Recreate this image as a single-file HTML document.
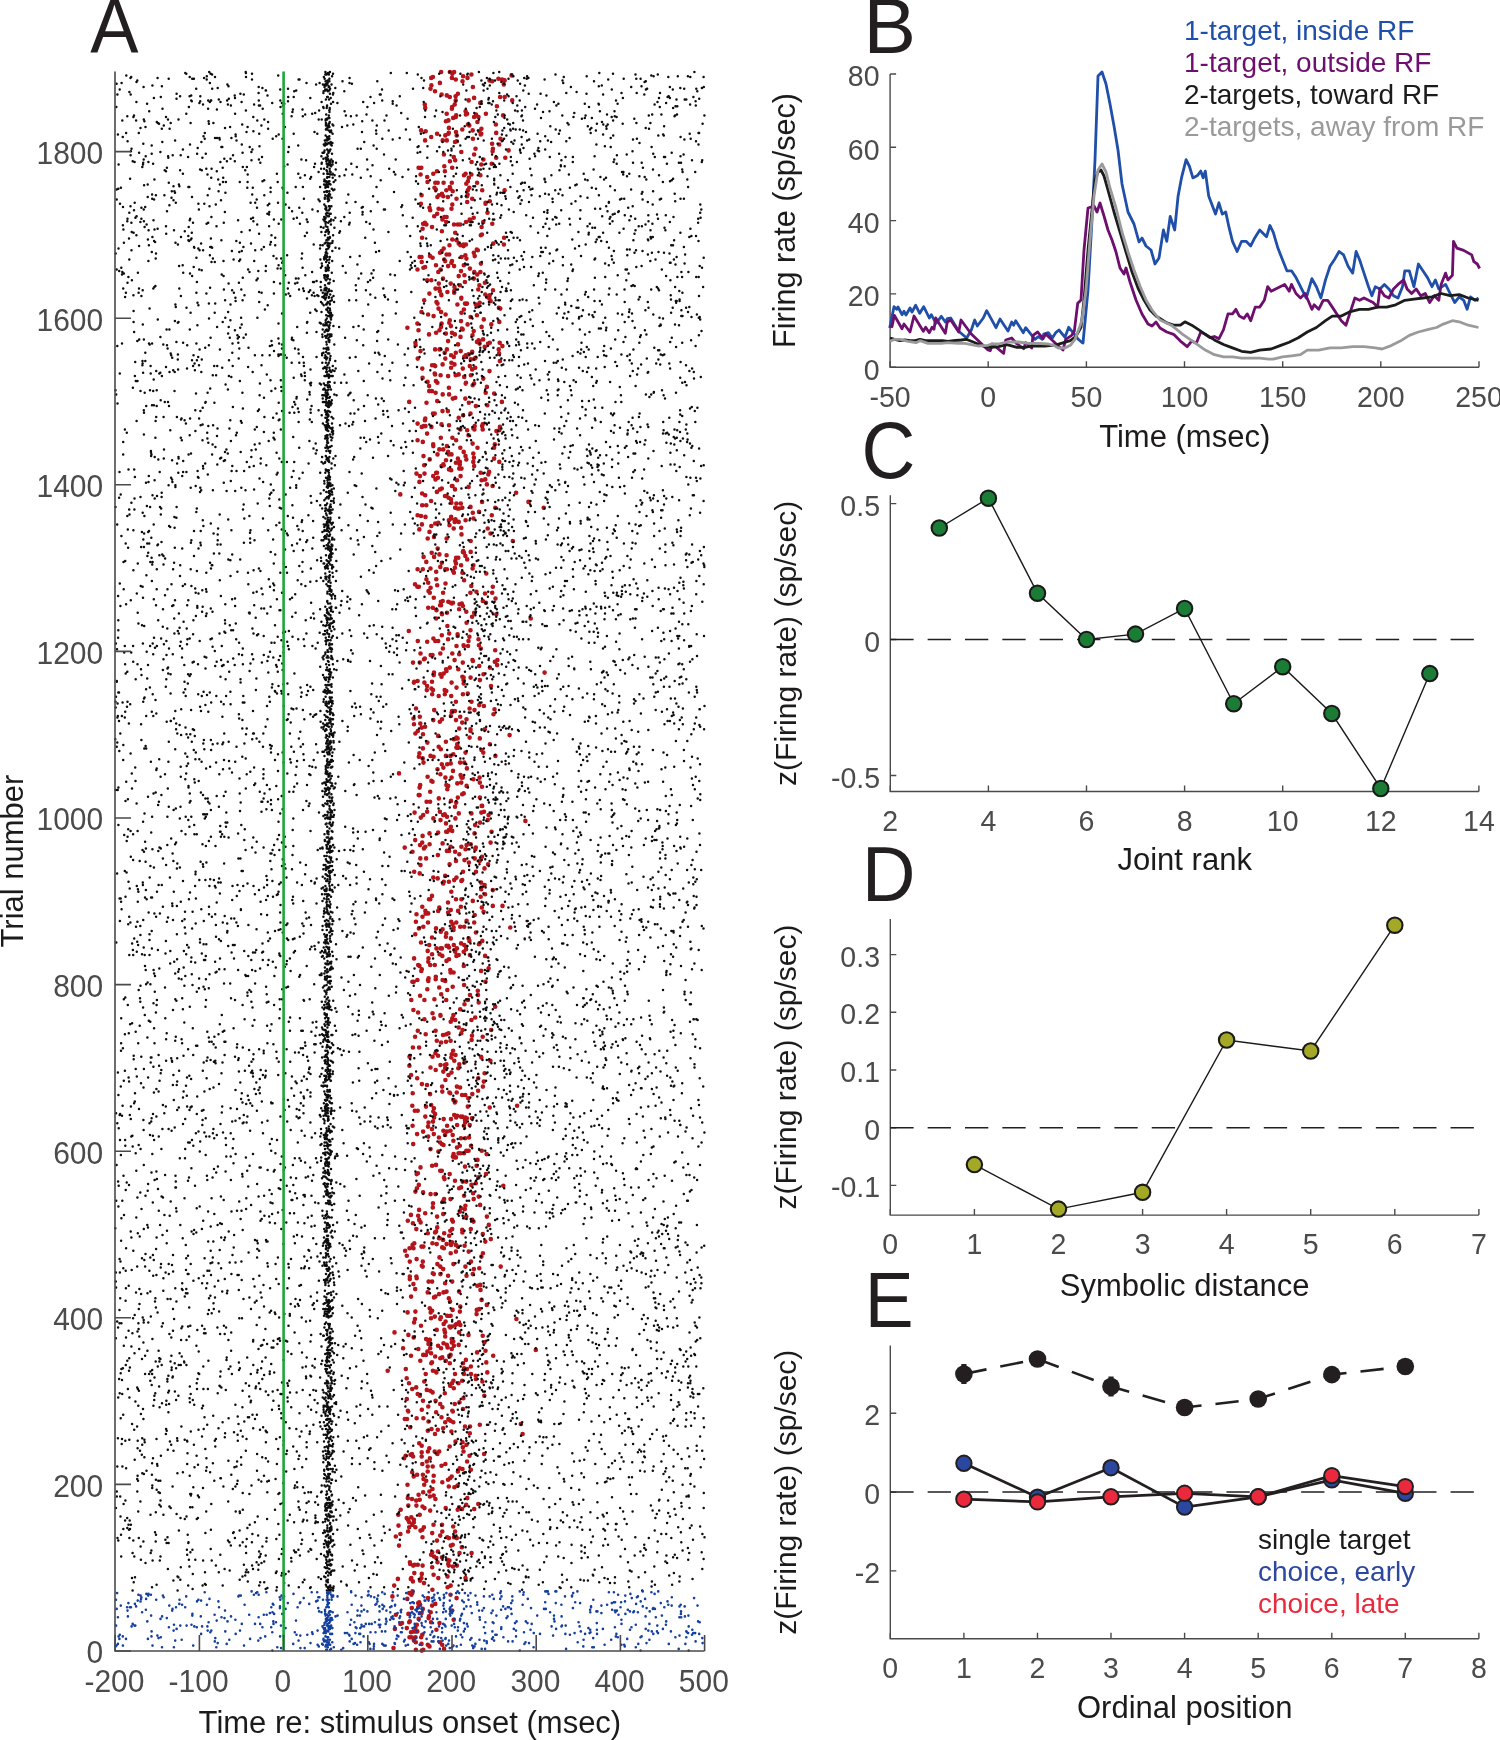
<!DOCTYPE html>
<html><head><meta charset="utf-8"><style>
html,body{margin:0;padding:0;background:#fff;width:1500px;height:1740px;overflow:hidden}
svg text{font-family:"Liberation Sans",sans-serif}
svg{will-change:transform}
</style></head><body>
<svg width="1500" height="1740" viewBox="0 0 1500 1740" style="position:absolute;left:0;top:0"><rect width="1500" height="1740" fill="#fff"/><path d="M421.8 1650.6h0M415.9 1649.8h0M423.3 1649.8h0M444.1 1648.9h0M393.5 1648.1h0M429.5 1646.4h0M442.2 1644.8h0M427.8 1644.8h0M421.5 1643.9h0M415.8 1642.3h0M440.0 1642.3h0M413.9 1640.6h0M409.5 1637.3h0M421.2 1637.3h0M415.5 1637.3h0M411.5 1637.3h0M422.3 1634.8h0M411.0 1632.3h0M417.3 1631.4h0M415.2 1631.4h0M413.6 1631.4h0M436.4 1629.8h0M394.9 1628.9h0M406.8 1628.1h0M415.4 1628.1h0M416.8 1624.8h0M400.4 1623.9h0M402.0 1623.1h0M439.5 1623.1h0M431.1 1622.3h0M409.2 1622.3h0M409.8 1621.4h0M453.7 1619.8h0M418.7 1618.9h0M428.6 1618.1h0M428.9 1616.4h0M395.9 1614.8h0M408.4 1613.9h0M421.5 1613.1h0M430.7 1612.3h0M452.0 1610.6h0M422.8 1608.9h0M411.8 1608.1h0M418.2 1607.3h0M432.1 1605.6h0M420.1 1604.8h0M435.3 1603.9h0M418.2 1603.1h0M419.2 1602.3h0M407.3 1598.9h0M456.6 1598.1h0M428.0 1598.1h0M392.4 1596.4h0M450.5 1594.8h0M411.4 1594.8h0M409.2 1593.1h0M412.3 1593.1h0M412.5 1591.4h0M432.4 1589.8h0M447.6 1587.3h0M450.7 1585.6h0M394.2 1585.6h0M424.0 1583.1h0M412.9 1581.4h0M420.0 1580.6h0M410.8 1578.9h0M397.9 1578.9h0M411.3 1578.1h0M421.4 1578.1h0M465.5 1578.1h0M438.3 1578.1h0M447.5 1576.4h0M433.6 1574.8h0M421.8 1573.9h0M414.3 1573.1h0M432.2 1567.3h0M452.9 1566.5h0M456.9 1565.6h0M413.2 1565.6h0M422.6 1565.6h0M448.7 1565.6h0M414.6 1564.8h0M417.8 1564.8h0M410.2 1564.0h0M448.2 1564.0h0M409.9 1562.3h0M437.5 1562.3h0M449.4 1560.6h0M447.4 1559.8h0M436.3 1558.1h0M442.0 1557.3h0M434.0 1556.5h0M431.1 1554.8h0M459.5 1553.1h0M471.6 1553.1h0M432.2 1552.3h0M437.9 1551.5h0M461.8 1547.3h0M399.0 1545.6h0M450.8 1545.6h0M452.7 1544.8h0M437.0 1540.6h0M448.9 1538.1h0M456.8 1538.1h0M422.5 1537.3h0M447.2 1537.3h0M454.0 1537.3h0M395.8 1536.5h0M440.2 1535.6h0M400.4 1534.0h0M432.2 1533.1h0M442.3 1531.5h0M455.1 1531.5h0M408.1 1531.5h0M420.5 1530.6h0M422.3 1529.8h0M423.9 1527.3h0M415.4 1527.3h0M409.2 1527.3h0M453.2 1526.5h0M398.5 1525.6h0M433.5 1524.8h0M442.0 1524.8h0M412.4 1524.8h0M413.9 1522.3h0M409.2 1522.3h0M413.9 1519.8h0M407.8 1519.8h0M406.7 1518.1h0M411.3 1517.3h0M398.3 1514.8h0M419.7 1514.8h0M430.2 1510.6h0M457.7 1509.8h0M400.7 1509.8h0M462.1 1509.0h0M474.2 1509.0h0M445.7 1508.1h0M424.5 1508.1h0M459.1 1507.3h0M422.5 1506.5h0M416.4 1505.6h0M408.3 1505.6h0M466.2 1504.8h0M478.3 1504.0h0M416.2 1500.6h0M419.7 1499.8h0M412.0 1499.0h0M435.4 1499.0h0M407.8 1498.1h0M467.3 1498.1h0M429.9 1496.5h0M433.7 1495.6h0M418.6 1494.8h0M423.2 1492.3h0M429.4 1491.5h0M432.5 1489.0h0M454.4 1487.3h0M448.8 1486.5h0M457.6 1485.6h0M407.5 1484.8h0M424.2 1484.8h0M442.3 1482.3h0M433.3 1481.5h0M426.2 1480.7h0M448.0 1479.8h0M423.5 1479.0h0M450.0 1478.2h0M413.7 1476.5h0M451.7 1476.5h0M433.7 1475.7h0M417.1 1474.8h0M422.9 1474.8h0M412.2 1472.3h0M457.9 1471.5h0M427.7 1471.5h0M470.9 1469.8h0M462.5 1469.0h0M459.7 1468.2h0M432.7 1466.5h0M427.7 1466.5h0M441.5 1465.7h0M422.3 1464.0h0M445.4 1464.0h0M426.8 1461.5h0M467.1 1461.5h0M429.9 1458.2h0M404.2 1458.2h0M421.7 1456.5h0M413.1 1456.5h0M405.6 1455.7h0M469.5 1455.7h0M410.5 1454.8h0M411.9 1454.0h0M484.1 1454.0h0M437.4 1454.0h0M421.7 1452.3h0M463.5 1451.5h0M427.9 1451.5h0M434.7 1451.5h0M439.2 1451.5h0M429.3 1448.2h0M462.8 1447.3h0M449.7 1446.5h0M421.7 1445.7h0M466.5 1444.8h0M419.2 1443.2h0M462.5 1442.3h0M455.5 1441.5h0M435.0 1434.0h0M522.6 1434.0h0M469.8 1433.2h0M451.4 1431.5h0M427.8 1430.7h0M437.8 1429.8h0M431.5 1429.0h0M443.2 1428.2h0M410.2 1427.3h0M470.0 1426.5h0M465.0 1426.5h0M479.8 1424.8h0M520.8 1424.0h0M445.2 1422.3h0M453.3 1422.3h0M428.5 1421.5h0M450.5 1420.7h0M449.1 1419.8h0M407.0 1419.0h0M448.4 1419.0h0M404.8 1419.0h0M423.4 1418.2h0M416.6 1418.2h0M441.5 1417.3h0M436.1 1412.3h0M408.2 1411.5h0M452.8 1411.5h0M452.3 1410.7h0M407.9 1410.7h0M421.8 1409.8h0M463.0 1409.0h0M442.4 1407.3h0M428.3 1406.5h0M440.2 1404.0h0M454.8 1404.0h0M459.5 1402.3h0M435.6 1400.7h0M423.0 1400.7h0M406.8 1399.0h0M463.4 1398.2h0M484.3 1395.7h0M419.9 1395.7h0M417.7 1394.0h0M444.8 1393.2h0M432.6 1392.4h0M430.3 1390.7h0M426.8 1389.9h0M412.2 1389.0h0M453.8 1388.2h0M416.2 1387.4h0M450.1 1385.7h0M409.0 1383.2h0M458.4 1383.2h0M452.0 1383.2h0M482.4 1381.5h0M424.3 1381.5h0M462.2 1380.7h0M453.4 1380.7h0M475.9 1379.0h0M406.7 1378.2h0M475.7 1375.7h0M425.7 1374.0h0M464.0 1374.0h0M471.0 1374.0h0M455.0 1374.0h0M436.4 1372.4h0M487.3 1372.4h0M436.1 1371.5h0M432.9 1370.7h0M387.7 1370.7h0M405.8 1369.0h0M467.0 1369.0h0M464.1 1368.2h0M470.9 1366.5h0M431.3 1363.2h0M449.8 1363.2h0M463.0 1363.2h0M486.3 1362.4h0M432.0 1362.4h0M445.8 1360.7h0M420.3 1360.7h0M465.9 1359.9h0M440.3 1358.2h0M442.3 1357.4h0M449.6 1356.5h0M435.2 1356.5h0M449.3 1355.7h0M411.0 1355.7h0M493.2 1355.7h0M423.2 1354.9h0M425.9 1354.9h0M450.6 1354.9h0M431.1 1353.2h0M477.1 1352.4h0M427.4 1351.5h0M485.5 1350.7h0M535.8 1349.9h0M451.8 1349.0h0M418.3 1349.0h0M441.1 1348.2h0M430.2 1348.2h0M403.1 1348.2h0M447.6 1347.4h0M453.9 1345.7h0M438.1 1345.7h0M458.7 1344.9h0M446.8 1344.9h0M430.1 1344.0h0M428.5 1344.0h0M443.5 1343.2h0M451.8 1342.4h0M484.4 1342.4h0M453.3 1341.5h0M428.3 1340.7h0M429.6 1339.9h0M429.9 1339.9h0M426.1 1339.0h0M451.7 1339.0h0M413.7 1337.4h0M445.2 1336.5h0M482.7 1335.7h0M468.5 1334.9h0M408.4 1334.9h0M394.5 1332.4h0M459.1 1332.4h0M445.0 1332.4h0M444.4 1329.9h0M436.7 1329.9h0M450.2 1327.4h0M449.5 1326.5h0M451.9 1326.5h0M421.0 1325.7h0M455.5 1324.9h0M460.3 1324.9h0M456.7 1324.0h0M443.7 1324.0h0M459.0 1322.4h0M414.1 1322.4h0M445.6 1321.5h0M440.3 1319.0h0M415.0 1319.0h0M516.4 1319.0h0M431.0 1318.2h0M440.9 1317.4h0M434.8 1316.6h0M450.6 1315.7h0M447.2 1315.7h0M476.6 1314.1h0M430.7 1312.4h0M407.6 1312.4h0M459.9 1311.6h0M415.4 1311.6h0M432.1 1310.7h0M476.8 1309.9h0M452.6 1309.9h0M479.2 1309.1h0M429.7 1308.2h0M460.3 1306.6h0M486.8 1304.9h0M450.0 1301.6h0M481.6 1299.9h0M448.8 1298.2h0M434.0 1297.4h0M435.4 1296.6h0M411.1 1296.6h0M439.1 1294.1h0M443.5 1292.4h0M427.7 1292.4h0M459.1 1291.6h0M446.5 1291.6h0M480.5 1289.9h0M415.2 1289.1h0M477.3 1285.7h0M480.2 1284.9h0M413.4 1284.1h0M445.1 1283.2h0M432.1 1281.6h0M452.2 1281.6h0M428.6 1281.6h0M409.8 1279.1h0M416.7 1278.2h0M409.8 1276.6h0M416.4 1276.6h0M448.1 1275.7h0M466.5 1275.7h0M440.4 1274.1h0M472.8 1274.1h0M433.8 1274.1h0M432.8 1273.2h0M443.2 1269.1h0M473.9 1269.1h0M479.3 1268.2h0M440.3 1266.6h0M500.7 1266.6h0M422.7 1266.6h0M465.4 1266.6h0M421.8 1265.7h0M453.4 1264.1h0M437.4 1264.1h0M422.8 1261.6h0M409.8 1261.6h0M471.0 1261.6h0M416.6 1259.1h0M439.5 1257.4h0M481.4 1256.6h0M406.8 1255.7h0M450.7 1253.2h0M482.9 1253.2h0M468.7 1251.6h0M455.9 1251.6h0M405.1 1250.7h0M409.5 1248.2h0M443.9 1248.2h0M413.5 1248.2h0M442.2 1247.4h0M423.4 1246.6h0M457.8 1246.6h0M421.5 1246.6h0M464.6 1245.7h0M451.0 1244.9h0M412.6 1244.9h0M455.9 1244.9h0M436.7 1244.1h0M446.6 1244.1h0M432.4 1243.2h0M414.3 1243.2h0M450.9 1242.4h0M452.0 1242.4h0M485.3 1241.6h0M443.1 1239.9h0M490.8 1239.1h0M439.0 1238.2h0M439.8 1238.2h0M449.2 1235.7h0M482.8 1234.1h0M427.8 1233.3h0M444.2 1233.3h0M462.4 1232.4h0M435.1 1232.4h0M436.1 1231.6h0M450.3 1230.8h0M462.2 1229.9h0M416.3 1229.1h0M452.2 1229.1h0M470.8 1229.1h0M437.2 1227.4h0M488.8 1224.9h0M412.9 1223.3h0M420.6 1222.4h0M452.9 1221.6h0M473.5 1221.6h0M407.8 1220.8h0M419.2 1219.9h0M452.0 1219.9h0M472.3 1219.9h0M465.3 1217.4h0M486.9 1216.6h0M437.1 1216.6h0M466.3 1216.6h0M418.2 1215.8h0M410.9 1214.9h0M443.2 1214.1h0M425.2 1213.3h0M460.0 1211.6h0M419.1 1209.9h0M464.8 1209.1h0M461.1 1208.3h0M432.8 1207.4h0M465.4 1205.8h0M480.1 1204.9h0M433.0 1203.3h0M442.8 1201.6h0M444.1 1199.1h0M450.5 1199.1h0M473.7 1199.1h0M478.7 1196.6h0M464.1 1195.8h0M435.5 1194.1h0M430.6 1194.1h0M473.1 1193.3h0M423.1 1192.4h0M415.4 1191.6h0M459.1 1188.3h0M416.9 1188.3h0M461.1 1187.4h0M503.3 1185.8h0M471.5 1184.9h0M418.8 1184.9h0M475.8 1183.3h0M462.7 1181.6h0M466.2 1181.6h0M455.0 1180.8h0M444.5 1179.1h0M443.9 1177.4h0M478.4 1177.4h0M416.7 1174.1h0M449.7 1174.1h0M486.0 1174.1h0M417.9 1173.3h0M440.2 1170.8h0M441.8 1170.8h0M420.5 1167.4h0M465.0 1166.6h0M476.6 1165.8h0M432.1 1165.8h0M436.0 1164.9h0M477.5 1159.9h0M454.9 1157.4h0M455.9 1157.4h0M452.9 1156.6h0M453.6 1154.1h0M486.6 1154.1h0M460.5 1153.3h0M458.5 1153.3h0M464.0 1153.3h0M438.4 1151.6h0M466.3 1150.8h0M468.6 1150.8h0M481.8 1150.8h0M430.5 1149.1h0M457.0 1147.5h0M471.0 1145.8h0M459.8 1145.8h0M443.5 1145.0h0M441.9 1144.1h0M413.2 1144.1h0M440.1 1142.5h0M453.4 1140.8h0M465.1 1138.3h0M460.9 1138.3h0M469.0 1137.5h0M438.9 1137.5h0M428.2 1136.6h0M445.0 1135.0h0M452.7 1135.0h0M417.1 1134.1h0M433.8 1134.1h0M423.1 1131.6h0M446.8 1131.6h0M443.4 1130.8h0M450.5 1130.8h0M432.0 1129.1h0M428.0 1126.6h0M447.1 1125.8h0M463.9 1125.8h0M412.6 1125.8h0M469.7 1125.0h0M457.1 1125.0h0M465.1 1122.5h0M428.5 1122.5h0M433.0 1121.6h0M465.0 1120.0h0M443.7 1119.1h0M451.0 1119.1h0M471.9 1118.3h0M466.8 1118.3h0M434.1 1117.5h0M465.2 1117.5h0M456.2 1117.5h0M460.8 1116.6h0M462.2 1116.6h0M425.3 1116.6h0M457.1 1115.8h0M454.2 1115.0h0M435.1 1114.1h0M433.3 1111.6h0M417.7 1110.8h0M414.8 1110.8h0M433.9 1108.3h0M489.7 1107.5h0M467.8 1106.6h0M426.0 1106.6h0M517.1 1105.8h0M412.3 1105.8h0M431.2 1105.0h0M454.8 1102.5h0M455.4 1101.6h0M453.5 1100.0h0M468.3 1098.3h0M465.3 1095.0h0M462.1 1095.0h0M472.3 1094.1h0M430.1 1094.1h0M412.7 1093.3h0M450.2 1093.3h0M456.7 1092.5h0M449.4 1092.5h0M442.3 1091.6h0M478.1 1090.8h0M460.1 1087.5h0M442.1 1086.6h0M456.9 1086.6h0M482.9 1086.6h0M427.0 1085.0h0M421.9 1084.1h0M483.8 1081.6h0M445.4 1080.0h0M478.2 1078.3h0M417.2 1078.3h0M448.4 1075.0h0M411.1 1075.0h0M484.6 1073.3h0M451.5 1072.5h0M443.3 1071.6h0M435.7 1070.0h0M458.3 1068.3h0M445.2 1068.3h0M430.5 1067.5h0M409.4 1065.8h0M445.0 1065.0h0M440.5 1065.0h0M459.3 1064.2h0M446.4 1064.2h0M464.5 1062.5h0M454.3 1060.8h0M490.4 1060.8h0M451.3 1057.5h0M481.4 1057.5h0M481.1 1056.7h0M409.5 1056.7h0M432.5 1056.7h0M438.1 1055.8h0M455.5 1055.0h0M451.7 1054.2h0M435.4 1053.3h0M453.1 1050.8h0M412.9 1047.5h0M419.1 1047.5h0M441.1 1042.5h0M446.0 1041.7h0M450.6 1040.8h0M436.8 1040.8h0M471.6 1040.0h0M482.7 1036.7h0M415.1 1036.7h0M472.0 1035.8h0M443.0 1035.0h0M425.7 1034.2h0M446.4 1034.2h0M448.5 1033.3h0M461.3 1033.3h0M417.8 1030.8h0M435.6 1030.8h0M462.6 1030.0h0M491.2 1030.0h0M458.7 1027.5h0M450.7 1021.7h0M455.3 1020.0h0M471.4 1020.0h0M452.3 1019.2h0M424.4 1019.2h0M452.3 1018.3h0M433.8 1018.3h0M475.2 1017.5h0M440.5 1015.8h0M453.4 1015.0h0M440.4 1015.0h0M432.5 1013.3h0M418.1 1012.5h0M413.4 1010.0h0M460.2 1009.2h0M495.2 1006.7h0M464.5 1004.2h0M478.7 1002.5h0M411.3 1000.0h0M424.4 1000.0h0M467.9 1000.0h0M446.2 1000.0h0M434.4 999.2h0M420.1 995.8h0M478.0 995.0h0M470.0 995.0h0M441.2 994.2h0M477.8 990.8h0M447.3 990.0h0M427.3 989.2h0M439.2 987.5h0M452.7 986.7h0M464.1 985.0h0M485.5 981.7h0M413.7 981.7h0M412.4 981.7h0M428.3 980.9h0M445.2 980.9h0M428.0 980.0h0M417.4 980.0h0M442.6 980.0h0M435.7 979.2h0M428.6 978.4h0M435.8 976.7h0M450.6 972.5h0M453.6 972.5h0M481.1 970.9h0M421.3 970.9h0M450.3 970.0h0M421.8 969.2h0M488.6 968.4h0M419.4 965.9h0M463.8 965.9h0M430.2 965.0h0M418.2 965.0h0M434.8 965.0h0M428.3 961.7h0M446.5 960.9h0M449.0 959.2h0M428.5 958.4h0M414.1 958.4h0M456.4 955.9h0M485.1 955.9h0M442.3 955.9h0M458.7 955.0h0M469.9 955.0h0M439.6 954.2h0M432.1 954.2h0M455.2 951.7h0M463.7 951.7h0M427.7 950.9h0M454.5 950.0h0M466.1 949.2h0M456.9 948.4h0M436.5 948.4h0M440.7 948.4h0M441.9 948.4h0M449.0 947.5h0M465.9 946.7h0M448.1 945.9h0M446.6 945.9h0M464.2 945.0h0M453.8 945.0h0M429.2 945.0h0M478.9 944.2h0M479.6 943.4h0M461.1 943.4h0M421.0 942.5h0M482.3 940.9h0M469.4 940.9h0M450.9 938.4h0M468.6 938.4h0M432.0 937.5h0M445.9 936.7h0M415.3 934.2h0M446.3 933.4h0M475.9 932.5h0M440.8 931.7h0M453.5 930.0h0M442.6 929.2h0M436.0 928.4h0M418.9 928.4h0M453.6 927.5h0M510.3 927.5h0M464.2 926.7h0M423.3 926.7h0M460.2 926.7h0M452.6 924.2h0M428.0 922.5h0M474.2 922.5h0M456.3 922.5h0M451.2 921.7h0M415.9 921.7h0M466.6 920.9h0M422.5 916.7h0M474.7 915.0h0M416.5 914.2h0M428.2 913.4h0M425.7 913.4h0M448.1 912.5h0M483.6 911.7h0M438.2 910.9h0M458.1 910.9h0M425.4 910.9h0M450.8 910.0h0M439.3 907.5h0M481.8 907.5h0M422.3 906.7h0M460.9 906.7h0M492.8 905.9h0M502.5 905.9h0M448.0 902.5h0M472.8 900.9h0M456.0 899.2h0M461.4 899.2h0M429.0 899.2h0M430.3 899.2h0M480.7 896.7h0M432.0 895.9h0M485.1 894.2h0M451.3 891.7h0M492.8 890.1h0M481.2 889.2h0M484.6 885.1h0M443.2 883.4h0M481.1 882.6h0M448.9 881.7h0M443.8 881.7h0M461.4 880.9h0M454.2 880.1h0M462.2 880.1h0M437.7 878.4h0M456.5 877.6h0M433.3 877.6h0M445.2 875.9h0M419.7 873.4h0M414.2 871.7h0M463.0 871.7h0M476.0 871.7h0M484.5 868.4h0M420.5 865.1h0M488.1 864.2h0M449.6 864.2h0M468.9 862.6h0M479.6 860.9h0M456.0 860.9h0M464.5 860.1h0M420.3 858.4h0M426.1 858.4h0M474.7 858.4h0M482.0 856.7h0M437.9 855.1h0M459.3 854.2h0M412.5 851.7h0M455.1 851.7h0M449.1 850.9h0M446.9 850.9h0M475.3 849.2h0M465.5 849.2h0M423.9 848.4h0M404.7 847.6h0M475.8 847.6h0M450.7 846.7h0M461.4 846.7h0M425.3 846.7h0M420.0 845.1h0M466.6 845.1h0M429.6 844.2h0M470.7 844.2h0M442.6 843.4h0M422.2 842.6h0M490.6 842.6h0M415.2 840.1h0M422.6 835.9h0M429.5 833.4h0M474.5 833.4h0M438.1 832.6h0M447.4 831.7h0M446.2 831.7h0M491.6 831.7h0M452.2 830.9h0M448.9 830.1h0M450.9 826.7h0M475.1 825.1h0M446.0 823.4h0M480.0 822.6h0M525.4 820.9h0M487.7 820.1h0M440.5 820.1h0M455.4 818.4h0M433.4 818.4h0M420.8 817.6h0M447.0 816.8h0M488.6 815.1h0M443.2 815.1h0M423.2 815.1h0M444.7 814.3h0M458.8 813.4h0M471.4 813.4h0M481.3 812.6h0M414.6 812.6h0M427.1 811.8h0M484.0 811.8h0M439.9 811.8h0M455.0 806.8h0M481.7 805.9h0M482.2 805.9h0M456.2 802.6h0M426.6 801.8h0M430.1 801.8h0M451.0 800.9h0M438.8 798.4h0M479.9 797.6h0M457.8 797.6h0M419.6 795.1h0M418.7 795.1h0M462.2 794.3h0M463.7 793.4h0M430.2 791.8h0M447.3 789.3h0M419.6 787.6h0M482.0 786.8h0M466.6 785.9h0M448.2 785.9h0M446.4 785.1h0M420.2 785.1h0M457.3 783.4h0M479.8 782.6h0M461.3 782.6h0M432.5 781.8h0M431.4 780.9h0M473.4 779.3h0M451.6 777.6h0M445.4 777.6h0M461.5 777.6h0M479.6 777.6h0M462.7 777.6h0M427.6 776.8h0M460.6 775.1h0M440.4 774.3h0M399.0 773.4h0M453.0 770.9h0M437.5 769.3h0M466.9 768.4h0M443.4 767.6h0M441.8 764.3h0M447.2 764.3h0M450.7 763.4h0M423.5 762.6h0M460.1 762.6h0M464.3 762.6h0M422.7 758.4h0M418.9 756.8h0M433.6 756.8h0M430.5 755.9h0M445.9 755.9h0M495.4 755.9h0M450.4 755.9h0M453.3 754.3h0M419.4 753.4h0M483.3 752.6h0M465.5 752.6h0M481.5 750.1h0M440.8 749.3h0M422.9 748.4h0M458.6 747.6h0M456.4 747.6h0M438.7 746.8h0M457.2 744.3h0M489.9 744.3h0M427.4 742.6h0M445.9 741.8h0M453.9 739.3h0M479.8 738.4h0M457.6 738.4h0M456.4 737.6h0M469.6 737.6h0M438.2 735.9h0M509.6 735.1h0M423.0 734.3h0M415.4 733.5h0M470.5 731.0h0M417.8 731.0h0M484.8 729.3h0M470.5 729.3h0M459.2 728.5h0M421.7 727.6h0M425.1 726.8h0M414.0 724.3h0M420.3 723.5h0M462.2 722.6h0M439.8 721.8h0M433.3 720.1h0M456.0 720.1h0M442.0 719.3h0M466.5 719.3h0M413.5 718.5h0M460.2 716.8h0M419.8 716.8h0M450.9 716.0h0M493.5 714.3h0M451.7 712.6h0M452.1 711.0h0M454.9 711.0h0M434.2 710.1h0M474.5 710.1h0M494.5 709.3h0M416.0 708.5h0M469.6 708.5h0M483.9 706.0h0M479.2 705.1h0M455.9 701.8h0M471.5 701.8h0M438.7 696.0h0M451.2 696.0h0M462.9 694.3h0M432.2 694.3h0M444.8 694.3h0M467.8 693.5h0M446.3 691.0h0M444.7 690.1h0M433.0 690.1h0M426.8 690.1h0M431.4 688.5h0M456.5 687.6h0M491.0 686.0h0M427.1 686.0h0M463.7 683.5h0M413.9 682.6h0M424.4 682.6h0M451.6 682.6h0M432.0 681.8h0M414.2 681.8h0M417.6 681.0h0M463.5 680.1h0M479.9 680.1h0M470.6 677.6h0M463.6 677.6h0M462.4 676.8h0M441.5 676.8h0M433.8 675.1h0M483.5 674.3h0M440.3 674.3h0M443.7 673.5h0M544.6 672.6h0M434.0 672.6h0M446.5 671.0h0M458.3 669.3h0M446.1 669.3h0M449.8 667.6h0M489.9 667.6h0M479.2 666.0h0M497.1 665.1h0M462.8 662.6h0M419.8 662.6h0M413.0 662.6h0M494.8 661.8h0M472.9 661.0h0M497.4 660.1h0M454.6 660.1h0M472.5 660.1h0M424.0 659.3h0M424.8 658.5h0M430.7 655.1h0M432.5 655.1h0M459.2 654.3h0M440.3 653.5h0M420.5 653.5h0M452.3 653.5h0M495.2 650.2h0M480.8 648.5h0M442.9 648.5h0M463.8 646.0h0M456.5 646.0h0M468.0 646.0h0M478.9 645.2h0M463.6 645.2h0M427.2 641.8h0M468.5 641.0h0M417.8 641.0h0M438.2 641.0h0M435.3 641.0h0M478.5 639.3h0M448.1 639.3h0M433.4 638.5h0M469.4 636.8h0M457.7 636.0h0M441.8 635.2h0M457.6 634.3h0M449.2 633.5h0M408.8 631.0h0M470.5 630.2h0M447.4 626.0h0M466.6 622.7h0M530.7 618.5h0M436.1 618.5h0M472.1 616.8h0M442.0 614.3h0M496.3 614.3h0M441.8 613.5h0M447.0 612.7h0M474.2 612.7h0M466.3 611.8h0M436.5 610.2h0M459.1 609.3h0M428.2 607.7h0M432.8 607.7h0M462.9 606.0h0M441.1 605.2h0M440.1 605.2h0M459.5 604.3h0M451.9 603.5h0M461.8 603.5h0M450.6 602.7h0M453.0 602.7h0M485.9 602.7h0M448.3 601.8h0M440.9 601.8h0M482.8 601.0h0M442.7 601.0h0M495.5 598.5h0M433.8 597.7h0M485.0 593.5h0M492.2 592.7h0M443.1 592.7h0M470.4 592.7h0M429.8 592.7h0M476.4 591.8h0M428.5 591.0h0M430.6 587.7h0M417.4 586.8h0M418.9 586.8h0M492.8 586.8h0M471.3 586.0h0M437.2 585.2h0M415.0 584.3h0M445.5 583.5h0M428.2 582.7h0M464.1 580.2h0M436.3 579.3h0M426.4 579.3h0M486.3 573.5h0M453.9 572.7h0M462.4 572.7h0M436.2 571.8h0M453.1 571.0h0M422.8 569.3h0M446.9 569.3h0M445.3 569.3h0M417.6 569.3h0M430.5 568.5h0M472.6 568.5h0M454.9 567.7h0M440.3 566.9h0M461.1 565.2h0M473.4 565.2h0M456.0 563.5h0M441.8 562.7h0M426.3 561.9h0M455.3 561.0h0M467.2 559.4h0M456.1 557.7h0M458.3 557.7h0M434.1 556.9h0M423.6 556.9h0M465.4 556.0h0M446.6 555.2h0M439.4 554.4h0M464.0 552.7h0M431.7 552.7h0M462.9 551.9h0M470.7 551.9h0M463.2 551.0h0M437.7 548.5h0M512.8 541.0h0M470.7 541.0h0M427.7 538.5h0M446.6 538.5h0M434.0 536.9h0M461.5 534.4h0M490.5 533.5h0M429.5 531.9h0M419.3 529.4h0M453.7 528.5h0M487.7 528.5h0M461.2 527.7h0M431.3 526.0h0M449.5 525.2h0M421.9 524.4h0M435.2 523.5h0M438.3 522.7h0M458.7 521.9h0M454.7 521.9h0M465.6 520.2h0M448.9 520.2h0M455.5 519.4h0M451.2 518.5h0M473.5 518.5h0M425.5 516.9h0M451.1 516.9h0M421.0 516.0h0M417.6 515.2h0M491.8 515.2h0M472.8 512.7h0M479.0 511.9h0M457.4 508.5h0M459.0 508.5h0M455.1 507.7h0M543.7 507.7h0M462.3 507.7h0M495.3 507.7h0M470.5 506.9h0M422.2 505.2h0M426.3 505.2h0M460.8 503.5h0M456.4 503.5h0M451.4 502.7h0M528.5 501.9h0M482.1 501.9h0M431.1 501.0h0M451.0 499.4h0M448.6 497.7h0M446.5 496.0h0M445.0 496.0h0M425.2 495.2h0M400.3 494.4h0M422.1 493.5h0M516.1 492.7h0M436.9 491.9h0M440.0 489.4h0M455.0 489.4h0M441.8 488.5h0M468.6 486.9h0M492.6 486.0h0M452.5 486.0h0M451.9 486.0h0M486.9 484.4h0M419.4 481.9h0M481.6 480.2h0M457.0 480.2h0M435.5 479.4h0M485.3 479.4h0M437.9 477.7h0M433.2 476.1h0M420.0 476.1h0M460.6 476.1h0M488.3 474.4h0M416.5 473.6h0M424.5 473.6h0M436.2 472.7h0M437.0 472.7h0M480.7 472.7h0M489.1 471.9h0M451.2 470.2h0M449.0 469.4h0M459.2 468.6h0M461.5 468.6h0M441.6 466.1h0M474.1 466.1h0M424.2 465.2h0M443.7 465.2h0M459.8 464.4h0M443.3 464.4h0M455.9 462.7h0M499.3 461.9h0M473.3 461.9h0M459.9 461.9h0M446.0 460.2h0M466.3 459.4h0M429.7 459.4h0M494.1 458.6h0M457.9 458.6h0M473.9 457.7h0M423.5 456.1h0M465.5 456.1h0M437.5 454.4h0M448.9 454.4h0M451.5 454.4h0M473.3 453.6h0M463.7 451.9h0M448.1 451.9h0M439.3 449.4h0M443.3 449.4h0M477.5 447.7h0M494.1 447.7h0M460.3 447.7h0M433.3 446.1h0M446.9 446.1h0M494.8 444.4h0M433.2 444.4h0M472.6 443.6h0M422.8 441.9h0M417.6 440.2h0M456.1 440.2h0M452.4 437.7h0M440.8 437.7h0M468.5 435.2h0M427.1 433.6h0M496.4 431.1h0M467.2 430.2h0M499.3 430.2h0M482.7 429.4h0M460.3 429.4h0M474.4 429.4h0M473.4 428.6h0M431.4 426.9h0M421.8 426.9h0M499.9 426.9h0M482.1 426.1h0M474.7 426.1h0M423.6 426.1h0M425.5 426.1h0M449.0 425.2h0M482.7 424.4h0M441.5 424.4h0M417.6 423.6h0M424.9 420.2h0M425.3 418.6h0M458.7 417.7h0M463.1 415.2h0M433.0 413.6h0M470.5 413.6h0M434.7 413.6h0M442.5 411.1h0M447.9 411.1h0M475.9 406.1h0M487.3 405.2h0M426.5 402.7h0M468.9 402.7h0M501.9 401.9h0M409.2 401.9h0M437.2 401.1h0M452.8 398.6h0M465.3 398.6h0M455.3 397.8h0M442.7 394.4h0M449.1 394.4h0M494.2 393.6h0M435.6 392.8h0M485.7 392.8h0M429.2 391.1h0M431.9 391.1h0M448.9 387.8h0M486.9 386.9h0M429.1 386.1h0M472.7 385.3h0M465.7 383.6h0M474.1 383.6h0M466.0 382.8h0M437.4 382.8h0M427.6 381.9h0M435.9 381.1h0M483.3 378.6h0M422.6 377.8h0M464.2 376.9h0M448.1 376.1h0M470.9 375.3h0M455.7 375.3h0M440.6 375.3h0M458.7 374.4h0M435.1 374.4h0M434.7 373.6h0M489.5 371.1h0M472.2 369.4h0M422.3 368.6h0M462.8 368.6h0M451.1 367.8h0M475.2 367.8h0M435.2 366.1h0M469.8 366.1h0M434.3 365.3h0M432.1 365.3h0M442.6 364.4h0M454.5 364.4h0M451.4 362.8h0M499.9 361.1h0M470.8 359.4h0M474.6 358.6h0M417.7 358.6h0M445.3 358.6h0M475.5 357.8h0M453.8 356.9h0M464.3 356.9h0M451.1 355.3h0M465.7 355.3h0M468.6 354.4h0M499.1 353.6h0M444.7 352.8h0M455.8 352.8h0M472.2 351.9h0M420.5 351.1h0M460.7 351.1h0M498.7 349.4h0M435.1 349.4h0M446.9 349.4h0M439.6 349.4h0M484.7 346.9h0M502.4 346.1h0M415.6 345.3h0M458.0 344.4h0M488.1 343.6h0M479.6 343.6h0M489.8 342.8h0M415.4 342.8h0M499.7 342.8h0M477.0 341.9h0M448.1 341.1h0M479.2 341.1h0M478.6 340.3h0M483.1 339.4h0M460.5 336.9h0M472.5 335.3h0M429.0 334.4h0M454.9 334.4h0M445.9 333.6h0M436.1 332.8h0M452.0 332.8h0M473.7 331.1h0M439.5 330.3h0M418.5 330.3h0M462.7 329.4h0M461.9 328.6h0M407.4 327.8h0M441.0 326.9h0M481.6 326.9h0M450.9 326.1h0M467.6 324.4h0M491.3 324.4h0M417.4 323.6h0M441.6 323.6h0M449.3 322.8h0M499.3 321.9h0M461.0 321.1h0M449.8 320.3h0M483.8 319.4h0M470.6 317.0h0M433.6 316.1h0M476.9 315.3h0M428.1 314.5h0M445.6 314.5h0M461.4 312.8h0M441.1 312.0h0M421.5 312.0h0M463.9 309.5h0M500.3 308.6h0M438.5 308.6h0M498.9 307.8h0M477.7 306.1h0M457.4 304.5h0M475.8 304.5h0M465.0 303.6h0M437.5 303.6h0M467.0 303.6h0M479.7 302.8h0M436.5 302.0h0M490.6 301.1h0M424.2 300.3h0M489.4 298.6h0M461.3 298.6h0M461.3 297.8h0M487.3 297.0h0M441.4 295.3h0M489.7 295.3h0M441.2 294.5h0M485.3 294.5h0M429.4 293.6h0M454.2 292.8h0M447.4 292.0h0M439.8 291.1h0M454.2 291.1h0M493.0 290.3h0M478.3 289.5h0M439.2 288.6h0M435.5 288.6h0M454.5 287.0h0M459.9 285.3h0M479.4 285.3h0M438.8 283.6h0M450.7 283.6h0M484.9 282.8h0M464.9 282.0h0M427.1 280.3h0M431.3 280.3h0M443.0 278.6h0M473.8 278.6h0M458.7 276.1h0M464.4 275.3h0M477.3 274.5h0M438.3 272.0h0M474.3 272.0h0M480.4 272.0h0M461.0 271.1h0M440.6 269.5h0M417.5 269.5h0M469.9 268.6h0M423.4 267.8h0M425.1 267.0h0M448.1 266.1h0M454.1 266.1h0M463.8 265.3h0M436.0 265.3h0M480.9 263.6h0M451.4 262.8h0M421.7 262.0h0M445.1 261.1h0M452.0 261.1h0M444.2 259.5h0M466.4 258.6h0M432.6 257.8h0M461.5 257.0h0M421.5 257.0h0M419.6 257.0h0M474.7 256.1h0M430.0 256.1h0M465.4 255.3h0M446.6 254.5h0M449.2 254.5h0M440.0 252.8h0M473.8 252.8h0M441.6 251.1h0M477.8 250.3h0M476.8 249.5h0M443.7 248.6h0M463.5 246.1h0M449.5 245.3h0M460.4 245.3h0M465.9 244.5h0M503.9 244.5h0M463.5 244.5h0M493.2 243.6h0M458.7 243.6h0M456.6 240.3h0M452.3 239.5h0M504.1 237.8h0M422.1 237.8h0M480.8 235.3h0M481.9 234.5h0M455.2 232.8h0M441.9 231.2h0M422.6 228.7h0M481.6 227.0h0M432.0 227.0h0M454.0 224.5h0M457.8 224.5h0M460.1 224.5h0M426.4 224.5h0M492.3 223.7h0M423.1 223.7h0M424.9 222.8h0M446.2 222.0h0M466.0 222.0h0M483.2 222.0h0M470.4 221.2h0M469.7 219.5h0M442.4 219.5h0M473.7 217.8h0M446.6 217.0h0M444.4 217.0h0M434.2 216.2h0M437.2 213.7h0M487.5 212.8h0M430.2 210.3h0M442.3 209.5h0M451.5 208.7h0M438.6 208.7h0M429.5 207.8h0M452.3 204.5h0M485.5 203.7h0M420.9 203.7h0M485.6 202.8h0M467.2 202.0h0M489.8 201.2h0M472.2 198.7h0M456.5 198.7h0M437.4 197.0h0M447.9 197.0h0M467.1 196.2h0M443.3 196.2h0M421.6 195.3h0M438.9 195.3h0M467.6 194.5h0M441.9 193.7h0M452.7 191.2h0M467.8 190.3h0M504.6 190.3h0M482.2 190.3h0M446.3 190.3h0M435.9 189.5h0M450.3 188.7h0M469.3 187.8h0M434.5 187.8h0M449.8 187.0h0M466.3 183.7h0M451.8 182.8h0M443.6 182.8h0M437.7 182.8h0M477.1 182.8h0M435.3 182.8h0M427.5 182.0h0M467.9 181.2h0M468.8 177.8h0M427.2 177.0h0M464.0 175.3h0M480.4 175.3h0M471.4 174.5h0M420.6 174.5h0M433.3 173.7h0M465.6 173.7h0M437.0 171.2h0M444.9 171.2h0M418.6 167.8h0M452.2 167.8h0M421.3 167.8h0M444.3 166.2h0M481.3 164.5h0M491.7 163.7h0M471.6 162.0h0M449.9 161.2h0M455.2 160.3h0M483.4 159.5h0M496.2 157.8h0M505.3 157.8h0M453.8 157.0h0M474.1 154.5h0M443.9 154.5h0M461.3 152.0h0M492.6 151.2h0M508.6 150.4h0M475.5 148.7h0M492.9 148.7h0M499.2 144.5h0M492.1 143.7h0M455.0 142.0h0M456.7 141.2h0M442.7 140.4h0M446.8 140.4h0M425.1 140.4h0M500.5 138.7h0M472.9 138.7h0M431.2 137.0h0M456.7 135.4h0M445.3 135.4h0M480.7 134.5h0M481.3 133.7h0M448.4 133.7h0M437.1 133.7h0M496.2 132.9h0M448.8 132.9h0M456.0 132.0h0M479.4 131.2h0M425.7 131.2h0M421.1 130.4h0M472.7 130.4h0M462.3 129.5h0M481.4 128.7h0M448.9 127.9h0M469.3 125.4h0M495.9 124.5h0M467.9 124.5h0M477.4 122.0h0M445.9 121.2h0M448.4 120.4h0M453.2 117.9h0M474.1 117.0h0M478.5 117.0h0M455.8 117.0h0M456.2 115.4h0M503.1 115.4h0M476.0 114.5h0M465.9 114.5h0M467.1 113.7h0M485.9 113.7h0M446.7 113.7h0M465.6 111.2h0M451.9 108.7h0M425.2 107.9h0M452.1 107.0h0M496.9 106.2h0M454.7 104.5h0M424.8 104.5h0M480.3 102.9h0M468.7 100.4h0M455.7 100.4h0M512.2 100.4h0M474.1 97.9h0M449.8 97.0h0M500.1 97.0h0M504.7 97.0h0M455.6 96.2h0M446.8 95.4h0M441.6 94.5h0M457.9 93.7h0M435.0 91.2h0M430.5 88.7h0M472.9 87.0h0M431.4 85.4h0M503.8 84.5h0M439.9 82.9h0M462.5 81.2h0M492.2 81.2h0M489.5 80.4h0M504.6 80.4h0M502.1 79.5h0M455.8 79.5h0M498.4 78.7h0M467.5 77.9h0M451.9 77.9h0M431.2 77.9h0M432.9 77.0h0M463.1 76.2h0M511.6 75.4h0M471.4 74.5h0M452.4 73.7h0M454.1 72.0h0M449.9 72.0h0M441.1 72.0h0" stroke="#b4141a" stroke-width="4.6" stroke-linecap="round" fill="none"/><path d="M132.6 1590.6h0M177.6 1590.6h0M276.4 1590.6h0M326.9 1590.6h0M328.4 1590.6h0M330.6 1590.6h0M333.1 1590.6h0M642.2 1590.6h0M329.5 1589.8h0M330.9 1589.8h0M462.3 1589.8h0M522.1 1589.8h0M192.6 1588.9h0M265.7 1588.9h0M397.8 1588.9h0M484.2 1588.9h0M267.4 1588.1h0M310.1 1588.1h0M328.1 1588.1h0M332.8 1588.1h0M333.4 1588.1h0M560.6 1588.1h0M152.0 1587.3h0M276.9 1587.3h0M298.8 1587.3h0M310.7 1587.3h0M328.6 1587.3h0M330.6 1587.3h0M370.5 1587.3h0M384.1 1587.3h0M408.3 1587.3h0M559.6 1587.3h0M571.2 1587.3h0M629.2 1587.3h0M326.6 1586.4h0M329.2 1586.4h0M333.6 1586.4h0M651.6 1586.4h0M188.2 1585.6h0M202.6 1585.6h0M222.7 1585.6h0M259.2 1585.6h0M288.7 1585.6h0M330.2 1585.6h0M346.8 1585.6h0M428.6 1585.6h0M458.6 1585.6h0M156.6 1584.8h0M205.8 1584.8h0M325.9 1584.8h0M346.5 1584.8h0M538.7 1584.8h0M654.9 1584.8h0M672.1 1584.8h0M204.9 1583.9h0M462.7 1583.9h0M510.5 1583.9h0M284.2 1583.1h0M445.3 1583.1h0M508.2 1583.1h0M610.0 1583.1h0M614.7 1583.1h0M133.7 1582.3h0M260.2 1582.3h0M264.2 1582.3h0M302.8 1582.3h0M327.9 1582.3h0M359.0 1582.3h0M523.5 1582.3h0M542.9 1582.3h0M562.5 1582.3h0M599.2 1582.3h0M247.8 1581.4h0M326.5 1581.4h0M341.1 1581.4h0M452.9 1581.4h0M485.8 1581.4h0M628.3 1581.4h0M651.9 1581.4h0M679.4 1581.4h0M173.4 1580.6h0M326.5 1580.6h0M464.9 1580.6h0M466.7 1580.6h0M470.6 1580.6h0M583.9 1580.6h0M587.9 1580.6h0M180.3 1579.8h0M239.7 1579.8h0M304.4 1579.8h0M327.9 1579.8h0M566.9 1579.8h0M580.4 1579.8h0M321.0 1578.9h0M418.8 1578.9h0M425.8 1578.9h0M470.8 1578.9h0M494.9 1578.9h0M607.8 1578.9h0M692.5 1578.9h0M132.0 1578.1h0M368.9 1578.1h0M460.7 1578.1h0M472.4 1578.1h0M604.5 1578.1h0M135.0 1577.3h0M178.4 1577.3h0M318.5 1577.3h0M325.4 1577.3h0M525.9 1577.3h0M528.5 1577.3h0M615.0 1577.3h0M638.6 1577.3h0M177.5 1576.4h0M242.5 1576.4h0M324.1 1576.4h0M525.9 1576.4h0M679.7 1576.4h0M245.2 1575.6h0M281.5 1575.6h0M284.1 1575.6h0M328.1 1575.6h0M593.2 1575.6h0M669.2 1575.6h0M330.8 1574.8h0M376.9 1574.8h0M446.0 1574.8h0M465.7 1574.8h0M562.0 1574.8h0M592.8 1574.8h0M192.8 1573.9h0M285.6 1573.9h0M373.4 1573.9h0M445.5 1573.9h0M275.9 1573.1h0M282.0 1573.1h0M326.1 1573.1h0M329.3 1573.1h0M464.3 1573.1h0M673.9 1573.1h0M205.0 1572.3h0M218.8 1572.3h0M245.8 1572.3h0M248.2 1572.3h0M330.9 1572.3h0M449.6 1572.3h0M454.1 1572.3h0M498.6 1572.3h0M645.1 1572.3h0M276.6 1571.4h0M288.7 1571.4h0M327.5 1571.4h0M331.2 1571.4h0M448.9 1571.4h0M463.4 1571.4h0M468.9 1571.4h0M631.6 1571.4h0M229.7 1570.6h0M332.6 1570.6h0M334.3 1570.6h0M354.7 1570.6h0M443.5 1570.6h0M448.3 1570.6h0M468.2 1570.6h0M506.2 1570.6h0M629.8 1570.6h0M246.6 1569.8h0M258.3 1569.8h0M439.6 1569.8h0M454.4 1569.8h0M464.9 1569.8h0M518.8 1569.8h0M527.4 1569.8h0M539.8 1569.8h0M594.6 1569.8h0M167.9 1568.9h0M224.6 1568.9h0M253.0 1568.9h0M329.4 1568.9h0M402.8 1568.9h0M514.5 1568.9h0M702.3 1568.9h0M326.0 1568.1h0M327.5 1568.1h0M470.3 1568.1h0M512.2 1568.1h0M180.8 1567.3h0M324.7 1567.3h0M483.1 1567.3h0M602.0 1567.3h0M189.4 1566.5h0M342.7 1566.5h0M364.8 1566.5h0M476.3 1566.5h0M654.3 1566.5h0M215.9 1565.6h0M252.1 1565.6h0M327.2 1565.6h0M330.6 1565.6h0M522.6 1565.6h0M243.9 1564.8h0M258.6 1564.8h0M327.2 1564.8h0M328.5 1564.8h0M331.4 1564.8h0M357.1 1564.8h0M456.1 1564.8h0M503.9 1564.8h0M330.5 1564.0h0M441.1 1564.0h0M145.5 1563.1h0M261.5 1563.1h0M326.2 1563.1h0M381.1 1563.1h0M431.2 1563.1h0M454.2 1563.1h0M455.3 1563.1h0M479.8 1563.1h0M571.5 1563.1h0M667.1 1563.1h0M256.6 1562.3h0M375.0 1562.3h0M432.1 1562.3h0M490.2 1562.3h0M491.0 1562.3h0M544.1 1562.3h0M628.0 1562.3h0M264.2 1561.5h0M291.4 1561.5h0M327.0 1561.5h0M329.0 1561.5h0M460.1 1561.5h0M477.4 1561.5h0M502.1 1561.5h0M665.4 1561.5h0M152.6 1560.6h0M159.8 1560.6h0M203.1 1560.6h0M211.7 1560.6h0M330.0 1560.6h0M352.0 1560.6h0M466.1 1560.6h0M140.9 1559.8h0M188.9 1559.8h0M195.3 1559.8h0M326.3 1559.8h0M329.5 1559.8h0M332.3 1559.8h0M419.9 1559.8h0M436.8 1559.8h0M442.5 1559.8h0M446.0 1559.8h0M456.6 1559.8h0M478.9 1559.8h0M688.2 1559.8h0M278.9 1559.0h0M316.7 1559.0h0M703.6 1559.0h0M291.2 1558.1h0M484.9 1558.1h0M500.7 1558.1h0M563.7 1558.1h0M581.6 1558.1h0M677.1 1558.1h0M259.2 1557.3h0M325.8 1557.3h0M377.7 1557.3h0M442.7 1557.3h0M445.7 1557.3h0M490.5 1557.3h0M587.8 1557.3h0M673.1 1557.3h0M121.2 1556.5h0M134.3 1556.5h0M160.5 1556.5h0M260.0 1556.5h0M327.5 1556.5h0M406.1 1556.5h0M471.5 1556.5h0M484.9 1556.5h0M546.6 1556.5h0M558.2 1556.5h0M620.5 1556.5h0M265.7 1555.6h0M299.9 1555.6h0M324.2 1555.6h0M332.1 1555.6h0M443.4 1555.6h0M458.7 1555.6h0M598.8 1555.6h0M634.7 1555.6h0M643.3 1555.6h0M666.4 1555.6h0M187.2 1554.8h0M220.3 1554.8h0M328.2 1554.8h0M331.1 1554.8h0M331.9 1554.8h0M453.6 1554.8h0M467.5 1554.8h0M502.1 1554.8h0M674.8 1554.8h0M260.7 1554.0h0M281.6 1554.0h0M321.0 1554.0h0M327.7 1554.0h0M363.4 1554.0h0M446.7 1554.0h0M502.9 1554.0h0M132.6 1553.1h0M150.7 1553.1h0M246.1 1553.1h0M439.3 1553.1h0M464.3 1553.1h0M584.8 1553.1h0M689.2 1553.1h0M190.4 1552.3h0M295.1 1552.3h0M296.0 1552.3h0M327.2 1552.3h0M328.3 1552.3h0M330.1 1552.3h0M423.5 1552.3h0M481.9 1552.3h0M657.2 1552.3h0M701.7 1552.3h0M259.1 1551.5h0M308.5 1551.5h0M327.0 1551.5h0M328.5 1551.5h0M453.1 1551.5h0M506.3 1551.5h0M581.4 1551.5h0M640.4 1551.5h0M151.4 1550.6h0M294.0 1550.6h0M362.5 1550.6h0M431.5 1550.6h0M518.3 1550.6h0M682.6 1550.6h0M186.9 1549.8h0M192.4 1549.8h0M298.4 1549.8h0M311.2 1549.8h0M329.4 1549.8h0M451.3 1549.8h0M645.9 1549.8h0M210.7 1549.0h0M282.1 1549.0h0M310.4 1549.0h0M625.0 1549.0h0M442.4 1548.1h0M644.3 1548.1h0M687.9 1548.1h0M324.3 1547.3h0M327.9 1547.3h0M465.6 1547.3h0M488.4 1547.3h0M505.5 1547.3h0M584.9 1547.3h0M140.6 1546.5h0M245.9 1546.5h0M262.4 1546.5h0M327.6 1546.5h0M328.4 1546.5h0M332.4 1546.5h0M462.6 1546.5h0M230.8 1545.6h0M239.9 1545.6h0M374.4 1545.6h0M533.1 1545.6h0M556.1 1545.6h0M581.4 1545.6h0M603.2 1545.6h0M326.6 1544.8h0M328.5 1544.8h0M334.3 1544.8h0M350.4 1544.8h0M493.3 1544.8h0M571.6 1544.8h0M608.0 1544.8h0M644.2 1544.8h0M301.4 1544.0h0M323.9 1544.0h0M431.5 1544.0h0M166.6 1543.1h0M168.6 1543.1h0M188.3 1543.1h0M326.3 1543.1h0M329.9 1543.1h0M538.9 1543.1h0M547.1 1543.1h0M188.5 1542.3h0M229.4 1542.3h0M242.7 1542.3h0M251.9 1542.3h0M327.9 1542.3h0M330.3 1542.3h0M426.1 1542.3h0M460.3 1542.3h0M559.5 1542.3h0M591.2 1542.3h0M681.3 1542.3h0M143.4 1541.5h0M155.7 1541.5h0M266.4 1541.5h0M325.8 1541.5h0M328.5 1541.5h0M331.2 1541.5h0M433.4 1541.5h0M443.8 1541.5h0M490.2 1541.5h0M657.7 1541.5h0M118.3 1540.6h0M133.3 1540.6h0M228.0 1540.6h0M315.6 1540.6h0M325.1 1540.6h0M331.2 1540.6h0M333.1 1540.6h0M381.8 1540.6h0M483.2 1540.6h0M165.4 1539.8h0M302.1 1539.8h0M331.2 1539.8h0M399.9 1539.8h0M482.3 1539.8h0M511.9 1539.8h0M530.2 1539.8h0M621.7 1539.8h0M693.0 1539.8h0M246.7 1539.0h0M276.3 1539.0h0M605.2 1539.0h0M117.5 1538.1h0M129.4 1538.1h0M138.8 1538.1h0M234.9 1538.1h0M266.6 1538.1h0M328.8 1538.1h0M330.4 1538.1h0M359.9 1538.1h0M370.5 1538.1h0M445.1 1538.1h0M460.5 1538.1h0M479.7 1538.1h0M501.2 1538.1h0M648.8 1538.1h0M671.3 1538.1h0M167.5 1537.3h0M454.8 1537.3h0M464.9 1537.3h0M506.4 1537.3h0M635.3 1537.3h0M704.5 1537.3h0M325.9 1536.5h0M330.4 1536.5h0M461.3 1536.5h0M491.4 1536.5h0M592.9 1536.5h0M618.6 1536.5h0M258.1 1535.6h0M327.1 1535.6h0M327.8 1535.6h0M453.9 1535.6h0M456.4 1535.6h0M461.9 1535.6h0M121.0 1534.8h0M156.0 1534.8h0M187.7 1534.8h0M279.4 1534.8h0M328.1 1534.8h0M369.4 1534.8h0M465.1 1534.8h0M515.9 1534.8h0M252.4 1534.0h0M312.9 1534.0h0M333.1 1534.0h0M453.3 1534.0h0M468.7 1534.0h0M543.3 1534.0h0M661.3 1534.0h0M666.2 1534.0h0M702.4 1534.0h0M205.4 1533.1h0M233.1 1533.1h0M300.4 1533.1h0M323.1 1533.1h0M384.8 1533.1h0M155.0 1532.3h0M233.7 1532.3h0M325.1 1532.3h0M680.9 1532.3h0M327.9 1531.5h0M328.2 1531.5h0M329.6 1531.5h0M499.9 1531.5h0M527.3 1531.5h0M178.9 1530.6h0M239.6 1530.6h0M324.3 1530.6h0M326.8 1530.6h0M330.8 1530.6h0M522.4 1530.6h0M605.0 1530.6h0M654.7 1530.6h0M129.0 1529.8h0M210.9 1529.8h0M329.7 1529.8h0M331.5 1529.8h0M337.3 1529.8h0M389.7 1529.8h0M582.3 1529.8h0M590.0 1529.8h0M615.7 1529.8h0M123.3 1529.0h0M130.0 1529.0h0M357.8 1529.0h0M550.1 1529.0h0M603.4 1529.0h0M127.3 1528.1h0M247.4 1528.1h0M327.4 1528.1h0M330.0 1528.1h0M331.4 1528.1h0M500.0 1528.1h0M557.1 1528.1h0M689.9 1528.1h0M473.6 1527.3h0M550.4 1527.3h0M569.6 1527.3h0M577.4 1527.3h0M678.2 1527.3h0M331.2 1526.5h0M383.7 1526.5h0M510.5 1526.5h0M700.1 1526.5h0M327.3 1525.6h0M348.1 1525.6h0M441.3 1525.6h0M691.6 1525.6h0M128.5 1524.8h0M130.9 1524.8h0M249.7 1524.8h0M458.4 1524.8h0M493.8 1524.8h0M278.3 1524.0h0M330.0 1524.0h0M607.7 1524.0h0M615.9 1524.0h0M616.6 1524.0h0M626.7 1524.0h0M315.3 1523.1h0M330.2 1523.1h0M455.2 1523.1h0M667.1 1523.1h0M254.9 1522.3h0M294.1 1522.3h0M317.9 1522.3h0M322.9 1522.3h0M563.1 1522.3h0M580.3 1522.3h0M302.7 1521.5h0M315.8 1521.5h0M325.2 1521.5h0M366.3 1521.5h0M435.3 1521.5h0M537.7 1521.5h0M125.1 1520.6h0M129.7 1520.6h0M287.6 1520.6h0M307.1 1520.6h0M328.2 1520.6h0M328.7 1520.6h0M333.2 1520.6h0M560.8 1520.6h0M574.2 1520.6h0M303.5 1519.8h0M336.3 1519.8h0M452.3 1519.8h0M459.8 1519.8h0M531.9 1519.8h0M549.9 1519.8h0M184.8 1519.0h0M196.8 1519.0h0M267.1 1519.0h0M325.3 1519.0h0M326.7 1519.0h0M473.1 1519.0h0M624.5 1519.0h0M682.9 1519.0h0M127.2 1518.1h0M180.5 1518.1h0M197.9 1518.1h0M315.4 1518.1h0M446.3 1518.1h0M463.6 1518.1h0M597.5 1518.1h0M655.4 1518.1h0M329.8 1517.3h0M474.9 1517.3h0M581.5 1517.3h0M120.5 1516.5h0M186.5 1516.5h0M257.7 1516.5h0M327.3 1516.5h0M330.7 1516.5h0M331.6 1516.5h0M333.7 1516.5h0M458.9 1516.5h0M503.0 1516.5h0M603.7 1516.5h0M669.9 1516.5h0M315.4 1515.6h0M328.9 1515.6h0M329.8 1515.6h0M340.3 1515.6h0M417.0 1515.6h0M567.1 1515.6h0M150.5 1514.8h0M163.4 1514.8h0M289.8 1514.8h0M326.0 1514.8h0M373.8 1514.8h0M449.2 1514.8h0M469.2 1514.8h0M602.7 1514.8h0M675.7 1514.8h0M176.6 1514.0h0M328.5 1514.0h0M397.6 1514.0h0M467.1 1514.0h0M488.7 1514.0h0M656.8 1514.0h0M239.9 1513.1h0M441.4 1513.1h0M491.8 1513.1h0M504.5 1513.1h0M518.9 1513.1h0M606.9 1513.1h0M668.2 1513.1h0M155.8 1512.3h0M306.1 1512.3h0M331.3 1512.3h0M331.8 1512.3h0M348.4 1512.3h0M398.9 1512.3h0M526.4 1512.3h0M529.0 1512.3h0M562.8 1512.3h0M590.4 1512.3h0M138.2 1511.5h0M206.2 1511.5h0M235.7 1511.5h0M239.7 1511.5h0M330.2 1511.5h0M331.4 1511.5h0M381.7 1511.5h0M437.1 1511.5h0M492.3 1511.5h0M623.1 1511.5h0M632.6 1511.5h0M325.2 1510.6h0M326.3 1510.6h0M326.8 1510.6h0M471.0 1510.6h0M652.6 1510.6h0M659.2 1510.6h0M242.8 1509.8h0M275.0 1509.8h0M299.7 1509.8h0M325.7 1509.8h0M335.9 1509.8h0M446.2 1509.8h0M449.8 1509.8h0M461.0 1509.8h0M506.6 1509.8h0M349.7 1509.0h0M674.5 1509.0h0M115.9 1508.1h0M170.7 1508.1h0M325.7 1508.1h0M327.6 1508.1h0M330.5 1508.1h0M492.3 1508.1h0M499.9 1508.1h0M620.1 1508.1h0M689.5 1508.1h0M703.7 1508.1h0M190.1 1507.3h0M192.4 1507.3h0M298.7 1507.3h0M328.9 1507.3h0M458.7 1507.3h0M479.5 1507.3h0M522.8 1507.3h0M549.3 1507.3h0M160.8 1506.5h0M169.4 1506.5h0M325.1 1506.5h0M328.4 1506.5h0M330.0 1506.5h0M408.3 1506.5h0M464.5 1506.5h0M468.9 1506.5h0M681.6 1506.5h0M332.0 1505.6h0M434.4 1505.6h0M489.0 1505.6h0M650.9 1505.6h0M159.4 1504.8h0M318.1 1504.8h0M325.4 1504.8h0M326.6 1504.8h0M329.7 1504.8h0M332.4 1504.8h0M483.3 1504.8h0M573.5 1504.8h0M123.6 1504.0h0M211.3 1504.0h0M280.4 1504.0h0M325.6 1504.0h0M452.3 1504.0h0M480.4 1504.0h0M484.1 1504.0h0M555.2 1504.0h0M578.9 1504.0h0M282.6 1503.1h0M306.6 1503.1h0M326.8 1503.1h0M328.4 1503.1h0M330.0 1503.1h0M331.5 1503.1h0M343.6 1503.1h0M462.3 1503.1h0M489.5 1503.1h0M681.3 1503.1h0M315.2 1502.3h0M572.6 1502.3h0M597.4 1502.3h0M140.4 1501.5h0M228.2 1501.5h0M298.4 1501.5h0M308.7 1501.5h0M332.6 1501.5h0M487.0 1501.5h0M508.3 1501.5h0M512.6 1501.5h0M516.7 1501.5h0M125.4 1500.6h0M160.5 1500.6h0M355.9 1500.6h0M659.0 1500.6h0M668.1 1500.6h0M327.6 1499.8h0M329.8 1499.8h0M338.7 1499.8h0M460.7 1499.8h0M583.3 1499.8h0M659.4 1499.8h0M328.4 1499.0h0M464.8 1499.0h0M543.6 1499.0h0M560.2 1499.0h0M326.4 1498.1h0M353.0 1498.1h0M498.0 1498.1h0M506.9 1498.1h0M199.0 1497.3h0M329.1 1497.3h0M451.3 1497.3h0M612.0 1497.3h0M116.8 1496.5h0M120.2 1496.5h0M317.1 1496.5h0M395.1 1496.5h0M686.5 1496.5h0M688.7 1496.5h0M190.9 1495.6h0M197.9 1495.6h0M331.6 1495.6h0M365.1 1495.6h0M407.6 1495.6h0M445.9 1495.6h0M688.6 1495.6h0M326.2 1494.8h0M332.0 1494.8h0M380.9 1494.8h0M408.5 1494.8h0M426.4 1494.8h0M190.2 1494.0h0M191.2 1494.0h0M249.4 1494.0h0M278.4 1494.0h0M327.1 1494.0h0M464.5 1494.0h0M468.5 1494.0h0M470.6 1494.0h0M631.0 1494.0h0M636.5 1494.0h0M159.9 1493.1h0M242.7 1493.1h0M279.4 1493.1h0M304.6 1493.1h0M468.8 1493.1h0M473.1 1493.1h0M703.8 1493.1h0M158.5 1492.3h0M267.3 1492.3h0M308.4 1492.3h0M311.0 1492.3h0M321.1 1492.3h0M446.1 1492.3h0M673.8 1492.3h0M116.8 1491.5h0M137.3 1491.5h0M321.7 1491.5h0M326.8 1491.5h0M330.8 1491.5h0M475.4 1491.5h0M473.2 1490.6h0M156.7 1489.8h0M329.1 1489.8h0M579.2 1489.8h0M661.8 1489.8h0M232.8 1489.0h0M471.5 1489.0h0M526.4 1489.0h0M152.2 1488.1h0M203.0 1488.1h0M294.5 1488.1h0M329.4 1488.1h0M537.6 1488.1h0M549.3 1488.1h0M571.2 1488.1h0M193.3 1487.3h0M297.3 1487.3h0M303.0 1487.3h0M358.2 1487.3h0M172.6 1486.5h0M223.4 1486.5h0M235.4 1486.5h0M325.6 1486.5h0M329.5 1486.5h0M430.5 1486.5h0M458.1 1486.5h0M479.3 1486.5h0M694.4 1486.5h0M152.3 1485.6h0M251.5 1485.6h0M295.0 1485.6h0M321.7 1485.6h0M324.5 1485.6h0M327.5 1485.6h0M533.9 1485.6h0M397.8 1484.8h0M466.6 1484.8h0M504.5 1484.8h0M629.9 1484.8h0M682.6 1484.8h0M237.0 1484.0h0M466.3 1484.0h0M488.4 1484.0h0M503.3 1484.0h0M511.9 1484.0h0M690.5 1484.0h0M283.2 1483.2h0M331.0 1483.2h0M458.9 1483.2h0M464.1 1483.2h0M597.2 1483.2h0M297.0 1482.3h0M486.2 1482.3h0M493.7 1482.3h0M605.0 1482.3h0M261.3 1481.5h0M267.2 1481.5h0M326.5 1481.5h0M329.0 1481.5h0M564.3 1481.5h0M606.5 1481.5h0M666.3 1481.5h0M138.0 1480.7h0M158.3 1480.7h0M160.3 1480.7h0M214.3 1480.7h0M237.6 1480.7h0M268.9 1480.7h0M335.9 1480.7h0M474.3 1480.7h0M672.8 1480.7h0M155.9 1479.8h0M258.6 1479.8h0M331.5 1479.8h0M332.1 1479.8h0M468.0 1479.8h0M137.2 1479.0h0M275.6 1479.0h0M326.3 1479.0h0M326.6 1479.0h0M455.7 1479.0h0M528.7 1479.0h0M563.8 1479.0h0M610.4 1479.0h0M220.4 1478.2h0M220.9 1478.2h0M324.0 1478.2h0M328.0 1478.2h0M329.3 1478.2h0M607.7 1478.2h0M613.2 1478.2h0M480.4 1477.3h0M584.0 1477.3h0M628.9 1477.3h0M632.0 1477.3h0M669.2 1477.3h0M326.6 1476.5h0M328.7 1476.5h0M341.3 1476.5h0M426.1 1476.5h0M469.3 1476.5h0M520.4 1476.5h0M137.6 1475.7h0M189.7 1475.7h0M264.0 1475.7h0M328.6 1475.7h0M459.9 1475.7h0M572.2 1475.7h0M690.3 1475.7h0M151.9 1474.8h0M231.3 1474.8h0M324.9 1474.8h0M413.2 1474.8h0M496.2 1474.8h0M143.9 1474.0h0M324.3 1474.0h0M328.2 1474.0h0M330.0 1474.0h0M663.5 1474.0h0M690.9 1474.0h0M142.3 1473.2h0M177.4 1473.2h0M463.0 1473.2h0M464.2 1473.2h0M485.4 1473.2h0M559.2 1473.2h0M581.4 1473.2h0M182.9 1472.3h0M210.1 1472.3h0M334.8 1472.3h0M464.4 1472.3h0M465.9 1472.3h0M469.9 1472.3h0M490.5 1472.3h0M513.4 1472.3h0M286.2 1471.5h0M332.6 1471.5h0M469.2 1471.5h0M644.7 1471.5h0M665.2 1471.5h0M146.5 1470.7h0M206.1 1470.7h0M257.0 1470.7h0M324.2 1470.7h0M382.4 1470.7h0M481.6 1470.7h0M640.1 1470.7h0M652.8 1470.7h0M324.2 1469.8h0M328.2 1469.8h0M336.4 1469.8h0M412.3 1469.8h0M448.8 1469.8h0M457.1 1469.8h0M294.4 1469.0h0M327.1 1469.0h0M328.2 1469.0h0M330.6 1469.0h0M332.8 1469.0h0M374.4 1469.0h0M620.2 1469.0h0M126.1 1468.2h0M666.1 1468.2h0M685.2 1468.2h0M687.7 1468.2h0M194.5 1467.3h0M206.7 1467.3h0M234.4 1467.3h0M302.2 1467.3h0M469.4 1467.3h0M557.5 1467.3h0M608.6 1467.3h0M700.7 1467.3h0M117.3 1466.5h0M122.4 1466.5h0M236.5 1466.5h0M326.6 1466.5h0M406.5 1466.5h0M653.6 1466.5h0M673.5 1466.5h0M157.4 1465.7h0M327.4 1465.7h0M334.9 1465.7h0M469.9 1465.7h0M198.0 1464.8h0M241.2 1464.8h0M329.9 1464.8h0M400.3 1464.8h0M473.3 1464.8h0M504.3 1464.8h0M157.1 1464.0h0M187.2 1464.0h0M276.9 1464.0h0M328.2 1464.0h0M328.8 1464.0h0M351.9 1464.0h0M359.8 1464.0h0M453.1 1464.0h0M474.1 1464.0h0M541.7 1464.0h0M595.3 1464.0h0M152.1 1463.2h0M212.9 1463.2h0M329.2 1463.2h0M412.7 1463.2h0M509.0 1463.2h0M612.1 1463.2h0M323.3 1462.3h0M328.0 1462.3h0M374.4 1462.3h0M388.9 1462.3h0M415.7 1462.3h0M512.9 1462.3h0M632.2 1462.3h0M642.7 1462.3h0M237.1 1461.5h0M268.1 1461.5h0M430.6 1461.5h0M483.7 1461.5h0M574.0 1461.5h0M623.6 1461.5h0M661.4 1461.5h0M228.4 1460.7h0M493.9 1460.7h0M524.4 1460.7h0M579.7 1460.7h0M614.9 1460.7h0M134.7 1459.8h0M325.8 1459.8h0M457.1 1459.8h0M485.5 1459.8h0M485.7 1459.8h0M584.2 1459.8h0M298.5 1459.0h0M306.2 1459.0h0M332.5 1459.0h0M681.6 1459.0h0M704.1 1459.0h0M153.0 1458.2h0M206.4 1458.2h0M265.8 1458.2h0M323.8 1458.2h0M326.5 1458.2h0M328.7 1458.2h0M352.1 1458.2h0M367.7 1458.2h0M402.7 1458.2h0M144.4 1457.3h0M241.1 1457.3h0M262.2 1457.3h0M329.0 1457.3h0M621.6 1457.3h0M644.9 1457.3h0M326.7 1456.5h0M456.2 1456.5h0M498.4 1456.5h0M499.8 1456.5h0M644.2 1456.5h0M689.2 1456.5h0M160.9 1455.7h0M196.6 1455.7h0M299.3 1455.7h0M323.4 1455.7h0M330.6 1455.7h0M386.5 1455.7h0M406.8 1455.7h0M477.5 1455.7h0M542.3 1455.7h0M141.8 1454.8h0M330.8 1454.8h0M461.6 1454.8h0M475.8 1454.8h0M257.1 1454.0h0M286.4 1454.0h0M326.2 1454.0h0M328.5 1454.0h0M471.5 1454.0h0M475.9 1454.0h0M604.8 1454.0h0M663.7 1454.0h0M677.8 1454.0h0M187.5 1453.2h0M328.2 1453.2h0M332.1 1453.2h0M435.5 1453.2h0M474.5 1453.2h0M529.1 1453.2h0M572.3 1453.2h0M619.5 1453.2h0M329.4 1452.3h0M485.8 1452.3h0M506.3 1452.3h0M637.9 1452.3h0M296.8 1451.5h0M323.0 1451.5h0M327.8 1451.5h0M333.9 1451.5h0M343.6 1451.5h0M407.9 1451.5h0M641.2 1451.5h0M644.2 1451.5h0M140.0 1450.7h0M173.5 1450.7h0M245.8 1450.7h0M287.0 1450.7h0M325.4 1450.7h0M328.2 1450.7h0M332.6 1450.7h0M587.6 1450.7h0M696.7 1450.7h0M702.2 1450.7h0M167.8 1449.8h0M369.1 1449.8h0M447.9 1449.8h0M479.1 1449.8h0M639.4 1449.8h0M673.6 1449.8h0M205.3 1449.0h0M278.2 1449.0h0M493.0 1449.0h0M601.6 1449.0h0M137.6 1448.2h0M328.1 1448.2h0M359.1 1448.2h0M370.5 1448.2h0M483.6 1448.2h0M509.9 1448.2h0M547.7 1448.2h0M687.7 1448.2h0M306.7 1447.3h0M324.6 1447.3h0M517.9 1447.3h0M529.6 1447.3h0M585.7 1447.3h0M215.3 1446.5h0M293.2 1446.5h0M326.7 1446.5h0M328.5 1446.5h0M332.5 1446.5h0M330.7 1445.7h0M332.2 1445.7h0M413.2 1445.7h0M669.0 1445.7h0M696.7 1445.7h0M142.2 1444.8h0M171.2 1444.8h0M193.9 1444.8h0M283.5 1444.8h0M329.2 1444.8h0M454.5 1444.8h0M552.4 1444.8h0M625.4 1444.8h0M644.3 1444.8h0M121.7 1444.0h0M333.1 1444.0h0M460.7 1444.0h0M513.8 1444.0h0M559.4 1444.0h0M633.1 1444.0h0M392.6 1443.2h0M404.6 1443.2h0M455.9 1443.2h0M468.4 1443.2h0M500.0 1443.2h0M144.7 1442.3h0M265.9 1442.3h0M306.6 1442.3h0M317.2 1442.3h0M328.3 1442.3h0M473.3 1442.3h0M535.8 1442.3h0M542.6 1442.3h0M599.5 1442.3h0M169.9 1441.5h0M187.3 1441.5h0M324.0 1441.5h0M328.8 1441.5h0M522.9 1441.5h0M125.3 1440.7h0M137.7 1440.7h0M177.4 1440.7h0M187.1 1440.7h0M214.8 1440.7h0M237.8 1440.7h0M283.7 1440.7h0M331.9 1440.7h0M347.8 1440.7h0M356.3 1440.7h0M425.9 1440.7h0M466.4 1440.7h0M471.8 1440.7h0M476.0 1440.7h0M485.3 1440.7h0M589.0 1440.7h0M663.9 1440.7h0M129.3 1439.8h0M144.4 1439.8h0M184.7 1439.8h0M401.7 1439.8h0M425.9 1439.8h0M461.0 1439.8h0M122.0 1439.0h0M156.5 1439.0h0M215.9 1439.0h0M246.5 1439.0h0M276.2 1439.0h0M329.8 1439.0h0M330.4 1439.0h0M457.8 1439.0h0M650.0 1439.0h0M117.9 1438.2h0M142.2 1438.2h0M177.1 1438.2h0M326.0 1438.2h0M329.0 1438.2h0M422.4 1438.2h0M466.1 1438.2h0M224.8 1437.3h0M279.9 1437.3h0M327.1 1437.3h0M333.3 1437.3h0M363.9 1437.3h0M377.1 1437.3h0M543.4 1437.3h0M546.4 1437.3h0M202.0 1436.5h0M242.7 1436.5h0M299.7 1436.5h0M330.8 1436.5h0M338.1 1436.5h0M416.2 1436.5h0M469.3 1436.5h0M539.7 1436.5h0M553.9 1436.5h0M663.1 1436.5h0M700.1 1436.5h0M367.2 1435.7h0M521.0 1435.7h0M666.1 1435.7h0M237.6 1434.8h0M323.7 1434.8h0M325.6 1434.8h0M327.1 1434.8h0M601.0 1434.8h0M165.9 1434.0h0M309.6 1434.0h0M452.3 1434.0h0M485.2 1434.0h0M504.7 1434.0h0M593.8 1434.0h0M632.9 1434.0h0M633.2 1434.0h0M652.2 1434.0h0M225.1 1433.2h0M328.4 1433.2h0M622.1 1433.2h0M234.0 1432.3h0M267.0 1432.3h0M327.7 1432.3h0M329.7 1432.3h0M443.8 1432.3h0M466.9 1432.3h0M190.8 1431.5h0M266.0 1431.5h0M301.5 1431.5h0M309.9 1431.5h0M327.5 1431.5h0M381.2 1431.5h0M442.8 1431.5h0M455.5 1431.5h0M632.0 1431.5h0M166.7 1430.7h0M240.8 1430.7h0M265.7 1430.7h0M331.6 1430.7h0M494.9 1430.7h0M624.8 1430.7h0M134.2 1429.8h0M198.5 1429.8h0M260.0 1429.8h0M328.2 1429.8h0M331.9 1429.8h0M428.4 1429.8h0M463.7 1429.8h0M502.5 1429.8h0M656.8 1429.8h0M166.1 1429.0h0M203.7 1429.0h0M296.3 1429.0h0M322.4 1429.0h0M326.0 1429.0h0M330.0 1429.0h0M405.1 1429.0h0M467.5 1429.0h0M218.5 1428.2h0M253.2 1428.2h0M289.5 1428.2h0M330.0 1428.2h0M503.3 1428.2h0M631.2 1428.2h0M263.1 1427.3h0M469.0 1427.3h0M628.5 1427.3h0M704.0 1427.3h0M137.1 1426.5h0M181.4 1426.5h0M320.5 1426.5h0M328.9 1426.5h0M411.1 1426.5h0M446.7 1426.5h0M638.6 1426.5h0M685.6 1426.5h0M306.5 1425.7h0M324.8 1425.7h0M325.6 1425.7h0M388.6 1425.7h0M407.0 1425.7h0M435.7 1425.7h0M619.1 1425.7h0M677.6 1425.7h0M691.1 1425.7h0M207.2 1424.8h0M313.4 1424.8h0M327.4 1424.8h0M336.1 1424.8h0M487.0 1424.8h0M488.3 1424.8h0M521.2 1424.8h0M132.1 1424.0h0M238.5 1424.0h0M327.4 1424.0h0M331.5 1424.0h0M495.6 1424.0h0M515.8 1424.0h0M554.3 1424.0h0M559.0 1424.0h0M354.8 1423.2h0M560.7 1423.2h0M670.6 1423.2h0M222.6 1422.3h0M285.8 1422.3h0M319.9 1422.3h0M323.9 1422.3h0M329.1 1422.3h0M460.1 1422.3h0M490.0 1422.3h0M522.2 1422.3h0M541.1 1422.3h0M604.2 1422.3h0M244.3 1421.5h0M332.3 1421.5h0M429.4 1421.5h0M539.0 1421.5h0M591.5 1421.5h0M330.5 1420.7h0M510.8 1420.7h0M540.9 1420.7h0M673.0 1420.7h0M326.2 1419.8h0M327.6 1419.8h0M330.4 1419.8h0M348.1 1419.8h0M538.2 1419.8h0M579.0 1419.8h0M641.8 1419.8h0M686.3 1419.8h0M143.4 1419.0h0M255.0 1419.0h0M327.4 1419.0h0M327.8 1419.0h0M329.0 1419.0h0M330.2 1419.0h0M610.1 1419.0h0M628.1 1419.0h0M629.2 1419.0h0M674.1 1419.0h0M120.7 1418.2h0M228.6 1418.2h0M281.4 1418.2h0M512.5 1418.2h0M517.0 1418.2h0M694.7 1418.2h0M703.5 1418.2h0M204.5 1417.3h0M247.9 1417.3h0M249.1 1417.3h0M338.7 1417.3h0M433.0 1417.3h0M237.7 1416.5h0M467.8 1416.5h0M213.2 1415.7h0M321.5 1415.7h0M325.6 1415.7h0M327.8 1415.7h0M334.1 1415.7h0M360.1 1415.7h0M411.9 1415.7h0M461.9 1415.7h0M501.9 1415.7h0M599.1 1415.7h0M123.2 1414.8h0M252.5 1414.8h0M256.9 1414.8h0M372.3 1414.8h0M398.1 1414.8h0M438.3 1414.8h0M447.6 1414.8h0M458.8 1414.8h0M616.7 1414.8h0M140.9 1414.0h0M325.4 1414.0h0M330.1 1414.0h0M333.3 1414.0h0M512.7 1414.0h0M563.5 1414.0h0M281.2 1413.2h0M299.5 1413.2h0M427.3 1413.2h0M468.2 1413.2h0M625.2 1413.2h0M686.2 1413.2h0M694.5 1413.2h0M168.4 1412.3h0M316.3 1412.3h0M323.7 1412.3h0M328.8 1412.3h0M347.0 1412.3h0M515.9 1412.3h0M539.1 1412.3h0M583.8 1412.3h0M690.9 1412.3h0M325.9 1411.5h0M330.0 1411.5h0M468.7 1411.5h0M330.1 1410.7h0M340.5 1410.7h0M272.0 1409.8h0M311.1 1409.8h0M323.6 1409.8h0M327.1 1409.8h0M329.1 1409.8h0M330.6 1409.8h0M457.8 1409.8h0M462.4 1409.8h0M673.3 1409.8h0M143.0 1409.0h0M279.1 1409.0h0M328.5 1409.0h0M368.1 1409.0h0M492.5 1409.0h0M497.8 1409.0h0M202.0 1408.2h0M329.3 1408.2h0M541.7 1408.2h0M159.6 1407.3h0M242.4 1407.3h0M291.2 1407.3h0M323.6 1407.3h0M327.3 1407.3h0M330.2 1407.3h0M466.4 1407.3h0M468.7 1407.3h0M508.8 1407.3h0M609.8 1407.3h0M637.0 1407.3h0M308.1 1406.5h0M326.2 1406.5h0M327.9 1406.5h0M332.1 1406.5h0M356.5 1406.5h0M379.3 1406.5h0M387.5 1406.5h0M405.4 1406.5h0M479.6 1406.5h0M653.7 1406.5h0M677.3 1406.5h0M698.1 1406.5h0M138.3 1405.7h0M153.4 1405.7h0M203.0 1405.7h0M278.8 1405.7h0M323.6 1405.7h0M324.8 1405.7h0M480.6 1405.7h0M482.7 1405.7h0M166.2 1404.8h0M194.2 1404.8h0M235.4 1404.8h0M327.2 1404.8h0M360.3 1404.8h0M498.6 1404.8h0M679.4 1404.8h0M169.1 1404.0h0M336.1 1404.0h0M584.2 1404.0h0M642.2 1404.0h0M162.0 1403.2h0M317.6 1403.2h0M326.9 1403.2h0M334.5 1403.2h0M451.2 1403.2h0M458.9 1403.2h0M489.4 1403.2h0M189.9 1402.3h0M250.6 1402.3h0M328.2 1402.3h0M336.1 1402.3h0M416.8 1402.3h0M429.2 1402.3h0M435.5 1402.3h0M482.0 1402.3h0M678.5 1402.3h0M135.4 1401.5h0M287.7 1401.5h0M405.4 1401.5h0M430.8 1401.5h0M564.4 1401.5h0M166.4 1400.7h0M251.0 1400.7h0M273.4 1400.7h0M326.0 1400.7h0M517.9 1400.7h0M648.1 1400.7h0M154.2 1399.9h0M176.1 1399.9h0M192.8 1399.9h0M314.6 1399.9h0M501.6 1399.9h0M549.8 1399.9h0M671.0 1399.9h0M324.4 1399.0h0M331.3 1399.0h0M402.1 1399.0h0M460.7 1399.0h0M523.1 1399.0h0M600.5 1399.0h0M189.6 1398.2h0M328.3 1398.2h0M330.6 1398.2h0M586.8 1398.2h0M624.3 1398.2h0M118.2 1397.4h0M129.4 1397.4h0M287.5 1397.4h0M322.7 1397.4h0M325.6 1397.4h0M372.5 1397.4h0M439.5 1397.4h0M505.8 1397.4h0M613.3 1397.4h0M636.6 1397.4h0M647.3 1397.4h0M651.6 1397.4h0M693.3 1397.4h0M249.2 1396.5h0M328.8 1396.5h0M332.9 1396.5h0M463.7 1396.5h0M484.8 1396.5h0M494.8 1396.5h0M690.5 1396.5h0M154.4 1395.7h0M178.4 1395.7h0M328.1 1395.7h0M330.4 1395.7h0M440.7 1395.7h0M466.5 1395.7h0M588.7 1395.7h0M268.3 1394.9h0M309.9 1394.9h0M334.0 1394.9h0M372.0 1394.9h0M471.7 1394.9h0M511.6 1394.9h0M524.3 1394.9h0M537.6 1394.9h0M671.1 1394.9h0M122.2 1394.0h0M190.7 1394.0h0M280.5 1394.0h0M282.2 1394.0h0M326.7 1394.0h0M329.9 1394.0h0M420.7 1394.0h0M552.1 1394.0h0M693.4 1394.0h0M697.9 1394.0h0M699.3 1394.0h0M119.7 1393.2h0M155.3 1393.2h0M217.7 1393.2h0M326.0 1393.2h0M464.5 1393.2h0M535.9 1393.2h0M585.9 1393.2h0M658.7 1393.2h0M168.2 1392.4h0M290.0 1392.4h0M296.6 1392.4h0M323.7 1392.4h0M408.0 1392.4h0M692.1 1392.4h0M174.9 1391.5h0M265.8 1391.5h0M272.7 1391.5h0M328.3 1391.5h0M329.1 1391.5h0M483.0 1391.5h0M484.8 1391.5h0M545.2 1391.5h0M138.9 1390.7h0M169.0 1390.7h0M242.6 1390.7h0M316.0 1390.7h0M330.9 1390.7h0M371.0 1390.7h0M225.8 1389.9h0M277.6 1389.9h0M302.7 1389.9h0M313.4 1389.9h0M322.8 1389.9h0M393.7 1389.9h0M406.1 1389.9h0M444.0 1389.9h0M481.9 1389.9h0M556.0 1389.9h0M618.9 1389.9h0M641.5 1389.9h0M679.7 1389.9h0M127.9 1389.0h0M137.9 1389.0h0M197.0 1389.0h0M203.4 1389.0h0M207.9 1389.0h0M260.2 1389.0h0M330.2 1389.0h0M331.3 1389.0h0M497.7 1389.0h0M584.9 1389.0h0M692.5 1389.0h0M255.6 1388.2h0M327.9 1388.2h0M331.9 1388.2h0M346.4 1388.2h0M361.4 1388.2h0M476.0 1388.2h0M489.9 1388.2h0M703.3 1388.2h0M137.2 1387.4h0M221.4 1387.4h0M330.4 1387.4h0M443.8 1387.4h0M479.8 1387.4h0M489.6 1387.4h0M492.7 1387.4h0M498.1 1387.4h0M551.0 1387.4h0M574.5 1387.4h0M638.9 1387.4h0M687.9 1387.4h0M159.1 1386.5h0M189.8 1386.5h0M220.3 1386.5h0M256.0 1386.5h0M327.6 1386.5h0M573.8 1386.5h0M219.5 1385.7h0M249.1 1385.7h0M288.0 1385.7h0M327.2 1385.7h0M330.6 1385.7h0M646.9 1385.7h0M151.7 1384.9h0M402.2 1384.9h0M426.4 1384.9h0M472.0 1384.9h0M478.5 1384.9h0M483.8 1384.9h0M524.5 1384.9h0M551.2 1384.9h0M596.6 1384.9h0M626.6 1384.9h0M334.5 1384.0h0M565.2 1384.0h0M602.0 1384.0h0M196.7 1383.2h0M245.8 1383.2h0M258.9 1383.2h0M287.4 1383.2h0M325.1 1383.2h0M326.7 1383.2h0M328.6 1383.2h0M331.4 1383.2h0M331.9 1383.2h0M367.3 1383.2h0M448.4 1383.2h0M491.7 1383.2h0M512.3 1383.2h0M631.6 1383.2h0M688.0 1383.2h0M690.3 1383.2h0M282.0 1382.4h0M443.3 1382.4h0M456.7 1382.4h0M467.9 1382.4h0M491.0 1382.4h0M559.3 1382.4h0M638.4 1382.4h0M648.5 1382.4h0M681.3 1382.4h0M167.4 1381.5h0M327.0 1381.5h0M327.7 1381.5h0M361.9 1381.5h0M469.0 1381.5h0M486.1 1381.5h0M503.0 1381.5h0M150.3 1380.7h0M289.2 1380.7h0M326.8 1380.7h0M331.8 1380.7h0M334.3 1380.7h0M401.9 1380.7h0M463.8 1380.7h0M572.5 1380.7h0M604.2 1380.7h0M620.6 1380.7h0M651.5 1380.7h0M672.1 1380.7h0M678.6 1380.7h0M690.5 1380.7h0M122.0 1379.9h0M331.3 1379.9h0M335.1 1379.9h0M425.7 1379.9h0M471.8 1379.9h0M493.1 1379.9h0M544.4 1379.9h0M602.9 1379.9h0M641.2 1379.9h0M641.6 1379.9h0M119.1 1379.0h0M167.4 1379.0h0M197.5 1379.0h0M262.3 1379.0h0M477.7 1379.0h0M481.6 1379.0h0M587.0 1379.0h0M306.1 1378.2h0M330.9 1378.2h0M347.9 1378.2h0M444.6 1378.2h0M635.1 1378.2h0M154.5 1377.4h0M172.5 1377.4h0M320.1 1377.4h0M330.6 1377.4h0M331.4 1377.4h0M470.9 1377.4h0M560.1 1377.4h0M588.1 1377.4h0M666.0 1377.4h0M689.1 1377.4h0M172.8 1376.5h0M220.2 1376.5h0M306.0 1376.5h0M311.1 1376.5h0M493.3 1376.5h0M672.9 1376.5h0M168.4 1375.7h0M310.4 1375.7h0M328.5 1375.7h0M341.7 1375.7h0M690.1 1375.7h0M264.1 1374.9h0M467.6 1374.9h0M478.3 1374.9h0M621.2 1374.9h0M145.1 1374.0h0M149.1 1374.0h0M152.1 1374.0h0M199.2 1374.0h0M231.9 1374.0h0M250.8 1374.0h0M269.7 1374.0h0M333.3 1374.0h0M367.1 1374.0h0M481.9 1374.0h0M532.3 1374.0h0M545.0 1374.0h0M587.0 1374.0h0M591.8 1374.0h0M612.2 1374.0h0M648.7 1374.0h0M120.7 1373.2h0M198.4 1373.2h0M327.1 1373.2h0M330.3 1373.2h0M462.3 1373.2h0M501.7 1373.2h0M512.5 1373.2h0M583.7 1373.2h0M584.4 1373.2h0M622.7 1373.2h0M650.9 1373.2h0M661.8 1373.2h0M257.2 1372.4h0M274.2 1372.4h0M328.2 1372.4h0M329.9 1372.4h0M333.8 1372.4h0M443.6 1372.4h0M675.2 1372.4h0M150.4 1371.5h0M220.6 1371.5h0M269.8 1371.5h0M326.1 1371.5h0M502.8 1371.5h0M582.7 1371.5h0M667.3 1371.5h0M667.8 1371.5h0M129.0 1370.7h0M331.4 1370.7h0M464.4 1370.7h0M152.2 1369.9h0M171.6 1369.9h0M239.0 1369.9h0M257.6 1369.9h0M326.3 1369.9h0M439.0 1369.9h0M462.6 1369.9h0M121.4 1369.0h0M228.7 1369.0h0M325.4 1369.0h0M326.9 1369.0h0M423.4 1369.0h0M446.4 1369.0h0M453.7 1369.0h0M465.4 1369.0h0M501.6 1369.0h0M550.5 1369.0h0M588.8 1369.0h0M592.1 1369.0h0M122.9 1368.2h0M176.1 1368.2h0M239.9 1368.2h0M261.2 1368.2h0M349.9 1368.2h0M438.1 1368.2h0M624.7 1368.2h0M656.9 1368.2h0M129.9 1367.4h0M171.7 1367.4h0M302.5 1367.4h0M314.6 1367.4h0M329.8 1367.4h0M389.8 1367.4h0M621.7 1367.4h0M628.6 1367.4h0M675.2 1367.4h0M157.8 1366.5h0M203.3 1366.5h0M230.4 1366.5h0M305.9 1366.5h0M356.2 1366.5h0M460.7 1366.5h0M478.4 1366.5h0M598.0 1366.5h0M683.3 1366.5h0M688.3 1366.5h0M696.3 1366.5h0M312.4 1365.7h0M325.6 1365.7h0M327.3 1365.7h0M328.6 1365.7h0M640.0 1365.7h0M125.8 1364.9h0M161.7 1364.9h0M178.7 1364.9h0M180.8 1364.9h0M186.4 1364.9h0M253.3 1364.9h0M325.1 1364.9h0M330.9 1364.9h0M517.8 1364.9h0M548.2 1364.9h0M567.5 1364.9h0M271.2 1364.0h0M321.3 1364.0h0M482.3 1364.0h0M670.8 1364.0h0M677.2 1364.0h0M174.7 1363.2h0M461.9 1363.2h0M523.9 1363.2h0M584.2 1363.2h0M607.2 1363.2h0M184.3 1362.4h0M238.9 1362.4h0M326.8 1362.4h0M333.8 1362.4h0M549.7 1362.4h0M155.7 1361.5h0M159.4 1361.5h0M170.5 1361.5h0M184.1 1361.5h0M262.1 1361.5h0M329.3 1361.5h0M444.7 1361.5h0M503.9 1361.5h0M576.6 1361.5h0M582.0 1361.5h0M595.1 1361.5h0M685.6 1361.5h0M127.3 1360.7h0M208.4 1360.7h0M322.2 1360.7h0M326.0 1360.7h0M328.0 1360.7h0M363.5 1360.7h0M454.3 1360.7h0M473.2 1360.7h0M477.9 1360.7h0M496.9 1360.7h0M548.4 1360.7h0M672.0 1360.7h0M226.5 1359.9h0M283.6 1359.9h0M332.6 1359.9h0M454.7 1359.9h0M142.0 1359.0h0M160.4 1359.0h0M315.0 1359.0h0M326.9 1359.0h0M479.9 1359.0h0M657.2 1359.0h0M661.3 1359.0h0M687.2 1359.0h0M129.2 1358.2h0M159.3 1358.2h0M343.3 1358.2h0M556.0 1358.2h0M226.7 1357.4h0M247.2 1357.4h0M265.6 1357.4h0M306.7 1357.4h0M327.0 1357.4h0M329.2 1357.4h0M388.0 1357.4h0M448.8 1357.4h0M512.0 1357.4h0M514.5 1357.4h0M181.7 1356.5h0M327.4 1356.5h0M145.1 1355.7h0M171.4 1355.7h0M330.7 1355.7h0M512.8 1355.7h0M691.1 1355.7h0M329.7 1354.9h0M337.2 1354.9h0M404.0 1354.9h0M449.7 1354.9h0M481.8 1354.9h0M547.4 1354.9h0M564.8 1354.9h0M572.8 1354.9h0M599.7 1354.9h0M636.1 1354.9h0M683.7 1354.9h0M695.0 1354.9h0M291.4 1354.0h0M325.2 1354.0h0M327.7 1354.0h0M329.2 1354.0h0M378.4 1354.0h0M406.5 1354.0h0M472.0 1354.0h0M483.2 1354.0h0M517.1 1354.0h0M521.5 1354.0h0M694.3 1354.0h0M134.5 1353.2h0M179.6 1353.2h0M327.0 1353.2h0M328.0 1353.2h0M328.5 1353.2h0M329.9 1353.2h0M334.0 1353.2h0M460.5 1353.2h0M511.4 1353.2h0M302.0 1352.4h0M328.2 1352.4h0M663.7 1352.4h0M198.7 1351.5h0M287.8 1351.5h0M332.5 1351.5h0M381.0 1351.5h0M563.6 1351.5h0M571.8 1351.5h0M686.2 1351.5h0M147.4 1350.7h0M158.6 1350.7h0M231.1 1350.7h0M480.0 1350.7h0M656.5 1350.7h0M327.0 1349.9h0M327.6 1349.9h0M329.6 1349.9h0M330.5 1349.9h0M361.6 1349.9h0M632.4 1349.9h0M680.6 1349.9h0M139.2 1349.0h0M258.5 1349.0h0M415.4 1349.0h0M632.7 1349.0h0M679.8 1349.0h0M332.1 1348.2h0M351.8 1348.2h0M482.8 1348.2h0M535.8 1348.2h0M546.3 1348.2h0M597.1 1348.2h0M651.0 1348.2h0M271.6 1347.4h0M273.4 1347.4h0M327.6 1347.4h0M690.6 1347.4h0M131.4 1346.5h0M321.5 1346.5h0M328.7 1346.5h0M343.5 1346.5h0M391.2 1346.5h0M465.9 1346.5h0M123.8 1345.7h0M196.4 1345.7h0M260.9 1345.7h0M608.8 1345.7h0M615.8 1345.7h0M262.3 1344.9h0M330.1 1344.9h0M338.2 1344.9h0M384.0 1344.9h0M431.2 1344.9h0M483.7 1344.9h0M556.1 1344.9h0M566.9 1344.9h0M599.0 1344.9h0M267.1 1344.0h0M277.4 1344.0h0M345.7 1344.0h0M395.1 1344.0h0M525.1 1344.0h0M528.4 1344.0h0M596.0 1344.0h0M299.3 1343.2h0M330.6 1343.2h0M332.1 1343.2h0M335.0 1343.2h0M431.3 1343.2h0M143.4 1342.4h0M328.6 1342.4h0M592.6 1342.4h0M656.8 1342.4h0M253.1 1341.5h0M287.2 1341.5h0M310.5 1341.5h0M329.2 1341.5h0M482.8 1341.5h0M650.6 1341.5h0M695.7 1341.5h0M273.4 1340.7h0M280.0 1340.7h0M285.7 1340.7h0M403.6 1340.7h0M460.9 1340.7h0M461.5 1340.7h0M486.4 1340.7h0M570.5 1340.7h0M181.1 1339.9h0M186.5 1339.9h0M228.4 1339.9h0M253.2 1339.9h0M263.8 1339.9h0M325.7 1339.9h0M329.8 1339.9h0M330.6 1339.9h0M402.9 1339.9h0M488.2 1339.9h0M588.4 1339.9h0M647.4 1339.9h0M697.2 1339.9h0M152.4 1339.0h0M277.9 1339.0h0M326.9 1339.0h0M329.7 1339.0h0M330.4 1339.0h0M514.1 1339.0h0M522.2 1339.0h0M537.2 1339.0h0M604.9 1339.0h0M605.3 1339.0h0M115.9 1338.2h0M279.4 1338.2h0M327.7 1338.2h0M330.7 1338.2h0M332.5 1338.2h0M361.2 1338.2h0M381.1 1338.2h0M453.4 1338.2h0M616.9 1338.2h0M700.3 1338.2h0M126.0 1337.4h0M171.3 1337.4h0M328.6 1337.4h0M413.6 1337.4h0M520.5 1337.4h0M568.9 1337.4h0M139.3 1336.5h0M189.1 1336.5h0M330.1 1336.5h0M414.9 1336.5h0M487.7 1336.5h0M323.2 1335.7h0M323.8 1335.7h0M355.1 1335.7h0M488.5 1335.7h0M311.2 1334.9h0M327.1 1334.9h0M434.7 1334.9h0M460.7 1334.9h0M463.4 1334.9h0M505.9 1334.9h0M550.0 1334.9h0M568.7 1334.9h0M169.4 1334.0h0M220.1 1334.0h0M224.7 1334.0h0M320.6 1334.0h0M326.8 1334.0h0M489.9 1334.0h0M639.4 1334.0h0M132.4 1333.2h0M204.0 1333.2h0M205.6 1333.2h0M329.9 1333.2h0M330.4 1333.2h0M596.6 1333.2h0M231.2 1332.4h0M294.6 1332.4h0M330.3 1332.4h0M468.8 1332.4h0M525.1 1332.4h0M553.7 1332.4h0M591.8 1332.4h0M607.6 1332.4h0M689.5 1332.4h0M137.5 1331.5h0M327.3 1331.5h0M332.8 1331.5h0M414.6 1331.5h0M423.0 1331.5h0M481.6 1331.5h0M548.3 1331.5h0M128.6 1330.7h0M173.0 1330.7h0M359.8 1330.7h0M404.8 1330.7h0M480.1 1330.7h0M658.9 1330.7h0M197.3 1329.9h0M326.2 1329.9h0M327.5 1329.9h0M434.2 1329.9h0M461.3 1329.9h0M554.0 1329.9h0M571.0 1329.9h0M644.0 1329.9h0M656.8 1329.9h0M138.6 1329.0h0M204.5 1329.0h0M265.4 1329.0h0M331.6 1329.0h0M576.8 1329.0h0M607.9 1329.0h0M662.0 1329.0h0M181.4 1328.2h0M329.3 1328.2h0M455.3 1328.2h0M528.4 1328.2h0M536.0 1328.2h0M592.3 1328.2h0M118.1 1327.4h0M217.4 1327.4h0M226.1 1327.4h0M324.4 1327.4h0M329.2 1327.4h0M542.4 1327.4h0M659.2 1327.4h0M673.2 1327.4h0M697.0 1327.4h0M161.8 1326.5h0M182.3 1326.5h0M188.1 1326.5h0M547.9 1326.5h0M667.8 1326.5h0M190.3 1325.7h0M202.1 1325.7h0M223.9 1325.7h0M288.5 1325.7h0M329.0 1325.7h0M329.6 1325.7h0M357.6 1325.7h0M464.9 1325.7h0M492.6 1325.7h0M530.7 1325.7h0M577.6 1325.7h0M587.6 1325.7h0M654.0 1325.7h0M677.4 1325.7h0M695.5 1325.7h0M256.7 1324.9h0M523.5 1324.9h0M657.8 1324.9h0M324.9 1324.0h0M328.2 1324.0h0M329.8 1324.0h0M491.5 1324.0h0M525.9 1324.0h0M645.9 1324.0h0M119.5 1323.2h0M121.4 1323.2h0M138.4 1323.2h0M162.9 1323.2h0M143.7 1322.4h0M148.3 1322.4h0M326.1 1322.4h0M464.2 1322.4h0M475.8 1322.4h0M519.7 1322.4h0M554.5 1322.4h0M694.7 1322.4h0M117.2 1321.5h0M306.0 1321.5h0M452.1 1321.5h0M474.0 1321.5h0M310.1 1320.7h0M425.3 1320.7h0M528.8 1320.7h0M655.7 1320.7h0M143.7 1319.9h0M452.2 1319.9h0M566.5 1319.9h0M174.1 1319.0h0M481.3 1319.0h0M560.0 1319.0h0M641.9 1319.0h0M133.1 1318.2h0M239.3 1318.2h0M242.0 1318.2h0M377.8 1318.2h0M647.8 1318.2h0M666.8 1318.2h0M676.8 1318.2h0M142.7 1317.4h0M259.4 1317.4h0M279.1 1317.4h0M301.7 1317.4h0M328.5 1317.4h0M351.7 1317.4h0M456.8 1317.4h0M614.6 1317.4h0M699.4 1317.4h0M150.8 1316.6h0M326.5 1316.6h0M329.4 1316.6h0M330.4 1316.6h0M370.0 1316.6h0M535.0 1316.6h0M289.8 1315.7h0M324.0 1315.7h0M328.1 1315.7h0M331.5 1315.7h0M514.9 1315.7h0M566.9 1315.7h0M579.0 1315.7h0M134.7 1314.9h0M579.9 1314.9h0M596.6 1314.9h0M617.9 1314.9h0M643.7 1314.9h0M207.9 1314.1h0M275.3 1314.1h0M284.4 1314.1h0M289.8 1314.1h0M325.1 1314.1h0M326.9 1314.1h0M444.5 1314.1h0M481.9 1314.1h0M211.7 1313.2h0M324.7 1313.2h0M332.8 1313.2h0M347.5 1313.2h0M438.7 1313.2h0M488.5 1313.2h0M522.5 1313.2h0M593.0 1313.2h0M157.6 1312.4h0M269.7 1312.4h0M274.8 1312.4h0M328.8 1312.4h0M518.3 1312.4h0M569.1 1312.4h0M219.1 1311.6h0M324.9 1311.6h0M327.0 1311.6h0M329.3 1311.6h0M404.1 1311.6h0M542.1 1311.6h0M271.1 1310.7h0M330.0 1310.7h0M382.2 1310.7h0M516.6 1310.7h0M574.1 1310.7h0M577.2 1310.7h0M119.5 1309.9h0M208.9 1309.9h0M328.6 1309.9h0M369.7 1309.9h0M494.3 1309.9h0M522.5 1309.9h0M552.4 1309.9h0M664.0 1309.9h0M138.8 1309.1h0M173.0 1309.1h0M213.8 1309.1h0M251.0 1309.1h0M314.2 1309.1h0M323.3 1309.1h0M325.4 1309.1h0M325.8 1309.1h0M327.9 1309.1h0M331.8 1309.1h0M541.0 1309.1h0M585.1 1309.1h0M632.9 1309.1h0M330.5 1308.2h0M450.6 1308.2h0M481.9 1308.2h0M552.0 1308.2h0M656.4 1308.2h0M155.9 1307.4h0M189.2 1307.4h0M329.2 1307.4h0M333.0 1307.4h0M460.8 1307.4h0M493.3 1307.4h0M501.7 1307.4h0M655.5 1307.4h0M674.6 1307.4h0M264.0 1306.6h0M295.0 1306.6h0M329.8 1306.6h0M554.3 1306.6h0M568.3 1306.6h0M584.7 1306.6h0M615.9 1306.6h0M298.7 1305.7h0M327.3 1305.7h0M342.3 1305.7h0M425.0 1305.7h0M564.9 1305.7h0M614.3 1305.7h0M663.9 1305.7h0M312.6 1304.9h0M328.1 1304.9h0M530.1 1304.9h0M139.5 1304.1h0M290.7 1304.1h0M297.8 1304.1h0M323.6 1304.1h0M361.9 1304.1h0M397.0 1304.1h0M457.1 1304.1h0M466.2 1304.1h0M627.6 1304.1h0M658.7 1304.1h0M213.5 1303.2h0M313.8 1303.2h0M324.9 1303.2h0M328.8 1303.2h0M488.6 1303.2h0M502.5 1303.2h0M254.8 1302.4h0M326.7 1302.4h0M327.8 1302.4h0M422.0 1302.4h0M449.2 1302.4h0M549.4 1302.4h0M655.3 1302.4h0M691.6 1302.4h0M155.0 1301.6h0M176.4 1301.6h0M330.2 1301.6h0M567.0 1301.6h0M580.4 1301.6h0M603.0 1301.6h0M670.5 1301.6h0M125.6 1300.7h0M256.6 1300.7h0M317.1 1300.7h0M326.6 1300.7h0M328.6 1300.7h0M331.7 1300.7h0M505.5 1300.7h0M576.2 1300.7h0M620.0 1300.7h0M300.0 1299.9h0M326.4 1299.9h0M328.8 1299.9h0M332.3 1299.9h0M692.6 1299.9h0M167.6 1299.1h0M170.5 1299.1h0M243.5 1299.1h0M295.5 1299.1h0M358.1 1299.1h0M481.8 1299.1h0M673.1 1299.1h0M120.2 1298.2h0M155.4 1298.2h0M209.0 1298.2h0M522.1 1298.2h0M590.1 1298.2h0M601.4 1298.2h0M653.9 1298.2h0M655.2 1298.2h0M215.0 1297.4h0M249.4 1297.4h0M261.6 1297.4h0M326.3 1297.4h0M334.0 1297.4h0M402.7 1297.4h0M467.2 1297.4h0M500.8 1297.4h0M627.6 1297.4h0M184.8 1296.6h0M310.8 1296.6h0M324.4 1296.6h0M210.4 1295.7h0M689.6 1295.7h0M331.2 1294.9h0M141.1 1294.1h0M327.2 1294.1h0M336.4 1294.1h0M388.0 1294.1h0M460.7 1294.1h0M660.2 1294.1h0M147.5 1293.2h0M185.9 1293.2h0M187.5 1293.2h0M227.0 1293.2h0M328.7 1293.2h0M385.5 1293.2h0M430.0 1293.2h0M614.4 1293.2h0M136.0 1292.4h0M260.6 1292.4h0M317.1 1292.4h0M330.9 1292.4h0M505.7 1292.4h0M570.4 1292.4h0M607.9 1292.4h0M653.5 1292.4h0M150.3 1291.6h0M222.2 1291.6h0M333.3 1291.6h0M589.1 1291.6h0M679.0 1291.6h0M163.3 1290.7h0M227.4 1290.7h0M324.9 1290.7h0M396.9 1290.7h0M458.8 1290.7h0M498.1 1290.7h0M182.6 1289.9h0M238.8 1289.9h0M381.2 1289.9h0M400.8 1289.9h0M497.1 1289.9h0M692.7 1289.9h0M139.4 1289.1h0M181.9 1289.1h0M186.3 1289.1h0M429.4 1289.1h0M537.7 1289.1h0M578.6 1289.1h0M621.3 1289.1h0M125.9 1288.2h0M175.3 1288.2h0M206.2 1288.2h0M270.1 1288.2h0M287.4 1288.2h0M428.0 1288.2h0M437.2 1288.2h0M505.8 1288.2h0M532.0 1288.2h0M550.6 1288.2h0M571.5 1288.2h0M695.0 1288.2h0M700.5 1288.2h0M116.1 1287.4h0M397.0 1287.4h0M470.4 1287.4h0M486.4 1287.4h0M530.0 1287.4h0M541.3 1287.4h0M542.7 1287.4h0M609.4 1287.4h0M611.3 1287.4h0M645.7 1287.4h0M214.7 1286.6h0M254.6 1286.6h0M462.5 1286.6h0M483.7 1286.6h0M604.4 1286.6h0M648.5 1286.6h0M128.7 1285.7h0M299.4 1285.7h0M328.7 1285.7h0M409.6 1285.7h0M492.6 1285.7h0M509.9 1285.7h0M557.2 1285.7h0M618.6 1285.7h0M263.5 1284.9h0M301.0 1284.9h0M325.4 1284.9h0M334.3 1284.9h0M473.6 1284.9h0M278.7 1284.1h0M474.7 1284.1h0M561.0 1284.1h0M690.7 1284.1h0M182.2 1283.2h0M202.1 1283.2h0M207.2 1283.2h0M325.6 1283.2h0M483.7 1283.2h0M582.8 1283.2h0M701.4 1283.2h0M325.0 1282.4h0M328.3 1282.4h0M334.0 1282.4h0M575.9 1282.4h0M651.5 1282.4h0M686.9 1282.4h0M695.5 1282.4h0M115.8 1281.6h0M325.5 1281.6h0M461.7 1281.6h0M523.5 1281.6h0M193.4 1280.7h0M218.2 1280.7h0M318.9 1280.7h0M329.8 1280.7h0M446.3 1280.7h0M450.2 1280.7h0M514.0 1280.7h0M541.1 1280.7h0M593.2 1280.7h0M621.1 1280.7h0M241.7 1279.9h0M324.0 1279.9h0M325.2 1279.9h0M327.3 1279.9h0M463.2 1279.9h0M572.2 1279.9h0M224.8 1279.1h0M253.3 1279.1h0M276.2 1279.1h0M326.5 1279.1h0M330.6 1279.1h0M694.0 1279.1h0M163.4 1278.2h0M198.7 1278.2h0M289.0 1278.2h0M333.7 1278.2h0M572.2 1278.2h0M327.9 1277.4h0M495.2 1277.4h0M597.2 1277.4h0M676.7 1277.4h0M701.3 1277.4h0M328.3 1276.6h0M339.2 1276.6h0M366.7 1276.6h0M504.6 1276.6h0M650.5 1276.6h0M153.2 1275.7h0M203.7 1275.7h0M259.3 1275.7h0M328.8 1275.7h0M329.2 1275.7h0M537.0 1275.7h0M654.7 1275.7h0M156.4 1274.9h0M211.0 1274.9h0M237.5 1274.9h0M238.7 1274.9h0M329.0 1274.9h0M333.1 1274.9h0M474.0 1274.9h0M505.0 1274.9h0M557.8 1274.9h0M699.6 1274.9h0M168.8 1274.1h0M187.7 1274.1h0M188.5 1274.1h0M231.4 1274.1h0M326.0 1274.1h0M402.6 1274.1h0M403.7 1274.1h0M484.6 1274.1h0M516.0 1274.1h0M540.5 1274.1h0M553.1 1274.1h0M590.4 1274.1h0M645.9 1274.1h0M330.3 1273.2h0M396.6 1273.2h0M441.2 1273.2h0M466.7 1273.2h0M115.9 1272.4h0M119.9 1272.4h0M165.6 1272.4h0M332.6 1272.4h0M461.6 1272.4h0M482.0 1272.4h0M579.2 1272.4h0M641.6 1272.4h0M664.9 1272.4h0M685.3 1272.4h0M173.1 1271.6h0M338.5 1271.6h0M379.1 1271.6h0M410.8 1271.6h0M462.8 1271.6h0M525.3 1271.6h0M125.7 1270.7h0M149.4 1270.7h0M207.4 1270.7h0M209.3 1270.7h0M327.4 1270.7h0M328.4 1270.7h0M365.3 1270.7h0M506.8 1270.7h0M626.9 1270.7h0M636.8 1270.7h0M651.3 1270.7h0M131.7 1269.9h0M186.0 1269.9h0M347.6 1269.9h0M470.3 1269.9h0M512.5 1269.9h0M616.5 1269.9h0M657.5 1269.9h0M691.4 1269.9h0M326.6 1269.1h0M328.2 1269.1h0M329.5 1269.1h0M123.3 1268.2h0M221.1 1268.2h0M301.3 1268.2h0M304.1 1268.2h0M309.1 1268.2h0M407.9 1268.2h0M433.1 1268.2h0M631.6 1268.2h0M160.7 1267.4h0M288.8 1267.4h0M328.9 1267.4h0M617.3 1267.4h0M697.7 1267.4h0M137.2 1266.6h0M145.1 1266.6h0M267.9 1266.6h0M304.9 1266.6h0M332.5 1266.6h0M322.5 1265.7h0M325.1 1265.7h0M326.8 1265.7h0M361.5 1265.7h0M518.3 1265.7h0M562.0 1265.7h0M623.5 1265.7h0M172.0 1264.9h0M326.5 1264.9h0M491.5 1264.9h0M492.8 1264.9h0M543.2 1264.9h0M668.3 1264.9h0M161.0 1264.1h0M168.7 1264.1h0M190.7 1264.1h0M275.6 1264.1h0M288.4 1264.1h0M324.4 1264.1h0M368.8 1264.1h0M469.9 1264.1h0M210.5 1263.2h0M218.5 1263.2h0M267.4 1263.2h0M336.2 1263.2h0M391.6 1263.2h0M455.5 1263.2h0M467.8 1263.2h0M469.2 1263.2h0M605.7 1263.2h0M212.3 1262.4h0M229.7 1262.4h0M235.5 1262.4h0M324.1 1262.4h0M326.6 1262.4h0M458.6 1262.4h0M630.1 1262.4h0M687.3 1262.4h0M120.5 1261.6h0M241.4 1261.6h0M319.5 1261.6h0M329.6 1261.6h0M480.1 1261.6h0M543.2 1261.6h0M568.4 1261.6h0M307.1 1260.7h0M459.0 1260.7h0M656.0 1260.7h0M144.3 1259.9h0M153.8 1259.9h0M441.8 1259.9h0M689.9 1259.9h0M119.6 1259.1h0M291.0 1259.1h0M330.6 1259.1h0M372.8 1259.1h0M509.6 1259.1h0M571.3 1259.1h0M142.0 1258.2h0M186.2 1258.2h0M204.6 1258.2h0M362.9 1258.2h0M390.8 1258.2h0M596.8 1258.2h0M605.9 1258.2h0M633.9 1258.2h0M645.5 1258.2h0M150.3 1257.4h0M212.8 1257.4h0M257.1 1257.4h0M277.9 1257.4h0M311.0 1257.4h0M323.3 1257.4h0M325.6 1257.4h0M334.0 1257.4h0M474.1 1257.4h0M520.4 1257.4h0M666.4 1257.4h0M304.3 1256.6h0M317.4 1256.6h0M328.8 1256.6h0M481.0 1256.6h0M503.5 1256.6h0M636.8 1256.6h0M188.0 1255.7h0M326.2 1255.7h0M345.4 1255.7h0M504.1 1255.7h0M540.0 1255.7h0M616.2 1255.7h0M643.0 1255.7h0M152.9 1254.9h0M173.0 1254.9h0M232.5 1254.9h0M326.6 1254.9h0M517.5 1254.9h0M590.4 1254.9h0M680.1 1254.9h0M145.5 1254.1h0M328.0 1254.1h0M361.7 1254.1h0M575.2 1254.1h0M640.5 1254.1h0M320.7 1253.2h0M325.9 1253.2h0M602.6 1253.2h0M643.2 1253.2h0M248.6 1252.4h0M364.2 1252.4h0M430.3 1252.4h0M501.1 1252.4h0M631.2 1252.4h0M641.5 1252.4h0M696.6 1252.4h0M363.9 1251.6h0M630.5 1251.6h0M679.4 1251.6h0M133.3 1250.7h0M210.7 1250.7h0M259.1 1250.7h0M309.2 1250.7h0M327.8 1250.7h0M346.1 1250.7h0M463.6 1250.7h0M471.5 1250.7h0M511.5 1250.7h0M517.6 1250.7h0M654.6 1250.7h0M219.7 1249.9h0M308.5 1249.9h0M156.1 1249.1h0M257.3 1249.1h0M325.9 1249.1h0M350.0 1249.1h0M126.1 1248.2h0M328.5 1248.2h0M344.5 1248.2h0M429.2 1248.2h0M566.5 1248.2h0M663.8 1248.2h0M664.6 1248.2h0M233.7 1247.4h0M326.4 1247.4h0M329.1 1247.4h0M364.3 1247.4h0M458.8 1247.4h0M502.0 1247.4h0M511.6 1247.4h0M675.7 1247.4h0M701.6 1247.4h0M329.5 1246.6h0M330.5 1246.6h0M677.7 1246.6h0M322.9 1245.7h0M326.0 1245.7h0M329.0 1245.7h0M460.7 1245.7h0M637.5 1245.7h0M704.2 1245.7h0M185.8 1244.9h0M328.4 1244.9h0M342.6 1244.9h0M476.1 1244.9h0M541.3 1244.9h0M573.8 1244.9h0M619.9 1244.9h0M687.5 1244.9h0M283.4 1244.1h0M316.3 1244.1h0M330.1 1244.1h0M661.1 1244.1h0M166.7 1243.2h0M257.7 1243.2h0M294.9 1243.2h0M323.5 1243.2h0M327.3 1243.2h0M328.2 1243.2h0M328.8 1243.2h0M339.5 1243.2h0M470.9 1243.2h0M647.9 1243.2h0M326.6 1242.4h0M424.5 1242.4h0M465.8 1242.4h0M602.8 1242.4h0M685.5 1242.4h0M208.2 1241.6h0M213.3 1241.6h0M266.4 1241.6h0M267.5 1241.6h0M324.7 1241.6h0M455.8 1241.6h0M480.9 1241.6h0M121.1 1240.7h0M257.0 1240.7h0M325.4 1240.7h0M326.3 1240.7h0M328.2 1240.7h0M349.6 1240.7h0M449.8 1240.7h0M634.9 1240.7h0M224.2 1239.9h0M255.0 1239.9h0M266.0 1239.9h0M677.8 1239.9h0M326.5 1239.1h0M327.7 1239.1h0M443.0 1239.1h0M484.4 1239.1h0M603.2 1239.1h0M638.4 1239.1h0M669.2 1239.1h0M182.7 1238.2h0M313.2 1238.2h0M374.9 1238.2h0M384.1 1238.2h0M403.5 1238.2h0M433.5 1238.2h0M474.5 1238.2h0M506.2 1238.2h0M586.4 1238.2h0M655.9 1238.2h0M131.4 1237.4h0M156.6 1237.4h0M221.2 1237.4h0M225.0 1237.4h0M324.0 1237.4h0M332.6 1237.4h0M433.5 1237.4h0M465.6 1237.4h0M498.1 1237.4h0M139.7 1236.6h0M293.8 1236.6h0M302.0 1236.6h0M331.7 1236.6h0M356.8 1236.6h0M438.9 1236.6h0M512.5 1236.6h0M607.2 1236.6h0M659.0 1236.6h0M327.0 1235.7h0M328.1 1235.7h0M353.1 1235.7h0M482.8 1235.7h0M678.2 1235.7h0M162.5 1234.9h0M234.1 1234.9h0M297.0 1234.9h0M193.5 1234.1h0M425.2 1234.1h0M452.2 1234.1h0M491.3 1234.1h0M662.2 1234.1h0M668.0 1234.1h0M137.8 1233.3h0M475.7 1233.3h0M196.3 1232.4h0M330.7 1232.4h0M400.8 1232.4h0M402.0 1232.4h0M470.4 1232.4h0M652.1 1232.4h0M657.6 1232.4h0M130.7 1231.6h0M191.6 1231.6h0M228.7 1231.6h0M324.9 1231.6h0M326.6 1231.6h0M334.8 1231.6h0M477.1 1231.6h0M167.0 1230.8h0M325.8 1230.8h0M326.7 1230.8h0M331.9 1230.8h0M421.2 1230.8h0M464.5 1230.8h0M487.7 1230.8h0M658.6 1230.8h0M666.0 1230.8h0M194.1 1229.9h0M242.7 1229.9h0M427.7 1229.9h0M143.8 1229.1h0M201.9 1229.1h0M281.3 1229.1h0M324.2 1229.1h0M430.9 1229.1h0M490.3 1229.1h0M115.3 1228.3h0M327.0 1228.3h0M529.7 1228.3h0M538.8 1228.3h0M675.7 1228.3h0M148.0 1227.4h0M326.5 1227.4h0M329.1 1227.4h0M361.4 1227.4h0M486.4 1227.4h0M514.2 1227.4h0M210.7 1226.6h0M311.4 1226.6h0M329.9 1226.6h0M527.1 1226.6h0M546.0 1226.6h0M632.5 1226.6h0M667.0 1226.6h0M314.7 1225.8h0M364.8 1225.8h0M399.3 1225.8h0M517.2 1225.8h0M647.3 1225.8h0M667.4 1225.8h0M147.3 1224.9h0M160.1 1224.9h0M180.3 1224.9h0M217.6 1224.9h0M326.9 1224.9h0M327.7 1224.9h0M329.3 1224.9h0M333.1 1224.9h0M387.2 1224.9h0M414.9 1224.9h0M426.5 1224.9h0M663.7 1224.9h0M696.9 1224.9h0M221.8 1224.1h0M354.5 1224.1h0M583.5 1224.1h0M661.5 1224.1h0M220.1 1223.3h0M275.0 1223.3h0M304.4 1223.3h0M327.0 1223.3h0M327.8 1223.3h0M437.7 1223.3h0M503.8 1223.3h0M269.8 1222.4h0M286.3 1222.4h0M297.9 1222.4h0M325.0 1222.4h0M337.1 1222.4h0M646.5 1222.4h0M679.2 1222.4h0M681.1 1222.4h0M444.9 1221.6h0M471.0 1221.6h0M203.2 1220.8h0M260.5 1220.8h0M473.4 1220.8h0M612.1 1220.8h0M348.5 1219.9h0M387.6 1219.9h0M446.5 1219.9h0M495.1 1219.9h0M508.6 1219.9h0M619.0 1219.9h0M240.6 1219.1h0M261.7 1219.1h0M466.6 1219.1h0M470.7 1219.1h0M497.2 1219.1h0M664.8 1219.1h0M121.4 1218.3h0M324.0 1218.3h0M326.4 1218.3h0M463.1 1218.3h0M503.3 1218.3h0M549.8 1218.3h0M584.7 1218.3h0M136.3 1217.4h0M307.9 1217.4h0M329.4 1217.4h0M331.7 1217.4h0M591.5 1217.4h0M653.1 1217.4h0M667.9 1217.4h0M269.1 1216.6h0M328.1 1216.6h0M553.3 1216.6h0M169.7 1215.8h0M264.4 1215.8h0M311.7 1215.8h0M322.6 1215.8h0M325.3 1215.8h0M325.7 1215.8h0M458.8 1215.8h0M462.6 1215.8h0M124.0 1214.9h0M164.4 1214.9h0M326.0 1214.9h0M355.8 1214.9h0M514.6 1214.9h0M214.3 1214.1h0M272.1 1214.1h0M327.0 1214.1h0M387.9 1214.1h0M457.8 1214.1h0M466.0 1214.1h0M673.7 1214.1h0M289.9 1213.3h0M294.1 1213.3h0M431.7 1213.3h0M445.1 1213.3h0M489.8 1213.3h0M513.1 1213.3h0M552.3 1213.3h0M561.1 1213.3h0M628.5 1213.3h0M278.0 1212.4h0M403.9 1212.4h0M463.2 1212.4h0M534.5 1212.4h0M546.3 1212.4h0M549.8 1212.4h0M640.9 1212.4h0M176.5 1211.6h0M208.1 1211.6h0M231.5 1211.6h0M260.4 1211.6h0M326.9 1211.6h0M523.0 1211.6h0M158.8 1210.8h0M237.0 1210.8h0M241.5 1210.8h0M322.4 1210.8h0M346.9 1210.8h0M458.8 1210.8h0M506.9 1210.8h0M608.9 1210.8h0M615.0 1210.8h0M282.6 1209.9h0M332.3 1209.9h0M562.5 1209.9h0M141.5 1209.1h0M246.1 1209.1h0M484.3 1209.1h0M552.5 1209.1h0M565.0 1209.1h0M591.2 1209.1h0M654.9 1209.1h0M176.1 1208.3h0M196.7 1208.3h0M443.3 1208.3h0M489.8 1208.3h0M606.7 1208.3h0M378.6 1207.4h0M484.5 1207.4h0M591.0 1207.4h0M118.4 1206.6h0M199.7 1206.6h0M411.5 1206.6h0M460.4 1206.6h0M523.2 1206.6h0M409.1 1205.8h0M476.5 1205.8h0M676.1 1205.8h0M251.1 1204.9h0M303.4 1204.9h0M331.8 1204.9h0M553.4 1204.9h0M329.0 1204.1h0M329.8 1204.1h0M334.2 1204.1h0M568.0 1204.1h0M584.7 1204.1h0M272.5 1203.3h0M318.4 1203.3h0M326.0 1203.3h0M327.1 1203.3h0M328.2 1203.3h0M385.7 1203.3h0M602.9 1203.3h0M152.8 1202.4h0M270.5 1202.4h0M315.1 1202.4h0M330.4 1202.4h0M441.3 1202.4h0M443.0 1202.4h0M445.1 1202.4h0M504.9 1202.4h0M541.9 1202.4h0M575.7 1202.4h0M576.3 1202.4h0M626.4 1202.4h0M170.7 1201.6h0M239.2 1201.6h0M663.5 1201.6h0M116.2 1200.8h0M122.3 1200.8h0M328.1 1200.8h0M329.6 1200.8h0M348.5 1200.8h0M394.9 1200.8h0M466.8 1200.8h0M469.1 1200.8h0M507.5 1200.8h0M511.8 1200.8h0M536.1 1200.8h0M607.2 1200.8h0M687.1 1200.8h0M687.9 1200.8h0M223.7 1199.9h0M291.5 1199.9h0M292.4 1199.9h0M404.1 1199.9h0M504.3 1199.9h0M616.0 1199.9h0M643.2 1199.9h0M619.7 1199.1h0M184.5 1198.3h0M211.6 1198.3h0M246.3 1198.3h0M297.0 1198.3h0M452.6 1198.3h0M645.3 1198.3h0M137.4 1197.4h0M163.0 1197.4h0M330.3 1197.4h0M499.6 1197.4h0M520.3 1197.4h0M557.2 1197.4h0M161.6 1196.6h0M220.9 1196.6h0M258.6 1196.6h0M304.8 1196.6h0M323.8 1196.6h0M328.8 1196.6h0M330.3 1196.6h0M331.0 1196.6h0M480.6 1196.6h0M579.7 1196.6h0M145.5 1195.8h0M264.1 1195.8h0M311.5 1195.8h0M331.6 1195.8h0M359.7 1195.8h0M381.2 1195.8h0M490.3 1195.8h0M615.3 1195.8h0M303.5 1194.9h0M304.7 1194.9h0M326.5 1194.9h0M326.9 1194.9h0M327.8 1194.9h0M464.1 1194.9h0M489.7 1194.9h0M586.6 1194.9h0M632.8 1194.9h0M271.7 1194.1h0M326.2 1194.1h0M328.2 1194.1h0M423.2 1194.1h0M436.8 1194.1h0M539.0 1194.1h0M683.8 1194.1h0M295.2 1193.3h0M327.1 1193.3h0M330.0 1193.3h0M334.0 1193.3h0M386.4 1193.3h0M140.3 1192.4h0M327.7 1192.4h0M332.4 1192.4h0M448.7 1192.4h0M465.2 1192.4h0M601.9 1192.4h0M289.9 1191.6h0M325.3 1191.6h0M327.6 1191.6h0M469.9 1191.6h0M475.4 1191.6h0M689.9 1191.6h0M147.7 1190.8h0M415.8 1190.8h0M470.9 1190.8h0M548.8 1190.8h0M580.0 1190.8h0M125.7 1189.9h0M269.5 1189.9h0M327.0 1189.9h0M449.7 1189.9h0M496.0 1189.9h0M525.8 1189.9h0M602.1 1189.9h0M691.5 1189.9h0M158.0 1189.1h0M280.2 1189.1h0M451.9 1189.1h0M467.9 1189.1h0M482.2 1189.1h0M278.7 1188.3h0M332.1 1188.3h0M504.2 1188.3h0M530.7 1188.3h0M614.2 1188.3h0M175.4 1187.4h0M176.0 1187.4h0M326.1 1187.4h0M472.6 1187.4h0M574.8 1187.4h0M631.1 1187.4h0M638.7 1187.4h0M248.2 1186.6h0M325.4 1186.6h0M327.6 1186.6h0M344.4 1186.6h0M386.5 1186.6h0M398.3 1186.6h0M453.6 1186.6h0M499.9 1186.6h0M653.4 1186.6h0M118.7 1185.8h0M195.0 1185.8h0M286.7 1185.8h0M325.1 1185.8h0M447.4 1185.8h0M496.9 1185.8h0M595.7 1185.8h0M129.0 1184.9h0M293.3 1184.9h0M516.1 1184.9h0M624.5 1184.9h0M148.1 1184.1h0M257.1 1184.1h0M323.6 1184.1h0M327.0 1184.1h0M327.9 1184.1h0M330.9 1184.1h0M340.3 1184.1h0M474.6 1184.1h0M579.2 1184.1h0M324.7 1183.3h0M481.4 1183.3h0M126.7 1182.4h0M336.3 1182.4h0M118.1 1181.6h0M175.8 1181.6h0M331.1 1181.6h0M462.9 1181.6h0M497.5 1181.6h0M188.0 1180.8h0M312.0 1180.8h0M331.6 1180.8h0M416.4 1180.8h0M466.9 1180.8h0M470.5 1180.8h0M476.0 1180.8h0M534.4 1180.8h0M672.0 1180.8h0M154.6 1179.9h0M207.3 1179.9h0M230.9 1179.9h0M280.7 1179.9h0M329.2 1179.9h0M331.6 1179.9h0M384.2 1179.9h0M461.0 1179.9h0M543.2 1179.9h0M556.0 1179.9h0M648.6 1179.9h0M697.1 1179.9h0M156.9 1179.1h0M327.5 1179.1h0M356.4 1179.1h0M425.1 1179.1h0M477.4 1179.1h0M489.8 1179.1h0M544.4 1179.1h0M624.0 1179.1h0M296.1 1178.3h0M322.0 1178.3h0M448.6 1178.3h0M530.7 1178.3h0M551.7 1178.3h0M574.2 1178.3h0M597.6 1178.3h0M656.5 1178.3h0M189.0 1177.4h0M212.6 1177.4h0M290.8 1177.4h0M305.7 1177.4h0M326.2 1177.4h0M478.8 1177.4h0M536.0 1177.4h0M558.4 1177.4h0M694.2 1177.4h0M242.5 1176.6h0M308.1 1176.6h0M323.3 1176.6h0M324.7 1176.6h0M484.6 1176.6h0M123.5 1175.8h0M175.5 1175.8h0M206.9 1175.8h0M373.4 1175.8h0M475.3 1175.8h0M480.9 1175.8h0M505.7 1175.8h0M576.8 1175.8h0M580.8 1175.8h0M664.7 1175.8h0M165.1 1174.9h0M313.3 1174.9h0M328.9 1174.9h0M686.4 1174.9h0M689.5 1174.9h0M242.2 1174.1h0M328.1 1174.1h0M444.9 1174.1h0M553.8 1174.1h0M653.4 1174.1h0M325.4 1173.3h0M329.2 1173.3h0M379.4 1173.3h0M479.4 1173.3h0M622.9 1173.3h0M151.5 1172.4h0M216.2 1172.4h0M323.3 1172.4h0M326.7 1172.4h0M462.5 1172.4h0M488.8 1172.4h0M594.2 1172.4h0M156.4 1171.6h0M225.6 1171.6h0M273.8 1171.6h0M328.3 1171.6h0M415.4 1171.6h0M556.2 1171.6h0M585.0 1171.6h0M136.3 1170.8h0M247.2 1170.8h0M324.9 1170.8h0M467.1 1170.8h0M616.1 1170.8h0M267.6 1169.9h0M274.6 1169.9h0M283.8 1169.9h0M327.8 1169.9h0M405.0 1169.9h0M473.8 1169.9h0M487.1 1169.9h0M497.4 1169.9h0M214.0 1169.1h0M331.0 1169.1h0M396.3 1169.1h0M480.4 1169.1h0M517.7 1169.1h0M540.2 1169.1h0M635.8 1169.1h0M637.1 1169.1h0M191.4 1168.3h0M323.6 1168.3h0M389.1 1168.3h0M488.2 1168.3h0M559.5 1168.3h0M569.2 1168.3h0M580.4 1168.3h0M636.3 1168.3h0M259.6 1167.4h0M260.7 1167.4h0M284.9 1167.4h0M310.2 1167.4h0M472.3 1167.4h0M523.0 1167.4h0M683.3 1167.4h0M217.9 1166.6h0M328.7 1166.6h0M469.4 1166.6h0M249.6 1165.8h0M325.4 1165.8h0M327.5 1165.8h0M376.6 1165.8h0M483.1 1165.8h0M488.9 1165.8h0M116.6 1164.9h0M143.8 1164.9h0M292.9 1164.9h0M477.8 1164.9h0M612.0 1164.9h0M700.0 1164.9h0M280.5 1164.1h0M325.1 1164.1h0M327.7 1164.1h0M329.1 1164.1h0M458.8 1164.1h0M468.3 1164.1h0M536.1 1164.1h0M554.3 1164.1h0M603.1 1164.1h0M611.3 1164.1h0M688.1 1164.1h0M233.5 1163.3h0M530.3 1163.3h0M606.7 1163.3h0M305.1 1162.4h0M317.2 1162.4h0M325.5 1162.4h0M326.9 1162.4h0M329.0 1162.4h0M461.4 1162.4h0M674.3 1162.4h0M326.3 1161.6h0M327.0 1161.6h0M366.8 1161.6h0M411.5 1161.6h0M564.5 1161.6h0M640.9 1161.6h0M675.7 1161.6h0M300.9 1160.8h0M321.0 1160.8h0M452.8 1160.8h0M475.4 1160.8h0M516.6 1160.8h0M537.9 1160.8h0M525.5 1159.9h0M542.1 1159.9h0M325.5 1159.1h0M327.3 1159.1h0M405.4 1159.1h0M474.6 1159.1h0M544.5 1159.1h0M566.8 1159.1h0M594.0 1159.1h0M179.8 1158.3h0M185.0 1158.3h0M294.8 1158.3h0M299.5 1158.3h0M316.0 1158.3h0M328.5 1158.3h0M334.9 1158.3h0M414.6 1158.3h0M245.9 1157.4h0M321.2 1157.4h0M329.0 1157.4h0M548.0 1157.4h0M226.3 1156.6h0M230.7 1156.6h0M281.8 1156.6h0M335.3 1156.6h0M370.0 1156.6h0M395.1 1156.6h0M438.0 1156.6h0M548.6 1156.6h0M565.1 1156.6h0M600.0 1156.6h0M611.0 1156.6h0M337.5 1155.8h0M347.1 1155.8h0M503.5 1155.8h0M120.9 1154.9h0M205.7 1154.9h0M325.4 1154.9h0M330.3 1154.9h0M382.3 1154.9h0M489.0 1154.9h0M572.3 1154.9h0M577.3 1154.9h0M643.3 1154.9h0M152.3 1154.1h0M235.6 1154.1h0M253.0 1154.1h0M324.7 1154.1h0M325.0 1154.1h0M329.4 1154.1h0M330.7 1154.1h0M336.8 1154.1h0M363.1 1154.1h0M556.7 1154.1h0M650.8 1154.1h0M135.7 1153.3h0M275.4 1153.3h0M323.2 1153.3h0M328.2 1153.3h0M566.2 1153.3h0M325.4 1152.4h0M327.4 1152.4h0M331.0 1152.4h0M438.8 1152.4h0M463.6 1152.4h0M500.8 1152.4h0M536.8 1152.4h0M682.2 1152.4h0M199.8 1151.6h0M331.8 1151.6h0M594.3 1151.6h0M271.2 1150.8h0M330.3 1150.8h0M485.2 1150.8h0M329.6 1150.0h0M440.6 1150.0h0M479.3 1150.0h0M507.0 1150.0h0M581.9 1150.0h0M140.6 1149.1h0M161.4 1149.1h0M185.2 1149.1h0M325.0 1149.1h0M358.0 1149.1h0M430.3 1149.1h0M479.1 1149.1h0M232.8 1148.3h0M327.7 1148.3h0M356.8 1148.3h0M472.2 1148.3h0M490.9 1148.3h0M575.6 1148.3h0M369.5 1147.5h0M513.2 1147.5h0M651.8 1147.5h0M132.7 1146.6h0M602.1 1146.6h0M653.5 1146.6h0M698.4 1146.6h0M125.3 1145.8h0M193.3 1145.8h0M324.3 1145.8h0M326.6 1145.8h0M328.4 1145.8h0M385.6 1145.8h0M138.7 1145.0h0M226.0 1145.0h0M320.5 1145.0h0M328.6 1145.0h0M330.5 1145.0h0M449.5 1145.0h0M471.6 1145.0h0M507.9 1145.0h0M572.8 1145.0h0M269.9 1144.1h0M321.5 1144.1h0M327.5 1144.1h0M511.2 1144.1h0M343.6 1143.3h0M363.9 1143.3h0M407.7 1143.3h0M458.8 1143.3h0M512.2 1143.3h0M515.3 1143.3h0M520.7 1143.3h0M622.6 1143.3h0M188.2 1142.5h0M189.8 1142.5h0M297.8 1142.5h0M324.6 1142.5h0M326.6 1142.5h0M498.3 1142.5h0M587.5 1142.5h0M636.8 1142.5h0M701.6 1142.5h0M200.2 1141.6h0M329.4 1141.6h0M330.4 1141.6h0M437.5 1141.6h0M329.0 1140.8h0M428.2 1140.8h0M120.0 1140.0h0M125.1 1140.0h0M154.1 1140.0h0M192.0 1140.0h0M277.0 1140.0h0M328.6 1140.0h0M329.6 1140.0h0M498.2 1140.0h0M583.9 1140.0h0M233.4 1139.1h0M271.8 1139.1h0M325.0 1139.1h0M326.2 1139.1h0M326.9 1139.1h0M332.4 1139.1h0M457.7 1139.1h0M484.4 1139.1h0M487.8 1139.1h0M563.2 1139.1h0M214.2 1138.3h0M225.7 1138.3h0M463.8 1138.3h0M498.4 1138.3h0M503.0 1138.3h0M572.8 1138.3h0M624.3 1138.3h0M692.5 1138.3h0M311.8 1137.5h0M324.5 1137.5h0M326.4 1137.5h0M423.6 1137.5h0M483.7 1137.5h0M577.4 1137.5h0M644.9 1137.5h0M131.3 1136.6h0M158.8 1136.6h0M206.1 1136.6h0M209.4 1136.6h0M320.3 1136.6h0M326.6 1136.6h0M425.8 1136.6h0M504.3 1136.6h0M526.5 1136.6h0M659.8 1136.6h0M678.0 1136.6h0M132.4 1135.8h0M152.9 1135.8h0M304.7 1135.8h0M326.5 1135.8h0M445.0 1135.8h0M565.8 1135.8h0M607.6 1135.8h0M150.0 1135.0h0M216.8 1135.0h0M323.8 1135.0h0M325.2 1135.0h0M326.5 1135.0h0M327.3 1135.0h0M469.7 1135.0h0M486.8 1134.1h0M195.9 1133.3h0M212.9 1133.3h0M230.7 1133.3h0M263.0 1133.3h0M315.1 1133.3h0M321.2 1133.3h0M325.7 1133.3h0M407.1 1133.3h0M204.4 1132.5h0M223.0 1132.5h0M330.1 1132.5h0M582.9 1132.5h0M668.1 1132.5h0M704.4 1132.5h0M198.5 1131.6h0M326.7 1131.6h0M327.4 1131.6h0M331.8 1131.6h0M484.2 1131.6h0M685.5 1131.6h0M171.6 1130.8h0M250.1 1130.8h0M301.6 1130.8h0M326.8 1130.8h0M327.4 1130.8h0M328.7 1130.8h0M330.5 1130.8h0M574.3 1130.8h0M643.7 1130.8h0M143.6 1130.0h0M290.7 1130.0h0M342.3 1130.0h0M552.9 1130.0h0M162.4 1129.1h0M168.6 1129.1h0M213.4 1129.1h0M321.0 1129.1h0M329.0 1129.1h0M464.3 1129.1h0M565.6 1129.1h0M608.7 1129.1h0M651.4 1129.1h0M118.7 1128.3h0M326.5 1128.3h0M377.6 1128.3h0M407.2 1128.3h0M408.8 1128.3h0M454.2 1128.3h0M465.0 1128.3h0M485.3 1128.3h0M488.4 1128.3h0M497.7 1128.3h0M602.1 1128.3h0M174.7 1127.5h0M334.2 1127.5h0M390.6 1127.5h0M435.8 1127.5h0M507.2 1127.5h0M519.9 1127.5h0M579.0 1127.5h0M686.6 1127.5h0M328.8 1126.6h0M332.8 1126.6h0M375.1 1126.6h0M382.9 1126.6h0M452.8 1126.6h0M469.9 1126.6h0M591.3 1126.6h0M406.3 1125.8h0M433.3 1125.8h0M463.2 1125.8h0M539.6 1125.8h0M594.4 1125.8h0M202.3 1125.0h0M387.7 1125.0h0M516.9 1125.0h0M599.1 1125.0h0M680.2 1125.0h0M680.4 1125.0h0M183.0 1124.1h0M220.5 1124.1h0M330.6 1124.1h0M360.4 1124.1h0M522.2 1124.1h0M569.8 1124.1h0M629.6 1124.1h0M117.3 1123.3h0M149.5 1123.3h0M242.7 1123.3h0M324.4 1123.3h0M495.8 1123.3h0M531.3 1123.3h0M537.2 1123.3h0M243.6 1122.5h0M246.6 1122.5h0M262.0 1122.5h0M310.4 1122.5h0M515.3 1122.5h0M554.9 1122.5h0M702.2 1122.5h0M151.2 1121.6h0M232.2 1121.6h0M287.2 1121.6h0M364.6 1121.6h0M370.2 1121.6h0M467.9 1121.6h0M493.9 1121.6h0M235.5 1120.8h0M267.5 1120.8h0M324.6 1120.8h0M327.9 1120.8h0M476.6 1120.8h0M481.3 1120.8h0M510.4 1120.8h0M674.6 1120.8h0M679.3 1120.8h0M143.4 1120.0h0M202.6 1120.0h0M328.6 1120.0h0M387.8 1120.0h0M413.1 1120.0h0M472.4 1120.0h0M540.1 1120.0h0M130.8 1119.1h0M185.2 1119.1h0M323.5 1119.1h0M328.0 1119.1h0M328.4 1119.1h0M439.7 1119.1h0M597.3 1119.1h0M628.9 1119.1h0M665.4 1119.1h0M151.6 1118.3h0M205.7 1118.3h0M239.6 1118.3h0M298.5 1118.3h0M333.4 1118.3h0M660.8 1118.3h0M299.7 1117.5h0M359.3 1117.5h0M378.6 1117.5h0M387.2 1117.5h0M473.4 1117.5h0M537.7 1117.5h0M573.4 1117.5h0M665.2 1117.5h0M700.0 1117.5h0M156.4 1116.6h0M247.4 1116.6h0M280.4 1116.6h0M296.6 1116.6h0M320.6 1116.6h0M327.9 1116.6h0M328.5 1116.6h0M370.4 1116.6h0M432.5 1116.6h0M529.4 1116.6h0M580.0 1116.6h0M642.9 1116.6h0M122.0 1115.8h0M323.6 1115.8h0M326.2 1115.8h0M430.4 1115.8h0M488.1 1115.8h0M553.3 1115.8h0M602.0 1115.8h0M693.1 1115.8h0M119.7 1115.0h0M129.8 1115.0h0M243.8 1115.0h0M319.8 1115.0h0M325.3 1115.0h0M401.8 1115.0h0M475.6 1115.0h0M510.2 1115.0h0M670.5 1115.0h0M120.1 1114.1h0M153.0 1114.1h0M196.8 1114.1h0M331.1 1114.1h0M469.9 1114.1h0M497.0 1114.1h0M636.6 1114.1h0M116.1 1113.3h0M164.3 1113.3h0M303.5 1113.3h0M325.4 1113.3h0M326.2 1113.3h0M327.8 1113.3h0M331.0 1113.3h0M570.4 1113.3h0M584.3 1113.3h0M221.8 1112.5h0M327.2 1112.5h0M496.5 1112.5h0M541.9 1112.5h0M330.5 1111.6h0M356.5 1111.6h0M480.3 1111.6h0M486.5 1111.6h0M515.4 1111.6h0M535.8 1111.6h0M201.9 1110.8h0M256.9 1110.8h0M322.5 1110.8h0M324.8 1110.8h0M325.3 1110.8h0M327.8 1110.8h0M331.9 1110.8h0M334.3 1110.8h0M352.1 1110.8h0M591.0 1110.8h0M177.2 1110.0h0M189.5 1110.0h0M203.5 1110.0h0M284.6 1110.0h0M299.3 1110.0h0M325.6 1110.0h0M327.3 1110.0h0M331.4 1110.0h0M608.2 1110.0h0M670.1 1110.0h0M139.0 1109.1h0M237.0 1109.1h0M296.7 1109.1h0M327.0 1109.1h0M513.8 1109.1h0M230.6 1108.3h0M321.2 1108.3h0M325.0 1108.3h0M328.5 1108.3h0M331.4 1108.3h0M510.0 1108.3h0M691.0 1108.3h0M178.8 1107.5h0M190.5 1107.5h0M340.1 1107.5h0M364.7 1107.5h0M526.1 1107.5h0M528.7 1107.5h0M640.9 1107.5h0M130.9 1106.6h0M165.8 1106.6h0M187.1 1106.6h0M191.7 1106.6h0M222.2 1106.6h0M289.1 1106.6h0M325.0 1106.6h0M326.6 1106.6h0M494.2 1106.6h0M509.3 1106.6h0M546.5 1106.6h0M554.0 1106.6h0M565.3 1106.6h0M566.9 1106.6h0M648.3 1106.6h0M122.6 1105.8h0M252.2 1105.8h0M303.4 1105.8h0M326.5 1105.8h0M469.8 1105.8h0M655.6 1105.8h0M162.9 1105.0h0M326.1 1105.0h0M327.7 1105.0h0M425.0 1105.0h0M430.5 1105.0h0M484.7 1105.0h0M699.0 1105.0h0M246.2 1104.1h0M326.5 1104.1h0M389.4 1104.1h0M557.1 1104.1h0M566.6 1104.1h0M134.1 1103.3h0M250.3 1103.3h0M271.4 1103.3h0M272.5 1103.3h0M300.8 1103.3h0M323.9 1103.3h0M331.3 1103.3h0M332.0 1103.3h0M351.7 1103.3h0M492.9 1103.3h0M565.6 1103.3h0M613.1 1103.3h0M242.5 1102.5h0M271.1 1102.5h0M330.0 1102.5h0M426.7 1102.5h0M520.5 1102.5h0M529.1 1102.5h0M661.5 1102.5h0M134.8 1101.6h0M261.8 1101.6h0M329.4 1101.6h0M454.6 1101.6h0M468.8 1101.6h0M325.7 1100.8h0M511.6 1100.8h0M522.4 1100.8h0M572.2 1100.8h0M618.5 1100.8h0M173.8 1100.0h0M248.7 1100.0h0M287.9 1100.0h0M325.0 1100.0h0M327.2 1100.0h0M508.4 1100.0h0M539.7 1100.0h0M593.3 1100.0h0M617.1 1100.0h0M673.5 1100.0h0M698.4 1100.0h0M241.1 1099.1h0M283.9 1099.1h0M452.8 1099.1h0M482.4 1099.1h0M512.6 1099.1h0M304.0 1098.3h0M330.7 1098.3h0M331.2 1098.3h0M372.1 1098.3h0M487.0 1098.3h0M612.9 1098.3h0M616.3 1098.3h0M183.0 1097.5h0M326.7 1097.5h0M328.2 1097.5h0M470.3 1097.5h0M487.8 1097.5h0M496.0 1097.5h0M502.1 1097.5h0M520.2 1097.5h0M659.1 1097.5h0M197.2 1096.6h0M303.6 1096.6h0M310.4 1096.6h0M327.9 1096.6h0M477.3 1096.6h0M522.7 1096.6h0M186.8 1095.8h0M247.8 1095.8h0M294.1 1095.8h0M329.9 1095.8h0M394.0 1095.8h0M453.3 1095.8h0M554.9 1095.8h0M118.4 1095.0h0M325.8 1095.0h0M327.2 1095.0h0M328.1 1095.0h0M394.0 1095.0h0M397.6 1095.0h0M631.1 1095.0h0M255.9 1094.1h0M325.1 1094.1h0M390.0 1094.1h0M506.6 1094.1h0M523.2 1094.1h0M528.9 1094.1h0M653.6 1094.1h0M135.0 1093.3h0M241.8 1093.3h0M259.8 1093.3h0M376.2 1093.3h0M403.8 1093.3h0M429.3 1093.3h0M681.9 1093.3h0M153.9 1092.5h0M300.8 1092.5h0M310.5 1092.5h0M617.6 1092.5h0M158.6 1091.6h0M183.6 1091.6h0M204.4 1091.6h0M324.3 1091.6h0M327.3 1091.6h0M328.3 1091.6h0M329.8 1091.6h0M436.0 1091.6h0M510.1 1091.6h0M235.5 1090.0h0M258.5 1090.0h0M307.4 1090.0h0M327.4 1090.0h0M329.8 1090.0h0M383.4 1090.0h0M503.9 1090.0h0M546.5 1090.0h0M633.3 1090.0h0M156.4 1089.1h0M209.7 1089.1h0M254.4 1089.1h0M425.5 1089.1h0M447.2 1089.1h0M498.5 1089.1h0M603.9 1089.1h0M651.9 1089.1h0M291.5 1088.3h0M471.8 1088.3h0M523.9 1088.3h0M602.6 1088.3h0M607.0 1088.3h0M640.9 1088.3h0M641.6 1088.3h0M143.5 1087.5h0M213.5 1087.5h0M259.7 1087.5h0M536.4 1087.5h0M555.5 1087.5h0M656.6 1087.5h0M120.8 1086.6h0M323.2 1086.6h0M327.0 1086.6h0M395.7 1086.6h0M475.6 1086.6h0M518.1 1086.6h0M603.0 1086.6h0M673.6 1086.6h0M703.2 1086.6h0M186.0 1085.8h0M321.6 1085.8h0M323.7 1085.8h0M324.7 1085.8h0M325.2 1085.8h0M327.0 1085.8h0M411.4 1085.8h0M510.0 1085.8h0M671.0 1085.8h0M674.3 1085.8h0M172.9 1085.0h0M176.7 1085.0h0M431.1 1085.0h0M469.0 1085.0h0M629.1 1085.0h0M219.0 1084.1h0M477.9 1084.1h0M141.0 1083.3h0M296.7 1083.3h0M432.1 1083.3h0M477.0 1083.3h0M635.6 1083.3h0M682.2 1083.3h0M240.3 1082.5h0M256.3 1082.5h0M323.5 1082.5h0M352.9 1082.5h0M375.0 1082.5h0M534.0 1082.5h0M592.7 1082.5h0M129.1 1081.6h0M177.2 1081.6h0M295.5 1081.6h0M325.5 1081.6h0M672.4 1081.6h0M123.8 1080.8h0M159.6 1080.8h0M301.7 1080.8h0M330.6 1080.8h0M330.9 1080.8h0M359.2 1080.8h0M377.2 1080.8h0M407.8 1080.8h0M476.2 1080.8h0M486.1 1080.8h0M325.1 1080.0h0M327.1 1080.0h0M467.7 1080.0h0M521.5 1080.0h0M191.1 1079.1h0M259.8 1079.1h0M306.8 1079.1h0M325.2 1079.1h0M329.1 1079.1h0M495.0 1079.1h0M528.9 1079.1h0M645.4 1079.1h0M206.6 1078.3h0M328.9 1078.3h0M388.6 1078.3h0M410.1 1078.3h0M455.3 1078.3h0M478.4 1078.3h0M590.8 1078.3h0M699.7 1078.3h0M128.6 1077.5h0M148.1 1077.5h0M187.0 1077.5h0M265.1 1077.5h0M326.1 1077.5h0M329.4 1077.5h0M473.2 1077.5h0M504.6 1077.5h0M576.6 1077.5h0M586.8 1077.5h0M670.3 1077.5h0M136.8 1076.6h0M253.0 1076.6h0M291.9 1076.6h0M304.0 1076.6h0M319.9 1076.6h0M328.5 1076.6h0M330.4 1076.6h0M408.5 1076.6h0M647.7 1076.6h0M189.3 1075.8h0M265.6 1075.8h0M324.3 1075.8h0M326.0 1075.8h0M329.3 1075.8h0M490.7 1075.8h0M525.0 1075.8h0M667.1 1075.8h0M173.4 1075.0h0M262.9 1075.0h0M278.2 1075.0h0M536.4 1075.0h0M310.5 1074.1h0M321.4 1074.1h0M328.1 1074.1h0M329.6 1074.1h0M330.3 1074.1h0M332.7 1074.1h0M478.1 1074.1h0M478.3 1074.1h0M506.5 1074.1h0M510.0 1074.1h0M619.8 1074.1h0M160.7 1073.3h0M221.5 1073.3h0M252.8 1073.3h0M285.4 1073.3h0M486.6 1073.3h0M592.9 1073.3h0M639.1 1073.3h0M651.9 1073.3h0M117.9 1072.5h0M251.0 1072.5h0M308.5 1072.5h0M327.2 1072.5h0M422.6 1072.5h0M487.5 1072.5h0M510.5 1072.5h0M238.9 1071.6h0M329.7 1071.6h0M332.9 1071.6h0M416.1 1071.6h0M468.0 1071.6h0M631.3 1071.6h0M660.5 1071.6h0M124.9 1070.8h0M179.1 1070.8h0M202.8 1070.8h0M244.9 1070.8h0M252.2 1070.8h0M265.8 1070.8h0M325.6 1070.8h0M328.4 1070.8h0M471.3 1070.8h0M504.1 1070.8h0M522.4 1070.8h0M631.6 1070.8h0M677.7 1070.8h0M161.3 1070.0h0M260.7 1070.0h0M325.9 1070.0h0M330.3 1070.0h0M371.7 1070.0h0M446.6 1070.0h0M509.3 1070.0h0M569.4 1070.0h0M135.7 1069.1h0M143.9 1069.1h0M309.1 1069.1h0M328.0 1069.1h0M375.4 1069.1h0M377.4 1069.1h0M452.4 1069.1h0M505.4 1069.1h0M322.4 1068.3h0M358.6 1068.3h0M447.5 1068.3h0M475.8 1068.3h0M563.8 1068.3h0M638.0 1068.3h0M309.6 1067.5h0M327.5 1067.5h0M460.5 1067.5h0M520.1 1067.5h0M603.5 1067.5h0M656.1 1067.5h0M675.8 1067.5h0M694.5 1067.5h0M153.4 1066.7h0M487.8 1066.7h0M553.0 1066.7h0M558.9 1066.7h0M597.2 1066.7h0M639.3 1066.7h0M159.1 1065.8h0M249.1 1065.8h0M328.8 1065.8h0M329.9 1065.8h0M503.8 1065.8h0M329.1 1065.0h0M604.9 1065.0h0M327.1 1064.2h0M409.6 1064.2h0M475.3 1064.2h0M627.1 1064.2h0M694.5 1064.2h0M215.6 1063.3h0M325.1 1063.3h0M327.8 1063.3h0M367.9 1063.3h0M463.6 1063.3h0M491.4 1063.3h0M494.8 1063.3h0M514.3 1063.3h0M666.3 1063.3h0M150.7 1062.5h0M203.7 1062.5h0M222.5 1062.5h0M333.0 1062.5h0M532.1 1062.5h0M588.9 1062.5h0M621.3 1062.5h0M648.6 1062.5h0M172.1 1061.7h0M213.9 1061.7h0M251.5 1061.7h0M278.7 1061.7h0M290.2 1061.7h0M325.5 1061.7h0M327.7 1061.7h0M332.3 1061.7h0M389.8 1061.7h0M466.9 1061.7h0M475.6 1061.7h0M518.9 1061.7h0M166.1 1060.8h0M171.9 1060.8h0M206.7 1060.8h0M215.3 1060.8h0M308.1 1060.8h0M324.6 1060.8h0M330.7 1060.8h0M500.6 1060.8h0M504.0 1060.8h0M581.8 1060.8h0M210.6 1060.0h0M238.2 1060.0h0M325.5 1060.0h0M328.2 1060.0h0M445.4 1060.0h0M463.7 1060.0h0M482.5 1060.0h0M486.8 1060.0h0M606.2 1060.0h0M133.7 1059.2h0M253.2 1059.2h0M410.2 1059.2h0M465.1 1059.2h0M489.1 1059.2h0M171.2 1058.3h0M177.2 1058.3h0M238.7 1058.3h0M276.8 1058.3h0M327.8 1058.3h0M414.3 1058.3h0M444.3 1058.3h0M462.5 1058.3h0M518.4 1058.3h0M570.4 1058.3h0M605.6 1058.3h0M690.5 1058.3h0M150.8 1057.5h0M151.5 1057.5h0M207.5 1057.5h0M322.1 1057.5h0M618.3 1057.5h0M663.6 1057.5h0M141.3 1056.7h0M235.0 1056.7h0M307.1 1056.7h0M324.5 1056.7h0M326.4 1056.7h0M326.8 1056.7h0M464.8 1056.7h0M539.4 1056.7h0M559.4 1056.7h0M133.7 1055.8h0M183.5 1055.8h0M474.6 1055.8h0M158.6 1055.0h0M193.2 1055.0h0M224.6 1055.0h0M303.1 1055.0h0M325.8 1055.0h0M341.7 1055.0h0M409.4 1055.0h0M410.8 1055.0h0M429.9 1055.0h0M445.5 1055.0h0M478.8 1055.0h0M253.5 1054.2h0M327.2 1054.2h0M420.4 1054.2h0M477.9 1054.2h0M577.6 1054.2h0M645.6 1054.2h0M654.6 1054.2h0M263.7 1053.3h0M331.9 1053.3h0M462.1 1053.3h0M510.3 1053.3h0M543.1 1053.3h0M626.6 1053.3h0M295.0 1052.5h0M298.8 1052.5h0M314.6 1052.5h0M328.0 1052.5h0M276.4 1051.7h0M333.2 1051.7h0M349.0 1051.7h0M359.4 1051.7h0M487.5 1051.7h0M496.0 1051.7h0M501.2 1051.7h0M536.2 1051.7h0M585.5 1051.7h0M121.0 1050.8h0M263.7 1050.8h0M325.4 1050.8h0M327.3 1050.8h0M343.7 1050.8h0M435.3 1050.8h0M437.6 1050.8h0M525.6 1050.8h0M659.3 1050.8h0M667.2 1050.8h0M249.1 1050.0h0M436.7 1050.0h0M557.5 1050.0h0M188.1 1049.2h0M259.1 1049.2h0M286.6 1049.2h0M340.1 1049.2h0M472.6 1049.2h0M482.2 1049.2h0M514.9 1049.2h0M600.9 1049.2h0M603.9 1049.2h0M641.7 1049.2h0M122.9 1048.3h0M300.8 1048.3h0M302.9 1048.3h0M330.0 1048.3h0M337.9 1048.3h0M469.5 1048.3h0M506.4 1048.3h0M512.4 1048.3h0M700.1 1048.3h0M215.7 1047.5h0M236.9 1047.5h0M242.8 1047.5h0M326.6 1047.5h0M330.8 1047.5h0M500.1 1047.5h0M553.9 1047.5h0M570.2 1047.5h0M603.2 1047.5h0M611.4 1047.5h0M322.5 1046.7h0M326.8 1046.7h0M328.7 1046.7h0M459.8 1046.7h0M695.2 1046.7h0M196.1 1045.8h0M197.3 1045.8h0M305.4 1045.8h0M426.1 1045.8h0M439.7 1045.8h0M595.3 1045.8h0M605.0 1045.8h0M617.9 1045.8h0M327.2 1045.0h0M333.2 1045.0h0M382.0 1045.0h0M476.1 1045.0h0M506.8 1045.0h0M556.6 1045.0h0M640.0 1045.0h0M675.4 1045.0h0M213.6 1044.2h0M237.2 1044.2h0M273.4 1044.2h0M314.2 1044.2h0M315.7 1044.2h0M612.5 1044.2h0M121.1 1043.3h0M138.2 1043.3h0M154.5 1043.3h0M182.1 1043.3h0M267.4 1043.3h0M320.6 1043.3h0M331.9 1043.3h0M500.6 1043.3h0M521.4 1043.3h0M305.0 1042.5h0M468.5 1042.5h0M603.9 1042.5h0M209.3 1041.7h0M211.7 1041.7h0M224.4 1041.7h0M225.4 1041.7h0M323.2 1041.7h0M327.6 1041.7h0M329.3 1041.7h0M387.8 1041.7h0M426.1 1041.7h0M455.0 1041.7h0M594.2 1041.7h0M616.0 1041.7h0M636.6 1041.7h0M175.2 1040.8h0M326.3 1040.8h0M374.4 1040.8h0M477.7 1040.8h0M480.3 1040.8h0M488.0 1040.8h0M533.8 1040.8h0M323.6 1040.0h0M327.9 1040.0h0M486.6 1040.0h0M623.0 1040.0h0M166.1 1039.2h0M181.6 1039.2h0M324.9 1039.2h0M491.8 1039.2h0M575.4 1039.2h0M622.7 1039.2h0M650.2 1039.2h0M695.4 1039.2h0M324.9 1038.3h0M519.7 1038.3h0M565.6 1038.3h0M625.4 1038.3h0M649.9 1038.3h0M147.4 1037.5h0M208.8 1037.5h0M449.2 1037.5h0M495.3 1037.5h0M519.8 1037.5h0M552.1 1037.5h0M673.5 1037.5h0M175.8 1036.7h0M214.4 1036.7h0M327.2 1036.7h0M328.4 1036.7h0M504.8 1036.7h0M562.9 1036.7h0M315.4 1035.8h0M324.0 1035.8h0M326.9 1035.8h0M358.6 1035.8h0M435.8 1035.8h0M491.6 1035.8h0M543.5 1035.8h0M600.2 1035.8h0M642.1 1035.8h0M319.7 1035.0h0M323.0 1035.0h0M325.6 1035.0h0M331.4 1035.0h0M332.4 1035.0h0M352.5 1035.0h0M459.7 1035.0h0M553.4 1035.0h0M124.9 1034.2h0M218.5 1034.2h0M322.1 1034.2h0M327.7 1034.2h0M355.2 1034.2h0M486.7 1034.2h0M487.8 1034.2h0M602.5 1034.2h0M692.7 1034.2h0M128.8 1033.3h0M166.7 1033.3h0M420.5 1033.3h0M552.2 1033.3h0M680.8 1033.3h0M326.1 1032.5h0M472.6 1032.5h0M593.1 1032.5h0M135.7 1031.7h0M207.3 1031.7h0M222.8 1031.7h0M311.4 1031.7h0M328.2 1031.7h0M433.0 1031.7h0M602.3 1031.7h0M670.6 1031.7h0M224.3 1030.8h0M270.2 1030.8h0M290.0 1030.8h0M301.3 1030.8h0M302.8 1030.8h0M325.8 1030.8h0M336.1 1030.8h0M366.6 1030.8h0M473.5 1030.8h0M481.2 1030.8h0M511.8 1030.8h0M673.4 1030.8h0M324.4 1030.0h0M325.3 1030.0h0M379.9 1030.0h0M465.5 1030.0h0M477.8 1030.0h0M491.8 1030.0h0M501.3 1030.0h0M599.6 1030.0h0M322.7 1029.2h0M485.3 1029.2h0M499.5 1029.2h0M545.6 1029.2h0M154.1 1028.3h0M192.8 1028.3h0M233.6 1028.3h0M399.6 1028.3h0M508.8 1028.3h0M604.3 1028.3h0M316.4 1027.5h0M322.0 1027.5h0M327.4 1027.5h0M455.7 1026.7h0M477.4 1026.7h0M498.0 1026.7h0M540.0 1026.7h0M615.5 1026.7h0M139.7 1025.8h0M252.6 1025.8h0M267.1 1025.8h0M325.1 1025.8h0M334.9 1025.8h0M385.8 1025.8h0M405.8 1025.8h0M523.0 1025.8h0M541.1 1025.8h0M596.4 1025.8h0M328.7 1025.0h0M381.6 1025.0h0M466.2 1025.0h0M492.8 1025.0h0M623.9 1025.0h0M674.6 1025.0h0M130.1 1024.2h0M219.8 1024.2h0M271.5 1024.2h0M324.5 1024.2h0M327.3 1024.2h0M410.6 1024.2h0M463.8 1024.2h0M466.3 1024.2h0M497.1 1024.2h0M521.9 1024.2h0M581.6 1024.2h0M631.2 1024.2h0M651.7 1024.2h0M132.1 1023.3h0M466.4 1023.3h0M494.7 1023.3h0M575.5 1023.3h0M618.4 1023.3h0M184.3 1022.5h0M312.7 1022.5h0M328.0 1022.5h0M329.9 1022.5h0M459.1 1022.5h0M560.8 1022.5h0M150.3 1021.7h0M288.8 1021.7h0M316.3 1021.7h0M325.8 1021.7h0M380.9 1021.7h0M427.2 1021.7h0M493.9 1021.7h0M557.6 1021.7h0M690.0 1021.7h0M148.8 1020.8h0M327.8 1020.8h0M357.6 1020.8h0M485.3 1020.8h0M587.3 1020.8h0M254.4 1020.0h0M328.2 1020.0h0M421.7 1020.0h0M501.2 1020.0h0M504.3 1020.0h0M650.1 1020.0h0M672.1 1020.0h0M697.6 1020.0h0M244.6 1019.2h0M443.6 1019.2h0M491.6 1019.2h0M584.2 1019.2h0M607.1 1019.2h0M611.0 1019.2h0M626.9 1019.2h0M633.4 1019.2h0M693.5 1019.2h0M693.8 1019.2h0M696.3 1019.2h0M121.2 1018.3h0M165.3 1018.3h0M279.4 1018.3h0M299.9 1018.3h0M325.1 1018.3h0M328.1 1018.3h0M328.5 1018.3h0M419.3 1018.3h0M484.2 1018.3h0M486.5 1018.3h0M290.1 1017.5h0M369.2 1017.5h0M403.0 1017.5h0M641.1 1017.5h0M326.6 1016.7h0M480.2 1016.7h0M485.1 1016.7h0M559.7 1016.7h0M326.2 1015.8h0M499.6 1015.8h0M606.5 1015.8h0M649.5 1015.8h0M144.8 1015.0h0M221.8 1015.0h0M325.7 1015.0h0M326.8 1015.0h0M358.9 1015.0h0M401.7 1015.0h0M548.9 1015.0h0M324.6 1014.2h0M325.0 1014.2h0M326.8 1014.2h0M352.6 1014.2h0M373.5 1014.2h0M520.1 1014.2h0M324.6 1013.3h0M384.6 1013.3h0M456.0 1013.3h0M490.5 1013.3h0M155.9 1012.5h0M472.3 1012.5h0M541.0 1012.5h0M619.4 1012.5h0M663.7 1012.5h0M336.6 1011.7h0M372.7 1011.7h0M467.8 1011.7h0M479.9 1011.7h0M664.2 1011.7h0M358.8 1010.8h0M462.6 1010.8h0M464.3 1010.8h0M517.3 1010.8h0M173.0 1010.0h0M331.5 1010.0h0M486.1 1010.0h0M555.7 1010.0h0M182.9 1009.2h0M279.9 1009.2h0M324.0 1009.2h0M329.3 1009.2h0M483.4 1009.2h0M492.8 1009.2h0M511.1 1009.2h0M598.0 1009.2h0M603.7 1009.2h0M327.2 1008.3h0M327.5 1008.3h0M335.3 1008.3h0M450.0 1008.3h0M485.7 1008.3h0M538.3 1008.3h0M143.1 1007.5h0M252.5 1007.5h0M322.4 1007.5h0M325.1 1007.5h0M327.1 1007.5h0M329.3 1007.5h0M486.7 1007.5h0M524.9 1007.5h0M609.7 1007.5h0M663.9 1007.5h0M189.8 1006.7h0M205.5 1006.7h0M327.5 1006.7h0M330.3 1006.7h0M348.2 1006.7h0M583.1 1006.7h0M329.2 1005.8h0M436.7 1005.8h0M471.7 1005.8h0M542.9 1005.8h0M127.8 1005.0h0M156.6 1005.0h0M242.6 1005.0h0M274.1 1005.0h0M324.2 1005.0h0M552.3 1005.0h0M577.0 1005.0h0M584.8 1005.0h0M599.5 1005.0h0M617.0 1005.0h0M326.7 1004.2h0M328.8 1004.2h0M493.1 1004.2h0M495.1 1004.2h0M689.9 1004.2h0M690.9 1004.2h0M153.5 1003.3h0M327.9 1003.3h0M328.5 1003.3h0M485.1 1003.3h0M546.6 1003.3h0M586.8 1003.3h0M266.7 1002.5h0M372.2 1002.5h0M453.8 1002.5h0M498.1 1002.5h0M522.1 1002.5h0M140.3 1001.7h0M251.4 1001.7h0M268.4 1001.7h0M321.8 1001.7h0M325.4 1001.7h0M443.0 1001.7h0M485.1 1001.7h0M596.0 1001.7h0M176.4 1000.8h0M304.0 1000.8h0M328.8 1000.8h0M329.3 1000.8h0M333.2 1000.8h0M464.5 1000.8h0M500.1 1000.8h0M524.0 1000.8h0M624.8 1000.8h0M648.8 1000.8h0M156.9 1000.0h0M206.0 1000.0h0M235.0 1000.0h0M303.6 1000.0h0M477.9 1000.0h0M590.3 1000.0h0M685.7 1000.0h0M123.8 999.2h0M175.3 999.2h0M279.7 999.2h0M282.1 999.2h0M309.7 999.2h0M326.6 999.2h0M466.2 999.2h0M468.5 999.2h0M486.7 999.2h0M591.2 999.2h0M140.0 998.3h0M182.2 998.3h0M231.0 998.3h0M456.6 998.3h0M506.9 998.3h0M583.2 998.3h0M583.7 998.3h0M614.4 998.3h0M125.3 997.5h0M327.9 997.5h0M442.9 997.5h0M472.1 997.5h0M324.8 996.7h0M247.5 995.8h0M349.9 995.8h0M388.8 995.8h0M410.1 995.0h0M476.7 995.0h0M530.8 995.0h0M266.7 994.2h0M326.3 994.2h0M355.2 994.2h0M592.8 994.2h0M627.7 994.2h0M684.5 994.2h0M408.1 993.3h0M567.6 993.3h0M612.9 993.3h0M247.4 992.5h0M326.5 992.5h0M396.0 992.5h0M690.9 992.5h0M154.8 991.7h0M196.8 991.7h0M251.1 991.7h0M325.5 991.7h0M566.7 991.7h0M627.3 991.7h0M684.6 991.7h0M324.6 990.8h0M612.7 990.8h0M138.7 990.0h0M249.4 990.0h0M327.3 990.0h0M343.9 990.0h0M469.0 990.0h0M486.2 990.0h0M663.0 990.0h0M204.8 989.2h0M282.2 989.2h0M327.8 989.2h0M329.0 989.2h0M329.8 989.2h0M586.4 989.2h0M198.9 988.3h0M208.8 988.3h0M375.3 988.3h0M510.6 988.3h0M611.3 988.3h0M165.0 987.5h0M286.3 987.5h0M323.0 987.5h0M328.7 987.5h0M329.3 987.5h0M467.2 987.5h0M511.1 987.5h0M573.5 987.5h0M608.8 987.5h0M203.5 986.7h0M266.1 986.7h0M288.1 986.7h0M331.7 986.7h0M396.3 986.7h0M474.9 986.7h0M552.1 986.7h0M597.8 986.7h0M140.5 985.8h0M184.4 985.8h0M324.4 985.8h0M413.7 985.8h0M472.7 985.8h0M522.6 985.8h0M538.0 985.8h0M552.7 985.8h0M596.5 985.8h0M625.0 985.8h0M192.5 985.0h0M326.6 985.0h0M360.0 985.0h0M513.1 985.0h0M146.1 984.2h0M150.4 984.2h0M314.2 984.2h0M480.8 984.2h0M543.5 984.2h0M224.0 983.4h0M230.2 983.4h0M255.1 983.4h0M330.1 983.4h0M147.6 982.5h0M327.9 982.5h0M329.1 982.5h0M485.9 982.5h0M328.3 981.7h0M348.4 981.7h0M476.8 981.7h0M548.4 981.7h0M603.5 981.7h0M329.8 980.9h0M330.9 980.9h0M482.3 980.9h0M326.4 980.0h0M462.6 980.0h0M464.1 980.0h0M557.7 980.0h0M685.6 980.0h0M181.5 979.2h0M205.9 979.2h0M324.9 979.2h0M445.6 979.2h0M620.7 979.2h0M178.8 978.4h0M199.1 978.4h0M326.8 978.4h0M467.2 978.4h0M486.8 978.4h0M550.4 978.4h0M325.1 977.5h0M341.5 977.5h0M405.2 977.5h0M458.7 977.5h0M509.4 977.5h0M611.9 977.5h0M299.3 976.7h0M325.0 976.7h0M328.2 976.7h0M329.2 976.7h0M330.3 976.7h0M497.7 976.7h0M155.0 975.9h0M185.3 975.9h0M246.0 975.9h0M248.1 975.9h0M274.4 975.9h0M327.2 975.9h0M413.0 975.9h0M469.1 975.9h0M515.6 975.9h0M245.4 975.0h0M300.1 975.0h0M319.8 975.0h0M321.5 975.0h0M353.9 975.0h0M379.8 975.0h0M666.3 975.0h0M191.8 974.2h0M209.5 974.2h0M498.2 974.2h0M670.3 974.2h0M154.1 973.4h0M175.2 973.4h0M321.5 973.4h0M324.3 973.4h0M441.3 973.4h0M485.1 973.4h0M624.2 973.4h0M215.6 972.5h0M326.8 972.5h0M400.4 972.5h0M666.3 972.5h0M178.2 971.7h0M216.6 971.7h0M327.8 971.7h0M408.7 971.7h0M499.5 971.7h0M620.3 971.7h0M627.2 971.7h0M255.4 970.9h0M290.6 970.9h0M325.3 970.9h0M406.6 970.9h0M487.0 970.9h0M488.3 970.9h0M500.7 970.9h0M583.3 970.9h0M666.6 970.9h0M145.7 970.0h0M153.6 970.0h0M238.1 970.0h0M252.1 970.0h0M329.7 970.0h0M474.9 970.0h0M484.8 970.0h0M701.7 970.0h0M179.0 969.2h0M219.2 969.2h0M224.6 969.2h0M327.1 969.2h0M330.3 969.2h0M331.1 969.2h0M638.9 969.2h0M692.0 969.2h0M159.3 968.4h0M260.1 968.4h0M330.1 968.4h0M332.8 968.4h0M414.5 968.4h0M183.7 967.5h0M275.8 967.5h0M324.9 967.5h0M331.2 967.5h0M508.6 967.5h0M564.8 967.5h0M284.8 966.7h0M331.4 966.7h0M371.3 966.7h0M504.1 966.7h0M551.5 966.7h0M145.0 965.9h0M306.7 965.9h0M626.7 965.9h0M681.0 965.9h0M267.9 965.0h0M442.9 965.0h0M467.3 965.0h0M489.4 965.0h0M286.5 964.2h0M326.5 964.2h0M326.8 964.2h0M328.6 964.2h0M395.9 964.2h0M670.4 964.2h0M170.2 963.4h0M325.4 963.4h0M327.1 963.4h0M331.0 963.4h0M392.8 963.4h0M463.4 963.4h0M482.7 963.4h0M558.5 963.4h0M612.8 963.4h0M629.8 963.4h0M694.4 963.4h0M195.2 962.5h0M329.7 962.5h0M174.2 961.7h0M191.1 961.7h0M215.1 961.7h0M272.8 961.7h0M331.3 961.7h0M473.3 961.7h0M644.1 961.7h0M286.9 960.9h0M327.5 960.9h0M488.6 960.9h0M664.2 960.9h0M204.0 960.0h0M205.2 960.0h0M251.3 960.0h0M262.8 960.0h0M268.6 960.0h0M474.1 960.0h0M497.4 960.0h0M600.0 960.0h0M627.6 960.0h0M177.1 959.2h0M336.5 959.2h0M496.5 959.2h0M546.3 959.2h0M552.7 959.2h0M555.9 959.2h0M596.4 959.2h0M220.0 958.4h0M234.0 958.4h0M289.9 958.4h0M324.2 958.4h0M375.0 958.4h0M433.1 958.4h0M191.4 957.5h0M357.8 957.5h0M400.7 957.5h0M487.7 957.5h0M488.3 957.5h0M553.8 957.5h0M321.9 956.7h0M326.8 956.7h0M348.5 956.7h0M350.6 956.7h0M471.2 956.7h0M534.9 956.7h0M645.0 956.7h0M673.1 956.7h0M205.8 955.9h0M248.3 955.9h0M280.3 955.9h0M322.8 955.9h0M327.8 955.9h0M329.6 955.9h0M332.9 955.9h0M358.9 955.9h0M585.0 955.9h0M604.2 955.9h0M129.3 955.0h0M133.2 955.0h0M144.7 955.0h0M149.5 955.0h0M279.5 955.0h0M327.5 955.0h0M329.2 955.0h0M390.3 955.0h0M470.2 955.0h0M142.0 954.2h0M186.2 954.2h0M329.9 954.2h0M390.8 954.2h0M465.0 954.2h0M479.0 954.2h0M580.1 954.2h0M671.0 954.2h0M165.5 953.4h0M201.8 953.4h0M279.3 953.4h0M326.5 953.4h0M327.5 953.4h0M231.6 952.5h0M253.0 952.5h0M255.1 952.5h0M262.1 952.5h0M293.8 952.5h0M320.5 952.5h0M324.0 952.5h0M479.6 952.5h0M136.8 951.7h0M263.1 951.7h0M325.5 951.7h0M329.0 951.7h0M332.2 951.7h0M437.8 951.7h0M450.2 951.7h0M476.0 951.7h0M598.3 951.7h0M628.3 951.7h0M170.3 950.9h0M183.9 950.9h0M244.2 950.9h0M295.0 950.9h0M322.0 950.9h0M325.3 950.9h0M385.0 950.9h0M132.9 950.0h0M157.9 950.0h0M256.2 950.0h0M325.2 950.0h0M453.6 950.0h0M471.7 950.0h0M638.1 950.0h0M698.7 950.0h0M310.1 949.2h0M315.1 949.2h0M329.0 949.2h0M329.1 949.2h0M490.7 949.2h0M593.7 949.2h0M690.7 949.2h0M151.9 948.4h0M328.0 948.4h0M394.5 948.4h0M482.8 948.4h0M516.6 948.4h0M552.0 948.4h0M691.4 948.4h0M143.7 947.5h0M188.7 947.5h0M323.7 947.5h0M327.7 947.5h0M329.2 947.5h0M362.8 947.5h0M658.1 947.5h0M676.2 947.5h0M311.5 946.7h0M326.3 946.7h0M228.2 945.9h0M314.5 945.9h0M467.4 945.9h0M663.0 945.9h0M138.1 945.0h0M187.1 945.0h0M232.9 945.0h0M234.7 945.0h0M379.7 945.0h0M425.8 945.0h0M434.9 945.0h0M517.9 945.0h0M567.4 945.0h0M203.6 944.2h0M206.3 944.2h0M336.0 944.2h0M493.9 944.2h0M586.9 944.2h0M673.7 944.2h0M132.1 943.4h0M262.5 943.4h0M325.6 943.4h0M328.2 943.4h0M387.6 943.4h0M470.5 943.4h0M474.2 943.4h0M562.1 943.4h0M563.3 943.4h0M116.3 942.5h0M200.0 942.5h0M318.6 942.5h0M324.1 942.5h0M327.4 942.5h0M479.6 942.5h0M487.0 942.5h0M492.9 942.5h0M583.2 942.5h0M591.8 942.5h0M137.2 941.7h0M325.6 941.7h0M330.9 941.7h0M425.1 941.7h0M625.8 941.7h0M690.4 941.7h0M165.9 940.9h0M220.9 940.9h0M268.3 940.9h0M326.1 940.9h0M330.2 940.9h0M149.5 940.0h0M288.2 940.0h0M325.3 940.0h0M496.5 940.0h0M530.9 940.0h0M619.6 940.0h0M200.0 939.2h0M219.0 939.2h0M292.9 939.2h0M327.1 939.2h0M524.7 939.2h0M548.7 939.2h0M134.2 938.4h0M270.0 938.4h0M286.9 938.4h0M294.5 938.4h0M329.9 938.4h0M435.1 938.4h0M463.3 938.4h0M507.4 938.4h0M524.7 938.4h0M376.5 937.5h0M424.0 937.5h0M468.2 937.5h0M493.7 937.5h0M529.5 937.5h0M626.6 937.5h0M650.4 937.5h0M216.0 936.7h0M299.8 936.7h0M325.3 936.7h0M326.6 936.7h0M346.6 936.7h0M325.7 935.9h0M330.2 935.9h0M412.1 935.9h0M480.9 935.9h0M501.0 935.9h0M680.0 935.9h0M140.4 935.0h0M327.0 935.0h0M347.3 935.0h0M565.0 935.0h0M572.7 935.0h0M639.1 935.0h0M665.7 935.0h0M149.5 934.2h0M176.9 934.2h0M324.3 934.2h0M332.0 934.2h0M584.8 934.2h0M185.4 933.4h0M303.5 933.4h0M353.7 933.4h0M227.2 932.5h0M267.8 932.5h0M282.7 932.5h0M329.3 932.5h0M350.5 932.5h0M435.9 932.5h0M530.6 932.5h0M543.8 932.5h0M592.4 932.5h0M673.6 932.5h0M330.3 931.7h0M377.9 931.7h0M435.0 931.7h0M477.3 931.7h0M482.8 931.7h0M621.5 931.7h0M151.7 930.9h0M227.4 930.9h0M275.0 930.9h0M332.5 930.9h0M342.4 930.9h0M451.8 930.9h0M491.8 930.9h0M496.3 930.9h0M515.7 930.9h0M542.0 930.9h0M671.4 930.9h0M673.5 930.9h0M278.6 930.0h0M322.5 930.0h0M326.8 930.0h0M330.8 930.0h0M393.5 930.0h0M440.1 930.0h0M584.6 930.0h0M644.0 930.0h0M256.5 929.2h0M280.5 929.2h0M486.3 929.2h0M192.1 928.4h0M330.9 928.4h0M397.9 928.4h0M450.6 928.4h0M660.9 928.4h0M703.5 928.4h0M184.8 927.5h0M419.7 927.5h0M468.7 927.5h0M470.9 927.5h0M646.3 927.5h0M680.4 927.5h0M136.0 926.7h0M326.5 926.7h0M329.1 926.7h0M483.6 926.7h0M499.5 926.7h0M514.9 926.7h0M528.1 926.7h0M548.6 926.7h0M583.7 926.7h0M599.5 926.7h0M643.0 926.7h0M688.0 926.7h0M140.3 925.9h0M237.9 925.9h0M303.6 925.9h0M322.6 925.9h0M327.0 925.9h0M329.2 925.9h0M449.7 925.9h0M527.2 925.9h0M614.7 925.9h0M701.8 925.9h0M215.9 925.0h0M248.4 925.0h0M286.3 925.0h0M311.0 925.0h0M325.7 925.0h0M327.3 925.0h0M382.7 925.0h0M561.9 925.0h0M128.2 924.2h0M328.6 924.2h0M329.6 924.2h0M332.3 924.2h0M355.5 924.2h0M445.0 924.2h0M528.8 924.2h0M654.9 924.2h0M657.4 924.2h0M195.7 923.4h0M227.2 923.4h0M287.4 923.4h0M302.3 923.4h0M326.4 923.4h0M329.5 923.4h0M468.7 923.4h0M530.2 923.4h0M130.4 922.5h0M222.8 922.5h0M236.4 922.5h0M280.4 922.5h0M465.8 922.5h0M514.2 922.5h0M137.4 921.7h0M166.9 921.7h0M641.5 921.7h0M648.2 921.7h0M682.5 921.7h0M119.9 920.9h0M182.2 920.9h0M203.8 920.9h0M324.9 920.9h0M328.4 920.9h0M332.5 920.9h0M333.3 920.9h0M399.4 920.9h0M526.7 920.9h0M527.7 920.9h0M577.3 920.9h0M143.2 920.0h0M173.0 920.0h0M326.6 920.0h0M489.5 920.0h0M533.7 920.0h0M567.7 920.0h0M620.3 920.0h0M639.6 920.0h0M683.7 920.0h0M184.6 919.2h0M332.3 919.2h0M339.5 919.2h0M398.4 919.2h0M503.0 919.2h0M641.4 919.2h0M231.2 918.4h0M234.3 918.4h0M306.5 918.4h0M329.9 918.4h0M354.3 918.4h0M385.1 918.4h0M511.7 918.4h0M538.5 918.4h0M574.2 918.4h0M630.3 918.4h0M168.0 917.5h0M309.1 917.5h0M558.9 917.5h0M129.2 916.7h0M156.1 916.7h0M211.9 916.7h0M323.4 916.7h0M330.5 916.7h0M472.9 916.7h0M473.6 916.7h0M492.2 916.7h0M589.8 916.7h0M599.2 916.7h0M611.0 916.7h0M224.7 915.9h0M519.7 915.9h0M585.8 915.9h0M267.1 915.0h0M447.8 915.0h0M450.2 915.0h0M512.0 915.0h0M209.0 914.2h0M215.2 914.2h0M261.1 914.2h0M329.1 914.2h0M351.7 914.2h0M621.3 914.2h0M631.9 914.2h0M154.4 913.4h0M159.9 913.4h0M324.0 913.4h0M327.7 913.4h0M328.6 913.4h0M459.6 913.4h0M466.3 913.4h0M483.6 913.4h0M148.6 912.5h0M280.1 912.5h0M305.6 912.5h0M325.4 912.5h0M332.4 912.5h0M364.9 912.5h0M469.3 912.5h0M487.2 912.5h0M574.6 912.5h0M685.6 912.5h0M185.0 911.7h0M192.6 911.7h0M327.4 911.7h0M330.7 911.7h0M410.4 911.7h0M433.8 911.7h0M473.0 911.7h0M324.0 910.9h0M327.4 910.9h0M352.5 910.9h0M501.1 910.9h0M554.7 910.9h0M606.7 910.9h0M619.3 910.9h0M240.9 910.0h0M593.4 910.0h0M633.5 910.0h0M121.6 909.2h0M201.3 909.2h0M240.9 909.2h0M326.9 909.2h0M440.3 909.2h0M575.0 909.2h0M638.7 909.2h0M324.5 908.4h0M447.4 908.4h0M465.6 908.4h0M561.9 908.4h0M575.8 908.4h0M663.9 908.4h0M694.2 908.4h0M330.0 907.5h0M337.1 907.5h0M508.4 907.5h0M581.4 907.5h0M652.9 907.5h0M673.7 907.5h0M694.6 907.5h0M162.9 906.7h0M209.0 906.7h0M326.7 906.7h0M464.9 906.7h0M512.5 906.7h0M585.1 906.7h0M598.1 906.7h0M601.0 906.7h0M650.9 906.7h0M660.0 906.7h0M172.4 905.9h0M176.9 905.9h0M327.1 905.9h0M327.9 905.9h0M329.6 905.9h0M545.2 905.9h0M568.2 905.9h0M598.3 905.9h0M280.5 905.0h0M327.0 905.0h0M327.7 905.0h0M483.6 905.0h0M688.0 905.0h0M696.5 905.0h0M330.5 904.2h0M353.4 904.2h0M488.0 904.2h0M518.3 904.2h0M527.6 904.2h0M621.6 904.2h0M659.9 904.2h0M172.2 903.4h0M293.2 903.4h0M316.5 903.4h0M379.2 903.4h0M411.5 903.4h0M466.4 903.4h0M216.7 902.5h0M326.4 902.5h0M366.1 902.5h0M483.3 902.5h0M486.3 902.5h0M608.5 902.5h0M686.8 902.5h0M121.1 901.7h0M137.8 901.7h0M180.8 901.7h0M260.6 901.7h0M326.8 901.7h0M329.7 901.7h0M355.5 901.7h0M481.6 901.7h0M505.0 901.7h0M687.3 901.7h0M303.2 900.9h0M322.5 900.9h0M477.8 900.9h0M569.5 900.9h0M608.4 900.9h0M608.8 900.9h0M232.2 900.1h0M266.1 900.1h0M292.3 900.1h0M376.1 900.1h0M394.3 900.1h0M593.4 900.1h0M653.4 900.1h0M679.3 900.1h0M146.7 899.2h0M188.9 899.2h0M326.6 899.2h0M328.6 899.2h0M614.9 899.2h0M660.2 899.2h0M119.6 898.4h0M120.7 898.4h0M195.9 898.4h0M324.1 898.4h0M376.0 898.4h0M392.5 898.4h0M414.7 898.4h0M463.3 898.4h0M545.7 898.4h0M145.0 897.6h0M151.1 897.6h0M152.1 897.6h0M125.5 896.7h0M273.0 896.7h0M293.0 896.7h0M327.0 896.7h0M331.0 896.7h0M452.4 896.7h0M468.2 896.7h0M491.9 896.7h0M560.4 896.7h0M660.2 896.7h0M696.5 896.7h0M236.8 895.9h0M267.8 895.9h0M327.6 895.9h0M409.9 895.9h0M420.4 895.9h0M592.2 895.9h0M604.0 895.9h0M693.7 895.9h0M276.8 895.1h0M329.3 895.1h0M465.3 895.1h0M565.8 895.1h0M669.8 895.1h0M254.9 894.2h0M277.9 894.2h0M322.0 894.2h0M324.8 894.2h0M327.0 894.2h0M328.3 894.2h0M382.4 894.2h0M476.6 894.2h0M508.8 894.2h0M522.7 894.2h0M573.7 894.2h0M219.9 893.4h0M483.4 893.4h0M549.5 893.4h0M597.5 893.4h0M668.3 893.4h0M673.4 893.4h0M675.4 893.4h0M190.0 892.6h0M595.4 892.6h0M611.0 892.6h0M138.4 891.7h0M157.0 891.7h0M173.8 891.7h0M278.5 891.7h0M332.7 891.7h0M409.2 891.7h0M505.5 891.7h0M526.2 891.7h0M239.5 890.9h0M325.1 890.9h0M326.3 890.9h0M145.9 890.1h0M259.0 890.1h0M324.4 890.1h0M325.3 890.1h0M326.6 890.1h0M329.6 890.1h0M330.7 890.1h0M332.1 890.1h0M428.7 890.1h0M465.3 890.1h0M492.4 890.1h0M549.7 890.1h0M610.8 890.1h0M637.2 890.1h0M651.8 890.1h0M137.9 889.2h0M326.6 889.2h0M368.5 889.2h0M496.4 889.2h0M497.1 889.2h0M584.5 889.2h0M129.7 888.4h0M321.6 888.4h0M326.6 888.4h0M329.9 888.4h0M465.9 888.4h0M511.6 888.4h0M658.4 888.4h0M683.2 888.4h0M215.6 887.6h0M264.0 887.6h0M323.1 887.6h0M334.7 887.6h0M480.2 887.6h0M485.6 887.6h0M500.6 887.6h0M583.5 887.6h0M648.0 887.6h0M664.7 887.6h0M453.7 886.7h0M481.0 886.7h0M482.9 886.7h0M544.8 886.7h0M572.1 886.7h0M136.8 885.9h0M195.1 885.9h0M209.4 885.9h0M214.9 885.9h0M232.5 885.9h0M243.2 885.9h0M253.5 885.9h0M325.4 885.9h0M329.6 885.9h0M472.0 885.9h0M142.9 885.1h0M158.6 885.1h0M161.8 885.1h0M237.5 885.1h0M267.1 885.1h0M301.9 885.1h0M332.2 885.1h0M338.3 885.1h0M350.1 885.1h0M385.5 885.1h0M524.9 885.1h0M653.5 885.1h0M279.2 884.2h0M522.7 884.2h0M589.3 884.2h0M693.3 884.2h0M247.5 883.4h0M314.6 883.4h0M329.0 883.4h0M356.6 883.4h0M470.8 883.4h0M510.4 883.4h0M628.5 883.4h0M142.8 882.6h0M218.3 882.6h0M220.7 882.6h0M280.8 882.6h0M297.1 882.6h0M314.9 882.6h0M441.8 882.6h0M562.9 882.6h0M631.7 882.6h0M688.8 882.6h0M128.5 881.7h0M329.7 881.7h0M479.5 881.7h0M582.0 881.7h0M695.3 881.7h0M183.0 880.9h0M272.4 880.9h0M311.2 880.9h0M326.2 880.9h0M327.4 880.9h0M433.8 880.9h0M491.1 880.9h0M529.7 880.9h0M574.4 880.9h0M199.3 880.1h0M205.4 880.1h0M213.9 880.1h0M267.1 880.1h0M327.6 880.1h0M430.1 880.1h0M477.4 880.1h0M548.6 880.1h0M587.1 880.1h0M600.5 880.1h0M210.2 879.2h0M327.5 879.2h0M330.2 879.2h0M370.0 879.2h0M382.1 879.2h0M516.0 879.2h0M559.2 879.2h0M650.6 879.2h0M669.9 879.2h0M696.8 879.2h0M219.1 878.4h0M316.6 878.4h0M324.9 878.4h0M345.9 878.4h0M504.9 878.4h0M555.0 878.4h0M597.8 878.4h0M149.7 877.6h0M169.9 877.6h0M286.5 877.6h0M329.8 877.6h0M356.5 877.6h0M496.1 877.6h0M652.7 877.6h0M693.3 877.6h0M322.7 876.7h0M411.5 876.7h0M445.4 876.7h0M494.6 876.7h0M515.5 876.7h0M563.7 876.7h0M643.5 876.7h0M266.4 875.9h0M327.6 875.9h0M329.7 875.9h0M343.1 875.9h0M448.1 875.9h0M524.4 875.9h0M533.4 875.9h0M601.1 875.9h0M326.7 875.1h0M334.8 875.1h0M422.7 875.1h0M527.3 875.1h0M665.7 875.1h0M195.5 874.2h0M305.1 874.2h0M325.6 874.2h0M474.3 874.2h0M626.4 874.2h0M117.1 873.4h0M329.6 873.4h0M460.9 873.4h0M473.0 873.4h0M551.3 873.4h0M590.9 873.4h0M126.6 872.6h0M330.4 872.6h0M410.2 872.6h0M482.6 872.6h0M507.0 872.6h0M579.3 872.6h0M195.6 871.7h0M328.8 871.7h0M331.6 871.7h0M363.9 871.7h0M438.3 871.7h0M658.4 871.7h0M124.8 870.9h0M241.6 870.9h0M242.8 870.9h0M329.0 870.9h0M330.1 870.9h0M401.6 870.9h0M404.7 870.9h0M433.6 870.9h0M539.9 870.9h0M325.9 870.1h0M332.9 870.1h0M469.2 870.1h0M580.1 870.1h0M671.7 870.1h0M687.1 870.1h0M701.2 870.1h0M271.5 869.2h0M292.0 869.2h0M323.3 869.2h0M506.7 869.2h0M694.8 869.2h0M176.9 868.4h0M285.5 868.4h0M325.7 868.4h0M326.8 868.4h0M327.7 868.4h0M153.9 867.6h0M179.9 867.6h0M329.1 867.6h0M477.1 867.6h0M550.3 867.6h0M661.3 867.6h0M203.2 866.7h0M326.4 866.7h0M328.5 866.7h0M477.4 866.7h0M532.6 866.7h0M552.5 866.7h0M632.3 866.7h0M150.4 865.9h0M282.0 865.9h0M330.1 865.9h0M332.0 865.9h0M382.4 865.9h0M388.2 865.9h0M449.4 865.9h0M469.1 865.9h0M488.7 865.9h0M166.1 865.1h0M305.9 865.1h0M323.7 865.1h0M325.4 865.1h0M356.2 865.1h0M475.9 865.1h0M521.8 865.1h0M568.6 865.1h0M612.0 865.1h0M691.4 865.1h0M202.9 864.2h0M284.6 864.2h0M479.5 864.2h0M526.5 864.2h0M582.2 864.2h0M611.9 864.2h0M177.3 863.4h0M224.1 863.4h0M349.7 863.4h0M418.2 863.4h0M577.4 863.4h0M677.7 863.4h0M206.4 862.6h0M300.2 862.6h0M328.0 862.6h0M328.9 862.6h0M330.0 862.6h0M347.7 862.6h0M496.7 862.6h0M600.8 862.6h0M145.6 861.7h0M200.6 861.7h0M327.6 861.7h0M332.5 861.7h0M407.3 861.7h0M507.7 861.7h0M139.7 860.9h0M173.4 860.9h0M270.3 860.9h0M326.6 860.9h0M477.7 860.9h0M489.6 860.9h0M612.2 860.9h0M133.1 860.1h0M283.5 860.1h0M330.8 860.1h0M481.8 860.1h0M497.4 860.1h0M564.3 860.1h0M692.6 860.1h0M282.7 859.2h0M325.9 859.2h0M336.7 859.2h0M485.2 859.2h0M582.6 859.2h0M162.9 858.4h0M238.4 858.4h0M240.4 858.4h0M331.0 858.4h0M455.3 858.4h0M467.3 858.4h0M660.0 858.4h0M665.4 858.4h0M329.8 857.6h0M331.2 857.6h0M472.5 857.6h0M480.1 857.6h0M130.8 856.7h0M329.3 856.7h0M389.6 856.7h0M534.3 856.7h0M600.7 856.7h0M324.4 855.9h0M326.7 855.9h0M433.1 855.9h0M486.3 855.9h0M492.6 855.9h0M531.9 855.9h0M274.5 855.1h0M292.5 855.1h0M498.3 855.1h0M601.7 855.1h0M628.9 855.1h0M665.5 855.1h0M485.0 854.2h0M554.9 854.2h0M172.6 853.4h0M270.5 853.4h0M271.5 853.4h0M575.3 853.4h0M605.2 853.4h0M608.3 853.4h0M609.3 853.4h0M255.5 852.6h0M327.1 852.6h0M329.9 852.6h0M384.1 852.6h0M410.5 852.6h0M514.6 852.6h0M553.0 852.6h0M660.1 852.6h0M144.0 851.7h0M329.0 851.7h0M331.4 851.7h0M474.5 851.7h0M696.5 851.7h0M158.3 850.9h0M330.5 850.9h0M332.5 850.9h0M339.0 850.9h0M353.4 850.9h0M480.0 850.9h0M597.7 850.9h0M676.5 850.9h0M142.5 850.1h0M245.6 850.1h0M272.6 850.1h0M279.3 850.1h0M317.7 850.1h0M344.5 850.1h0M350.3 850.1h0M578.6 850.1h0M616.4 850.1h0M152.4 849.2h0M328.5 849.2h0M362.8 849.2h0M439.9 849.2h0M468.3 849.2h0M469.4 849.2h0M497.2 849.2h0M662.5 849.2h0M145.9 848.4h0M160.8 848.4h0M320.2 848.4h0M322.6 848.4h0M326.8 848.4h0M330.1 848.4h0M449.3 848.4h0M502.6 848.4h0M567.5 848.4h0M680.7 848.4h0M159.5 847.6h0M252.1 847.6h0M263.6 847.6h0M322.4 847.6h0M329.7 847.6h0M334.4 847.6h0M453.2 847.6h0M472.1 847.6h0M631.3 847.6h0M680.3 847.6h0M285.5 846.7h0M326.8 846.7h0M331.2 846.7h0M483.6 846.7h0M518.8 846.7h0M545.6 846.7h0M684.1 846.7h0M205.9 845.9h0M215.5 845.9h0M293.3 845.9h0M330.1 845.9h0M353.8 845.9h0M623.0 845.9h0M662.7 845.9h0M674.1 845.9h0M167.3 845.1h0M274.1 845.1h0M326.4 845.1h0M333.1 845.1h0M411.5 845.1h0M598.3 845.1h0M613.0 845.1h0M643.9 845.1h0M700.0 845.1h0M175.1 844.2h0M202.5 844.2h0M327.9 844.2h0M447.7 844.2h0M471.2 844.2h0M503.3 844.2h0M560.9 844.2h0M482.9 843.4h0M497.4 843.4h0M504.5 843.4h0M512.0 843.4h0M561.1 843.4h0M176.1 842.6h0M281.9 842.6h0M329.3 842.6h0M468.2 842.6h0M495.6 842.6h0M516.6 842.6h0M576.9 842.6h0M662.4 842.6h0M145.1 841.7h0M256.7 841.7h0M327.4 841.7h0M329.0 841.7h0M329.4 841.7h0M503.2 841.7h0M126.7 840.9h0M208.9 840.9h0M324.9 840.9h0M451.0 840.9h0M651.9 840.9h0M244.3 840.1h0M324.8 840.1h0M329.3 840.1h0M379.6 840.1h0M445.5 840.1h0M466.3 840.1h0M590.6 840.1h0M654.4 840.1h0M656.5 840.1h0M277.5 839.2h0M329.8 839.2h0M463.5 839.2h0M171.2 838.4h0M330.9 838.4h0M332.2 838.4h0M357.8 838.4h0M379.8 838.4h0M622.1 838.4h0M645.7 838.4h0M667.5 838.4h0M687.3 838.4h0M228.6 837.6h0M253.3 837.6h0M326.7 837.6h0M327.4 837.6h0M328.3 837.6h0M331.5 837.6h0M476.1 837.6h0M503.5 837.6h0M504.6 837.6h0M513.3 837.6h0M600.6 837.6h0M127.6 836.7h0M210.9 836.7h0M220.9 836.7h0M224.3 836.7h0M284.8 836.7h0M431.0 836.7h0M488.3 836.7h0M494.4 836.7h0M505.7 836.7h0M511.8 836.7h0M578.3 836.7h0M629.1 836.7h0M652.2 836.7h0M680.2 836.7h0M609.6 835.9h0M626.3 835.9h0M124.2 835.1h0M279.0 835.1h0M401.5 835.1h0M414.8 835.1h0M498.0 835.1h0M581.1 835.1h0M133.1 834.2h0M185.5 834.2h0M194.4 834.2h0M196.8 834.2h0M222.1 834.2h0M324.5 834.2h0M328.5 834.2h0M435.9 834.2h0M437.0 834.2h0M468.4 834.2h0M506.5 834.2h0M523.5 834.2h0M562.5 834.2h0M238.1 833.4h0M327.5 833.4h0M409.2 833.4h0M475.3 833.4h0M532.9 833.4h0M699.4 833.4h0M151.2 832.6h0M353.2 832.6h0M491.7 832.6h0M580.1 832.6h0M220.0 831.7h0M220.6 831.7h0M327.2 831.7h0M328.6 831.7h0M332.5 831.7h0M357.9 831.7h0M365.6 831.7h0M467.1 831.7h0M130.6 830.9h0M137.6 830.9h0M181.5 830.9h0M310.5 830.9h0M327.5 830.9h0M331.7 830.9h0M385.2 830.9h0M573.3 830.9h0M631.6 830.9h0M655.1 830.9h0M292.7 830.1h0M373.0 830.1h0M500.2 830.1h0M128.2 829.2h0M244.8 829.2h0M412.9 829.2h0M470.3 829.2h0M500.4 829.2h0M502.8 829.2h0M555.6 829.2h0M656.5 829.2h0M329.5 828.4h0M353.1 828.4h0M617.5 828.4h0M658.9 828.4h0M468.5 827.6h0M506.0 827.6h0M546.5 827.6h0M555.0 827.6h0M576.6 827.6h0M659.4 827.6h0M189.4 826.7h0M226.0 826.7h0M327.2 826.7h0M345.2 826.7h0M478.3 826.7h0M504.8 826.7h0M220.2 825.9h0M331.5 825.9h0M457.0 825.9h0M621.4 825.9h0M659.4 825.9h0M118.4 825.1h0M194.2 825.1h0M241.3 825.1h0M330.9 825.1h0M332.4 825.1h0M529.0 825.1h0M675.9 825.1h0M325.7 824.2h0M332.3 824.2h0M466.8 824.2h0M326.6 823.4h0M329.3 823.4h0M483.4 823.4h0M507.8 823.4h0M668.3 823.4h0M676.9 823.4h0M225.6 822.6h0M227.3 822.6h0M329.9 822.6h0M333.0 822.6h0M476.4 822.6h0M612.5 822.6h0M143.1 821.7h0M278.5 821.7h0M417.8 821.7h0M434.5 821.7h0M586.1 821.7h0M411.2 820.9h0M435.0 820.9h0M449.3 820.9h0M468.3 820.9h0M486.4 820.9h0M638.2 820.9h0M657.1 820.9h0M188.3 820.1h0M397.1 820.1h0M483.6 820.1h0M560.1 820.1h0M565.6 820.1h0M572.9 820.1h0M648.1 820.1h0M677.2 820.1h0M692.8 820.1h0M330.3 819.2h0M386.6 819.2h0M472.6 819.2h0M507.8 819.2h0M179.8 818.4h0M204.8 818.4h0M293.3 818.4h0M325.2 818.4h0M327.8 818.4h0M328.6 818.4h0M330.1 818.4h0M384.9 818.4h0M490.8 818.4h0M640.7 818.4h0M326.8 817.6h0M328.3 817.6h0M330.4 817.6h0M484.0 817.6h0M508.1 817.6h0M517.3 817.6h0M152.1 816.8h0M167.4 816.8h0M185.7 816.8h0M191.3 816.8h0M205.8 816.8h0M330.6 816.8h0M332.3 816.8h0M333.5 816.8h0M504.7 816.8h0M508.5 816.8h0M516.6 816.8h0M524.7 816.8h0M566.0 816.8h0M611.7 816.8h0M323.4 815.9h0M407.8 815.9h0M451.5 815.9h0M325.0 815.1h0M327.3 815.1h0M330.7 815.1h0M333.9 815.1h0M399.1 815.1h0M436.2 815.1h0M498.8 815.1h0M521.4 815.1h0M613.2 815.1h0M203.2 814.3h0M204.8 814.3h0M207.0 814.3h0M410.6 814.3h0M564.9 814.3h0M588.9 814.3h0M668.5 814.3h0M144.5 813.4h0M280.2 813.4h0M491.6 813.4h0M614.3 813.4h0M226.3 812.6h0M319.0 812.6h0M328.3 812.6h0M330.5 812.6h0M332.1 812.6h0M469.8 812.6h0M489.7 812.6h0M491.5 812.6h0M583.7 812.6h0M585.7 812.6h0M676.7 812.6h0M261.5 811.8h0M327.6 811.8h0M240.0 810.9h0M331.9 810.9h0M533.2 810.9h0M553.7 810.9h0M639.2 810.9h0M665.9 810.9h0M173.6 810.1h0M210.9 810.1h0M271.9 810.1h0M303.0 810.1h0M330.5 810.1h0M334.5 810.1h0M500.9 810.1h0M504.4 810.1h0M611.8 810.1h0M646.8 810.1h0M660.1 810.1h0M266.4 809.3h0M282.6 809.3h0M329.6 809.3h0M600.7 809.3h0M657.4 809.3h0M175.8 808.4h0M329.6 808.4h0M427.3 808.4h0M438.6 808.4h0M635.2 808.4h0M418.7 807.6h0M449.7 807.6h0M476.8 807.6h0M478.0 807.6h0M168.8 806.8h0M180.5 806.8h0M218.9 806.8h0M308.7 805.9h0M323.6 805.9h0M329.5 805.9h0M533.9 805.9h0M669.6 805.9h0M691.1 805.9h0M158.1 805.1h0M322.7 805.1h0M333.3 805.1h0M523.0 805.1h0M549.9 805.1h0M679.8 805.1h0M270.9 804.3h0M327.1 804.3h0M327.4 804.3h0M397.6 804.3h0M413.6 804.3h0M438.3 804.3h0M444.6 804.3h0M465.2 804.3h0M500.6 804.3h0M626.8 804.3h0M136.6 803.4h0M209.5 803.4h0M309.5 803.4h0M325.2 803.4h0M327.6 803.4h0M333.7 803.4h0M495.3 803.4h0M544.2 803.4h0M597.3 803.4h0M611.6 803.4h0M189.7 802.6h0M240.7 802.6h0M330.7 802.6h0M449.7 802.6h0M488.9 802.6h0M158.9 801.8h0M208.1 801.8h0M261.4 801.8h0M262.3 801.8h0M267.8 801.8h0M561.9 801.8h0M572.4 801.8h0M125.5 800.9h0M190.5 800.9h0M306.4 800.9h0M327.2 800.9h0M329.4 800.9h0M330.6 800.9h0M332.1 800.9h0M405.0 800.9h0M456.1 800.9h0M506.4 800.9h0M271.0 800.1h0M488.0 800.1h0M495.5 800.1h0M599.8 800.1h0M624.5 800.1h0M700.2 800.1h0M127.9 799.3h0M278.1 799.3h0M480.3 799.3h0M493.5 799.3h0M497.3 799.3h0M536.4 799.3h0M585.9 799.3h0M623.0 799.3h0M205.4 798.4h0M207.7 798.4h0M263.6 798.4h0M331.9 798.4h0M379.2 798.4h0M390.3 798.4h0M444.1 798.4h0M472.8 798.4h0M508.3 798.4h0M697.7 798.4h0M329.6 797.6h0M332.3 797.6h0M374.5 797.6h0M395.7 797.6h0M485.3 797.6h0M495.7 797.6h0M148.0 796.8h0M323.0 796.8h0M329.4 796.8h0M475.1 796.8h0M517.2 796.8h0M562.9 796.8h0M216.7 795.9h0M223.8 795.9h0M281.7 795.9h0M377.8 795.9h0M665.8 795.9h0M161.4 795.1h0M203.0 795.1h0M327.2 795.1h0M356.6 795.1h0M563.3 795.1h0M671.8 795.1h0M325.0 794.3h0M327.0 794.3h0M331.4 794.3h0M700.3 794.3h0M153.5 793.4h0M189.8 793.4h0M239.7 793.4h0M264.5 793.4h0M328.8 793.4h0M155.7 792.6h0M200.9 792.6h0M329.3 792.6h0M493.0 792.6h0M499.4 792.6h0M503.1 792.6h0M507.4 792.6h0M529.3 792.6h0M225.6 791.8h0M259.8 791.8h0M289.3 791.8h0M293.4 791.8h0M324.9 791.8h0M581.1 791.8h0M322.4 790.9h0M325.8 790.9h0M345.3 790.9h0M501.3 790.9h0M518.4 790.9h0M524.9 790.9h0M115.7 790.1h0M117.7 790.1h0M328.8 790.1h0M586.3 790.1h0M625.6 790.1h0M269.7 789.3h0M326.9 789.3h0M328.8 789.3h0M519.5 789.3h0M605.5 789.3h0M622.6 789.3h0M670.9 789.3h0M694.8 789.3h0M132.0 788.4h0M167.8 788.4h0M245.8 788.4h0M324.9 788.4h0M326.9 788.4h0M328.5 788.4h0M329.4 788.4h0M330.0 788.4h0M333.8 788.4h0M493.5 788.4h0M528.1 788.4h0M563.4 788.4h0M118.4 787.6h0M188.5 787.6h0M328.0 787.6h0M334.8 787.6h0M467.9 787.6h0M501.6 787.6h0M595.1 787.6h0M637.4 787.6h0M294.3 786.8h0M486.8 786.8h0M494.0 786.8h0M578.6 786.8h0M188.5 785.9h0M276.3 785.9h0M331.3 785.9h0M332.5 785.9h0M522.0 785.9h0M254.2 785.1h0M266.9 785.1h0M307.0 785.1h0M326.1 785.1h0M353.9 785.1h0M490.0 785.1h0M612.6 785.1h0M693.0 785.1h0M354.4 784.3h0M554.8 784.3h0M255.2 783.4h0M297.1 783.4h0M322.4 783.4h0M325.5 783.4h0M332.0 783.4h0M335.5 783.4h0M368.8 783.4h0M496.3 783.4h0M635.3 783.4h0M194.8 782.6h0M324.3 782.6h0M330.3 782.6h0M521.9 782.6h0M644.9 782.6h0M126.2 781.8h0M326.5 781.8h0M327.9 781.8h0M445.9 781.8h0M540.7 781.8h0M587.5 781.8h0M609.2 781.8h0M648.1 781.8h0M663.1 781.8h0M135.5 780.9h0M198.7 780.9h0M327.9 780.9h0M373.5 780.9h0M381.8 780.9h0M404.9 780.9h0M581.2 780.9h0M589.0 780.9h0M699.3 780.9h0M329.6 780.1h0M449.6 780.1h0M477.2 780.1h0M619.6 780.1h0M185.3 779.3h0M194.3 779.3h0M326.5 779.3h0M470.9 779.3h0M489.8 779.3h0M544.9 779.3h0M239.5 778.4h0M263.3 778.4h0M330.7 778.4h0M537.6 778.4h0M627.5 778.4h0M691.9 778.4h0M518.1 777.6h0M528.5 777.6h0M623.5 777.6h0M160.6 776.8h0M180.8 776.8h0M328.5 776.8h0M338.3 776.8h0M390.8 776.8h0M524.0 776.8h0M531.1 776.8h0M553.1 776.8h0M695.7 776.8h0M328.8 775.9h0M329.4 775.9h0M331.8 775.9h0M483.2 775.9h0M488.0 775.9h0M295.6 775.1h0M310.4 775.1h0M464.2 775.1h0M474.8 775.1h0M165.0 774.3h0M219.3 774.3h0M246.7 774.3h0M263.5 774.3h0M309.2 774.3h0M327.3 774.3h0M328.2 774.3h0M393.0 774.3h0M495.9 774.3h0M518.5 774.3h0M600.3 774.3h0M610.3 774.3h0M131.8 773.4h0M186.2 773.4h0M287.3 773.4h0M325.6 773.4h0M329.8 773.4h0M330.2 773.4h0M437.0 773.4h0M472.6 773.4h0M488.1 773.4h0M557.1 773.4h0M232.0 772.6h0M373.3 772.6h0M478.0 772.6h0M491.9 772.6h0M617.9 772.6h0M250.3 771.8h0M325.9 771.8h0M327.4 771.8h0M278.0 770.9h0M326.3 770.9h0M511.5 770.9h0M578.7 770.9h0M638.5 770.9h0M156.3 770.1h0M437.6 770.1h0M629.6 770.1h0M223.0 769.3h0M263.5 769.3h0M325.8 769.3h0M661.5 769.3h0M156.7 768.4h0M206.1 768.4h0M229.5 768.4h0M414.4 768.4h0M629.3 768.4h0M135.2 767.6h0M254.1 767.6h0M315.7 767.6h0M325.9 767.6h0M327.8 767.6h0M330.6 767.6h0M331.5 767.6h0M665.3 767.6h0M690.5 767.6h0M180.7 766.8h0M210.1 766.8h0M296.5 766.8h0M312.2 766.8h0M332.3 766.8h0M472.2 766.8h0M538.7 766.8h0M547.0 766.8h0M603.3 766.8h0M674.2 766.8h0M186.7 765.9h0M309.5 765.9h0M325.7 765.9h0M368.6 765.9h0M328.2 765.1h0M328.9 765.1h0M498.4 765.1h0M581.1 765.1h0M327.1 764.3h0M329.7 764.3h0M419.5 764.3h0M466.3 764.3h0M494.3 764.3h0M505.6 764.3h0M636.4 764.3h0M642.1 764.3h0M700.0 764.3h0M188.1 763.4h0M464.8 763.4h0M508.9 763.4h0M636.1 763.4h0M216.1 762.6h0M283.6 762.6h0M290.9 762.6h0M327.6 762.6h0M348.9 762.6h0M404.3 762.6h0M150.9 761.8h0M168.4 761.8h0M201.6 761.8h0M235.2 761.8h0M327.5 761.8h0M329.6 761.8h0M331.3 761.8h0M484.9 761.8h0M501.7 761.8h0M534.5 761.8h0M606.6 761.8h0M633.3 761.8h0M229.0 760.9h0M297.1 760.9h0M327.0 760.9h0M332.9 760.9h0M505.5 760.9h0M558.0 760.9h0M587.4 760.9h0M684.0 760.9h0M123.2 760.1h0M224.0 760.1h0M275.0 760.1h0M303.9 760.1h0M313.7 760.1h0M331.0 760.1h0M332.0 760.1h0M359.7 760.1h0M372.3 760.1h0M427.9 760.1h0M432.6 760.1h0M438.5 760.1h0M450.7 760.1h0M474.4 760.1h0M583.1 760.1h0M159.2 759.3h0M195.4 759.3h0M199.3 759.3h0M290.1 759.3h0M327.4 759.3h0M245.7 758.4h0M422.5 758.4h0M460.3 758.4h0M463.5 758.4h0M490.0 758.4h0M697.7 758.4h0M474.6 757.6h0M529.3 757.6h0M187.3 756.8h0M242.3 756.8h0M447.0 756.8h0M483.6 756.8h0M508.6 756.8h0M586.6 756.8h0M692.0 756.8h0M324.5 755.9h0M332.0 755.9h0M455.9 755.9h0M513.7 755.9h0M353.6 755.1h0M451.5 755.1h0M495.2 755.1h0M667.1 755.1h0M278.0 754.3h0M303.4 754.3h0M327.9 754.3h0M328.7 754.3h0M329.7 754.3h0M536.7 754.3h0M579.9 754.3h0M589.3 754.3h0M636.7 754.3h0M130.6 753.4h0M185.3 753.4h0M329.5 753.4h0M505.9 753.4h0M542.2 753.4h0M626.1 753.4h0M195.8 752.6h0M271.0 752.6h0M282.6 752.6h0M317.6 752.6h0M327.0 752.6h0M332.5 752.6h0M374.8 752.6h0M529.2 752.6h0M638.6 752.6h0M663.5 752.6h0M293.9 751.8h0M322.5 751.8h0M323.8 751.8h0M328.8 751.8h0M329.3 751.8h0M576.8 751.8h0M611.1 751.8h0M615.0 751.8h0M627.2 751.8h0M119.3 750.9h0M385.2 750.9h0M466.8 750.9h0M521.5 750.9h0M602.4 750.9h0M193.8 750.1h0M211.1 750.1h0M325.5 750.1h0M330.3 750.1h0M433.5 750.1h0M447.2 750.1h0M514.1 750.1h0M652.9 750.1h0M683.9 750.1h0M175.2 749.3h0M204.3 749.3h0M327.5 749.3h0M331.2 749.3h0M334.3 749.3h0M608.0 749.3h0M628.2 749.3h0M144.3 748.4h0M146.2 748.4h0M270.8 748.4h0M326.9 748.4h0M328.8 748.4h0M331.5 748.4h0M461.0 748.4h0M480.4 748.4h0M483.9 748.4h0M579.2 748.4h0M329.0 747.6h0M419.5 747.6h0M596.1 747.6h0M116.7 746.8h0M236.5 746.8h0M263.0 746.8h0M291.3 746.8h0M300.7 746.8h0M326.7 746.8h0M331.3 746.8h0M471.5 746.8h0M477.2 746.8h0M578.9 746.8h0M633.9 746.8h0M639.4 746.8h0M145.6 745.9h0M271.7 745.9h0M328.0 745.9h0M469.0 745.9h0M588.2 745.9h0M123.3 745.1h0M270.0 745.1h0M490.7 745.1h0M495.3 745.1h0M212.7 744.3h0M222.4 744.3h0M303.0 744.3h0M316.1 744.3h0M329.7 744.3h0M383.4 744.3h0M203.3 743.4h0M217.5 743.4h0M244.4 743.4h0M326.2 743.4h0M327.2 743.4h0M328.7 743.4h0M329.8 743.4h0M545.5 743.4h0M580.5 743.4h0M621.7 743.4h0M117.3 742.6h0M223.2 742.6h0M326.7 742.6h0M330.9 742.6h0M333.6 742.6h0M408.8 742.6h0M458.7 742.6h0M168.8 741.8h0M191.8 741.8h0M228.7 741.8h0M259.4 741.8h0M329.5 741.8h0M339.4 741.8h0M526.0 741.8h0M626.4 741.8h0M327.0 740.9h0M330.6 740.9h0M333.5 740.9h0M426.0 740.9h0M624.4 740.9h0M675.9 740.9h0M687.3 740.9h0M141.4 740.1h0M203.9 740.1h0M210.9 740.1h0M327.7 740.1h0M553.7 740.1h0M115.3 739.3h0M252.2 739.3h0M327.7 739.3h0M450.8 739.3h0M572.8 739.3h0M256.6 738.4h0M298.9 738.4h0M453.4 738.4h0M615.9 738.4h0M188.1 737.6h0M325.8 737.6h0M419.9 737.6h0M421.2 737.6h0M329.3 736.8h0M333.1 736.8h0M439.7 736.8h0M194.8 735.9h0M327.1 735.9h0M181.1 735.1h0M326.4 735.1h0M332.0 735.1h0M333.3 735.1h0M377.0 735.1h0M466.7 735.1h0M621.6 735.1h0M186.5 734.3h0M190.3 734.3h0M246.0 734.3h0M329.8 734.3h0M331.4 734.3h0M497.1 734.3h0M691.3 734.3h0M120.3 733.5h0M177.3 733.5h0M224.2 733.5h0M253.1 733.5h0M253.9 733.5h0M263.3 733.5h0M289.9 733.5h0M329.5 733.5h0M331.4 733.5h0M333.1 733.5h0M435.6 733.5h0M472.7 733.5h0M557.1 733.5h0M601.5 733.5h0M334.6 732.6h0M549.9 732.6h0M300.3 731.8h0M488.3 731.8h0M548.5 731.8h0M638.2 731.8h0M325.1 731.0h0M331.0 731.0h0M347.6 731.0h0M391.2 731.0h0M456.1 731.0h0M484.6 731.0h0M518.8 731.0h0M534.2 731.0h0M194.1 730.1h0M326.5 730.1h0M481.6 730.1h0M500.8 730.1h0M518.0 730.1h0M631.7 730.1h0M648.3 730.1h0M176.1 729.3h0M192.8 729.3h0M323.5 729.3h0M326.1 729.3h0M330.6 729.3h0M481.6 729.3h0M512.0 729.3h0M678.9 729.3h0M693.8 729.3h0M704.1 729.3h0M242.3 728.5h0M246.7 728.5h0M380.6 728.5h0M419.0 728.5h0M465.7 728.5h0M506.0 728.5h0M508.4 728.5h0M607.1 728.5h0M615.2 728.5h0M185.5 727.6h0M321.5 727.6h0M502.7 727.6h0M539.9 727.6h0M544.8 727.6h0M265.6 726.8h0M323.7 726.8h0M328.9 726.8h0M331.6 726.8h0M347.8 726.8h0M486.2 726.8h0M499.2 726.8h0M509.5 726.8h0M700.2 726.8h0M327.3 726.0h0M471.9 726.0h0M490.0 726.0h0M504.2 726.0h0M179.6 725.1h0M325.0 725.1h0M325.9 725.1h0M699.4 725.1h0M141.1 724.3h0M326.8 724.3h0M331.4 724.3h0M332.9 724.3h0M399.3 724.3h0M664.5 724.3h0M682.8 724.3h0M128.9 723.5h0M176.2 723.5h0M323.1 723.5h0M327.0 723.5h0M328.4 723.5h0M425.0 723.5h0M465.5 723.5h0M476.3 723.5h0M596.0 723.5h0M674.2 723.5h0M694.8 723.5h0M290.7 722.6h0M329.7 722.6h0M465.5 722.6h0M535.0 722.6h0M166.7 721.8h0M320.6 721.8h0M330.6 721.8h0M377.8 721.8h0M381.2 721.8h0M532.7 721.8h0M584.8 721.8h0M623.3 721.8h0M119.0 721.0h0M170.7 721.0h0M170.9 721.0h0M342.4 721.0h0M480.0 721.0h0M588.2 721.0h0M629.6 721.0h0M667.6 721.0h0M669.9 721.0h0M242.4 720.1h0M286.8 720.1h0M325.3 720.1h0M329.2 720.1h0M479.9 720.1h0M679.9 720.1h0M267.5 719.3h0M287.7 719.3h0M304.3 719.3h0M330.2 719.3h0M332.0 719.3h0M333.0 719.3h0M432.5 719.3h0M550.5 719.3h0M174.0 718.5h0M239.2 718.5h0M330.2 718.5h0M370.4 718.5h0M117.4 717.6h0M124.8 717.6h0M327.9 717.6h0M414.1 717.6h0M525.1 717.6h0M548.2 717.6h0M589.6 717.6h0M681.7 717.6h0M696.2 717.6h0M222.4 716.8h0M313.1 716.8h0M326.2 716.8h0M326.8 716.8h0M398.6 716.8h0M450.4 716.8h0M589.1 716.8h0M117.9 716.0h0M121.9 716.0h0M146.2 716.0h0M153.3 716.0h0M354.2 716.0h0M414.3 716.0h0M444.6 716.0h0M595.9 716.0h0M671.8 716.0h0M314.7 715.1h0M324.6 715.1h0M333.0 715.1h0M333.5 715.1h0M478.7 715.1h0M570.0 715.1h0M673.6 715.1h0M238.9 714.3h0M288.6 714.3h0M310.4 714.3h0M316.2 714.3h0M330.0 714.3h0M360.9 714.3h0M438.0 714.3h0M607.9 714.3h0M156.3 713.5h0M332.8 713.5h0M411.0 713.5h0M477.4 713.5h0M543.9 713.5h0M640.9 713.5h0M331.1 712.6h0M373.5 712.6h0M436.9 712.6h0M468.9 712.6h0M470.7 712.6h0M478.8 712.6h0M495.8 712.6h0M612.1 712.6h0M617.6 712.6h0M673.1 712.6h0M125.2 711.8h0M151.8 711.8h0M208.3 711.8h0M327.5 711.8h0M329.9 711.8h0M419.0 711.8h0M452.9 711.8h0M459.8 711.8h0M464.3 711.8h0M554.4 711.8h0M661.9 711.8h0M175.3 711.0h0M201.0 711.0h0M253.0 711.0h0M320.4 711.0h0M326.7 711.0h0M444.9 711.0h0M563.2 711.0h0M191.1 710.1h0M302.9 710.1h0M330.0 710.1h0M499.0 710.1h0M539.7 710.1h0M618.3 710.1h0M655.7 710.1h0M181.2 709.3h0M293.3 709.3h0M331.1 709.3h0M370.9 709.3h0M409.6 709.3h0M525.4 709.3h0M667.0 709.3h0M699.5 709.3h0M699.8 709.3h0M291.5 708.5h0M296.5 708.5h0M682.9 708.5h0M115.7 707.6h0M328.3 707.6h0M329.5 707.6h0M356.0 707.6h0M523.3 707.6h0M127.0 706.8h0M200.1 706.8h0M352.1 706.8h0M360.1 706.8h0M383.2 706.8h0M564.2 706.8h0M678.5 706.8h0M267.0 706.0h0M283.8 706.0h0M326.8 706.0h0M331.5 706.0h0M550.3 706.0h0M604.9 706.0h0M704.5 706.0h0M205.4 705.1h0M325.7 705.1h0M413.0 705.1h0M453.4 705.1h0M500.8 705.1h0M510.5 705.1h0M130.2 704.3h0M223.7 704.3h0M230.6 704.3h0M386.3 704.3h0M497.9 704.3h0M602.2 704.3h0M117.6 703.5h0M325.5 703.5h0M327.2 703.5h0M328.8 703.5h0M332.1 703.5h0M332.7 703.5h0M354.9 703.5h0M443.8 703.5h0M634.0 703.5h0M676.4 703.5h0M122.6 702.6h0M211.2 702.6h0M242.8 702.6h0M244.4 702.6h0M451.5 702.6h0M479.7 702.6h0M481.5 702.6h0M619.3 702.6h0M115.5 701.8h0M127.5 701.8h0M143.2 701.8h0M221.1 701.8h0M269.9 701.8h0M323.5 701.8h0M326.3 701.8h0M328.9 701.8h0M330.5 701.8h0M332.5 701.0h0M378.8 701.0h0M469.2 701.0h0M490.9 701.0h0M518.3 701.0h0M635.5 701.0h0M155.5 700.1h0M330.6 700.1h0M477.9 700.1h0M496.3 700.1h0M323.8 699.3h0M514.9 699.3h0M555.1 699.3h0M572.4 699.3h0M593.9 699.3h0M634.0 699.3h0M144.0 698.5h0M330.2 698.5h0M480.8 698.5h0M517.9 698.5h0M643.5 698.5h0M670.8 698.5h0M675.0 698.5h0M144.6 697.6h0M329.7 697.6h0M329.9 697.6h0M331.8 697.6h0M582.7 697.6h0M116.0 696.8h0M269.3 696.8h0M301.1 696.8h0M325.6 696.8h0M376.6 696.8h0M380.6 696.8h0M425.3 696.8h0M479.1 696.8h0M654.3 696.8h0M694.7 696.8h0M185.7 696.0h0M201.8 696.0h0M216.3 696.0h0M226.1 696.0h0M243.3 696.0h0M503.6 696.0h0M522.9 696.0h0M534.6 696.0h0M566.7 696.0h0M619.2 696.0h0M207.0 695.1h0M306.7 695.1h0M467.5 695.1h0M152.7 694.3h0M198.2 694.3h0M288.2 694.3h0M371.3 694.3h0M481.0 694.3h0M594.1 694.3h0M639.4 694.3h0M170.6 693.5h0M277.0 693.5h0M281.7 693.5h0M327.0 693.5h0M538.7 693.5h0M587.2 693.5h0M612.6 693.5h0M118.3 692.6h0M119.0 692.6h0M183.6 692.6h0M209.8 692.6h0M301.7 692.6h0M325.2 692.6h0M328.7 692.6h0M330.4 692.6h0M331.9 692.6h0M491.9 692.6h0M655.7 692.6h0M688.9 692.6h0M697.1 692.6h0M203.6 691.8h0M230.4 691.8h0M275.3 691.8h0M323.5 691.8h0M328.3 691.8h0M329.7 691.8h0M657.9 691.8h0M274.9 691.0h0M281.3 691.0h0M308.0 691.0h0M325.9 691.0h0M328.3 691.0h0M329.7 691.0h0M350.4 691.0h0M542.4 691.0h0M607.6 691.0h0M255.9 690.1h0M313.2 690.1h0M324.8 690.1h0M501.9 690.1h0M696.8 690.1h0M146.1 689.3h0M185.2 689.3h0M327.8 689.3h0M414.7 689.3h0M415.3 689.3h0M560.7 689.3h0M605.4 689.3h0M402.1 688.5h0M490.9 688.5h0M491.6 688.5h0M578.9 688.5h0M149.9 687.6h0M271.9 687.6h0M300.5 687.6h0M326.4 687.6h0M479.9 687.6h0M537.4 687.6h0M165.8 686.8h0M310.4 686.8h0M331.5 686.8h0M418.5 686.8h0M465.6 686.8h0M498.1 686.8h0M533.8 686.8h0M542.0 686.8h0M563.2 686.8h0M663.9 686.8h0M669.5 686.8h0M696.3 686.8h0M278.5 686.0h0M477.7 686.0h0M545.0 686.0h0M547.6 686.0h0M568.6 686.0h0M307.1 685.1h0M325.5 685.1h0M327.6 685.1h0M328.9 685.1h0M329.5 685.1h0M536.1 685.1h0M272.4 684.3h0M283.4 684.3h0M331.5 684.3h0M381.6 684.3h0M467.2 684.3h0M506.2 684.3h0M596.8 684.3h0M613.8 684.3h0M653.3 684.3h0M679.3 684.3h0M187.8 683.5h0M287.4 683.5h0M372.1 683.5h0M507.2 683.5h0M523.7 683.5h0M682.6 683.5h0M240.6 682.6h0M601.0 682.6h0M116.8 681.8h0M184.5 681.8h0M328.4 681.8h0M464.3 681.8h0M116.8 681.0h0M464.7 681.0h0M542.0 681.0h0M674.7 681.0h0M325.9 680.1h0M408.7 680.1h0M474.7 680.1h0M661.0 680.1h0M135.7 679.3h0M166.3 679.3h0M225.6 679.3h0M240.5 679.3h0M325.1 679.3h0M328.9 679.3h0M329.6 679.3h0M492.3 679.3h0M686.3 679.3h0M147.2 678.5h0M256.4 678.5h0M476.0 678.5h0M486.9 678.5h0M518.1 678.5h0M557.1 678.5h0M664.2 678.5h0M324.2 677.6h0M326.6 677.6h0M328.9 677.6h0M332.9 677.6h0M423.7 677.6h0M604.5 677.6h0M650.3 677.6h0M652.5 677.6h0M679.8 677.6h0M220.5 676.8h0M330.3 676.8h0M493.4 676.8h0M666.2 676.8h0M681.3 676.8h0M189.6 676.0h0M141.5 675.1h0M323.0 675.1h0M330.5 675.1h0M479.2 675.1h0M490.9 675.1h0M504.4 675.1h0M607.9 675.1h0M170.6 674.3h0M188.1 674.3h0M190.7 674.3h0M329.1 674.3h0M330.4 674.3h0M388.8 674.3h0M392.5 674.3h0M432.6 674.3h0M535.2 674.3h0M558.8 674.3h0M125.7 673.5h0M168.2 673.5h0M294.4 673.5h0M485.5 673.5h0M498.8 673.5h0M625.0 673.5h0M655.7 673.5h0M268.3 672.6h0M331.2 672.6h0M602.0 672.6h0M606.7 672.6h0M127.3 671.8h0M229.2 671.8h0M277.8 671.8h0M329.9 671.8h0M465.0 671.8h0M603.2 671.8h0M249.6 671.0h0M328.5 671.0h0M427.6 671.0h0M531.1 671.0h0M603.5 671.0h0M657.4 671.0h0M162.9 670.1h0M282.6 670.1h0M326.2 670.1h0M328.3 670.1h0M329.3 670.1h0M336.5 670.1h0M513.7 670.1h0M529.2 670.1h0M620.3 670.1h0M141.0 669.3h0M329.9 669.3h0M334.1 669.3h0M492.7 669.3h0M574.3 669.3h0M590.9 669.3h0M683.8 669.3h0M167.4 668.5h0M205.5 668.5h0M416.5 668.5h0M469.8 668.5h0M574.2 668.5h0M637.9 668.5h0M168.1 667.6h0M327.0 667.6h0M476.1 667.6h0M518.7 667.6h0M526.6 667.6h0M276.8 666.8h0M320.2 666.8h0M456.9 666.8h0M472.3 666.8h0M489.2 666.8h0M506.2 666.8h0M648.4 666.8h0M215.2 666.0h0M222.0 666.0h0M222.2 666.0h0M380.9 666.0h0M468.1 666.0h0M540.0 666.0h0M568.7 666.0h0M148.0 665.1h0M184.3 665.1h0M223.6 665.1h0M234.7 665.1h0M276.1 665.1h0M329.1 665.1h0M329.1 665.1h0M615.8 665.1h0M632.4 665.1h0M125.1 664.3h0M137.5 664.3h0M198.0 664.3h0M242.9 664.3h0M326.2 664.3h0M332.9 664.3h0M501.8 664.3h0M678.4 664.3h0M682.2 664.3h0M250.5 663.5h0M282.2 663.5h0M679.5 663.5h0M192.6 662.6h0M261.9 662.6h0M399.6 662.6h0M419.2 662.6h0M428.1 662.6h0M442.7 662.6h0M482.1 662.6h0M508.5 662.6h0M659.8 662.6h0M133.2 661.8h0M193.8 661.8h0M216.7 661.8h0M227.8 661.8h0M328.6 661.8h0M350.5 661.8h0M590.3 661.8h0M614.7 661.8h0M690.0 661.8h0M267.4 661.0h0M327.9 661.0h0M337.3 661.0h0M348.1 661.0h0M370.0 661.0h0M442.7 661.0h0M515.1 661.0h0M550.3 661.0h0M613.4 661.0h0M221.1 660.1h0M278.8 660.1h0M348.0 660.1h0M488.6 660.1h0M513.5 660.1h0M622.8 660.1h0M163.5 659.3h0M253.2 659.3h0M323.5 659.3h0M332.6 659.3h0M343.2 659.3h0M628.4 659.3h0M664.4 659.3h0M692.4 659.3h0M233.2 658.5h0M331.1 658.5h0M435.1 658.5h0M479.3 658.5h0M488.9 658.5h0M568.5 658.5h0M182.0 657.6h0M206.3 657.6h0M273.3 657.6h0M322.6 657.6h0M326.7 657.6h0M328.0 657.6h0M328.6 657.6h0M331.9 657.6h0M432.3 657.6h0M448.1 657.6h0M629.4 657.6h0M655.8 657.6h0M658.5 657.6h0M204.6 656.8h0M268.4 656.8h0M553.2 656.8h0M572.1 656.8h0M644.7 656.8h0M280.2 656.0h0M323.6 656.0h0M327.6 656.0h0M331.3 656.0h0M484.2 656.0h0M486.1 656.0h0M697.0 656.0h0M166.5 655.1h0M242.1 655.1h0M263.8 655.1h0M397.0 655.1h0M634.2 655.1h0M153.2 654.3h0M172.8 654.3h0M238.9 654.3h0M252.1 654.3h0M325.3 654.3h0M510.1 654.3h0M352.7 653.5h0M480.9 653.5h0M500.5 653.5h0M668.9 653.5h0M124.2 652.6h0M131.2 652.6h0M283.4 652.6h0M325.4 652.6h0M394.0 652.6h0M146.7 651.8h0M270.0 651.8h0M327.7 651.8h0M328.5 651.8h0M331.3 651.8h0M389.2 651.8h0M459.4 651.8h0M507.3 651.8h0M214.8 651.0h0M327.5 650.2h0M351.1 650.2h0M406.1 650.2h0M414.4 650.2h0M516.4 650.2h0M117.0 649.3h0M288.9 649.3h0M331.1 649.3h0M332.0 649.3h0M464.9 649.3h0M480.9 649.3h0M502.7 649.3h0M540.8 649.3h0M556.4 649.3h0M619.4 649.3h0M169.0 648.5h0M182.1 648.5h0M242.8 648.5h0M315.6 648.5h0M329.5 648.5h0M331.5 648.5h0M397.1 648.5h0M603.0 648.5h0M678.9 648.5h0M155.0 647.7h0M330.2 647.7h0M386.2 647.7h0M420.2 647.7h0M538.3 647.7h0M541.6 647.7h0M212.6 646.8h0M283.5 646.8h0M605.0 646.8h0M689.2 646.8h0M124.8 646.0h0M133.1 646.0h0M150.1 646.0h0M156.9 646.0h0M180.0 646.0h0M221.8 646.0h0M288.0 646.0h0M304.4 646.0h0M312.4 646.0h0M390.1 646.0h0M689.2 646.0h0M691.1 646.0h0M329.2 645.2h0M163.9 644.3h0M187.0 644.3h0M326.1 644.3h0M330.4 644.3h0M332.0 644.3h0M443.8 644.3h0M115.9 643.5h0M142.9 643.5h0M152.7 643.5h0M329.5 643.5h0M385.7 643.5h0M239.1 642.7h0M271.5 642.7h0M274.5 642.7h0M317.7 642.7h0M406.9 642.7h0M480.6 642.7h0M588.9 642.7h0M594.5 642.7h0M180.8 641.8h0M287.2 641.8h0M326.1 641.8h0M616.1 641.8h0M166.4 641.0h0M199.7 641.0h0M325.5 641.0h0M396.3 641.0h0M495.3 641.0h0M661.3 641.0h0M671.6 641.0h0M281.4 640.2h0M326.4 640.2h0M327.9 640.2h0M328.3 640.2h0M330.6 640.2h0M504.1 640.2h0M684.1 640.2h0M187.4 639.3h0M210.5 639.3h0M236.2 639.3h0M298.2 639.3h0M303.7 639.3h0M392.5 639.3h0M489.1 639.3h0M518.9 639.3h0M523.1 639.3h0M528.6 639.3h0M642.1 639.3h0M664.2 639.3h0M161.1 638.5h0M189.7 638.5h0M211.9 638.5h0M382.1 638.5h0M452.6 638.5h0M503.1 638.5h0M581.4 638.5h0M678.1 638.5h0M118.1 637.7h0M154.0 637.7h0M325.8 637.7h0M331.7 637.7h0M337.0 637.7h0M367.3 637.7h0M402.7 637.7h0M462.3 637.7h0M277.7 636.8h0M292.5 636.8h0M329.0 636.8h0M488.5 636.8h0M513.9 636.8h0M516.9 636.8h0M597.8 636.8h0M263.7 636.0h0M332.8 636.0h0M351.2 636.0h0M457.6 636.0h0M484.3 636.0h0M606.9 636.0h0M677.3 636.0h0M679.3 636.0h0M704.0 636.0h0M257.0 635.2h0M396.4 635.2h0M398.9 635.2h0M478.0 635.2h0M509.3 635.2h0M193.1 634.3h0M258.2 634.3h0M323.3 634.3h0M324.9 634.3h0M329.2 634.3h0M376.7 634.3h0M466.8 634.3h0M490.3 634.3h0M696.7 634.3h0M174.4 633.5h0M178.8 633.5h0M219.5 633.5h0M253.5 633.5h0M306.4 633.5h0M327.4 633.5h0M342.3 633.5h0M364.1 633.5h0M477.3 633.5h0M619.6 633.5h0M225.3 632.7h0M283.1 632.7h0M319.7 632.7h0M327.1 632.7h0M598.1 632.7h0M663.4 632.7h0M224.4 631.8h0M285.1 631.8h0M463.3 631.8h0M575.8 631.8h0M589.4 631.8h0M593.7 631.8h0M177.8 631.0h0M288.9 631.0h0M325.0 631.0h0M331.4 631.0h0M483.3 631.0h0M652.1 631.0h0M670.1 631.0h0M118.3 630.2h0M231.2 630.2h0M233.1 630.2h0M327.3 630.2h0M349.7 630.2h0M448.4 630.2h0M484.8 630.2h0M570.4 630.2h0M334.4 629.3h0M481.8 629.3h0M167.3 628.5h0M186.7 628.5h0M252.4 628.5h0M330.0 628.5h0M439.8 628.5h0M511.5 628.5h0M597.0 628.5h0M675.6 628.5h0M179.6 627.7h0M329.4 627.7h0M392.6 627.7h0M420.3 627.7h0M455.2 627.7h0M634.9 627.7h0M657.9 627.7h0M162.8 626.8h0M333.1 626.8h0M382.2 626.8h0M453.6 626.8h0M504.7 626.8h0M144.2 626.0h0M325.5 626.0h0M329.9 626.0h0M369.6 626.0h0M492.6 626.0h0M544.9 626.0h0M546.8 626.0h0M584.7 626.0h0M142.0 625.2h0M229.8 625.2h0M275.0 625.2h0M323.3 625.2h0M326.4 625.2h0M328.7 625.2h0M373.8 625.2h0M481.4 625.2h0M530.5 625.2h0M486.3 624.3h0M491.6 624.3h0M542.3 624.3h0M559.4 624.3h0M682.3 624.3h0M688.3 624.3h0M138.4 623.5h0M225.1 623.5h0M235.8 623.5h0M330.3 623.5h0M331.1 623.5h0M427.0 623.5h0M478.2 623.5h0M492.7 623.5h0M575.5 623.5h0M594.8 623.5h0M327.1 622.7h0M327.5 622.7h0M332.6 622.7h0M427.6 622.7h0M472.3 622.7h0M577.5 622.7h0M183.6 621.8h0M321.4 621.8h0M334.0 621.8h0M522.6 621.8h0M523.3 621.8h0M526.3 621.8h0M588.2 621.8h0M679.0 621.8h0M333.7 621.0h0M442.8 621.0h0M468.1 621.0h0M476.6 621.0h0M508.3 621.0h0M510.7 621.0h0M118.3 620.2h0M158.2 620.2h0M193.4 620.2h0M225.0 620.2h0M305.7 620.2h0M327.1 620.2h0M496.0 620.2h0M563.6 620.2h0M327.0 619.3h0M328.5 619.3h0M330.3 619.3h0M484.4 619.3h0M499.8 619.3h0M604.5 619.3h0M615.9 619.3h0M630.3 619.3h0M174.2 618.5h0M314.1 618.5h0M326.4 618.5h0M328.3 618.5h0M331.8 618.5h0M632.9 618.5h0M635.5 618.5h0M255.7 617.7h0M310.9 617.7h0M327.5 617.7h0M330.8 617.7h0M434.5 617.7h0M438.8 617.7h0M292.2 616.8h0M459.9 616.8h0M489.1 616.8h0M496.3 616.8h0M505.8 616.8h0M529.7 616.8h0M195.9 616.0h0M206.0 616.0h0M325.5 616.0h0M325.7 616.0h0M416.0 616.0h0M480.1 616.0h0M507.4 616.0h0M324.8 615.2h0M330.5 615.2h0M359.1 615.2h0M475.4 615.2h0M530.5 615.2h0M579.5 615.2h0M586.6 615.2h0M618.3 615.2h0M328.5 614.3h0M493.0 614.3h0M620.7 614.3h0M178.9 613.5h0M206.6 613.5h0M249.6 613.5h0M267.2 613.5h0M313.4 613.5h0M328.9 613.5h0M486.8 613.5h0M518.1 613.5h0M595.4 613.5h0M605.0 613.5h0M671.4 613.5h0M673.5 613.5h0M684.2 613.5h0M137.7 612.7h0M249.0 612.7h0M249.7 612.7h0M295.6 612.7h0M327.0 612.7h0M339.5 612.7h0M441.6 612.7h0M446.2 612.7h0M475.4 612.7h0M475.7 612.7h0M492.4 612.7h0M497.3 612.7h0M202.1 611.8h0M212.5 611.8h0M327.5 611.8h0M332.9 611.8h0M476.0 611.8h0M330.8 611.0h0M490.7 611.0h0M544.8 611.0h0M569.7 611.0h0M579.3 611.0h0M660.7 611.0h0M690.9 611.0h0M279.5 610.2h0M280.4 610.2h0M326.9 610.2h0M450.8 610.2h0M544.2 610.2h0M552.7 610.2h0M571.9 610.2h0M613.0 610.2h0M163.0 609.3h0M320.1 609.3h0M327.0 609.3h0M331.2 609.3h0M392.3 609.3h0M396.0 609.3h0M464.4 609.3h0M475.5 609.3h0M496.8 609.3h0M518.5 609.3h0M530.8 609.3h0M582.5 609.3h0M590.3 609.3h0M635.1 609.3h0M636.6 609.3h0M663.0 609.3h0M663.9 609.3h0M210.8 608.5h0M261.3 608.5h0M264.1 608.5h0M349.3 608.5h0M436.4 608.5h0M476.1 608.5h0M563.1 608.5h0M585.7 608.5h0M601.2 608.5h0M197.3 607.7h0M329.5 607.7h0M335.7 607.7h0M336.1 607.7h0M415.3 607.7h0M487.5 607.7h0M495.2 607.7h0M503.5 607.7h0M533.8 607.7h0M605.1 607.7h0M672.5 607.7h0M202.7 606.8h0M270.6 606.8h0M325.3 606.8h0M331.4 606.8h0M479.5 606.8h0M585.3 606.8h0M596.5 606.8h0M601.0 606.8h0M609.4 606.8h0M120.4 606.0h0M172.2 606.0h0M197.3 606.0h0M235.1 606.0h0M495.2 606.0h0M506.7 606.0h0M526.7 606.0h0M553.9 606.0h0M652.7 606.0h0M691.9 606.0h0M156.0 605.2h0M173.4 605.2h0M187.2 605.2h0M254.2 605.2h0M340.9 605.2h0M477.4 605.2h0M126.1 604.3h0M225.3 604.3h0M361.9 604.3h0M397.2 604.3h0M617.6 604.3h0M328.1 603.5h0M330.2 603.5h0M474.7 603.5h0M486.0 603.5h0M515.8 603.5h0M593.8 603.5h0M311.1 602.7h0M485.5 602.7h0M493.9 602.7h0M539.3 602.7h0M683.6 602.7h0M327.2 601.8h0M347.2 601.8h0M476.4 601.8h0M492.3 601.8h0M494.6 601.8h0M702.3 601.8h0M327.3 601.0h0M341.5 601.0h0M378.2 601.0h0M408.1 601.0h0M511.8 601.0h0M642.2 601.0h0M130.8 600.2h0M175.0 600.2h0M188.3 600.2h0M405.3 600.2h0M153.8 599.3h0M232.1 599.3h0M276.9 599.3h0M290.0 599.3h0M350.3 599.3h0M415.8 599.3h0M474.7 599.3h0M508.6 599.3h0M658.7 599.3h0M679.4 599.3h0M235.0 598.5h0M331.8 598.5h0M335.1 598.5h0M482.0 598.5h0M512.8 598.5h0M143.0 597.7h0M292.1 597.7h0M407.3 597.7h0M453.9 597.7h0M607.9 597.7h0M642.5 597.7h0M347.6 596.8h0M410.1 596.8h0M424.5 596.8h0M487.9 596.8h0M560.6 596.8h0M621.1 596.8h0M647.3 596.8h0M118.1 596.0h0M220.9 596.0h0M331.5 596.0h0M335.0 596.0h0M605.2 596.0h0M618.3 596.0h0M165.0 595.2h0M331.0 595.2h0M466.6 595.2h0M563.4 595.2h0M616.7 595.2h0M637.4 595.2h0M262.6 594.3h0M295.2 594.3h0M329.7 594.3h0M333.1 594.3h0M477.8 594.3h0M507.9 594.3h0M530.8 594.3h0M622.1 594.3h0M630.3 594.3h0M670.1 594.3h0M696.2 594.3h0M136.8 593.5h0M198.5 593.5h0M327.3 593.5h0M368.8 593.5h0M502.0 593.5h0M643.9 593.5h0M195.7 592.7h0M253.3 592.7h0M282.0 592.7h0M604.7 592.7h0M613.3 592.7h0M616.9 592.7h0M206.5 591.8h0M256.7 591.8h0M327.5 591.8h0M331.4 591.8h0M367.6 591.8h0M488.2 591.8h0M513.4 591.8h0M585.8 591.8h0M625.8 591.8h0M329.8 591.0h0M342.2 591.0h0M398.0 591.0h0M536.3 591.0h0M561.2 591.0h0M621.8 591.0h0M652.4 591.0h0M677.5 591.0h0M202.3 590.2h0M273.9 590.2h0M331.5 590.2h0M366.6 590.2h0M395.0 590.2h0M473.3 590.2h0M123.7 589.3h0M156.7 589.3h0M167.5 589.3h0M206.0 589.3h0M329.4 589.3h0M403.7 589.3h0M504.1 589.3h0M505.3 589.3h0M573.9 589.3h0M668.6 589.3h0M195.2 588.5h0M261.5 588.5h0M330.0 588.5h0M444.8 588.5h0M549.7 588.5h0M637.7 588.5h0M664.9 588.5h0M683.9 588.5h0M658.6 587.7h0M674.0 587.7h0M142.6 586.8h0M270.0 586.8h0M329.2 586.8h0M452.7 586.8h0M483.1 586.8h0M552.9 586.8h0M622.3 586.8h0M140.7 586.0h0M182.8 586.0h0M191.4 586.0h0M305.4 586.0h0M327.9 586.0h0M330.3 586.0h0M564.6 586.0h0M274.2 585.2h0M455.3 585.2h0M502.5 585.2h0M611.5 585.2h0M624.9 585.2h0M629.7 585.2h0M683.3 585.2h0M171.5 584.3h0M185.0 584.3h0M248.3 584.3h0M301.3 584.3h0M326.4 584.3h0M515.5 584.3h0M595.7 584.3h0M703.7 584.3h0M119.8 583.5h0M273.2 583.5h0M424.0 583.5h0M472.3 583.5h0M636.2 583.5h0M330.6 582.7h0M679.3 582.7h0M310.3 581.8h0M328.3 581.8h0M497.0 581.8h0M683.4 581.8h0M151.9 581.0h0M316.5 581.0h0M323.3 581.0h0M335.9 581.0h0M531.8 581.0h0M565.0 581.0h0M567.0 581.0h0M595.5 581.0h0M696.4 581.0h0M219.8 580.2h0M297.7 580.2h0M329.5 580.2h0M647.3 580.2h0M268.8 579.3h0M326.4 579.3h0M633.6 579.3h0M325.5 578.5h0M496.2 578.5h0M507.2 578.5h0M320.9 577.7h0M329.1 577.7h0M329.4 577.7h0M461.7 577.7h0M474.0 577.7h0M521.8 577.7h0M612.9 577.7h0M680.5 577.7h0M325.5 576.8h0M326.7 576.8h0M333.0 576.8h0M360.9 576.8h0M470.9 576.8h0M532.3 576.8h0M573.1 576.8h0M180.0 576.0h0M230.5 576.0h0M329.3 576.0h0M426.2 576.0h0M699.3 576.0h0M146.4 575.2h0M329.9 575.2h0M467.3 575.2h0M545.5 574.3h0M588.4 574.3h0M325.3 573.5h0M464.4 573.5h0M493.3 573.5h0M529.4 573.5h0M206.3 572.7h0M248.0 572.7h0M280.3 572.7h0M287.0 572.7h0M332.5 572.7h0M373.7 572.7h0M550.1 572.7h0M237.4 571.8h0M302.4 571.8h0M329.5 571.8h0M420.4 571.8h0M476.0 571.8h0M479.9 571.8h0M484.8 571.8h0M612.4 571.8h0M196.9 571.0h0M260.4 571.0h0M336.4 571.0h0M408.7 571.0h0M428.0 571.0h0M444.7 571.0h0M594.6 571.0h0M600.2 571.0h0M133.4 570.2h0M253.6 570.2h0M369.1 570.2h0M462.2 570.2h0M493.3 570.2h0M590.3 570.2h0M619.7 570.2h0M156.8 569.3h0M173.1 569.3h0M190.7 569.3h0M451.0 569.3h0M504.5 569.3h0M572.9 569.3h0M602.6 569.3h0M211.0 568.5h0M258.9 568.5h0M310.9 568.5h0M325.3 568.5h0M328.0 568.5h0M332.0 568.5h0M583.5 568.5h0M327.3 567.7h0M484.6 567.7h0M525.5 567.7h0M556.0 567.7h0M561.2 567.7h0M629.6 567.7h0M285.9 566.9h0M325.0 566.9h0M332.2 566.9h0M333.2 566.9h0M654.9 566.9h0M687.4 566.9h0M704.3 566.9h0M299.3 566.0h0M326.0 566.0h0M327.7 566.0h0M376.1 566.0h0M479.9 566.0h0M481.8 566.0h0M585.1 566.0h0M623.7 566.0h0M180.2 565.2h0M211.7 565.2h0M212.3 565.2h0M332.2 565.2h0M472.0 565.2h0M596.7 565.2h0M665.5 565.2h0M704.2 565.2h0M152.2 564.4h0M163.5 564.4h0M327.1 564.4h0M330.2 564.4h0M595.9 564.4h0M674.0 564.4h0M137.8 563.5h0M273.8 563.5h0M283.9 563.5h0M323.6 563.5h0M324.2 563.5h0M644.3 563.5h0M703.5 563.5h0M174.1 562.7h0M210.1 562.7h0M328.8 562.7h0M524.3 562.7h0M602.0 562.7h0M691.5 562.7h0M123.5 561.9h0M150.3 561.9h0M152.6 561.9h0M302.5 561.9h0M329.1 561.9h0M442.7 561.9h0M574.7 561.9h0M692.8 561.9h0M125.2 561.0h0M321.2 561.0h0M327.6 561.0h0M336.3 561.0h0M381.4 561.0h0M437.9 561.0h0M476.7 561.0h0M230.4 560.2h0M317.1 560.2h0M326.6 560.2h0M330.6 560.2h0M446.1 560.2h0M478.3 560.2h0M529.6 560.2h0M563.5 560.2h0M580.1 560.2h0M686.1 560.2h0M228.3 559.4h0M240.2 559.4h0M330.5 559.4h0M495.8 559.4h0M500.0 559.4h0M538.1 559.4h0M630.7 559.4h0M652.0 559.4h0M698.2 559.4h0M165.1 558.5h0M390.4 558.5h0M511.5 558.5h0M516.4 558.5h0M535.9 558.5h0M589.9 558.5h0M605.2 558.5h0M151.6 557.7h0M321.0 557.7h0M329.0 557.7h0M329.6 557.7h0M487.6 557.7h0M521.7 557.7h0M331.4 556.9h0M472.1 556.9h0M496.4 556.9h0M561.4 556.9h0M606.3 556.9h0M147.4 556.0h0M163.5 556.0h0M194.0 556.0h0M329.1 556.0h0M330.1 556.0h0M519.3 556.0h0M610.5 556.0h0M627.4 556.0h0M159.4 555.2h0M326.0 555.2h0M528.7 555.2h0M701.2 555.2h0M162.2 554.4h0M232.2 554.4h0M275.2 554.4h0M329.9 554.4h0M329.9 554.4h0M331.2 554.4h0M353.7 554.4h0M685.8 554.4h0M689.3 554.4h0M213.9 553.5h0M219.3 553.5h0M332.6 553.5h0M422.6 553.5h0M435.7 553.5h0M514.7 553.5h0M686.6 553.5h0M148.2 552.7h0M331.1 552.7h0M475.9 552.7h0M270.7 551.9h0M375.2 551.9h0M593.6 551.9h0M665.3 551.9h0M293.7 551.0h0M330.1 551.0h0M330.8 551.0h0M505.7 551.0h0M508.3 551.0h0M526.0 551.0h0M569.6 551.0h0M589.3 551.0h0M699.9 551.0h0M303.0 550.2h0M579.4 550.2h0M285.1 549.4h0M328.2 549.4h0M331.8 549.4h0M335.8 549.4h0M400.2 549.4h0M437.8 549.4h0M581.5 549.4h0M607.8 549.4h0M182.2 548.5h0M198.5 548.5h0M312.3 548.5h0M325.8 548.5h0M328.1 548.5h0M329.7 548.5h0M331.6 548.5h0M571.9 548.5h0M593.0 548.5h0M631.7 548.5h0M659.8 548.5h0M128.1 547.7h0M174.8 547.7h0M327.9 547.7h0M330.5 547.7h0M475.8 547.7h0M141.1 546.9h0M143.9 546.9h0M330.5 546.9h0M463.7 546.9h0M486.7 546.9h0M513.0 546.9h0M573.1 546.9h0M703.9 546.9h0M323.9 546.0h0M328.6 546.0h0M332.2 546.0h0M372.3 546.0h0M157.4 545.2h0M200.8 545.2h0M292.0 545.2h0M326.6 545.2h0M332.4 545.2h0M459.9 545.2h0M496.5 545.2h0M502.7 545.2h0M560.9 545.2h0M673.4 545.2h0M158.0 544.4h0M217.5 544.4h0M220.6 544.4h0M331.5 544.4h0M358.5 544.4h0M435.3 544.4h0M488.9 544.4h0M493.8 544.4h0M557.6 544.4h0M568.2 544.4h0M665.4 544.4h0M692.1 544.4h0M125.7 543.5h0M147.2 543.5h0M149.2 543.5h0M297.1 543.5h0M328.3 543.5h0M500.4 543.5h0M535.9 543.5h0M562.0 543.5h0M590.5 543.5h0M623.9 543.5h0M635.6 543.5h0M190.9 542.7h0M200.4 542.7h0M243.9 542.7h0M250.2 542.7h0M462.8 542.7h0M632.5 542.7h0M672.4 542.7h0M161.5 541.9h0M306.2 541.9h0M329.5 541.9h0M446.2 541.9h0M513.4 541.9h0M607.4 541.9h0M329.5 541.0h0M535.7 541.0h0M593.0 541.0h0M191.4 540.2h0M217.7 540.2h0M254.5 540.2h0M307.2 540.2h0M321.5 540.2h0M323.3 540.2h0M357.7 540.2h0M468.5 540.2h0M599.3 540.2h0M143.3 539.4h0M273.1 539.4h0M300.0 539.4h0M328.7 539.4h0M332.0 539.4h0M334.2 539.4h0M545.9 539.4h0M250.1 538.5h0M324.9 538.5h0M326.4 538.5h0M350.7 538.5h0M523.9 538.5h0M563.9 538.5h0M594.1 538.5h0M151.3 537.7h0M313.2 537.7h0M325.4 537.7h0M332.3 537.7h0M484.3 537.7h0M525.8 537.7h0M568.0 537.7h0M616.7 537.7h0M324.3 536.9h0M326.2 536.9h0M363.9 536.9h0M434.1 536.9h0M448.6 536.9h0M475.3 536.9h0M121.4 536.0h0M325.1 536.0h0M328.6 536.0h0M329.5 536.0h0M377.3 536.0h0M493.8 536.0h0M507.0 536.0h0M589.4 536.0h0M654.1 536.0h0M680.5 536.0h0M287.8 535.2h0M498.0 535.2h0M503.2 535.2h0M547.8 535.2h0M217.7 534.4h0M327.0 534.4h0M330.0 534.4h0M434.2 534.4h0M436.3 534.4h0M447.5 534.4h0M144.1 533.5h0M213.6 533.5h0M286.8 533.5h0M401.1 533.5h0M413.7 533.5h0M476.2 533.5h0M491.7 533.5h0M504.9 533.5h0M505.7 533.5h0M612.9 533.5h0M637.4 533.5h0M250.0 532.7h0M379.5 532.7h0M492.8 532.7h0M505.5 532.7h0M141.9 531.9h0M148.2 531.9h0M322.4 531.9h0M329.3 531.9h0M483.5 531.9h0M677.1 531.9h0M149.0 531.0h0M194.0 531.0h0M200.7 531.0h0M285.0 531.0h0M302.7 531.0h0M324.6 531.0h0M327.1 531.0h0M327.9 531.0h0M484.2 531.0h0M503.7 531.0h0M513.9 531.0h0M614.9 531.0h0M632.3 531.0h0M659.5 531.0h0M680.8 531.0h0M133.4 530.2h0M231.4 530.2h0M250.5 530.2h0M268.2 530.2h0M324.4 530.2h0M326.4 530.2h0M331.1 530.2h0M341.6 530.2h0M357.0 530.2h0M479.6 530.2h0M500.7 530.2h0M508.7 530.2h0M557.0 530.2h0M127.8 529.4h0M281.7 529.4h0M298.6 529.4h0M494.7 529.4h0M597.6 529.4h0M613.9 529.4h0M676.8 529.4h0M218.1 528.5h0M327.2 528.5h0M329.3 528.5h0M332.0 528.5h0M664.8 528.5h0M174.6 527.7h0M328.4 527.7h0M558.1 527.7h0M606.9 527.7h0M681.1 527.7h0M170.2 526.9h0M324.3 526.9h0M327.5 526.9h0M333.9 526.9h0M499.6 526.9h0M501.2 526.9h0M512.1 526.9h0M591.2 526.9h0M169.1 526.0h0M203.4 526.0h0M297.3 526.0h0M328.3 526.0h0M527.9 526.0h0M639.2 526.0h0M276.3 525.2h0M325.3 525.2h0M327.1 525.2h0M328.4 525.2h0M348.4 525.2h0M417.6 525.2h0M437.6 525.2h0M615.7 525.2h0M640.8 525.2h0M117.2 524.4h0M153.7 524.4h0M323.8 524.4h0M325.5 524.4h0M331.7 524.4h0M392.8 524.4h0M404.9 524.4h0M440.7 524.4h0M500.9 524.4h0M548.3 524.4h0M635.6 524.4h0M210.8 523.5h0M414.8 523.5h0M508.6 523.5h0M570.0 523.5h0M580.7 523.5h0M629.1 523.5h0M654.1 523.5h0M279.4 522.7h0M327.0 522.7h0M327.8 522.7h0M330.6 522.7h0M332.9 522.7h0M448.7 522.7h0M484.5 522.7h0M301.7 521.9h0M326.9 521.9h0M328.5 521.9h0M378.1 521.9h0M488.8 521.9h0M526.3 521.9h0M569.9 521.9h0M313.1 521.0h0M329.7 521.0h0M367.8 521.0h0M494.2 521.0h0M502.9 521.0h0M504.8 521.0h0M525.9 521.0h0M580.6 521.0h0M202.8 520.2h0M302.1 520.2h0M327.6 520.2h0M328.3 520.2h0M469.6 520.2h0M475.6 520.2h0M488.4 520.2h0M491.6 520.2h0M502.2 520.2h0M678.4 520.2h0M228.2 519.4h0M330.4 519.4h0M443.6 519.4h0M513.6 519.4h0M587.6 519.4h0M589.5 519.4h0M244.3 518.5h0M263.0 518.5h0M325.4 518.5h0M412.8 518.5h0M470.1 518.5h0M543.8 518.5h0M559.0 518.5h0M176.4 517.7h0M293.0 517.7h0M327.9 517.7h0M330.4 517.7h0M339.2 517.7h0M435.9 517.7h0M587.6 517.7h0M661.1 517.7h0M174.4 516.9h0M323.4 516.9h0M127.3 516.0h0M144.4 516.0h0M249.4 516.0h0M287.8 516.0h0M462.2 516.0h0M508.6 516.0h0M617.8 516.0h0M646.5 516.0h0M308.4 515.2h0M326.7 515.2h0M360.1 515.2h0M483.5 515.2h0M598.0 515.2h0M689.8 515.2h0M129.5 514.4h0M160.8 514.4h0M219.7 514.4h0M462.9 514.4h0M468.0 514.4h0M326.1 513.5h0M329.7 513.5h0M330.3 513.5h0M439.2 513.5h0M503.5 513.5h0M565.9 513.5h0M142.7 512.7h0M331.4 512.7h0M390.7 512.7h0M479.7 512.7h0M700.1 512.7h0M196.3 511.9h0M329.9 511.9h0M410.2 511.9h0M528.3 511.9h0M535.0 511.9h0M639.5 511.9h0M652.9 511.9h0M325.2 511.0h0M328.7 511.0h0M327.5 510.2h0M330.5 510.2h0M485.3 510.2h0M652.4 510.2h0M661.2 510.2h0M662.5 510.2h0M129.2 509.4h0M134.4 509.4h0M243.0 509.4h0M328.5 509.4h0M329.2 509.4h0M332.6 509.4h0M436.1 509.4h0M499.8 509.4h0M509.8 509.4h0M161.2 508.5h0M196.8 508.5h0M281.3 508.5h0M322.2 508.5h0M325.4 508.5h0M325.9 508.5h0M372.6 508.5h0M495.3 508.5h0M497.2 508.5h0M544.3 508.5h0M690.9 508.5h0M279.7 507.7h0M371.4 507.7h0M468.6 507.7h0M115.5 506.9h0M150.1 506.9h0M160.0 506.9h0M176.6 506.9h0M329.7 506.9h0M330.9 506.9h0M549.6 506.9h0M589.0 506.9h0M146.9 506.0h0M269.8 506.0h0M330.3 506.0h0M530.8 506.0h0M636.3 506.0h0M292.4 505.2h0M320.2 505.2h0M325.1 505.2h0M326.0 505.2h0M507.8 505.2h0M568.9 505.2h0M243.7 504.4h0M330.6 504.4h0M340.4 504.4h0M365.5 504.4h0M441.1 504.4h0M530.2 504.4h0M596.5 504.4h0M641.4 504.4h0M664.0 504.4h0M257.7 503.5h0M327.1 503.5h0M417.1 503.5h0M435.1 503.5h0M449.6 503.5h0M131.4 502.7h0M311.3 502.7h0M333.9 502.7h0M547.8 502.7h0M579.7 502.7h0M591.1 502.7h0M642.2 502.7h0M495.2 501.9h0M316.9 501.0h0M331.1 501.0h0M333.4 501.0h0M481.7 501.0h0M530.5 501.0h0M604.1 501.0h0M657.8 501.0h0M703.6 501.0h0M324.3 500.2h0M487.8 500.2h0M498.4 500.2h0M502.5 500.2h0M509.5 500.2h0M640.5 500.2h0M650.7 500.2h0M679.1 500.2h0M279.3 499.4h0M547.3 499.4h0M134.5 498.5h0M154.7 498.5h0M269.3 498.5h0M325.7 498.5h0M328.5 498.5h0M333.9 498.5h0M653.1 498.5h0M666.3 498.5h0M119.1 497.7h0M328.9 497.7h0M469.3 497.7h0M505.2 497.7h0M545.6 497.7h0M649.9 497.7h0M140.5 496.9h0M161.6 496.9h0M327.1 496.9h0M328.0 496.9h0M362.5 496.9h0M411.9 496.9h0M672.3 496.9h0M157.0 496.0h0M310.7 496.0h0M329.0 496.0h0M329.6 496.0h0M453.7 496.0h0M664.1 496.0h0M152.5 495.2h0M475.4 495.2h0M514.0 495.2h0M606.5 495.2h0M653.9 495.2h0M692.8 495.2h0M693.9 495.2h0M120.7 494.4h0M269.9 494.4h0M285.7 494.4h0M330.4 494.4h0M332.3 494.4h0M468.4 494.4h0M482.4 494.4h0M604.4 494.4h0M320.6 493.5h0M329.7 493.5h0M447.7 493.5h0M483.5 493.5h0M624.9 493.5h0M161.7 492.7h0M271.3 492.7h0M328.8 492.7h0M347.8 492.7h0M510.0 492.7h0M532.5 492.7h0M647.3 492.7h0M200.0 491.9h0M326.3 491.9h0M328.7 491.9h0M332.0 491.9h0M547.1 491.9h0M548.0 491.9h0M566.5 491.9h0M599.8 491.9h0M226.6 491.0h0M235.2 491.0h0M329.1 491.0h0M330.6 491.0h0M395.3 491.0h0M531.5 491.0h0M644.3 491.0h0M201.2 490.2h0M212.9 490.2h0M245.5 490.2h0M273.5 490.2h0M323.8 490.2h0M555.3 490.2h0M662.9 490.2h0M254.1 489.4h0M331.6 489.4h0M483.3 489.4h0M333.8 488.5h0M376.4 488.5h0M461.4 488.5h0M190.7 487.7h0M200.3 487.7h0M241.3 487.7h0M290.1 487.7h0M296.2 487.7h0M327.8 487.7h0M414.8 487.7h0M433.4 487.7h0M465.9 487.7h0M499.3 487.7h0M524.0 487.7h0M175.4 486.9h0M326.8 486.9h0M551.8 486.9h0M612.3 486.9h0M620.0 486.9h0M195.7 486.0h0M328.3 486.0h0M329.5 486.0h0M330.6 486.0h0M356.2 486.0h0M513.6 486.0h0M568.0 486.0h0M624.3 486.0h0M168.6 485.2h0M175.4 485.2h0M296.2 485.2h0M327.5 485.2h0M332.4 485.2h0M354.7 485.2h0M403.8 485.2h0M480.4 485.2h0M493.2 485.2h0M549.9 485.2h0M607.0 485.2h0M270.8 484.4h0M329.2 484.4h0M398.4 484.4h0M514.7 484.4h0M534.5 484.4h0M559.3 484.4h0M584.4 484.4h0M688.3 484.4h0M324.4 483.6h0M328.8 483.6h0M330.4 483.6h0M470.0 483.6h0M146.0 482.7h0M223.8 482.7h0M327.7 482.7h0M329.5 482.7h0M396.4 482.7h0M404.8 482.7h0M448.3 482.7h0M495.8 482.7h0M565.1 482.7h0M148.5 481.9h0M172.4 481.9h0M263.1 481.9h0M565.3 481.9h0M594.0 481.9h0M230.8 481.1h0M324.3 481.1h0M423.1 481.1h0M472.0 481.1h0M696.8 481.1h0M154.6 480.2h0M327.4 480.2h0M442.1 480.2h0M558.3 480.2h0M172.1 479.4h0M328.9 479.4h0M329.8 479.4h0M391.5 479.4h0M454.2 479.4h0M535.8 479.4h0M259.5 478.6h0M299.3 478.6h0M390.1 478.6h0M512.5 478.6h0M524.6 478.6h0M642.2 478.6h0M700.4 478.6h0M171.1 477.7h0M198.5 477.7h0M326.0 477.7h0M327.7 477.7h0M455.0 477.7h0M495.2 477.7h0M521.3 477.7h0M618.9 477.7h0M632.0 477.7h0M690.4 477.7h0M696.0 477.7h0M134.9 476.9h0M197.9 476.9h0M291.8 476.9h0M330.0 476.9h0M504.4 476.9h0M509.3 476.9h0M583.4 476.9h0M686.4 476.9h0M148.8 476.1h0M182.2 476.1h0M328.4 476.1h0M477.3 476.1h0M329.0 475.2h0M603.7 475.2h0M207.8 474.4h0M276.7 474.4h0M498.4 474.4h0M532.1 474.4h0M591.9 474.4h0M601.8 474.4h0M361.7 473.6h0M483.3 473.6h0M513.3 473.6h0M543.7 473.6h0M178.3 472.7h0M277.6 472.7h0M302.7 472.7h0M320.2 472.7h0M325.3 472.7h0M328.9 472.7h0M484.6 472.7h0M119.5 471.9h0M159.7 471.9h0M183.1 471.9h0M186.4 471.9h0M349.5 471.9h0M633.3 471.9h0M197.6 471.1h0M231.6 471.1h0M236.5 471.1h0M244.1 471.1h0M293.5 471.1h0M327.5 471.1h0M403.7 471.1h0M676.3 471.1h0M326.0 470.2h0M327.5 470.2h0M328.8 470.2h0M537.4 470.2h0M598.4 470.2h0M634.9 470.2h0M128.5 469.4h0M134.2 469.4h0M325.8 469.4h0M473.3 469.4h0M502.4 469.4h0M577.5 469.4h0M644.1 469.4h0M203.2 468.6h0M331.5 468.6h0M415.8 468.6h0M487.5 468.6h0M560.3 468.6h0M574.4 468.6h0M485.8 467.7h0M581.4 467.7h0M592.2 467.7h0M249.4 466.9h0M441.1 466.9h0M450.2 466.9h0M502.3 466.9h0M597.5 466.9h0M612.0 466.9h0M679.7 466.9h0M203.0 466.1h0M232.3 466.1h0M253.8 466.1h0M512.6 466.1h0M532.9 466.1h0M661.7 466.1h0M701.1 466.1h0M266.3 465.2h0M334.9 465.2h0M518.1 465.2h0M591.1 465.2h0M598.7 465.2h0M703.7 465.2h0M217.3 464.4h0M425.9 464.4h0M502.4 464.4h0M559.8 464.4h0M597.5 464.4h0M670.5 464.4h0M674.6 464.4h0M177.1 463.6h0M205.2 463.6h0M260.6 463.6h0M308.6 463.6h0M323.3 463.6h0M331.6 463.6h0M527.6 463.6h0M589.0 463.6h0M603.8 463.6h0M618.2 463.6h0M325.0 462.7h0M519.0 462.7h0M541.4 462.7h0M587.5 462.7h0M246.8 461.9h0M281.8 461.9h0M286.9 461.9h0M294.2 461.9h0M321.6 461.9h0M325.2 461.9h0M329.2 461.9h0M478.4 461.9h0M509.5 461.9h0M545.4 461.9h0M183.2 461.1h0M223.8 461.1h0M328.2 461.1h0M450.9 461.1h0M491.7 461.1h0M505.3 461.1h0M513.4 461.1h0M693.8 461.1h0M172.1 460.2h0M225.0 460.2h0M328.8 460.2h0M451.2 460.2h0M479.5 460.2h0M158.3 459.4h0M326.5 459.4h0M326.9 459.4h0M353.1 459.4h0M429.7 459.4h0M486.7 459.4h0M612.2 459.4h0M163.8 458.6h0M178.6 458.6h0M220.1 458.6h0M260.8 458.6h0M279.3 458.6h0M328.3 458.6h0M333.3 458.6h0M503.0 458.6h0M648.3 458.6h0M221.2 457.7h0M326.9 457.7h0M373.0 457.7h0M533.2 457.7h0M568.7 457.7h0M598.2 457.7h0M154.7 456.9h0M178.5 456.9h0M251.3 456.9h0M322.1 456.9h0M329.4 456.9h0M354.2 456.9h0M482.8 456.9h0M628.1 456.9h0M151.1 456.1h0M325.8 456.1h0M335.5 456.1h0M388.1 456.1h0M511.8 456.1h0M587.3 456.1h0M495.4 455.2h0M600.0 455.2h0M606.3 455.2h0M684.2 455.2h0M123.2 454.4h0M151.5 454.4h0M188.6 454.4h0M212.1 454.4h0M590.7 454.4h0M191.0 453.6h0M227.8 453.6h0M315.8 453.6h0M403.3 453.6h0M446.3 453.6h0M485.8 453.6h0M502.3 453.6h0M519.3 453.6h0M562.4 453.6h0M633.5 453.6h0M635.2 453.6h0M151.0 452.7h0M276.6 452.7h0M330.0 452.7h0M412.9 452.7h0M538.8 452.7h0M590.3 452.7h0M618.6 452.7h0M670.4 452.7h0M225.0 451.9h0M240.7 451.9h0M434.0 451.9h0M485.3 451.9h0M570.2 451.9h0M150.9 451.1h0M326.4 451.1h0M329.0 451.1h0M330.3 451.1h0M589.6 451.1h0M595.8 451.1h0M653.5 451.1h0M251.5 450.2h0M316.7 450.2h0M504.3 450.2h0M522.6 450.2h0M596.6 450.2h0M676.8 450.2h0M164.0 449.4h0M226.4 449.4h0M255.8 449.4h0M586.8 449.4h0M313.5 448.6h0M327.8 448.6h0M360.3 448.6h0M492.0 448.6h0M592.3 448.6h0M699.1 448.6h0M299.2 447.7h0M325.4 447.7h0M401.2 447.7h0M509.9 447.7h0M529.7 447.7h0M624.9 447.7h0M691.4 447.7h0M215.4 446.9h0M327.1 446.9h0M329.4 446.9h0M329.9 446.9h0M406.2 446.9h0M448.9 446.9h0M521.0 446.9h0M564.5 446.9h0M610.1 446.9h0M331.6 446.1h0M570.5 446.1h0M617.8 446.1h0M626.5 446.1h0M692.3 446.1h0M326.7 445.2h0M393.6 445.2h0M495.0 445.2h0M572.8 445.2h0M212.6 444.4h0M254.7 444.4h0M442.7 444.4h0M453.3 444.4h0M498.7 444.4h0M589.0 444.4h0M644.5 444.4h0M674.3 444.4h0M259.6 443.6h0M315.7 443.6h0M670.8 443.6h0M690.0 443.6h0M208.3 442.7h0M327.2 442.7h0M328.1 442.7h0M378.7 442.7h0M486.9 442.7h0M636.9 442.7h0M666.4 442.7h0M123.2 441.9h0M366.2 441.9h0M405.3 441.9h0M606.0 441.9h0M640.1 441.9h0M687.1 441.9h0M230.9 441.1h0M268.7 441.1h0M309.4 441.1h0M327.4 441.1h0M390.8 441.1h0M412.4 441.1h0M498.9 441.1h0M535.8 441.1h0M636.1 441.1h0M680.4 441.1h0M181.8 440.2h0M202.5 440.2h0M327.2 440.2h0M331.4 440.2h0M466.8 440.2h0M471.1 440.2h0M645.4 440.2h0M274.6 439.4h0M370.0 439.4h0M498.2 439.4h0M554.0 439.4h0M687.6 439.4h0M207.4 438.6h0M325.1 438.6h0M327.7 438.6h0M493.6 438.6h0M505.6 438.6h0M675.1 438.6h0M682.9 438.6h0M155.4 437.7h0M180.8 437.7h0M273.5 437.7h0M325.8 437.7h0M332.3 437.7h0M360.6 437.7h0M364.1 437.7h0M517.4 437.7h0M676.8 437.7h0M293.2 436.9h0M327.3 436.9h0M330.7 436.9h0M378.0 436.9h0M673.7 436.9h0M217.0 436.1h0M325.5 436.1h0M470.0 436.1h0M189.7 435.2h0M236.0 435.2h0M326.9 435.2h0M327.6 435.2h0M505.3 435.2h0M512.2 435.2h0M580.1 435.2h0M143.9 434.4h0M330.0 434.4h0M332.7 434.4h0M468.2 434.4h0M491.2 434.4h0M497.6 434.4h0M627.4 434.4h0M668.8 434.4h0M333.1 433.6h0M381.3 433.6h0M458.7 433.6h0M502.1 433.6h0M561.6 433.6h0M627.6 433.6h0M663.0 433.6h0M665.7 433.6h0M687.3 433.6h0M126.8 432.7h0M207.2 432.7h0M236.8 432.7h0M273.8 432.7h0M613.7 432.7h0M667.2 432.7h0M263.9 431.9h0M331.9 431.9h0M503.5 431.9h0M559.1 431.9h0M637.3 431.9h0M680.0 431.9h0M195.4 431.1h0M328.3 431.1h0M333.1 431.1h0M409.6 431.1h0M415.9 431.1h0M498.1 431.1h0M611.0 431.1h0M170.3 430.2h0M327.0 430.2h0M332.4 430.2h0M449.3 430.2h0M627.8 430.2h0M663.6 430.2h0M677.2 430.2h0M124.9 429.4h0M254.8 429.4h0M280.8 429.4h0M326.0 429.4h0M459.9 429.4h0M489.2 429.4h0M511.5 429.4h0M528.1 429.4h0M674.5 429.4h0M685.8 429.4h0M217.5 428.6h0M229.4 428.6h0M327.4 428.6h0M331.1 428.6h0M457.6 428.6h0M501.4 428.6h0M554.4 428.6h0M559.4 428.6h0M577.1 428.6h0M633.1 428.6h0M325.7 427.7h0M330.0 427.7h0M332.6 427.7h0M464.6 427.7h0M592.1 427.7h0M620.0 427.7h0M256.8 426.9h0M325.6 426.9h0M327.7 426.9h0M460.9 426.9h0M472.4 426.9h0M640.4 426.9h0M648.3 426.9h0M208.3 426.1h0M328.9 426.1h0M349.0 426.1h0M392.0 426.1h0M431.1 426.1h0M442.7 426.1h0M462.9 426.1h0M538.9 426.1h0M564.3 426.1h0M200.6 425.2h0M213.1 425.2h0M324.7 425.2h0M326.8 425.2h0M327.7 425.2h0M340.0 425.2h0M516.1 425.2h0M535.2 425.2h0M614.6 425.2h0M631.6 425.2h0M202.6 424.4h0M352.4 424.4h0M429.3 424.4h0M486.9 424.4h0M503.0 424.4h0M647.5 424.4h0M686.4 424.4h0M185.9 423.6h0M322.9 423.6h0M328.0 423.6h0M332.0 423.6h0M345.5 423.6h0M403.0 423.6h0M486.4 423.6h0M241.7 422.7h0M437.0 422.7h0M475.8 422.7h0M484.6 422.7h0M488.9 422.7h0M298.6 421.9h0M311.8 421.9h0M326.6 421.9h0M353.2 421.9h0M600.8 421.9h0M628.7 421.9h0M663.2 421.9h0M679.4 421.9h0M695.3 421.9h0M136.6 421.1h0M155.6 421.1h0M240.9 421.1h0M327.0 421.1h0M365.0 421.1h0M413.4 421.1h0M456.7 421.1h0M460.2 421.1h0M510.2 421.1h0M513.0 421.1h0M526.3 421.1h0M566.3 421.1h0M184.6 420.2h0M230.3 420.2h0M278.7 420.2h0M328.3 420.2h0M478.3 420.2h0M595.4 420.2h0M181.0 419.4h0M279.5 419.4h0M309.8 419.4h0M327.2 419.4h0M181.6 418.6h0M190.1 418.6h0M199.1 418.6h0M333.2 418.6h0M375.6 418.6h0M484.6 418.6h0M498.9 418.6h0M507.2 418.6h0M580.0 418.6h0M594.8 418.6h0M273.1 417.7h0M325.4 417.7h0M472.9 417.7h0M522.2 417.7h0M632.6 417.7h0M669.3 417.7h0M156.2 416.9h0M163.6 416.9h0M176.9 416.9h0M264.4 416.9h0M327.5 416.9h0M331.6 416.9h0M388.1 416.9h0M510.7 416.9h0M518.5 416.9h0M561.3 416.9h0M638.9 416.9h0M328.4 416.1h0M433.0 416.1h0M463.6 416.1h0M682.2 416.1h0M321.7 415.2h0M327.4 415.2h0M328.4 415.2h0M449.9 415.2h0M469.4 415.2h0M585.5 415.2h0M612.8 415.2h0M326.1 414.4h0M327.8 414.4h0M383.4 414.4h0M463.6 414.4h0M485.1 414.4h0M489.2 414.4h0M680.2 414.4h0M276.6 413.6h0M327.4 413.6h0M350.5 413.6h0M354.4 413.6h0M544.8 413.6h0M568.3 413.6h0M611.0 413.6h0M614.1 413.6h0M639.6 413.6h0M144.0 412.7h0M289.6 412.7h0M294.3 412.7h0M310.7 412.7h0M494.9 412.7h0M501.2 412.7h0M508.2 412.7h0M298.7 411.9h0M325.6 411.9h0M330.1 411.9h0M408.8 411.9h0M480.1 411.9h0M200.4 411.1h0M257.9 411.1h0M282.0 411.1h0M327.5 411.1h0M328.5 411.1h0M383.1 411.1h0M387.3 411.1h0M492.4 411.1h0M694.8 411.1h0M143.8 410.2h0M195.3 410.2h0M318.6 410.2h0M325.0 410.2h0M398.6 410.2h0M504.5 410.2h0M523.0 410.2h0M680.1 410.2h0M259.0 409.4h0M310.6 409.4h0M358.3 409.4h0M460.0 409.4h0M585.7 409.4h0M242.9 408.6h0M297.9 408.6h0M405.0 408.6h0M446.5 408.6h0M505.4 408.6h0M690.0 408.6h0M202.7 407.7h0M415.0 407.7h0M595.0 407.7h0M602.3 407.7h0M697.4 407.7h0M232.9 406.9h0M292.5 406.9h0M328.2 406.9h0M328.9 406.9h0M560.7 406.9h0M582.3 406.9h0M691.8 406.9h0M146.2 406.1h0M156.7 406.1h0M169.0 406.1h0M311.6 406.1h0M327.3 406.1h0M364.0 406.1h0M478.9 406.1h0M152.0 405.2h0M153.9 405.2h0M326.0 405.2h0M330.6 405.2h0M462.2 405.2h0M496.5 405.2h0M295.2 404.4h0M328.5 404.4h0M329.5 404.4h0M378.2 404.4h0M485.7 404.4h0M518.0 404.4h0M117.5 403.6h0M328.5 403.6h0M329.5 403.6h0M331.6 403.6h0M205.3 402.7h0M214.4 402.7h0M278.7 402.7h0M326.0 402.7h0M327.1 402.7h0M327.7 402.7h0M328.9 402.7h0M514.9 402.7h0M164.8 401.9h0M168.0 401.9h0M205.7 401.9h0M294.2 401.9h0M322.9 401.9h0M324.3 401.9h0M326.2 401.9h0M330.1 401.9h0M331.0 401.9h0M439.5 401.9h0M472.3 401.9h0M489.3 401.9h0M615.5 401.9h0M621.3 401.9h0M329.0 401.1h0M383.8 401.1h0M582.1 401.1h0M588.9 401.1h0M160.7 400.3h0M331.8 400.3h0M353.7 400.3h0M494.5 400.3h0M548.1 400.3h0M567.9 400.3h0M307.2 399.4h0M326.1 399.4h0M479.0 399.4h0M593.8 399.4h0M296.5 398.6h0M322.7 398.6h0M375.9 398.6h0M381.8 398.6h0M474.6 398.6h0M665.0 398.6h0M264.0 397.8h0M327.5 397.8h0M329.4 397.8h0M470.5 397.8h0M489.0 397.8h0M505.0 397.8h0M541.3 397.8h0M296.7 396.9h0M326.2 396.9h0M329.9 396.9h0M469.1 396.9h0M649.4 396.9h0M326.8 396.1h0M259.6 395.3h0M322.3 395.3h0M323.4 395.3h0M324.9 395.3h0M336.6 395.3h0M348.3 395.3h0M367.7 395.3h0M501.9 395.3h0M557.7 395.3h0M571.6 395.3h0M620.9 395.3h0M663.6 395.3h0M116.2 394.4h0M309.7 394.4h0M327.0 394.4h0M328.1 394.4h0M334.3 394.4h0M495.7 394.4h0M548.0 394.4h0M645.9 394.4h0M651.2 394.4h0M196.0 393.6h0M349.7 393.6h0M144.7 392.8h0M207.6 392.8h0M242.4 392.8h0M325.6 392.8h0M326.0 392.8h0M327.4 392.8h0M350.5 392.8h0M653.7 392.8h0M676.0 392.8h0M309.5 391.9h0M653.9 391.9h0M140.5 391.1h0M153.2 391.1h0M174.5 391.1h0M271.4 391.1h0M281.5 391.1h0M485.0 391.1h0M115.5 390.3h0M150.0 390.3h0M156.7 390.3h0M325.5 390.3h0M327.6 390.3h0M461.0 390.3h0M522.5 390.3h0M546.7 390.3h0M557.7 390.3h0M570.9 390.3h0M662.0 390.3h0M227.9 389.4h0M323.2 389.4h0M328.5 389.4h0M331.0 389.4h0M485.2 389.4h0M515.9 389.4h0M558.5 389.4h0M210.2 388.6h0M275.3 388.6h0M324.4 388.6h0M517.8 388.6h0M132.9 387.8h0M281.3 386.9h0M327.9 386.9h0M329.9 386.9h0M507.0 386.9h0M519.9 386.9h0M619.8 386.9h0M329.6 386.1h0M569.9 386.1h0M593.2 386.1h0M635.6 386.1h0M310.8 385.3h0M325.0 385.3h0M327.0 385.3h0M329.1 385.3h0M404.0 385.3h0M413.6 385.3h0M499.9 385.3h0M686.5 385.3h0M225.6 384.4h0M321.0 384.4h0M473.1 384.4h0M534.2 384.4h0M259.9 383.6h0M310.0 383.6h0M319.8 383.6h0M323.8 383.6h0M311.1 382.8h0M327.9 382.8h0M334.6 382.8h0M341.1 382.8h0M346.6 382.8h0M480.9 382.8h0M596.2 382.8h0M682.3 382.8h0M328.3 381.9h0M329.7 381.9h0M425.7 381.9h0M496.5 381.9h0M564.3 381.9h0M575.9 381.9h0M610.1 381.9h0M685.0 381.9h0M135.8 381.1h0M137.5 381.1h0M239.9 381.1h0M363.8 381.1h0M558.3 381.1h0M596.8 381.1h0M270.5 380.3h0M280.8 380.3h0M304.8 380.3h0M390.3 380.3h0M474.3 380.3h0M539.5 380.3h0M573.6 380.3h0M153.7 379.4h0M422.0 379.4h0M477.6 379.4h0M548.8 379.4h0M558.0 379.4h0M382.5 378.6h0M531.4 378.6h0M694.0 378.6h0M293.7 377.8h0M328.8 377.8h0M405.4 377.8h0M520.7 377.8h0M680.2 377.8h0M231.3 376.9h0M483.1 376.9h0M498.5 376.9h0M591.9 376.9h0M700.8 376.9h0M134.9 376.1h0M161.9 376.1h0M228.9 376.1h0M301.6 376.1h0M304.9 376.1h0M324.5 376.1h0M326.1 376.1h0M328.1 376.1h0M328.9 376.1h0M329.8 376.1h0M330.5 376.1h0M331.7 376.1h0M332.7 376.1h0M481.9 376.1h0M505.2 376.1h0M630.1 376.1h0M212.8 375.3h0M216.1 375.3h0M328.8 375.3h0M465.1 375.3h0M517.4 375.3h0M530.3 375.3h0M266.8 374.4h0M301.1 374.4h0M327.3 374.4h0M328.8 374.4h0M344.4 374.4h0M472.7 374.4h0M547.8 374.4h0M637.1 374.4h0M119.8 373.6h0M150.7 373.6h0M159.3 373.6h0M476.7 373.6h0M143.1 372.8h0M160.3 372.8h0M304.7 372.8h0M454.4 372.8h0M647.7 372.8h0M169.5 371.9h0M174.7 371.9h0M201.3 371.9h0M252.7 371.9h0M326.2 371.9h0M326.9 371.9h0M331.2 371.9h0M377.4 371.9h0M549.2 371.9h0M587.0 371.9h0M648.2 371.9h0M693.8 371.9h0M156.2 371.1h0M329.4 371.1h0M334.5 371.1h0M358.3 371.1h0M389.6 371.1h0M582.8 371.1h0M632.8 371.1h0M689.4 371.1h0M173.2 370.3h0M194.9 370.3h0M329.9 370.3h0M332.6 370.3h0M430.3 370.3h0M178.1 369.4h0M310.5 369.4h0M326.6 369.4h0M482.6 369.4h0M535.7 369.4h0M566.0 369.4h0M187.0 368.6h0M323.2 368.6h0M335.7 368.6h0M596.2 368.6h0M638.1 368.6h0M670.1 368.6h0M692.1 368.6h0M222.2 367.8h0M324.6 367.8h0M326.1 367.8h0M326.8 367.8h0M329.4 367.8h0M561.8 367.8h0M579.1 367.8h0M588.4 367.8h0M166.0 366.9h0M248.1 366.9h0M324.8 366.9h0M417.0 366.9h0M604.7 366.9h0M150.6 366.1h0M193.1 366.1h0M214.2 366.1h0M217.2 366.1h0M232.7 366.1h0M303.9 366.1h0M332.8 366.1h0M518.8 366.1h0M617.0 366.1h0M142.4 365.3h0M199.0 365.3h0M261.5 365.3h0M327.4 365.3h0M407.6 365.3h0M473.5 365.3h0M497.3 365.3h0M501.6 365.3h0M686.0 365.3h0M381.9 364.4h0M503.3 364.4h0M524.2 364.4h0M641.1 364.4h0M660.2 364.4h0M142.6 363.6h0M194.6 363.6h0M328.5 363.6h0M369.1 363.6h0M461.2 363.6h0M528.0 363.6h0M631.8 363.6h0M656.2 363.6h0M669.3 363.6h0M291.7 362.8h0M299.3 362.8h0M303.8 362.8h0M322.3 362.8h0M325.9 362.8h0M328.8 362.8h0M392.4 362.8h0M553.7 362.8h0M556.3 362.8h0M135.2 361.9h0M481.3 361.9h0M615.3 361.9h0M680.6 361.9h0M142.5 361.1h0M145.3 361.1h0M335.3 361.1h0M464.1 361.1h0M470.0 361.1h0M545.0 361.1h0M557.8 361.1h0M192.0 360.3h0M196.9 360.3h0M229.0 360.3h0M329.8 360.3h0M504.6 360.3h0M509.3 360.3h0M512.3 360.3h0M629.8 360.3h0M177.8 359.4h0M201.8 359.4h0M326.3 359.4h0M473.9 359.4h0M562.8 359.4h0M658.4 359.4h0M238.7 358.6h0M326.8 358.6h0M330.1 358.6h0M463.1 358.6h0M501.4 358.6h0M646.8 358.6h0M172.2 357.8h0M286.7 357.8h0M324.7 357.8h0M327.3 357.8h0M349.8 357.8h0M467.0 357.8h0M489.9 357.8h0M494.5 357.8h0M198.2 356.9h0M303.0 356.9h0M316.5 356.9h0M326.0 356.9h0M355.6 356.9h0M419.6 356.9h0M476.1 356.9h0M513.9 356.9h0M519.0 356.9h0M585.7 356.9h0M597.7 356.9h0M278.5 356.1h0M330.5 356.1h0M384.8 356.1h0M572.6 356.1h0M606.3 356.1h0M627.3 356.1h0M171.2 355.3h0M193.5 355.3h0M254.9 355.3h0M262.3 355.3h0M269.7 355.3h0M284.8 355.3h0M322.1 355.3h0M325.3 355.3h0M439.8 355.3h0M479.5 355.3h0M496.6 355.3h0M499.7 355.3h0M513.1 355.3h0M604.1 355.3h0M662.7 355.3h0M177.9 354.4h0M278.4 354.4h0M280.4 354.4h0M281.1 354.4h0M379.5 354.4h0M404.7 354.4h0M469.2 354.4h0M621.4 354.4h0M629.8 354.4h0M660.7 354.4h0M664.3 354.4h0M170.7 353.6h0M298.7 353.6h0M322.1 353.6h0M328.0 353.6h0M328.5 353.6h0M329.2 353.6h0M424.6 353.6h0M444.6 353.6h0M471.5 353.6h0M472.5 353.6h0M580.4 353.6h0M145.3 352.8h0M232.3 352.8h0M323.5 352.8h0M375.0 352.8h0M378.5 352.8h0M326.1 351.9h0M479.6 351.9h0M482.6 351.9h0M488.8 351.9h0M577.8 351.9h0M583.9 351.9h0M274.0 351.1h0M483.3 351.1h0M603.5 351.1h0M480.2 350.3h0M520.9 350.3h0M658.1 350.3h0M659.3 350.3h0M199.6 349.4h0M219.9 349.4h0M298.4 349.4h0M326.9 349.4h0M327.5 349.4h0M328.5 349.4h0M423.7 349.4h0M441.5 349.4h0M485.0 349.4h0M557.6 349.4h0M581.2 349.4h0M588.7 349.4h0M633.4 349.4h0M167.6 348.6h0M239.3 348.6h0M282.0 348.6h0M295.0 348.6h0M323.7 348.6h0M325.9 348.6h0M408.1 348.6h0M440.9 348.6h0M534.6 348.6h0M610.9 348.6h0M205.2 347.8h0M248.5 347.8h0M327.4 347.8h0M328.2 347.8h0M480.3 347.8h0M493.4 347.8h0M527.4 347.8h0M654.3 347.8h0M414.9 346.9h0M420.3 346.9h0M548.7 346.9h0M586.8 346.9h0M676.1 346.9h0M117.3 346.1h0M269.9 346.1h0M487.8 346.1h0M509.2 346.1h0M604.2 346.1h0M695.6 346.1h0M167.0 345.3h0M187.2 345.3h0M208.9 345.3h0M272.0 345.3h0M363.2 345.3h0M455.1 345.3h0M516.1 345.3h0M149.7 344.4h0M163.3 344.4h0M282.0 344.4h0M326.7 344.4h0M334.3 344.4h0M397.9 344.4h0M519.1 344.4h0M122.0 343.6h0M149.0 343.6h0M152.1 343.6h0M196.4 343.6h0M232.5 343.6h0M279.1 343.6h0M479.8 343.6h0M507.5 343.6h0M527.2 343.6h0M532.1 343.6h0M183.1 342.8h0M238.3 342.8h0M581.5 342.8h0M639.3 342.8h0M682.2 342.8h0M176.4 341.9h0M326.4 341.9h0M329.3 341.9h0M507.1 341.9h0M518.5 341.9h0M540.2 341.9h0M623.5 341.9h0M670.2 341.9h0M137.3 341.1h0M271.5 341.1h0M377.1 341.1h0M293.4 340.3h0M328.6 340.3h0M329.5 340.3h0M356.8 340.3h0M416.1 340.3h0M493.4 340.3h0M691.1 340.3h0M139.2 339.4h0M143.9 339.4h0M291.8 339.4h0M388.2 339.4h0M419.7 339.4h0M472.6 339.4h0M516.2 339.4h0M552.9 339.4h0M615.2 339.4h0M237.7 338.6h0M278.4 338.6h0M328.2 338.6h0M210.6 337.8h0M229.8 337.8h0M243.6 337.8h0M292.0 337.8h0M326.0 337.8h0M345.1 337.8h0M671.8 337.8h0M160.4 336.9h0M238.9 336.9h0M322.5 336.9h0M329.5 336.9h0M451.4 336.9h0M471.5 336.9h0M625.4 336.9h0M640.1 336.9h0M325.2 336.1h0M326.8 336.1h0M331.4 336.1h0M549.2 336.1h0M237.4 335.3h0M487.4 335.3h0M640.8 335.3h0M698.9 335.3h0M245.9 334.4h0M322.3 334.4h0M327.7 334.4h0M329.5 334.4h0M330.3 334.4h0M331.4 334.4h0M483.9 334.4h0M521.3 334.4h0M523.5 334.4h0M585.0 334.4h0M646.4 334.4h0M228.1 333.6h0M444.0 333.6h0M483.3 333.6h0M306.9 332.8h0M491.0 332.8h0M134.1 331.9h0M316.5 331.9h0M324.6 331.9h0M377.2 331.9h0M518.1 331.9h0M546.4 331.9h0M589.5 331.9h0M327.3 331.1h0M327.9 331.1h0M378.2 331.1h0M460.0 331.1h0M482.8 331.1h0M701.5 331.1h0M234.9 330.3h0M325.7 330.3h0M327.6 330.3h0M328.6 330.3h0M498.0 330.3h0M606.0 330.3h0M618.2 330.3h0M644.9 330.3h0M166.6 329.4h0M169.4 329.4h0M189.8 329.4h0M322.7 329.4h0M326.8 329.4h0M363.7 329.4h0M507.2 329.4h0M562.3 329.4h0M579.8 329.4h0M329.3 328.6h0M446.3 328.6h0M598.9 328.6h0M600.9 328.6h0M240.2 327.8h0M456.2 327.8h0M472.0 327.8h0M491.2 327.8h0M518.0 327.8h0M606.3 327.8h0M634.8 327.8h0M217.1 326.9h0M228.7 326.9h0M297.2 326.9h0M328.9 326.9h0M339.1 326.9h0M353.4 326.9h0M432.3 326.9h0M333.4 326.1h0M358.6 326.1h0M532.9 326.1h0M659.5 326.1h0M197.4 325.3h0M323.5 325.3h0M325.3 325.3h0M327.2 325.3h0M329.6 325.3h0M660.8 325.3h0M679.0 325.3h0M142.8 324.4h0M241.7 324.4h0M323.3 324.4h0M419.8 324.4h0M440.7 324.4h0M660.6 324.4h0M675.0 324.4h0M278.5 323.6h0M320.9 323.6h0M326.5 323.6h0M471.2 323.6h0M572.6 323.6h0M177.8 322.8h0M307.0 322.8h0M319.8 322.8h0M325.6 322.8h0M326.3 322.8h0M330.2 322.8h0M382.3 322.8h0M603.1 322.8h0M133.6 321.9h0M178.5 321.9h0M222.7 321.9h0M307.3 321.9h0M328.1 321.9h0M328.5 321.9h0M515.8 321.9h0M525.0 321.9h0M542.8 321.9h0M624.7 321.9h0M174.9 321.1h0M454.9 321.1h0M493.3 321.1h0M632.5 321.1h0M230.4 320.3h0M325.7 320.3h0M157.8 319.4h0M331.0 319.4h0M498.2 319.4h0M517.1 319.4h0M530.4 319.4h0M700.2 319.4h0M209.0 318.6h0M326.8 318.6h0M472.5 318.6h0M497.5 318.6h0M567.0 318.6h0M578.9 318.6h0M663.0 318.6h0M225.3 317.8h0M241.1 317.8h0M257.4 317.8h0M330.6 317.8h0M331.1 317.8h0M414.3 317.8h0M563.1 317.8h0M605.2 317.8h0M659.5 317.8h0M698.8 317.8h0M441.1 317.0h0M471.6 317.0h0M519.6 317.0h0M579.2 317.0h0M593.4 317.0h0M628.6 317.0h0M691.5 317.0h0M699.7 317.0h0M328.0 316.1h0M329.0 316.1h0M330.1 316.1h0M331.6 316.1h0M362.8 316.1h0M521.3 316.1h0M581.7 316.1h0M681.3 316.1h0M682.5 316.1h0M326.2 315.3h0M329.9 315.3h0M330.5 315.3h0M332.3 315.3h0M382.6 315.3h0M504.5 315.3h0M592.4 315.3h0M331.3 314.5h0M589.0 314.5h0M622.2 314.5h0M653.3 314.5h0M696.9 314.5h0M282.0 313.6h0M395.8 313.6h0M423.4 313.6h0M464.7 313.6h0M556.8 313.6h0M564.4 313.6h0M617.8 313.6h0M632.0 313.6h0M190.6 312.8h0M214.7 312.8h0M310.2 312.8h0M329.1 312.8h0M330.9 312.8h0M480.3 312.8h0M480.8 312.8h0M671.1 312.8h0M228.1 312.0h0M321.5 312.0h0M328.2 312.0h0M529.3 312.0h0M568.4 312.0h0M594.7 312.0h0M629.1 312.0h0M688.0 312.0h0M133.6 311.1h0M316.6 311.1h0M474.6 311.1h0M327.4 310.3h0M330.1 310.3h0M532.3 310.3h0M583.0 310.3h0M645.4 310.3h0M681.4 310.3h0M264.9 309.5h0M315.2 309.5h0M326.3 309.5h0M629.5 309.5h0M149.6 308.6h0M329.8 308.6h0M498.7 308.6h0M510.3 308.6h0M186.5 307.8h0M327.9 307.8h0M422.0 307.8h0M475.6 307.8h0M558.7 307.8h0M576.5 307.8h0M578.4 307.8h0M648.5 307.8h0M672.7 307.8h0M686.1 307.8h0M175.8 307.0h0M478.8 307.0h0M689.3 307.0h0M480.5 306.1h0M571.3 306.1h0M198.4 305.3h0M267.7 305.3h0M323.7 305.3h0M175.4 304.5h0M230.5 304.5h0M326.1 304.5h0M326.6 304.5h0M329.9 304.5h0M368.2 304.5h0M489.1 304.5h0M495.3 304.5h0M565.2 304.5h0M601.9 304.5h0M208.9 303.6h0M215.2 303.6h0M322.3 303.6h0M326.9 303.6h0M329.7 303.6h0M424.0 303.6h0M483.3 303.6h0M539.4 303.6h0M197.5 302.8h0M327.5 302.8h0M474.3 302.8h0M493.7 302.8h0M565.1 302.8h0M676.1 302.8h0M259.2 302.0h0M321.0 302.0h0M327.9 302.0h0M334.1 302.0h0M396.7 302.0h0M488.9 302.0h0M624.7 302.0h0M647.8 302.0h0M235.6 301.1h0M330.3 301.1h0M510.9 301.1h0M594.5 301.1h0M599.9 301.1h0M675.8 301.1h0M676.7 301.1h0M679.6 301.1h0M225.1 300.3h0M242.6 300.3h0M331.9 300.3h0M349.2 300.3h0M356.2 300.3h0M448.9 300.3h0M495.7 300.3h0M498.4 300.3h0M499.8 300.3h0M519.6 300.3h0M526.5 300.3h0M577.7 300.3h0M325.3 299.5h0M388.0 299.5h0M512.3 299.5h0M522.6 299.5h0M638.6 299.5h0M671.0 299.5h0M679.6 299.5h0M307.0 298.6h0M478.0 298.6h0M235.4 297.8h0M323.9 297.8h0M324.3 297.8h0M326.0 297.8h0M328.8 297.8h0M331.7 297.8h0M375.3 297.8h0M495.3 297.8h0M538.7 297.8h0M125.1 297.0h0M322.4 297.0h0M328.9 297.0h0M385.1 297.0h0M435.4 297.0h0M486.2 297.0h0M588.2 297.0h0M639.7 297.0h0M141.4 296.1h0M180.9 296.1h0M290.2 296.1h0M314.6 296.1h0M318.4 296.1h0M324.2 296.1h0M333.5 296.1h0M473.5 296.1h0M479.4 296.1h0M699.0 296.1h0M133.4 295.3h0M244.5 295.3h0M311.9 295.3h0M317.2 295.3h0M326.7 295.3h0M384.3 295.3h0M670.7 295.3h0M285.8 294.5h0M324.9 294.5h0M326.0 294.5h0M330.2 294.5h0M370.3 294.5h0M561.4 294.5h0M585.0 294.5h0M608.8 294.5h0M616.7 294.5h0M206.4 293.6h0M273.9 293.6h0M288.6 293.6h0M325.1 293.6h0M327.3 293.6h0M491.9 293.6h0M125.9 292.8h0M138.6 292.8h0M196.4 292.8h0M233.9 292.8h0M261.6 292.8h0M313.6 292.8h0M322.8 292.8h0M682.4 292.8h0M259.1 292.0h0M308.8 292.0h0M327.6 292.0h0M411.3 292.0h0M454.3 292.0h0M481.7 292.0h0M500.6 292.0h0M585.8 292.0h0M303.9 291.1h0M328.6 291.1h0M329.3 291.1h0M331.6 291.1h0M505.8 291.1h0M506.7 291.1h0M679.3 291.1h0M142.7 290.3h0M232.1 290.3h0M310.2 290.3h0M321.2 290.3h0M324.4 290.3h0M325.9 290.3h0M356.1 290.3h0M365.9 290.3h0M395.1 290.3h0M472.2 290.3h0M510.9 290.3h0M659.0 290.3h0M223.9 289.5h0M241.3 289.5h0M299.0 289.5h0M325.8 289.5h0M328.9 289.5h0M329.1 289.5h0M456.3 289.5h0M458.0 289.5h0M545.3 289.5h0M555.2 289.5h0M566.9 289.5h0M594.1 289.5h0M624.5 289.5h0M651.2 289.5h0M123.2 288.6h0M139.0 288.6h0M153.3 288.6h0M179.3 288.6h0M287.8 288.6h0M303.1 288.6h0M324.7 288.6h0M326.7 288.6h0M383.3 288.6h0M506.3 288.6h0M609.4 288.6h0M658.1 288.6h0M210.1 287.8h0M326.2 287.8h0M487.1 287.8h0M154.4 287.0h0M320.6 287.0h0M444.0 287.0h0M462.6 287.0h0M482.4 287.0h0M502.0 287.0h0M656.8 287.0h0M675.1 287.0h0M703.1 287.0h0M155.4 286.1h0M446.4 286.1h0M488.4 286.1h0M631.5 286.1h0M634.7 286.1h0M325.0 285.3h0M355.8 285.3h0M533.8 285.3h0M633.1 285.3h0M454.0 284.5h0M458.2 284.5h0M490.1 284.5h0M228.6 283.6h0M280.1 283.6h0M295.1 283.6h0M328.2 283.6h0M329.2 283.6h0M508.4 283.6h0M127.5 282.8h0M238.9 282.8h0M288.8 282.8h0M297.4 282.8h0M329.6 282.8h0M487.5 282.8h0M546.1 282.8h0M196.9 282.0h0M273.9 282.0h0M313.0 282.0h0M314.1 282.0h0M320.8 282.0h0M367.9 282.0h0M427.2 282.0h0M316.6 281.1h0M333.7 281.1h0M446.5 281.1h0M477.9 281.1h0M500.2 281.1h0M567.5 281.1h0M131.9 280.3h0M256.5 280.3h0M326.2 280.3h0M370.2 280.3h0M435.5 280.3h0M486.4 280.3h0M626.3 280.3h0M670.4 280.3h0M325.5 279.5h0M330.0 279.5h0M423.8 279.5h0M442.5 279.5h0M469.4 279.5h0M477.6 279.5h0M546.2 279.5h0M257.7 278.6h0M295.9 278.6h0M298.5 278.6h0M327.8 278.6h0M358.6 278.6h0M471.6 278.6h0M568.0 278.6h0M242.8 277.8h0M324.5 277.8h0M373.1 277.8h0M473.2 277.8h0M497.9 277.8h0M594.9 277.8h0M128.4 277.0h0M324.5 277.0h0M327.0 277.0h0M469.2 277.0h0M487.5 277.0h0M605.2 277.0h0M677.4 277.0h0M682.1 277.0h0M696.2 277.0h0M698.7 277.0h0M192.1 276.1h0M223.6 276.1h0M325.8 276.1h0M326.9 276.1h0M327.9 276.1h0M488.7 276.1h0M538.3 276.1h0M666.1 276.1h0M285.2 275.3h0M305.3 275.3h0M324.2 275.3h0M325.4 275.3h0M327.7 275.3h0M394.9 275.3h0M428.5 275.3h0M617.7 275.3h0M122.0 274.5h0M221.7 274.5h0M390.3 274.5h0M484.6 274.5h0M123.9 273.6h0M190.0 273.6h0M361.2 273.6h0M371.5 273.6h0M473.6 273.6h0M484.2 273.6h0M538.9 273.6h0M628.6 273.6h0M137.9 272.8h0M183.2 272.8h0M331.8 272.8h0M345.7 272.8h0M497.1 272.8h0M509.1 272.8h0M542.8 272.8h0M122.3 272.0h0M249.5 272.0h0M312.1 272.0h0M681.4 272.0h0M688.4 272.0h0M119.2 271.1h0M258.3 271.1h0M265.7 271.1h0M284.0 271.1h0M325.9 271.1h0M572.5 271.1h0M201.7 270.3h0M325.7 270.3h0M326.8 270.3h0M328.6 270.3h0M373.6 270.3h0M441.4 270.3h0M116.7 269.5h0M199.2 269.5h0M248.1 269.5h0M410.0 269.5h0M519.7 269.5h0M573.0 269.5h0M625.6 269.5h0M627.0 269.5h0M661.8 269.5h0M277.6 268.6h0M280.7 268.6h0M327.5 268.6h0M121.3 267.8h0M302.6 267.8h0M320.9 267.8h0M325.6 267.8h0M328.9 267.8h0M411.7 267.8h0M702.0 267.8h0M193.7 267.0h0M524.0 267.0h0M531.1 267.0h0M636.3 267.0h0M179.1 266.1h0M265.9 266.1h0M322.1 266.1h0M327.7 266.1h0M342.8 266.1h0M415.1 266.1h0M442.7 266.1h0M641.6 266.1h0M699.7 266.1h0M182.7 265.3h0M278.6 265.3h0M327.9 265.3h0M410.8 265.3h0M510.2 265.3h0M562.9 265.3h0M608.8 265.3h0M357.4 264.5h0M466.9 264.5h0M468.0 264.5h0M512.3 264.5h0M571.2 264.5h0M675.5 264.5h0M321.8 263.6h0M465.0 263.6h0M549.2 263.6h0M605.1 263.6h0M684.6 263.6h0M282.1 262.8h0M329.1 262.8h0M412.2 262.8h0M498.6 262.8h0M613.8 262.8h0M669.9 262.8h0M670.6 262.8h0M211.5 262.0h0M214.8 262.0h0M326.1 262.0h0M427.0 262.0h0M481.8 262.0h0M148.4 261.1h0M223.5 261.1h0M239.2 261.1h0M254.2 261.1h0M282.9 261.1h0M332.2 261.1h0M399.7 261.1h0M414.7 261.1h0M516.7 261.1h0M553.2 261.1h0M650.3 261.1h0M327.2 260.3h0M493.0 260.3h0M129.3 259.5h0M233.6 259.5h0M240.2 259.5h0M320.4 259.5h0M324.3 259.5h0M329.3 259.5h0M443.9 259.5h0M495.2 259.5h0M522.9 259.5h0M594.5 259.5h0M612.1 259.5h0M655.5 259.5h0M673.9 259.5h0M155.7 258.6h0M212.9 258.6h0M276.5 258.6h0M281.2 258.6h0M301.7 258.6h0M324.1 258.6h0M325.2 258.6h0M325.7 258.6h0M500.8 258.6h0M505.2 258.6h0M508.3 258.6h0M595.2 258.6h0M196.4 257.8h0M325.0 257.8h0M459.4 257.8h0M513.9 257.8h0M703.7 257.8h0M324.3 257.0h0M327.3 257.0h0M329.8 257.0h0M350.2 257.0h0M410.8 257.0h0M532.3 257.0h0M562.9 257.0h0M676.6 257.0h0M273.5 256.1h0M326.8 256.1h0M359.7 256.1h0M498.4 256.1h0M521.5 256.1h0M540.3 256.1h0M581.0 256.1h0M611.6 256.1h0M209.9 255.3h0M287.1 255.3h0M325.2 255.3h0M493.3 255.3h0M627.3 255.3h0M647.9 254.5h0M685.1 254.5h0M115.7 253.6h0M156.0 253.6h0M302.1 253.6h0M327.2 253.6h0M429.1 253.6h0M549.8 253.6h0M669.5 253.6h0M325.7 252.8h0M442.2 252.8h0M634.5 252.8h0M651.9 252.8h0M664.0 252.8h0M151.8 252.0h0M239.3 252.0h0M326.2 252.0h0M376.0 252.0h0M407.6 252.0h0M524.1 252.0h0M541.3 252.0h0M542.9 252.0h0M658.5 252.0h0M231.9 251.1h0M241.8 251.1h0M332.3 251.1h0M379.1 251.1h0M613.9 251.1h0M642.5 251.1h0M131.5 250.3h0M199.6 250.3h0M203.1 250.3h0M255.2 250.3h0M508.0 250.3h0M556.4 250.3h0M636.0 250.3h0M261.5 249.5h0M326.2 249.5h0M326.6 249.5h0M485.0 249.5h0M557.2 249.5h0M627.0 249.5h0M629.7 249.5h0M118.5 248.6h0M198.3 248.6h0M320.0 248.6h0M328.3 248.6h0M339.2 248.6h0M575.0 248.6h0M194.3 247.8h0M212.1 247.8h0M335.5 247.8h0M491.1 247.8h0M541.0 247.8h0M545.6 247.8h0M608.9 247.8h0M194.0 247.0h0M210.2 247.0h0M211.4 247.0h0M243.4 247.0h0M263.9 247.0h0M329.0 247.0h0M487.9 247.0h0M683.9 247.0h0M139.1 246.1h0M327.7 246.1h0M329.3 246.1h0M420.7 246.1h0M427.5 246.1h0M579.1 246.1h0M148.9 245.3h0M275.2 245.3h0M320.3 245.3h0M322.7 245.3h0M327.4 245.3h0M328.4 245.3h0M430.8 245.3h0M491.3 245.3h0M671.2 245.3h0M673.0 245.3h0M177.9 244.5h0M270.2 244.5h0M313.7 244.5h0M498.7 244.5h0M585.7 244.5h0M201.1 243.6h0M251.0 243.6h0M324.7 243.6h0M329.3 243.6h0M330.4 243.6h0M420.3 243.6h0M427.1 243.6h0M123.9 242.8h0M175.5 242.8h0M239.9 242.8h0M325.5 242.8h0M327.7 242.8h0M332.3 242.8h0M374.9 242.8h0M459.6 242.8h0M496.7 242.8h0M155.1 242.0h0M270.9 242.0h0M501.2 242.0h0M595.7 242.0h0M606.9 242.0h0M154.1 241.1h0M189.1 241.1h0M236.3 241.1h0M332.6 241.1h0M440.6 241.1h0M469.7 241.1h0M495.6 241.1h0M601.2 241.1h0M698.5 241.1h0M188.4 240.3h0M221.4 240.3h0M326.4 240.3h0M326.6 240.3h0M508.9 240.3h0M520.0 240.3h0M633.4 240.3h0M648.2 240.3h0M674.1 240.3h0M147.9 239.5h0M190.9 239.5h0M328.6 239.5h0M447.2 239.5h0M472.1 239.5h0M572.3 239.5h0M596.8 239.5h0M647.9 239.5h0M129.0 238.6h0M191.5 238.6h0M210.9 238.6h0M327.9 238.6h0M426.2 238.6h0M457.0 238.6h0M650.9 238.6h0M275.2 237.8h0M327.8 237.8h0M330.0 237.8h0M365.2 237.8h0M513.6 237.8h0M517.4 237.8h0M152.4 237.0h0M181.0 237.0h0M329.8 237.0h0M507.0 237.0h0M598.7 237.0h0M599.7 237.0h0M650.6 237.0h0M652.8 237.0h0M689.3 237.0h0M188.3 236.1h0M304.9 236.1h0M410.2 236.1h0M462.8 236.1h0M547.3 236.1h0M691.4 236.1h0M696.0 236.1h0M136.4 235.3h0M271.5 235.3h0M325.0 235.3h0M333.1 235.3h0M457.5 234.5h0M588.6 234.5h0M166.2 233.7h0M259.1 233.7h0M328.5 233.7h0M634.5 233.7h0M133.6 232.8h0M191.8 232.8h0M306.9 232.8h0M339.3 232.8h0M487.2 232.8h0M506.0 232.8h0M511.9 232.8h0M538.1 232.8h0M588.8 232.8h0M603.1 232.8h0M619.4 232.8h0M680.4 232.8h0M131.7 232.0h0M241.5 232.0h0M321.4 232.0h0M325.5 232.0h0M329.0 232.0h0M388.4 232.0h0M510.6 232.0h0M578.4 232.0h0M184.8 231.2h0M327.0 231.2h0M328.3 231.2h0M340.0 231.2h0M420.2 231.2h0M148.6 230.3h0M174.0 230.3h0M249.8 230.3h0M326.5 230.3h0M635.5 230.3h0M650.5 230.3h0M665.4 230.3h0M123.4 229.5h0M154.5 229.5h0M328.1 229.5h0M373.5 229.5h0M436.8 229.5h0M157.6 228.7h0M549.3 228.7h0M623.6 228.7h0M690.4 228.7h0M323.4 227.8h0M334.4 227.8h0M592.4 227.8h0M595.0 227.8h0M664.5 227.8h0M144.6 227.0h0M188.7 227.0h0M320.9 227.0h0M327.4 227.0h0M543.2 227.0h0M166.0 226.2h0M216.5 226.2h0M269.1 226.2h0M325.7 226.2h0M406.7 226.2h0M417.8 226.2h0M530.6 226.2h0M587.5 226.2h0M638.7 226.2h0M641.9 226.2h0M122.9 225.3h0M444.3 225.3h0M446.0 225.3h0M469.8 225.3h0M471.0 225.3h0M146.6 224.5h0M257.2 224.5h0M330.9 224.5h0M349.1 224.5h0M463.4 224.5h0M556.2 224.5h0M570.1 224.5h0M645.5 224.5h0M206.6 223.7h0M278.7 223.7h0M299.9 223.7h0M325.6 223.7h0M369.8 223.7h0M478.8 223.7h0M482.7 223.7h0M545.5 223.7h0M559.2 223.7h0M589.8 223.7h0M609.9 223.7h0M652.4 223.7h0M131.4 222.8h0M193.0 222.8h0M208.2 222.8h0M223.8 222.8h0M328.2 222.8h0M349.7 222.8h0M698.1 222.8h0M140.4 222.0h0M307.6 222.0h0M325.9 222.0h0M366.2 222.0h0M448.9 222.0h0M470.9 222.0h0M472.6 222.0h0M669.9 222.0h0M127.3 221.2h0M143.9 221.2h0M253.4 221.2h0M324.6 221.2h0M329.5 221.2h0M330.6 221.2h0M340.9 221.2h0M612.5 221.2h0M648.5 221.2h0M153.5 220.3h0M189.7 220.3h0M238.1 220.3h0M333.5 220.3h0M484.5 220.3h0M629.4 220.3h0M273.9 219.5h0M281.3 219.5h0M306.7 219.5h0M323.4 219.5h0M331.1 219.5h0M492.9 219.5h0M494.2 219.5h0M552.7 219.5h0M127.5 218.7h0M141.4 218.7h0M190.2 218.7h0M251.0 218.7h0M293.6 218.7h0M325.2 218.7h0M489.2 218.7h0M546.9 218.7h0M569.4 218.7h0M580.1 218.7h0M609.6 218.7h0M635.2 218.7h0M658.0 218.7h0M698.2 218.7h0M135.4 217.8h0M253.0 217.8h0M296.9 217.8h0M325.7 217.8h0M335.3 217.8h0M412.7 217.8h0M500.3 217.8h0M533.0 217.8h0M556.5 217.8h0M700.6 217.8h0M211.4 217.0h0M324.2 217.0h0M344.3 217.0h0M441.0 217.0h0M555.2 217.0h0M610.4 217.0h0M673.5 217.0h0M136.6 216.2h0M328.0 216.2h0M329.0 216.2h0M602.2 216.2h0M630.9 216.2h0M326.5 215.3h0M402.8 215.3h0M501.2 215.3h0M526.2 215.3h0M624.8 215.3h0M648.3 215.3h0M665.8 215.3h0M269.0 214.5h0M362.5 214.5h0M612.7 214.5h0M657.0 214.5h0M267.4 213.7h0M326.0 213.7h0M329.4 213.7h0M330.7 213.7h0M461.6 213.7h0M472.7 213.7h0M493.3 213.7h0M614.7 213.7h0M129.3 212.8h0M302.3 212.8h0M327.4 212.8h0M349.7 212.8h0M477.4 212.8h0M547.4 212.8h0M700.2 212.8h0M224.9 212.0h0M269.3 212.0h0M362.6 212.0h0M513.7 212.0h0M544.1 212.0h0M618.2 212.0h0M167.0 211.2h0M292.1 211.2h0M317.8 211.2h0M370.8 211.2h0M607.5 211.2h0M618.8 211.2h0M134.0 210.3h0M326.4 210.3h0M328.8 210.3h0M487.3 210.3h0M547.5 210.3h0M561.2 210.3h0M580.4 210.3h0M143.7 209.5h0M198.9 209.5h0M312.4 209.5h0M383.9 209.5h0M385.0 209.5h0M508.9 209.5h0M701.3 209.5h0M325.3 208.7h0M326.0 208.7h0M329.8 208.7h0M487.3 208.7h0M595.1 208.7h0M600.2 208.7h0M141.4 207.8h0M257.0 207.8h0M289.1 207.8h0M299.3 207.8h0M326.3 207.8h0M361.7 207.8h0M423.1 207.8h0M471.3 207.8h0M628.2 207.8h0M123.0 207.0h0M145.2 207.0h0M362.8 207.0h0M401.4 207.0h0M130.5 206.2h0M209.5 206.2h0M325.6 206.2h0M328.9 206.2h0M329.6 206.2h0M331.4 206.2h0M420.4 206.2h0M606.2 206.2h0M632.7 206.2h0M169.4 205.3h0M267.8 205.3h0M402.2 205.3h0M501.5 205.3h0M215.8 204.5h0M285.6 204.5h0M324.3 204.5h0M430.1 204.5h0M492.0 204.5h0M652.7 204.5h0M700.3 204.5h0M120.0 203.7h0M198.4 203.7h0M204.3 203.7h0M269.3 203.7h0M418.1 203.7h0M461.1 203.7h0M497.1 203.7h0M520.4 203.7h0M571.4 203.7h0M134.7 202.8h0M175.8 202.8h0M250.6 202.8h0M255.2 202.8h0M278.0 202.8h0M346.5 202.8h0M608.8 202.8h0M355.5 202.0h0M377.6 202.0h0M487.7 202.0h0M529.0 202.0h0M552.7 202.0h0M608.9 202.0h0M647.8 202.0h0M319.7 201.2h0M328.0 201.2h0M443.2 201.2h0M575.5 201.2h0M675.2 201.2h0M173.5 200.3h0M221.0 200.3h0M329.1 200.3h0M474.7 200.3h0M521.7 200.3h0M116.7 199.5h0M154.1 199.5h0M256.7 199.5h0M318.5 199.5h0M415.5 199.5h0M620.0 199.5h0M642.6 199.5h0M659.8 199.5h0M152.2 198.7h0M303.9 198.7h0M324.8 198.7h0M327.5 198.7h0M328.6 198.7h0M480.3 198.7h0M505.9 198.7h0M552.5 198.7h0M621.5 198.7h0M624.2 198.7h0M661.1 198.7h0M680.5 198.7h0M683.9 198.7h0M171.5 197.8h0M324.8 197.8h0M327.9 197.8h0M331.5 197.8h0M518.4 197.8h0M587.5 197.8h0M147.7 197.0h0M192.0 197.0h0M461.4 197.0h0M327.2 196.2h0M329.5 196.2h0M373.1 196.2h0M461.5 196.2h0M465.8 196.2h0M490.1 196.2h0M505.3 196.2h0M519.7 196.2h0M539.8 196.2h0M580.5 196.2h0M155.9 195.3h0M164.4 195.3h0M207.7 195.3h0M264.3 195.3h0M325.3 195.3h0M328.1 195.3h0M451.4 195.3h0M531.5 195.3h0M562.5 195.3h0M598.9 195.3h0M152.1 194.5h0M252.2 194.5h0M330.1 194.5h0M348.3 194.5h0M496.5 194.5h0M548.8 194.5h0M329.1 193.7h0M420.7 193.7h0M545.1 193.7h0M558.5 193.7h0M641.7 193.7h0M674.7 193.7h0M175.0 192.8h0M225.4 192.8h0M287.4 192.8h0M497.0 192.8h0M500.4 192.8h0M502.7 192.8h0M504.4 192.8h0M270.6 192.0h0M324.3 192.0h0M326.9 192.0h0M394.0 192.0h0M466.1 192.0h0M642.4 192.0h0M171.8 191.2h0M174.4 191.2h0M218.6 191.2h0M326.4 191.2h0M327.1 191.2h0M329.4 191.2h0M435.6 191.2h0M517.2 191.2h0M653.1 191.2h0M333.2 190.3h0M456.8 190.3h0M476.5 190.3h0M523.6 190.3h0M555.2 190.3h0M614.9 190.3h0M116.6 189.5h0M334.4 189.5h0M472.8 189.5h0M530.5 189.5h0M560.2 189.5h0M631.1 189.5h0M118.3 188.7h0M209.4 188.7h0M283.0 188.7h0M331.8 188.7h0M429.1 188.7h0M532.5 188.7h0M596.0 188.7h0M120.9 187.8h0M247.3 187.8h0M252.8 187.8h0M270.6 187.8h0M282.5 187.8h0M325.4 187.8h0M498.2 187.8h0M569.9 187.8h0M591.8 187.8h0M188.4 187.0h0M189.3 187.0h0M295.7 187.0h0M302.9 187.0h0M320.1 187.0h0M326.1 187.0h0M328.1 187.0h0M376.5 187.0h0M510.4 187.0h0M529.1 187.0h0M688.1 187.0h0M173.5 186.2h0M179.4 186.2h0M325.6 186.2h0M326.6 186.2h0M473.4 186.2h0M475.1 186.2h0M610.2 186.2h0M144.1 185.3h0M481.8 185.3h0M575.3 185.3h0M147.7 184.5h0M178.9 184.5h0M219.9 184.5h0M324.1 184.5h0M326.1 184.5h0M326.8 184.5h0M328.2 184.5h0M330.5 184.5h0M494.3 184.5h0M576.7 184.5h0M329.3 183.7h0M418.1 183.7h0M494.2 183.7h0M521.0 183.7h0M168.8 182.8h0M522.4 182.8h0M524.9 182.8h0M223.0 182.0h0M225.9 182.0h0M239.8 182.0h0M247.6 182.0h0M277.7 182.0h0M326.3 182.0h0M328.0 182.0h0M328.3 182.0h0M333.7 182.0h0M545.4 182.0h0M662.9 182.0h0M262.5 181.2h0M324.2 181.2h0M326.4 181.2h0M329.4 181.2h0M416.0 181.2h0M670.0 181.2h0M264.2 180.3h0M335.4 180.3h0M380.7 180.3h0M429.9 180.3h0M494.2 180.3h0M507.9 180.3h0M587.6 180.3h0M671.7 180.3h0M154.4 179.5h0M218.2 179.5h0M324.5 179.5h0M544.6 179.5h0M585.1 179.5h0M604.1 179.5h0M646.3 179.5h0M687.3 179.5h0M130.1 178.7h0M310.2 178.7h0M494.2 178.7h0M544.5 178.7h0M673.1 178.7h0M211.2 177.8h0M223.2 177.8h0M300.3 177.8h0M327.1 177.8h0M332.7 177.8h0M360.8 177.8h0M606.0 177.8h0M311.1 177.0h0M327.3 177.0h0M329.3 177.0h0M402.5 177.0h0M600.4 177.0h0M644.7 177.0h0M339.5 176.2h0M370.7 176.2h0M416.1 176.2h0M445.1 176.2h0M453.6 176.2h0M487.5 176.2h0M627.0 176.2h0M639.4 176.2h0M304.9 175.3h0M334.6 175.3h0M344.5 175.3h0M477.8 175.3h0M500.4 175.3h0M531.5 175.3h0M551.4 175.3h0M659.0 175.3h0M207.5 174.5h0M247.7 174.5h0M330.3 174.5h0M332.3 174.5h0M352.3 174.5h0M395.3 174.5h0M568.9 174.5h0M623.2 174.5h0M182.9 173.7h0M276.9 173.7h0M298.3 173.7h0M323.6 173.7h0M327.2 173.7h0M328.6 173.7h0M332.7 173.7h0M456.0 173.7h0M512.7 173.7h0M583.7 173.7h0M629.3 173.7h0M470.0 172.8h0M479.0 172.8h0M318.6 172.0h0M330.6 172.0h0M393.9 172.0h0M438.9 172.0h0M622.0 172.0h0M623.4 172.0h0M682.6 172.0h0M695.2 172.0h0M166.0 171.2h0M216.8 171.2h0M327.1 171.2h0M329.9 171.2h0M164.7 170.3h0M180.1 170.3h0M201.8 170.3h0M245.2 170.3h0M326.5 170.3h0M559.5 170.3h0M200.1 169.5h0M335.7 169.5h0M346.0 169.5h0M367.5 169.5h0M408.3 169.5h0M478.4 169.5h0M480.8 169.5h0M593.6 169.5h0M653.0 169.5h0M682.2 169.5h0M206.3 168.7h0M211.6 168.7h0M321.1 168.7h0M324.1 168.7h0M329.7 168.7h0M389.2 168.7h0M477.8 168.7h0M483.5 168.7h0M489.5 168.7h0M530.2 168.7h0M166.9 167.8h0M222.7 167.8h0M456.9 167.8h0M642.9 167.8h0M142.3 167.0h0M242.8 167.0h0M246.9 167.0h0M314.1 167.0h0M327.3 167.0h0M356.8 167.0h0M493.9 167.0h0M495.9 167.0h0M284.3 166.2h0M331.2 166.2h0M560.9 166.2h0M564.7 166.2h0M327.6 165.3h0M329.6 165.3h0M372.5 165.3h0M494.8 165.3h0M512.3 165.3h0M560.8 165.3h0M118.6 164.5h0M143.0 164.5h0M287.6 164.5h0M330.6 164.5h0M332.6 164.5h0M475.9 164.5h0M484.4 164.5h0M153.1 163.7h0M315.0 163.7h0M321.6 163.7h0M326.7 163.7h0M327.9 163.7h0M329.1 163.7h0M351.3 163.7h0M486.1 163.7h0M493.4 163.7h0M499.4 163.7h0M616.7 163.7h0M666.9 163.7h0M143.2 162.8h0M260.3 162.8h0M321.8 162.8h0M336.0 162.8h0M633.0 162.8h0M641.7 162.8h0M678.9 162.8h0M681.0 162.8h0M134.6 162.0h0M148.4 162.0h0M220.4 162.0h0M329.4 162.0h0M330.2 162.0h0M332.6 162.0h0M477.2 162.0h0M516.9 162.0h0M572.8 162.0h0M613.6 162.0h0M701.8 162.0h0M132.7 161.2h0M226.9 161.2h0M234.8 161.2h0M326.3 161.2h0M329.9 161.2h0M332.8 161.2h0M510.8 161.2h0M251.5 160.3h0M306.1 160.3h0M327.6 160.3h0M462.8 160.3h0M561.4 160.3h0M692.0 160.3h0M702.2 160.3h0M143.7 159.5h0M258.9 159.5h0M301.4 159.5h0M326.2 159.5h0M327.8 159.5h0M328.4 159.5h0M331.3 159.5h0M367.1 159.5h0M395.7 159.5h0M614.3 159.5h0M224.3 158.7h0M230.5 158.7h0M323.4 158.7h0M327.7 158.7h0M469.4 158.7h0M482.4 158.7h0M529.6 158.7h0M168.3 157.8h0M202.4 157.8h0M325.7 157.8h0M427.3 157.8h0M188.1 157.0h0M262.0 157.0h0M479.8 157.0h0M510.9 157.0h0M549.8 157.0h0M565.5 157.0h0M572.9 157.0h0M654.8 157.0h0M664.0 157.0h0M665.1 157.0h0M145.7 156.2h0M168.1 156.2h0M321.4 156.2h0M327.7 156.2h0M495.9 156.2h0M535.1 156.2h0M594.6 156.2h0M680.5 156.2h0M130.6 155.3h0M172.7 155.3h0M180.7 155.3h0M233.0 155.3h0M450.6 155.3h0M616.9 155.3h0M327.2 154.5h0M384.0 154.5h0M492.1 154.5h0M626.7 154.5h0M683.6 154.5h0M151.7 153.7h0M197.1 153.7h0M205.8 153.7h0M332.0 153.7h0M534.4 153.7h0M559.1 153.7h0M653.2 153.7h0M139.1 152.8h0M242.6 152.8h0M322.5 152.8h0M323.9 152.8h0M328.6 152.8h0M417.6 152.8h0M520.7 152.8h0M671.7 152.8h0M160.4 152.0h0M251.4 152.0h0M288.2 152.0h0M324.3 152.0h0M328.3 152.0h0M420.2 152.0h0M443.3 152.0h0M130.9 151.2h0M329.6 151.2h0M437.0 151.2h0M539.1 151.2h0M632.5 151.2h0M324.6 150.4h0M328.3 150.4h0M448.0 150.4h0M451.5 150.4h0M520.0 150.4h0M537.7 150.4h0M182.9 149.5h0M252.4 149.5h0M327.2 149.5h0M330.4 149.5h0M506.0 149.5h0M520.0 149.5h0M545.2 149.5h0M131.5 148.7h0M357.6 148.7h0M360.8 148.7h0M376.7 148.7h0M451.4 148.7h0M197.7 147.9h0M523.5 147.9h0M538.4 147.9h0M221.4 147.0h0M222.3 147.0h0M249.7 147.0h0M288.9 147.0h0M417.6 147.0h0M439.4 147.0h0M610.7 147.0h0M651.6 147.0h0M259.5 146.2h0M418.6 146.2h0M427.5 146.2h0M453.6 146.2h0M604.9 146.2h0M151.7 145.4h0M298.2 145.4h0M324.5 145.4h0M325.0 145.4h0M331.7 145.4h0M373.6 145.4h0M460.3 145.4h0M190.0 144.5h0M241.8 144.5h0M323.8 144.5h0M326.7 144.5h0M330.7 144.5h0M521.8 144.5h0M596.4 144.5h0M698.5 144.5h0M143.3 143.7h0M327.6 143.7h0M497.6 143.7h0M513.3 143.7h0M325.5 142.9h0M328.7 142.9h0M332.4 142.9h0M639.5 142.9h0M162.3 142.0h0M201.4 142.0h0M330.7 142.0h0M364.2 142.0h0M442.5 142.0h0M511.4 142.0h0M551.1 142.0h0M127.6 141.2h0M457.8 141.2h0M501.8 141.2h0M540.2 141.2h0M566.3 141.2h0M696.0 141.2h0M175.1 140.4h0M236.5 140.4h0M324.8 140.4h0M327.0 140.4h0M483.7 140.4h0M502.9 140.4h0M514.5 140.4h0M527.1 140.4h0M547.9 140.4h0M219.7 139.5h0M326.6 139.5h0M328.5 139.5h0M392.7 139.5h0M409.9 139.5h0M529.2 139.5h0M633.0 139.5h0M684.4 139.5h0M204.7 138.7h0M272.7 138.7h0M282.5 138.7h0M329.0 138.7h0M329.4 138.7h0M382.3 138.7h0M465.6 138.7h0M478.0 138.7h0M491.9 138.7h0M504.1 138.7h0M636.9 138.7h0M690.7 138.7h0M215.0 137.9h0M217.1 137.9h0M219.4 137.9h0M231.4 137.9h0M328.4 137.9h0M399.7 137.9h0M569.6 137.9h0M610.7 137.9h0M122.8 137.0h0M327.1 137.0h0M467.2 137.0h0M469.0 137.0h0M521.6 137.0h0M680.6 137.0h0M203.5 136.2h0M235.7 136.2h0M276.2 136.2h0M329.3 136.2h0M545.2 136.2h0M325.6 135.4h0M440.0 135.4h0M457.1 135.4h0M506.4 135.4h0M613.2 135.4h0M658.3 135.4h0M663.8 135.4h0M117.9 134.5h0M235.6 134.5h0M278.7 134.5h0M475.9 134.5h0M501.9 134.5h0M603.1 134.5h0M663.1 134.5h0M259.2 133.7h0M293.7 133.7h0M317.3 133.7h0M332.6 133.7h0M376.3 133.7h0M420.9 133.7h0M537.6 133.7h0M558.9 133.7h0M689.7 133.7h0M126.1 132.9h0M138.8 132.9h0M204.8 132.9h0M423.6 132.9h0M590.7 132.9h0M698.5 132.9h0M699.1 132.9h0M246.5 132.0h0M314.5 132.0h0M330.0 132.0h0M331.2 132.0h0M362.0 132.0h0M469.6 132.0h0M526.0 132.0h0M253.4 131.2h0M328.8 130.4h0M331.1 130.4h0M376.1 130.4h0M388.7 130.4h0M477.9 130.4h0M502.5 130.4h0M510.6 130.4h0M523.1 130.4h0M559.9 130.4h0M595.9 130.4h0M325.9 129.5h0M327.0 129.5h0M405.9 129.5h0M510.3 129.5h0M515.7 129.5h0M519.8 129.5h0M555.7 129.5h0M590.0 129.5h0M161.8 128.7h0M169.6 128.7h0M268.1 128.7h0M326.4 128.7h0M326.7 128.7h0M452.9 128.7h0M513.1 128.7h0M606.5 128.7h0M649.0 128.7h0M140.5 127.9h0M225.0 127.9h0M327.4 127.9h0M504.2 127.9h0M591.4 127.9h0M645.7 127.9h0M145.5 127.0h0M230.1 127.0h0M247.6 127.0h0M284.9 127.0h0M329.4 127.0h0M342.0 127.0h0M418.8 127.0h0M327.8 126.2h0M464.7 126.2h0M550.3 126.2h0M587.8 126.2h0M606.3 126.2h0M664.1 126.2h0M163.8 125.4h0M261.4 125.4h0M325.9 125.4h0M328.2 125.4h0M328.9 125.4h0M333.3 125.4h0M347.3 125.4h0M376.8 125.4h0M242.2 124.5h0M326.0 124.5h0M332.5 124.5h0M353.3 124.5h0M468.7 124.5h0M510.0 124.5h0M568.6 124.5h0M603.3 124.5h0M607.7 124.5h0M159.0 123.7h0M208.9 123.7h0M328.7 123.7h0M508.2 123.7h0M596.9 123.7h0M622.7 123.7h0M702.6 123.7h0M157.8 122.9h0M170.7 122.9h0M190.6 122.9h0M213.4 122.9h0M325.9 122.9h0M329.5 122.9h0M468.6 122.9h0M513.2 122.9h0M567.5 122.9h0M636.4 122.9h0M650.4 122.9h0M156.8 122.0h0M268.1 122.0h0M329.7 122.0h0M493.9 122.0h0M602.0 122.0h0M144.4 121.2h0M208.6 121.2h0M362.2 121.2h0M122.3 120.4h0M136.1 120.4h0M257.3 120.4h0M325.6 120.4h0M372.4 120.4h0M384.5 120.4h0M523.0 120.4h0M613.1 120.4h0M143.8 119.5h0M168.0 119.5h0M178.5 119.5h0M264.3 119.5h0M318.7 119.5h0M321.7 119.5h0M325.6 119.5h0M327.1 119.5h0M479.0 119.5h0M507.2 119.5h0M326.7 118.7h0M407.6 118.7h0M581.9 118.7h0M634.3 118.7h0M328.4 117.9h0M329.4 117.9h0M504.5 117.9h0M541.0 117.9h0M584.8 117.9h0M591.9 117.9h0M133.4 117.0h0M166.0 117.0h0M253.3 117.0h0M425.0 117.0h0M495.3 117.0h0M573.5 117.0h0M611.7 117.0h0M616.6 117.0h0M127.3 116.2h0M291.6 116.2h0M302.8 116.2h0M350.9 116.2h0M434.8 116.2h0M521.4 116.2h0M614.7 116.2h0M674.5 116.2h0M134.0 115.4h0M328.8 115.4h0M345.9 115.4h0M356.6 115.4h0M386.5 115.4h0M460.1 115.4h0M504.7 115.4h0M522.0 115.4h0M562.3 115.4h0M585.6 115.4h0M648.8 115.4h0M675.1 115.4h0M704.4 115.4h0M305.2 114.5h0M326.2 114.5h0M366.5 114.5h0M497.8 114.5h0M607.0 114.5h0M652.2 114.5h0M661.4 114.5h0M677.0 114.5h0M186.3 113.7h0M235.1 113.7h0M282.7 113.7h0M312.2 113.7h0M315.2 112.9h0M401.2 112.9h0M474.3 112.9h0M574.3 112.9h0M292.4 112.0h0M329.5 112.0h0M442.5 112.0h0M543.0 112.0h0M149.2 111.2h0M344.6 111.2h0M517.6 111.2h0M549.5 111.2h0M599.9 111.2h0M614.5 111.2h0M245.9 110.4h0M319.1 110.4h0M329.3 110.4h0M425.3 110.4h0M436.1 110.4h0M496.4 110.4h0M515.1 110.4h0M521.9 110.4h0M216.9 109.5h0M292.9 109.5h0M302.5 109.5h0M329.7 109.5h0M162.5 108.7h0M208.1 108.7h0M262.7 108.7h0M465.8 108.7h0M535.0 108.7h0M323.6 107.9h0M326.7 107.9h0M329.7 107.9h0M476.6 107.9h0M673.1 107.9h0M116.3 107.0h0M188.9 107.0h0M280.5 107.0h0M323.2 107.0h0M367.4 107.0h0M479.8 107.0h0M525.2 107.0h0M589.0 107.0h0M659.8 107.0h0M327.0 106.2h0M675.5 106.2h0M677.3 106.2h0M230.9 105.4h0M258.9 105.4h0M260.1 105.4h0M283.0 105.4h0M327.1 105.4h0M396.6 105.4h0M517.3 105.4h0M556.4 105.4h0M695.8 105.4h0M203.0 104.5h0M227.9 104.5h0M254.1 104.5h0M491.7 104.5h0M537.1 104.5h0M598.9 104.5h0M654.6 104.5h0M690.1 104.5h0M147.1 103.7h0M284.3 103.7h0M331.0 103.7h0M392.7 103.7h0M481.0 103.7h0M481.7 103.7h0M558.4 103.7h0M584.8 103.7h0M598.5 103.7h0M617.6 103.7h0M199.4 102.9h0M272.2 102.9h0M281.9 102.9h0M337.4 102.9h0M374.1 102.9h0M488.3 102.9h0M489.5 102.9h0M512.7 102.9h0M666.1 102.9h0M136.4 102.0h0M209.8 102.0h0M220.5 102.0h0M241.6 102.0h0M321.6 102.0h0M333.1 102.0h0M363.2 102.0h0M423.7 102.0h0M553.9 102.0h0M657.5 102.0h0M191.8 101.2h0M200.2 101.2h0M288.0 101.2h0M392.7 101.2h0M455.7 101.2h0M481.6 101.2h0M493.0 101.2h0M695.6 101.2h0M191.2 100.4h0M208.2 100.4h0M210.9 100.4h0M211.2 100.4h0M227.1 100.4h0M258.8 100.4h0M280.3 100.4h0M382.2 100.4h0M504.2 100.4h0M519.7 100.4h0M616.0 100.4h0M218.8 99.5h0M325.9 99.5h0M329.0 99.5h0M465.6 99.5h0M488.4 99.5h0M676.5 99.5h0M684.7 99.5h0M686.3 99.5h0M176.5 98.7h0M228.8 98.7h0M699.2 98.7h0M153.9 97.9h0M235.0 97.9h0M310.3 97.9h0M330.7 97.9h0M488.8 97.9h0M622.9 97.9h0M659.0 97.9h0M669.9 97.9h0M160.8 97.0h0M288.2 97.0h0M293.7 97.0h0M327.1 97.0h0M327.8 97.0h0M370.5 97.0h0M667.6 97.0h0M693.4 97.0h0M180.1 96.2h0M189.6 96.2h0M200.3 96.2h0M399.8 96.2h0M440.4 96.2h0M508.6 96.2h0M516.5 96.2h0M668.7 96.2h0M191.2 95.4h0M234.7 95.4h0M267.5 95.4h0M546.4 95.4h0M117.4 94.5h0M130.7 94.5h0M243.8 94.5h0M333.0 94.5h0M379.8 94.5h0M380.7 94.5h0M507.1 94.5h0M603.1 94.5h0M644.3 94.5h0M176.6 93.7h0M240.4 93.7h0M329.9 93.7h0M528.7 93.7h0M540.6 93.7h0M586.5 93.7h0M258.6 92.9h0M323.4 92.9h0M333.3 92.9h0M499.3 92.9h0M566.3 92.9h0M621.5 92.9h0M636.7 92.9h0M660.0 92.9h0M129.4 92.0h0M576.6 92.0h0M294.2 91.2h0M323.6 91.2h0M327.9 91.2h0M344.3 91.2h0M697.3 91.2h0M265.7 90.4h0M266.0 90.4h0M296.2 90.4h0M325.5 90.4h0M329.1 90.4h0M466.4 90.4h0M483.6 90.4h0M523.3 90.4h0M119.7 89.5h0M280.2 89.5h0M325.2 89.5h0M326.8 89.5h0M329.8 89.5h0M382.0 89.5h0M611.8 89.5h0M645.9 89.5h0M672.8 89.5h0M196.2 88.7h0M212.2 88.7h0M288.0 88.7h0M330.1 88.7h0M413.0 88.7h0M487.5 88.7h0M647.1 88.7h0M684.2 88.7h0M696.3 88.7h0M217.7 87.9h0M262.4 87.9h0M335.3 87.9h0M423.2 87.9h0M680.3 87.9h0M701.9 87.9h0M143.6 87.0h0M258.7 87.0h0M324.5 87.0h0M328.7 87.0h0M329.4 87.0h0M570.9 87.0h0M631.2 87.0h0M669.9 87.0h0M703.8 87.0h0M161.9 86.2h0M228.5 86.2h0M328.7 86.2h0M598.8 86.2h0M641.5 86.2h0M152.4 85.4h0M324.7 85.4h0M325.9 85.4h0M484.0 85.4h0M489.8 85.4h0M524.9 85.4h0M601.8 85.4h0M227.4 84.5h0M316.1 84.5h0M322.9 84.5h0M325.1 84.5h0M327.4 84.5h0M331.5 84.5h0M463.2 84.5h0M482.9 84.5h0M116.6 83.7h0M326.3 83.7h0M351.9 83.7h0M504.0 83.7h0M520.1 83.7h0M121.6 82.9h0M209.9 82.9h0M306.5 82.9h0M319.6 82.9h0M327.6 82.9h0M349.5 82.9h0M485.0 82.9h0M563.2 82.9h0M136.5 82.0h0M501.4 82.0h0M644.6 82.0h0M325.6 81.2h0M329.4 81.2h0M342.5 81.2h0M377.3 81.2h0M594.0 81.2h0M645.8 81.2h0M137.3 80.4h0M327.5 80.4h0M424.0 80.4h0M481.4 80.4h0M495.0 80.4h0M517.7 80.4h0M562.5 80.4h0M206.7 79.5h0M252.0 79.5h0M298.6 79.5h0M299.5 79.5h0M490.0 79.5h0M544.6 79.5h0M608.2 79.5h0M168.7 78.7h0M192.2 78.7h0M193.9 78.7h0M324.7 78.7h0M329.4 78.7h0M489.6 78.7h0M508.5 78.7h0M526.7 78.7h0M623.7 78.7h0M636.3 78.7h0M640.6 78.7h0M130.5 77.9h0M157.6 77.9h0M204.1 77.9h0M349.6 77.9h0M421.5 77.9h0M486.9 77.9h0M524.2 77.9h0M528.4 77.9h0M131.2 77.0h0M189.7 77.0h0M215.0 77.0h0M246.0 77.0h0M323.9 77.0h0M563.8 77.0h0M668.3 77.0h0M690.3 77.0h0M703.6 77.0h0M206.8 76.2h0M332.1 76.2h0M513.4 76.2h0M527.1 76.2h0M586.7 76.2h0M653.6 76.2h0M677.8 76.2h0M687.9 76.2h0M126.3 75.4h0M278.2 75.4h0M651.3 75.4h0M212.1 74.5h0M325.3 74.5h0M326.7 74.5h0M328.9 74.5h0M417.8 74.5h0M467.3 74.5h0M511.6 74.5h0M555.5 74.5h0M635.5 74.5h0M657.8 74.5h0M186.3 73.7h0M210.6 73.7h0M252.0 73.7h0M326.0 73.7h0M333.0 73.7h0M439.2 73.7h0M460.4 73.7h0M467.8 73.7h0M613.0 73.7h0M185.3 72.9h0M245.9 72.9h0M328.0 72.9h0M328.8 72.9h0M390.8 72.9h0M406.8 72.9h0M493.4 72.9h0M599.3 72.9h0M209.2 72.0h0M245.7 72.0h0M325.4 72.0h0M329.9 72.0h0M449.5 72.0h0M478.9 72.0h0M499.2 72.0h0M694.4 72.0h0" stroke="#0d0d0d" stroke-width="2.5" stroke-linecap="round" fill="none"/><path d="M272.4 1650.6h0M519.8 1650.6h0M640.6 1650.6h0M688.7 1650.6h0M326.2 1649.8h0M326.9 1649.8h0M330.1 1649.8h0M341.3 1649.8h0M331.1 1648.9h0M370.4 1648.9h0M373.6 1648.9h0M439.9 1648.9h0M481.7 1648.9h0M485.1 1648.9h0M566.1 1648.9h0M678.7 1648.9h0M281.1 1648.1h0M300.4 1648.1h0M304.7 1648.1h0M343.2 1648.1h0M449.8 1648.1h0M473.2 1648.1h0M162.0 1647.3h0M173.9 1647.3h0M216.3 1647.3h0M277.3 1647.3h0M327.8 1647.3h0M333.8 1647.3h0M452.2 1647.3h0M533.6 1647.3h0M592.3 1647.3h0M593.8 1647.3h0M635.8 1647.3h0M115.6 1646.4h0M318.8 1646.4h0M325.5 1646.4h0M325.8 1646.4h0M373.9 1646.4h0M456.7 1646.4h0M474.5 1646.4h0M583.3 1646.4h0M624.8 1646.4h0M116.5 1645.6h0M122.9 1645.6h0M152.5 1645.6h0M193.2 1645.6h0M244.0 1645.6h0M384.1 1645.6h0M385.7 1645.6h0M405.7 1645.6h0M446.2 1645.6h0M453.5 1645.6h0M472.3 1645.6h0M317.6 1644.8h0M322.9 1644.8h0M326.1 1644.8h0M327.4 1644.8h0M328.2 1644.8h0M330.2 1644.8h0M357.1 1644.8h0M383.3 1644.8h0M408.0 1644.8h0M419.7 1644.8h0M460.9 1644.8h0M604.6 1644.8h0M621.4 1644.8h0M624.2 1644.8h0M117.9 1643.9h0M226.7 1643.9h0M293.2 1643.9h0M322.1 1643.9h0M353.6 1643.9h0M369.6 1643.9h0M374.0 1643.9h0M382.3 1643.9h0M394.9 1643.9h0M448.3 1643.9h0M475.4 1643.9h0M524.4 1643.9h0M638.3 1643.9h0M668.8 1643.9h0M685.4 1643.9h0M217.7 1643.1h0M310.5 1643.1h0M328.5 1643.1h0M355.0 1643.1h0M394.6 1643.1h0M486.8 1643.1h0M529.0 1643.1h0M646.5 1643.1h0M702.6 1643.1h0M327.2 1642.3h0M329.0 1642.3h0M332.3 1642.3h0M360.5 1642.3h0M368.8 1642.3h0M525.5 1642.3h0M577.7 1642.3h0M214.8 1641.4h0M324.2 1641.4h0M326.3 1641.4h0M349.7 1641.4h0M404.0 1641.4h0M431.6 1641.4h0M433.5 1641.4h0M438.2 1641.4h0M486.7 1641.4h0M508.1 1641.4h0M512.6 1641.4h0M695.6 1641.4h0M175.2 1640.6h0M258.3 1640.6h0M298.6 1640.6h0M325.3 1640.6h0M442.6 1640.6h0M449.0 1640.6h0M484.2 1640.6h0M494.1 1640.6h0M181.7 1639.8h0M229.3 1639.8h0M323.4 1639.8h0M327.8 1639.8h0M329.9 1639.8h0M404.8 1639.8h0M413.7 1639.8h0M470.2 1639.8h0M479.5 1639.8h0M583.6 1639.8h0M611.2 1639.8h0M649.4 1639.8h0M119.4 1638.9h0M126.0 1638.9h0M147.9 1638.9h0M250.1 1638.9h0M323.5 1638.9h0M351.7 1638.9h0M396.5 1638.9h0M426.6 1638.9h0M445.4 1638.9h0M492.0 1638.9h0M627.2 1638.9h0M158.5 1638.1h0M215.3 1638.1h0M260.5 1638.1h0M416.0 1638.1h0M441.2 1638.1h0M445.7 1638.1h0M471.5 1638.1h0M593.2 1638.1h0M702.3 1638.1h0M160.8 1637.3h0M327.3 1637.3h0M328.2 1637.3h0M433.4 1637.3h0M438.1 1637.3h0M462.3 1637.3h0M493.0 1637.3h0M503.4 1637.3h0M617.8 1637.3h0M640.5 1637.3h0M675.4 1637.3h0M686.3 1637.3h0M118.6 1636.4h0M122.8 1636.4h0M151.5 1636.4h0M265.2 1636.4h0M280.1 1636.4h0M325.5 1636.4h0M363.6 1636.4h0M398.4 1636.4h0M434.3 1636.4h0M456.0 1636.4h0M516.0 1636.4h0M615.8 1636.4h0M641.6 1636.4h0M157.4 1635.6h0M283.6 1635.6h0M300.3 1635.6h0M349.5 1635.6h0M397.1 1635.6h0M553.1 1635.6h0M679.5 1635.6h0M119.8 1634.8h0M296.5 1634.8h0M307.3 1634.8h0M349.1 1634.8h0M430.4 1634.8h0M460.8 1634.8h0M495.3 1634.8h0M496.7 1634.8h0M569.9 1634.8h0M692.0 1634.8h0M201.1 1633.9h0M235.7 1633.9h0M312.6 1633.9h0M330.2 1633.9h0M332.1 1633.9h0M359.3 1633.9h0M360.2 1633.9h0M540.0 1633.9h0M565.4 1633.9h0M585.1 1633.9h0M597.0 1633.9h0M616.4 1633.9h0M653.3 1633.9h0M699.2 1633.9h0M323.6 1633.1h0M325.8 1633.1h0M344.9 1633.1h0M347.2 1633.1h0M355.4 1633.1h0M423.7 1633.1h0M485.2 1633.1h0M533.8 1633.1h0M574.6 1633.1h0M589.6 1633.1h0M658.0 1633.1h0M688.1 1633.1h0M693.3 1633.1h0M695.2 1633.1h0M210.3 1632.3h0M272.3 1632.3h0M294.8 1632.3h0M312.1 1632.3h0M370.5 1632.3h0M375.5 1632.3h0M400.9 1632.3h0M401.8 1632.3h0M424.5 1632.3h0M432.0 1632.3h0M442.1 1632.3h0M524.0 1632.3h0M590.5 1632.3h0M687.1 1632.3h0M151.6 1631.4h0M225.3 1631.4h0M324.4 1631.4h0M326.3 1631.4h0M328.3 1631.4h0M381.9 1631.4h0M385.3 1631.4h0M417.0 1631.4h0M432.4 1631.4h0M463.8 1631.4h0M492.4 1631.4h0M580.8 1631.4h0M651.8 1631.4h0M657.0 1631.4h0M670.9 1631.4h0M686.3 1631.4h0M173.6 1630.6h0M207.7 1630.6h0M211.3 1630.6h0M240.0 1630.6h0M317.6 1630.6h0M325.9 1630.6h0M328.0 1630.6h0M457.8 1630.6h0M516.0 1630.6h0M648.3 1630.6h0M530.5 1629.8h0M590.2 1629.8h0M596.9 1629.8h0M630.0 1629.8h0M692.3 1629.8h0M176.6 1628.9h0M324.0 1628.9h0M324.9 1628.9h0M330.0 1628.9h0M464.9 1628.9h0M501.2 1628.9h0M513.8 1628.9h0M556.1 1628.9h0M602.9 1628.9h0M645.7 1628.9h0M662.9 1628.9h0M285.6 1628.1h0M323.6 1628.1h0M325.1 1628.1h0M328.6 1628.1h0M332.4 1628.1h0M356.5 1628.1h0M360.3 1628.1h0M395.5 1628.1h0M402.3 1628.1h0M412.5 1628.1h0M442.1 1628.1h0M588.4 1628.1h0M168.9 1627.3h0M196.8 1627.3h0M262.4 1627.3h0M271.2 1627.3h0M328.9 1627.3h0M355.7 1627.3h0M379.8 1627.3h0M414.7 1627.3h0M424.1 1627.3h0M424.4 1627.3h0M430.7 1627.3h0M454.8 1627.3h0M458.0 1627.3h0M483.9 1627.3h0M501.3 1627.3h0M614.9 1627.3h0M631.5 1627.3h0M131.6 1626.4h0M194.3 1626.4h0M202.1 1626.4h0M207.4 1626.4h0M322.5 1626.4h0M328.5 1626.4h0M329.1 1626.4h0M331.0 1626.4h0M361.7 1626.4h0M364.1 1626.4h0M394.6 1626.4h0M439.0 1626.4h0M445.5 1626.4h0M467.7 1626.4h0M551.6 1626.4h0M561.5 1626.4h0M579.6 1626.4h0M688.7 1626.4h0M116.1 1625.6h0M134.5 1625.6h0M135.3 1625.6h0M180.3 1625.6h0M186.6 1625.6h0M280.9 1625.6h0M327.1 1625.6h0M331.1 1625.6h0M415.0 1625.6h0M422.0 1625.6h0M451.7 1625.6h0M562.0 1625.6h0M565.7 1625.6h0M657.3 1625.6h0M174.0 1624.8h0M191.5 1624.8h0M324.5 1624.8h0M350.1 1624.8h0M361.5 1624.8h0M378.8 1624.8h0M380.3 1624.8h0M444.6 1624.8h0M635.8 1624.8h0M665.9 1624.8h0M132.7 1623.9h0M241.8 1623.9h0M255.0 1623.9h0M260.2 1623.9h0M273.5 1623.9h0M327.5 1623.9h0M365.8 1623.9h0M369.1 1623.9h0M371.7 1623.9h0M385.7 1623.9h0M414.7 1623.9h0M443.2 1623.9h0M454.1 1623.9h0M466.9 1623.9h0M531.7 1623.9h0M621.5 1623.9h0M649.4 1623.9h0M324.6 1623.1h0M329.2 1623.1h0M421.6 1623.1h0M433.0 1623.1h0M463.9 1623.1h0M493.5 1623.1h0M515.0 1623.1h0M527.5 1623.1h0M596.8 1623.1h0M208.6 1622.3h0M276.0 1622.3h0M325.5 1622.3h0M354.4 1622.3h0M375.0 1622.3h0M399.3 1622.3h0M485.4 1622.3h0M492.7 1622.3h0M578.6 1622.3h0M699.7 1622.3h0M147.3 1621.4h0M227.5 1621.4h0M273.3 1621.4h0M283.9 1621.4h0M325.9 1621.4h0M330.2 1621.4h0M386.5 1621.4h0M425.7 1621.4h0M516.6 1621.4h0M525.8 1621.4h0M554.5 1621.4h0M666.2 1621.4h0M698.1 1621.4h0M216.7 1620.6h0M296.0 1620.6h0M327.4 1620.6h0M419.1 1620.6h0M459.9 1620.6h0M235.4 1619.8h0M328.3 1619.8h0M329.3 1619.8h0M330.9 1619.8h0M332.3 1619.8h0M351.1 1619.8h0M379.2 1619.8h0M390.1 1619.8h0M479.9 1619.8h0M621.4 1619.8h0M160.5 1618.9h0M325.9 1618.9h0M386.0 1618.9h0M393.5 1618.9h0M432.9 1618.9h0M437.3 1618.9h0M445.8 1618.9h0M454.4 1618.9h0M460.3 1618.9h0M554.0 1618.9h0M166.8 1618.1h0M224.5 1618.1h0M327.2 1618.1h0M330.6 1618.1h0M331.7 1618.1h0M392.0 1618.1h0M399.5 1618.1h0M506.5 1618.1h0M117.9 1617.3h0M221.5 1617.3h0M258.6 1617.3h0M391.4 1617.3h0M409.7 1617.3h0M414.4 1617.3h0M479.7 1617.3h0M655.8 1617.3h0M679.4 1617.3h0M681.2 1617.3h0M127.9 1616.4h0M162.1 1616.4h0M200.8 1616.4h0M231.0 1616.4h0M328.3 1616.4h0M335.5 1616.4h0M392.7 1616.4h0M400.1 1616.4h0M421.6 1616.4h0M507.6 1616.4h0M561.6 1616.4h0M645.6 1616.4h0M684.9 1616.4h0M151.1 1615.6h0M192.3 1615.6h0M325.6 1615.6h0M337.6 1615.6h0M357.4 1615.6h0M359.9 1615.6h0M410.3 1615.6h0M450.3 1615.6h0M461.2 1615.6h0M496.4 1615.6h0M537.2 1615.6h0M554.0 1615.6h0M661.9 1615.6h0M688.4 1615.6h0M214.6 1614.8h0M249.2 1614.8h0M263.8 1614.8h0M266.7 1614.8h0M326.3 1614.8h0M326.8 1614.8h0M329.8 1614.8h0M414.8 1614.8h0M618.5 1614.8h0M192.4 1613.9h0M274.1 1613.9h0M282.2 1613.9h0M325.1 1613.9h0M413.6 1613.9h0M418.9 1613.9h0M419.5 1613.9h0M449.7 1613.9h0M462.0 1613.9h0M511.6 1613.9h0M625.4 1613.9h0M680.9 1613.9h0M269.9 1613.1h0M328.8 1613.1h0M397.6 1613.1h0M410.4 1613.1h0M419.4 1613.1h0M452.1 1613.1h0M471.8 1613.1h0M491.4 1613.1h0M601.4 1613.1h0M142.1 1612.3h0M272.5 1612.3h0M321.5 1612.3h0M329.1 1612.3h0M332.7 1612.3h0M347.5 1612.3h0M390.3 1612.3h0M401.0 1612.3h0M412.1 1612.3h0M419.3 1612.3h0M436.4 1612.3h0M443.1 1612.3h0M550.1 1612.3h0M590.3 1612.3h0M615.4 1612.3h0M633.3 1612.3h0M637.9 1612.3h0M319.1 1611.4h0M325.1 1611.4h0M329.6 1611.4h0M330.5 1611.4h0M361.5 1611.4h0M367.4 1611.4h0M379.6 1611.4h0M416.8 1611.4h0M422.5 1611.4h0M428.9 1611.4h0M445.9 1611.4h0M450.2 1611.4h0M596.4 1611.4h0M597.4 1611.4h0M629.9 1611.4h0M634.0 1611.4h0M649.7 1611.4h0M681.0 1611.4h0M127.5 1610.6h0M172.2 1610.6h0M225.0 1610.6h0M357.6 1610.6h0M386.4 1610.6h0M400.7 1610.6h0M428.8 1610.6h0M453.2 1610.6h0M479.0 1610.6h0M482.3 1610.6h0M492.7 1610.6h0M614.9 1610.6h0M616.9 1610.6h0M145.9 1609.8h0M325.0 1609.8h0M364.1 1609.8h0M401.3 1609.8h0M415.4 1609.8h0M501.1 1609.8h0M590.1 1609.8h0M612.1 1609.8h0M627.8 1609.8h0M116.7 1608.9h0M172.5 1608.9h0M285.6 1608.9h0M382.7 1608.9h0M417.0 1608.9h0M421.6 1608.9h0M422.5 1608.9h0M444.1 1608.9h0M449.7 1608.9h0M464.0 1608.9h0M505.4 1608.9h0M511.0 1608.9h0M544.0 1608.9h0M545.8 1608.9h0M652.8 1608.9h0M654.9 1608.9h0M279.9 1608.1h0M318.2 1608.1h0M418.2 1608.1h0M418.6 1608.1h0M483.9 1608.1h0M531.0 1608.1h0M572.9 1608.1h0M646.6 1608.1h0M653.3 1608.1h0M127.1 1607.3h0M129.9 1607.3h0M131.0 1607.3h0M176.0 1607.3h0M185.2 1607.3h0M219.0 1607.3h0M271.3 1607.3h0M297.6 1607.3h0M326.3 1607.3h0M328.8 1607.3h0M390.1 1607.3h0M450.4 1607.3h0M507.8 1607.3h0M508.9 1607.3h0M591.1 1607.3h0M620.5 1607.3h0M664.3 1607.3h0M136.1 1606.4h0M280.0 1606.4h0M327.5 1606.4h0M379.4 1606.4h0M384.1 1606.4h0M391.5 1606.4h0M466.4 1606.4h0M470.6 1606.4h0M503.1 1606.4h0M591.0 1606.4h0M642.8 1606.4h0M679.5 1606.4h0M684.7 1606.4h0M120.8 1605.6h0M169.3 1605.6h0M361.4 1605.6h0M395.0 1605.6h0M420.8 1605.6h0M443.3 1605.6h0M452.0 1605.6h0M601.4 1605.6h0M671.7 1605.6h0M697.5 1605.6h0M182.1 1604.8h0M206.9 1604.8h0M244.6 1604.8h0M273.4 1604.8h0M327.3 1604.8h0M327.7 1604.8h0M351.7 1604.8h0M375.4 1604.8h0M382.4 1604.8h0M395.1 1604.8h0M477.3 1604.8h0M522.6 1604.8h0M561.4 1604.8h0M607.1 1604.8h0M668.3 1604.8h0M680.7 1604.8h0M134.9 1603.9h0M179.3 1603.9h0M272.8 1603.9h0M309.2 1603.9h0M376.4 1603.9h0M636.1 1603.9h0M128.4 1603.1h0M287.8 1603.1h0M299.9 1603.1h0M329.0 1603.1h0M410.2 1603.1h0M413.9 1603.1h0M443.8 1603.1h0M511.2 1603.1h0M555.8 1603.1h0M580.1 1603.1h0M611.8 1603.1h0M660.8 1603.1h0M300.3 1602.3h0M327.9 1602.3h0M412.4 1602.3h0M412.7 1602.3h0M463.8 1602.3h0M477.2 1602.3h0M545.2 1602.3h0M575.2 1602.3h0M613.9 1602.3h0M615.1 1602.3h0M621.1 1602.3h0M140.5 1601.4h0M197.0 1601.4h0M218.4 1601.4h0M316.1 1601.4h0M377.5 1601.4h0M432.6 1601.4h0M625.0 1601.4h0M640.7 1601.4h0M667.5 1601.4h0M137.7 1600.6h0M201.1 1600.6h0M317.6 1600.6h0M327.2 1600.6h0M392.4 1600.6h0M424.6 1600.6h0M425.4 1600.6h0M428.6 1600.6h0M449.8 1600.6h0M462.2 1600.6h0M512.4 1600.6h0M116.0 1599.8h0M156.2 1599.8h0M179.5 1599.8h0M198.4 1599.8h0M280.3 1599.8h0M323.0 1599.8h0M326.7 1599.8h0M327.6 1599.8h0M328.8 1599.8h0M331.6 1599.8h0M407.6 1599.8h0M434.5 1599.8h0M440.1 1599.8h0M468.5 1599.8h0M593.3 1599.8h0M141.1 1598.9h0M146.1 1598.9h0M209.5 1598.9h0M377.2 1598.9h0M403.9 1598.9h0M493.8 1598.9h0M500.2 1598.9h0M527.8 1598.9h0M645.1 1598.9h0M282.7 1598.1h0M303.7 1598.1h0M431.9 1598.1h0M439.4 1598.1h0M443.9 1598.1h0M631.8 1598.1h0M694.1 1598.1h0M141.4 1597.3h0M163.7 1597.3h0M279.7 1597.3h0M318.3 1597.3h0M319.4 1597.3h0M327.4 1597.3h0M331.7 1597.3h0M361.6 1597.3h0M374.3 1597.3h0M424.4 1597.3h0M433.5 1597.3h0M444.3 1597.3h0M636.9 1597.3h0M671.8 1597.3h0M186.2 1596.4h0M238.4 1596.4h0M284.0 1596.4h0M333.1 1596.4h0M337.5 1596.4h0M370.9 1596.4h0M483.9 1596.4h0M489.7 1596.4h0M501.5 1596.4h0M512.3 1596.4h0M565.0 1596.4h0M572.0 1596.4h0M637.9 1596.4h0M140.6 1595.6h0M148.2 1595.6h0M162.9 1595.6h0M239.2 1595.6h0M240.8 1595.6h0M281.5 1595.6h0M327.3 1595.6h0M333.2 1595.6h0M355.6 1595.6h0M367.8 1595.6h0M378.1 1595.6h0M397.7 1595.6h0M422.7 1595.6h0M468.1 1595.6h0M475.5 1595.6h0M572.0 1595.6h0M625.3 1595.6h0M138.4 1594.8h0M150.9 1594.8h0M253.9 1594.8h0M258.7 1594.8h0M331.2 1594.8h0M368.6 1594.8h0M434.3 1594.8h0M443.9 1594.8h0M451.0 1594.8h0M492.3 1594.8h0M523.3 1594.8h0M618.1 1594.8h0M146.4 1593.9h0M148.5 1593.9h0M293.5 1593.9h0M328.2 1593.9h0M384.7 1593.9h0M548.5 1593.9h0M630.4 1593.9h0M654.6 1593.9h0M117.1 1593.1h0M256.1 1593.1h0M327.1 1593.1h0M328.6 1593.1h0M329.1 1593.1h0M406.2 1593.1h0M437.7 1593.1h0M446.4 1593.1h0M456.2 1593.1h0M459.2 1593.1h0M464.9 1593.1h0M470.5 1593.1h0M500.3 1593.1h0M573.2 1593.1h0M204.7 1592.3h0M257.3 1592.3h0M266.4 1592.3h0M311.7 1592.3h0M317.2 1592.3h0M329.3 1592.3h0M330.3 1592.3h0M351.2 1592.3h0M382.2 1592.3h0M392.9 1592.3h0M428.7 1592.3h0M523.7 1592.3h0M608.9 1592.3h0M613.9 1592.3h0M651.4 1592.3h0M251.6 1591.4h0M351.1 1591.4h0M368.4 1591.4h0M413.6 1591.4h0M457.6 1591.4h0M500.9 1591.4h0M519.8 1591.4h0M545.3 1591.4h0M546.6 1591.4h0M547.8 1591.4h0M555.4 1591.4h0M556.3 1591.4h0M577.4 1591.4h0M642.7 1591.4h0M658.2 1591.4h0" stroke="#143f9e" stroke-width="2.6" stroke-linecap="round" fill="none"/><line x1="283.6" y1="71.5" x2="283.6" y2="1651.0" stroke="#1ca63c" stroke-width="2.6"/><path d="M115.0 71.5V1651.0H704.6" stroke="#4a4a4a" stroke-width="1.6" fill="none"/><path d="M115.0 1651.0h16M115.0 1484.4h16M115.0 1317.8h16M115.0 1151.2h16M115.0 984.6h16M115.0 818.0h16M115.0 651.4h16M115.0 484.8h16M115.0 318.2h16M115.0 151.6h16M115.2 1651.0v-16M199.4 1651.0v-16M283.6 1651.0v-16M367.8 1651.0v-16M452.0 1651.0v-16M536.2 1651.0v-16M620.4 1651.0v-16M704.6 1651.0v-16" stroke="#4a4a4a" stroke-width="1.6" fill="none"/><g font-size="30" fill="#4b4b4b" text-anchor="end"><text transform="translate(103.2 1663.4) scale(1 1.065)">0</text><text transform="translate(103.2 1496.8) scale(1 1.065)">200</text><text transform="translate(103.2 1330.2) scale(1 1.065)">400</text><text transform="translate(103.2 1163.6) scale(1 1.065)">600</text><text transform="translate(103.2 997.0) scale(1 1.065)">800</text><text transform="translate(103.2 830.4) scale(1 1.065)">1000</text><text transform="translate(103.2 663.8) scale(1 1.065)">1200</text><text transform="translate(103.2 497.2) scale(1 1.065)">1400</text><text transform="translate(103.2 330.6) scale(1 1.065)">1600</text><text transform="translate(103.2 164.0) scale(1 1.065)">1800</text></g><g font-size="30" fill="#4b4b4b" text-anchor="middle"><text transform="translate(114.4 1692.0) scale(1 1.065)">-200</text><text transform="translate(198.6 1692.0) scale(1 1.065)">-100</text><text transform="translate(282.8 1692.0) scale(1 1.065)">0</text><text transform="translate(367.0 1692.0) scale(1 1.065)">100</text><text transform="translate(451.2 1692.0) scale(1 1.065)">200</text><text transform="translate(535.4 1692.0) scale(1 1.065)">300</text><text transform="translate(619.6 1692.0) scale(1 1.065)">400</text><text transform="translate(703.8 1692.0) scale(1 1.065)">500</text></g><text x="409.9" y="1733.3" font-size="31" fill="#1c1a1b" text-anchor="middle">Time re: stimulus onset (msec)</text><text transform="translate(22.5 861) rotate(-90)" font-size="31" fill="#1c1a1b" text-anchor="middle">Trial number</text><text transform="translate(90.16 53.20) scale(0.934 1.0)" font-size="77.5" fill="#231f20">A</text><path d="M890.1 74V367.2H1479.0" stroke="#4a4a4a" stroke-width="1.4" fill="none"/><path d="M890.1 367.2h6M890.1 293.9h6M890.1 220.6h6M890.1 147.3h6M890.1 74.0h6M890.1 367.2v-6M988.2 367.2v-6M1086.4 367.2v-6M1184.5 367.2v-6M1282.7 367.2v-6M1380.8 367.2v-6M1479.0 367.2v-6" stroke="#4a4a4a" stroke-width="1.4" fill="none"/><g font-size="28.5" fill="#4b4b4b" text-anchor="end"><text transform="translate(879.5 379.5) scale(1 1.065)">0</text><text transform="translate(879.5 306.2) scale(1 1.065)">20</text><text transform="translate(879.5 232.9) scale(1 1.065)">40</text><text transform="translate(879.5 159.6) scale(1 1.065)">60</text><text transform="translate(879.5 86.3) scale(1 1.065)">80</text></g><g font-size="28.5" fill="#4b4b4b" text-anchor="middle"><text transform="translate(890.1 407.1) scale(1 1.065)">-50</text><text transform="translate(988.2 407.1) scale(1 1.065)">0</text><text transform="translate(1086.4 407.1) scale(1 1.065)">50</text><text transform="translate(1184.5 407.1) scale(1 1.065)">100</text><text transform="translate(1282.7 407.1) scale(1 1.065)">150</text><text transform="translate(1380.8 407.1) scale(1 1.065)">200</text><text transform="translate(1479.0 407.1) scale(1 1.065)">250</text></g><text x="1184.7" y="446.5" font-size="31" fill="#1c1a1b" text-anchor="middle">Time (msec)</text><text transform="translate(795 220.5) rotate(-90)" font-size="30.6" fill="#1c1a1b" text-anchor="middle">Firing rate (sp/sec)</text><text transform="translate(863.54 53.30) scale(1.016 1.0)" font-size="77.5" fill="#231f20">B</text><text x="1184" y="39.7" font-size="28" fill="#1f4fa8">1-target, inside RF</text><text x="1184" y="72.1" font-size="28" fill="#6e0f6e">1-target, outside RF</text><text x="1184" y="103.9" font-size="28" fill="#1c1a1b">2-targets, toward RF</text><text x="1184" y="136" font-size="28" fill="#9a9a9a">2-targets, away from RF</text><path d="M889.7 328.0L894.0 306.7L896.7 309.3L898.0 307.0L902.0 314.7L904.0 311.3L906.0 315.0L910.0 308.0L912.0 312.0L915.7 305.3L919.7 313.3L923.7 306.7L929.3 318.0L931.3 314.7L936.0 323.3L941.3 316.3L945.3 322.0L947.3 318.7L950.7 318.0L958.7 331.3L966.7 338.0L971.3 330.0L974.7 320.0L977.3 326.0L983.3 318.0L986.7 310.7L996.0 327.7L1000.0 319.0L1008.0 331.0L1011.7 322.0L1013.7 325.3L1015.7 320.7L1023.3 332.7L1025.7 327.7L1035.0 339.3L1038.3 336.7L1042.3 339.3L1043.7 334.0L1048.3 332.7L1052.3 338.0L1055.7 332.7L1059.0 330.0L1065.0 337.3L1068.7 327.3L1073.7 333.3L1078.3 339.3L1082.3 342.7L1083.0 343.0L1088.0 290.0L1092.0 220.0L1095.0 160.0L1098.0 76.0L1102.0 72.0L1106.0 84.0L1110.0 104.0L1114.0 126.0L1118.0 150.0L1122.0 184.0L1128.0 212.0L1134.0 224.0L1139.0 242.0L1142.0 238.0L1146.0 246.0L1151.0 250.0L1155.0 264.0L1159.0 258.0L1163.4 230.0L1166.8 241.3L1170.2 216.4L1174.7 230.0L1178.1 196.0L1181.5 177.9L1186.1 159.7L1189.5 166.5L1192.9 177.9L1197.4 175.6L1200.8 171.1L1203.1 177.9L1205.3 171.1L1208.7 196.0L1212.1 205.1L1215.5 214.1L1218.9 202.8L1222.3 214.1L1225.7 211.9L1229.1 227.7L1232.5 241.3L1237.1 251.5L1241.6 241.3L1246.1 241.3L1250.7 245.9L1254.1 239.1L1259.7 230.0L1266.5 236.8L1269.9 225.5L1273.3 232.3L1277.9 248.1L1282.4 259.5L1286.9 270.8L1291.5 270.8L1296.0 277.6L1300.5 286.7L1306.2 298.0L1311.9 278.7L1316.4 286.7L1320.9 298.0L1325.5 279.9L1330.0 266.3L1334.5 259.5L1339.1 251.5L1343.6 254.9L1348.1 266.3L1352.7 273.1L1356.1 251.5L1359.5 259.5L1364.0 273.1L1368.5 286.7L1371.9 295.7L1375.3 286.7L1379.9 288.9L1384.4 284.4L1388.9 288.9L1393.5 295.7L1398.0 298.0L1402.5 286.7L1404.8 270.8L1409.3 270.8L1413.9 286.7L1418.4 264.0L1422.9 270.8L1427.5 277.6L1432.0 286.7L1435.4 279.9L1438.8 288.9L1445.6 284.4L1450.1 293.5L1454.7 302.5L1459.2 296.9L1463.7 300.3L1467.1 309.3L1470.5 296.9L1475.1 300.3L1478.5 298.0" stroke="#1f4fa8" stroke-width="2.8" fill="none" stroke-linejoin="round"/><path d="M889.7 326.0L892.0 326.7L894.3 315.3L902.0 328.7L904.0 324.0L910.0 332.0L914.0 316.0L923.3 331.3L925.7 327.3L929.3 332.7L932.0 327.3L934.0 329.3L935.7 318.0L945.3 333.3L947.3 322.0L950.7 320.0L958.7 332.0L961.0 320.0L971.3 334.0L988.0 350.0L990.3 350.7L992.3 344.0L1003.7 353.3L1005.7 340.0L1011.7 338.0L1016.3 343.3L1023.7 348.7L1025.7 342.7L1031.7 348.0L1033.0 335.3L1037.7 332.0L1043.0 338.7L1045.7 334.0L1057.0 344.7L1063.0 350.0L1065.7 339.3L1071.7 335.3L1074.3 331.3L1077.7 303.3L1080.3 300.7L1081.0 300.0L1084.0 250.0L1088.0 208.0L1094.0 206.0L1097.0 212.0L1100.0 203.0L1104.0 216.0L1108.0 230.0L1112.0 240.0L1116.0 252.0L1120.0 268.0L1124.0 274.0L1126.0 268.0L1130.0 282.0L1136.0 300.0L1142.0 314.0L1148.0 324.0L1152.0 326.0L1156.0 322.0L1160.0 328.0L1166.8 332.0L1173.6 334.3L1180.4 341.1L1187.2 346.7L1191.7 341.1L1196.3 343.3L1200.8 332.0L1205.3 334.3L1209.9 337.7L1214.4 336.5L1218.9 338.8L1223.5 329.7L1228.0 313.9L1232.5 313.9L1235.9 309.3L1239.3 316.1L1243.9 318.4L1247.3 313.9L1250.7 320.7L1255.2 307.1L1259.7 307.1L1264.3 300.3L1267.7 286.7L1271.1 291.2L1275.6 288.9L1280.1 286.7L1284.7 284.4L1289.2 291.2L1291.5 284.4L1296.0 293.5L1300.5 298.0L1305.1 293.5L1311.9 309.3L1314.1 304.8L1318.7 309.3L1323.2 300.3L1327.7 300.3L1332.3 307.1L1336.8 313.9L1341.3 320.7L1345.9 325.2L1350.4 311.6L1354.9 298.0L1359.5 300.3L1364.0 298.0L1368.5 300.3L1373.1 302.5L1377.6 307.1L1379.9 288.9L1384.4 295.7L1388.9 298.0L1393.5 288.9L1398.0 284.4L1403.7 279.9L1407.1 288.9L1411.6 293.5L1416.1 288.9L1420.7 295.7L1425.2 293.5L1429.7 302.5L1434.3 295.7L1438.8 300.3L1441.1 284.4L1445.6 273.1L1447.9 279.9L1452.4 275.3L1453.5 241.3L1456.9 248.1L1463.7 250.4L1471.7 254.9L1473.9 261.7L1477.3 264.0L1479.6 268.5" stroke="#6e0f6e" stroke-width="2.8" fill="none" stroke-linejoin="round"/><path d="M890.0 338.0L894.7 339.3L900.0 340.7L904.7 340.0L910.0 340.7L915.3 340.7L920.0 339.3L925.3 340.7L931.3 340.7L936.0 340.7L942.7 340.7L948.0 341.3L953.3 340.7L961.3 340.0L966.0 339.3L971.3 341.3L978.0 344.0L982.7 346.0L988.0 347.3L991.7 347.3L998.3 346.7L1007.0 344.7L1017.0 347.3L1025.0 347.3L1031.7 346.0L1038.3 346.0L1045.0 346.0L1051.7 345.3L1057.0 344.7L1063.7 342.7L1070.3 340.7L1075.7 336.7L1081.0 327.3L1084.0 300.0L1088.0 250.0L1092.0 210.0L1095.0 180.0L1098.0 172.0L1101.0 170.0L1104.0 176.0L1108.0 190.0L1114.0 212.0L1120.0 232.0L1126.0 252.0L1132.0 272.0L1138.0 288.0L1144.0 300.0L1150.0 310.0L1156.0 316.0L1166.8 322.9L1173.6 325.2L1180.4 325.2L1184.9 321.8L1191.7 325.2L1198.5 329.7L1205.3 334.3L1214.4 339.9L1223.5 344.5L1232.5 347.9L1241.6 351.3L1250.7 352.4L1259.7 350.1L1271.1 349.0L1280.1 345.6L1289.2 342.2L1298.3 337.7L1307.3 332.0L1316.4 327.5L1325.5 320.7L1332.3 316.1L1341.3 316.1L1350.4 311.6L1359.5 309.3L1368.5 309.3L1377.6 307.1L1386.7 307.1L1395.7 304.8L1404.8 300.3L1413.9 299.1L1422.9 298.0L1432.0 296.9L1441.1 293.5L1450.1 295.7L1459.2 294.6L1468.3 298.0L1478.5 300.3" stroke="#1c1c1c" stroke-width="2.8" fill="none" stroke-linejoin="round"/><path d="M890.0 341.3L894.7 339.3L900.0 339.3L908.0 341.3L916.0 342.7L920.0 340.7L928.0 343.3L941.3 343.3L948.0 342.7L958.0 343.3L964.7 343.3L971.3 344.7L978.0 346.0L988.0 345.3L991.7 344.0L998.3 344.0L1007.0 342.0L1018.3 342.0L1028.3 343.3L1038.3 343.3L1048.3 344.0L1053.7 345.3L1058.3 348.0L1065.0 348.0L1070.3 345.3L1075.0 339.3L1079.7 326.7L1082.0 320.0L1086.0 290.0L1090.0 240.0L1094.0 196.0L1098.0 170.0L1102.0 164.0L1106.0 172.0L1110.0 188.0L1116.0 208.0L1122.0 232.0L1128.0 252.0L1134.0 270.0L1140.0 286.0L1146.0 300.0L1152.0 310.0L1160.0 320.0L1171.3 325.2L1182.7 334.3L1194.0 342.2L1205.3 350.1L1214.4 354.7L1223.5 356.9L1232.5 356.9L1241.6 358.1L1250.7 358.1L1259.7 358.1L1268.8 359.2L1273.3 359.2L1282.4 356.9L1291.5 355.8L1300.5 354.7L1307.3 350.1L1318.7 350.1L1330.0 347.9L1341.3 347.9L1352.7 346.7L1364.0 346.7L1375.3 347.9L1382.1 349.0L1391.2 345.6L1400.3 341.1L1409.3 335.4L1418.4 332.0L1427.5 329.7L1436.5 327.5L1443.3 324.1L1452.4 320.7L1459.2 321.8L1468.3 325.2L1478.5 327.5" stroke="#9a9a9c" stroke-width="2.8" fill="none" stroke-linejoin="round"/><path d="M890.3 495.3V791.5H1478.9" stroke="#4a4a4a" stroke-width="1.4" fill="none"/><path d="M890.3 775.5h6M890.3 639.5h6M890.3 503.6h6M890.3 791.5v-6M988.4 791.5v-6M1086.5 791.5v-6M1184.6 791.5v-6M1282.7 791.5v-6M1380.8 791.5v-6M1478.9 791.5v-6" stroke="#4a4a4a" stroke-width="1.4" fill="none"/><g font-size="28.5" fill="#4b4b4b" text-anchor="end"><text transform="translate(880 787.5) scale(1 1.065)">-0.5</text><text transform="translate(880 651.5) scale(1 1.065)">0</text><text transform="translate(880 515.5) scale(1 1.065)">0.5</text></g><g font-size="28.5" fill="#4b4b4b" text-anchor="middle"><text transform="translate(890.3 830.5) scale(1 1.065)">2</text><text transform="translate(988.4 830.5) scale(1 1.065)">4</text><text transform="translate(1086.5 830.5) scale(1 1.065)">6</text><text transform="translate(1184.6 830.5) scale(1 1.065)">8</text><text transform="translate(1282.7 830.5) scale(1 1.065)">10</text><text transform="translate(1380.8 830.5) scale(1 1.065)">12</text><text transform="translate(1478.9 830.5) scale(1 1.065)">14</text></g><text x="1184.7" y="870" font-size="31" fill="#1c1a1b" text-anchor="middle">Joint rank</text><text transform="translate(795.5 643.4) rotate(-90)" font-size="30" fill="#1c1a1b" text-anchor="middle">z(Firing rate) (sp/sec)</text><text transform="translate(861.41 477.90) scale(0.962 1.03)" font-size="77.5" fill="#231f20">C</text><line x1="890.3" y1="639.5" x2="1473.9" y2="639.5" stroke="#231f20" stroke-width="1.5" stroke-dasharray="23.3 14.05"/><path d="M939.3 528.0L988.4 498.2L1037.5 593.2L1086.5 639.5L1135.5 634.1L1184.6 608.5L1233.7 703.7L1282.7 666.7L1331.8 713.5L1380.8 788.5L1429.8 673.6" stroke="#1a1a1a" stroke-width="1.4" fill="none"/><circle cx="939.3" cy="528.0" r="7.7" fill="#1b7d35" stroke="#1a1a1a" stroke-width="2.1"/><circle cx="988.4" cy="498.2" r="7.7" fill="#1b7d35" stroke="#1a1a1a" stroke-width="2.1"/><circle cx="1037.5" cy="593.2" r="7.7" fill="#1b7d35" stroke="#1a1a1a" stroke-width="2.1"/><circle cx="1086.5" cy="639.5" r="7.7" fill="#1b7d35" stroke="#1a1a1a" stroke-width="2.1"/><circle cx="1135.5" cy="634.1" r="7.7" fill="#1b7d35" stroke="#1a1a1a" stroke-width="2.1"/><circle cx="1184.6" cy="608.5" r="7.7" fill="#1b7d35" stroke="#1a1a1a" stroke-width="2.1"/><circle cx="1233.7" cy="703.7" r="7.7" fill="#1b7d35" stroke="#1a1a1a" stroke-width="2.1"/><circle cx="1282.7" cy="666.7" r="7.7" fill="#1b7d35" stroke="#1a1a1a" stroke-width="2.1"/><circle cx="1331.8" cy="713.5" r="7.7" fill="#1b7d35" stroke="#1a1a1a" stroke-width="2.1"/><circle cx="1380.8" cy="788.5" r="7.7" fill="#1b7d35" stroke="#1a1a1a" stroke-width="2.1"/><circle cx="1429.8" cy="673.6" r="7.7" fill="#1b7d35" stroke="#1a1a1a" stroke-width="2.1"/><path d="M890.3 919V1215.1H1478.9" stroke="#4a4a4a" stroke-width="1.4" fill="none"/><path d="M890.3 1185.4h6M890.3 1127.7h6M890.3 1070.0h6M890.3 1012.3h6M890.3 954.6h6M890.3 1215.1v-6M974.4 1215.1v-6M1058.5 1215.1v-6M1142.6 1215.1v-6M1226.6 1215.1v-6M1310.7 1215.1v-6M1394.8 1215.1v-6M1478.9 1215.1v-6" stroke="#4a4a4a" stroke-width="1.4" fill="none"/><g font-size="28.5" fill="#4b4b4b" text-anchor="end"><text transform="translate(880 1197.4) scale(1 1.065)">-0.1</text><text transform="translate(880 1139.7) scale(1 1.065)">0</text><text transform="translate(880 1082.0) scale(1 1.065)">0.1</text><text transform="translate(880 1024.3) scale(1 1.065)">0.2</text><text transform="translate(880 966.6) scale(1 1.065)">0.3</text></g><g font-size="28.5" fill="#4b4b4b" text-anchor="middle"><text transform="translate(890.3 1254.1) scale(1 1.065)">0</text><text transform="translate(974.4 1254.1) scale(1 1.065)">1</text><text transform="translate(1058.5 1254.1) scale(1 1.065)">2</text><text transform="translate(1142.6 1254.1) scale(1 1.065)">3</text><text transform="translate(1226.6 1254.1) scale(1 1.065)">4</text><text transform="translate(1310.7 1254.1) scale(1 1.065)">5</text><text transform="translate(1394.8 1254.1) scale(1 1.065)">6</text><text transform="translate(1478.9 1254.1) scale(1 1.065)">7</text></g><text x="1184.7" y="1296" font-size="31" fill="#1c1a1b" text-anchor="middle">Symbolic distance</text><text transform="translate(795.5 1067.0) rotate(-90)" font-size="30" fill="#1c1a1b" text-anchor="middle">z(Firing rate) (sp/sec)</text><text transform="translate(862.04 900.80) scale(0.954 1.0)" font-size="77.5" fill="#231f20">D</text><line x1="890.3" y1="1127.7" x2="1473.9" y2="1127.7" stroke="#231f20" stroke-width="1.5" stroke-dasharray="23.3 14.05"/><path d="M974.4 1164.6L1058.5 1209.1L1142.6 1192.3L1226.6 1040.0L1310.7 1051.0L1394.8 925.2" stroke="#1a1a1a" stroke-width="1.4" fill="none"/><circle cx="974.4" cy="1164.6" r="7.7" fill="#a3a927" stroke="#1a1a1a" stroke-width="2.1"/><circle cx="1058.5" cy="1209.1" r="7.7" fill="#a3a927" stroke="#1a1a1a" stroke-width="2.1"/><circle cx="1142.6" cy="1192.3" r="7.7" fill="#a3a927" stroke="#1a1a1a" stroke-width="2.1"/><circle cx="1226.6" cy="1040.0" r="7.7" fill="#a3a927" stroke="#1a1a1a" stroke-width="2.1"/><circle cx="1310.7" cy="1051.0" r="7.7" fill="#a3a927" stroke="#1a1a1a" stroke-width="2.1"/><circle cx="1394.8" cy="925.2" r="7.7" fill="#a3a927" stroke="#1a1a1a" stroke-width="2.1"/><path d="M890.3 1345.6V1638.7H1478.9" stroke="#4a4a4a" stroke-width="1.4" fill="none"/><path d="M890.3 1570.9h6M890.3 1492.1h6M890.3 1413.3h6M890.3 1638.7v-6M963.9 1638.7v-6M1037.5 1638.7v-6M1111.0 1638.7v-6M1184.6 1638.7v-6M1258.2 1638.7v-6M1331.8 1638.7v-6M1405.3 1638.7v-6M1478.9 1638.7v-6" stroke="#4a4a4a" stroke-width="1.4" fill="none"/><g font-size="28.5" fill="#4b4b4b" text-anchor="end"><text transform="translate(880 1582.9) scale(1 1.065)">-2</text><text transform="translate(880 1504.1) scale(1 1.065)">0</text><text transform="translate(880 1425.3) scale(1 1.065)">2</text></g><g font-size="28.5" fill="#4b4b4b" text-anchor="middle"><text transform="translate(890.3 1677.7) scale(1 1.065)">0</text><text transform="translate(963.9 1677.7) scale(1 1.065)">1</text><text transform="translate(1037.5 1677.7) scale(1 1.065)">2</text><text transform="translate(1111.0 1677.7) scale(1 1.065)">3</text><text transform="translate(1184.6 1677.7) scale(1 1.065)">4</text><text transform="translate(1258.2 1677.7) scale(1 1.065)">5</text><text transform="translate(1331.8 1677.7) scale(1 1.065)">6</text><text transform="translate(1405.3 1677.7) scale(1 1.065)">7</text><text transform="translate(1478.9 1677.7) scale(1 1.065)">8</text></g><text x="1184.7" y="1718" font-size="31" fill="#1c1a1b" text-anchor="middle">Ordinal position</text><text transform="translate(795.5 1492.2) rotate(-90)" font-size="30" fill="#1c1a1b" text-anchor="middle">z(Firing rate) (sp/sec)</text><text transform="translate(864.79 1326.80) scale(0.945 1.0)" font-size="77.5" fill="#231f20">E</text><line x1="890.3" y1="1492.1" x2="1473.9" y2="1492.1" stroke="#231f20" stroke-width="1.5" stroke-dasharray="23.3 14.05"/><path d="M963.9 1374.0L1037.5 1359.0L1111.0 1386.5L1184.6 1407.5L1258.2 1399.0L1331.8 1374.6L1405.3 1366.5" stroke="#231f20" stroke-width="2.6" fill="none" stroke-dasharray="23.3 14.05" stroke-dashoffset="0.25"/><line x1="963.9" y1="1364.0" x2="963.9" y2="1384.0" stroke="#231f20" stroke-width="5.2"/><circle cx="963.9" cy="1374.0" r="8.8" fill="#231f20"/><line x1="1037.5" y1="1351.0" x2="1037.5" y2="1367.0" stroke="#231f20" stroke-width="5.2"/><circle cx="1037.5" cy="1359.0" r="8.8" fill="#231f20"/><line x1="1111.0" y1="1376.5" x2="1111.0" y2="1396.5" stroke="#231f20" stroke-width="5.2"/><circle cx="1111.0" cy="1386.5" r="8.8" fill="#231f20"/><line x1="1184.6" y1="1399.5" x2="1184.6" y2="1415.5" stroke="#231f20" stroke-width="5.2"/><circle cx="1184.6" cy="1407.5" r="8.8" fill="#231f20"/><line x1="1258.2" y1="1391.0" x2="1258.2" y2="1407.0" stroke="#231f20" stroke-width="5.2"/><circle cx="1258.2" cy="1399.0" r="8.8" fill="#231f20"/><line x1="1331.8" y1="1366.6" x2="1331.8" y2="1382.6" stroke="#231f20" stroke-width="5.2"/><circle cx="1331.8" cy="1374.6" r="8.8" fill="#231f20"/><line x1="1405.3" y1="1359.5" x2="1405.3" y2="1373.5" stroke="#231f20" stroke-width="5.2"/><circle cx="1405.3" cy="1366.5" r="8.8" fill="#231f20"/><path d="M963.9 1463.3L1037.5 1497.2L1111.0 1467.7L1184.6 1507.1L1258.2 1496.8L1331.8 1479.9L1405.3 1493.3" stroke="#231f20" stroke-width="2.7" fill="none"/><circle cx="963.9" cy="1463.3" r="7.7" fill="#2c47a0" stroke="#231f20" stroke-width="2"/><circle cx="1037.5" cy="1497.2" r="7.7" fill="#2c47a0" stroke="#231f20" stroke-width="2"/><circle cx="1111.0" cy="1467.7" r="7.7" fill="#2c47a0" stroke="#231f20" stroke-width="2"/><circle cx="1184.6" cy="1507.1" r="7.7" fill="#2c47a0" stroke="#231f20" stroke-width="2"/><circle cx="1258.2" cy="1496.8" r="7.7" fill="#2c47a0" stroke="#231f20" stroke-width="2"/><circle cx="1331.8" cy="1479.9" r="7.7" fill="#2c47a0" stroke="#231f20" stroke-width="2"/><circle cx="1405.3" cy="1493.3" r="7.7" fill="#2c47a0" stroke="#231f20" stroke-width="2"/><path d="M963.9 1499.2L1037.5 1501.9L1111.0 1496.8L1184.6 1493.3L1258.2 1496.8L1331.8 1475.6L1405.3 1486.6" stroke="#231f20" stroke-width="2.7" fill="none"/><circle cx="963.9" cy="1499.2" r="7.7" fill="#ea2a3c" stroke="#231f20" stroke-width="2"/><circle cx="1037.5" cy="1501.9" r="7.7" fill="#ea2a3c" stroke="#231f20" stroke-width="2"/><circle cx="1111.0" cy="1496.8" r="7.7" fill="#ea2a3c" stroke="#231f20" stroke-width="2"/><circle cx="1184.6" cy="1493.3" r="7.7" fill="#ea2a3c" stroke="#231f20" stroke-width="2"/><circle cx="1258.2" cy="1496.8" r="7.7" fill="#ea2a3c" stroke="#231f20" stroke-width="2"/><circle cx="1331.8" cy="1475.6" r="7.7" fill="#ea2a3c" stroke="#231f20" stroke-width="2"/><circle cx="1405.3" cy="1486.6" r="7.7" fill="#ea2a3c" stroke="#231f20" stroke-width="2"/><text x="1258" y="1549" font-size="28" fill="#1a1a1a">single target</text><text x="1258" y="1581" font-size="28" fill="#2c47a0">choice, early</text><text x="1258" y="1613" font-size="28" fill="#ea2a3c">choice, late</text></svg>
</body></html>
